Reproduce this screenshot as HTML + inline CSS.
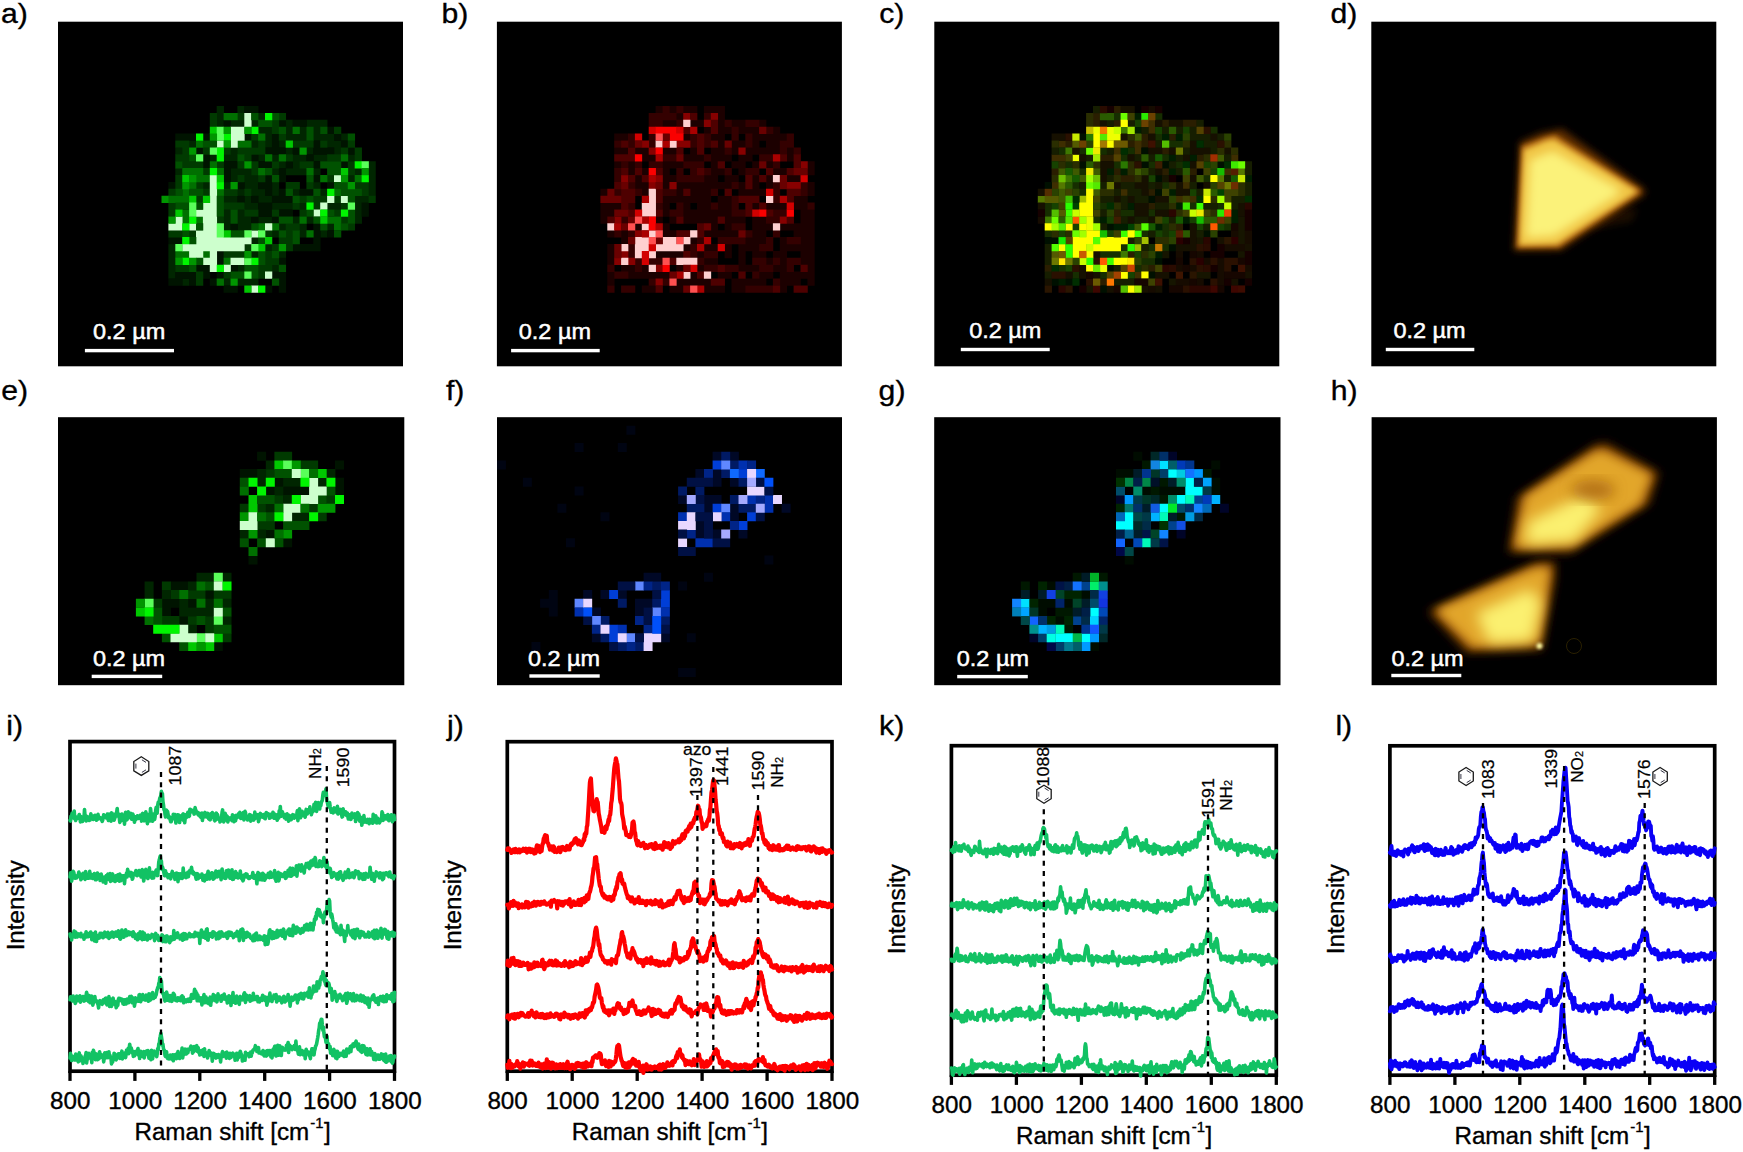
<!DOCTYPE html>
<html><head><meta charset="utf-8"><title>Figure</title>
<style>html,body{margin:0;padding:0;background:#fff}svg{display:block}</style></head>
<body>
<svg width="1743" height="1152" viewBox="0 0 1743 1152" font-family="'Liberation Sans', sans-serif">
<rect width="1743" height="1152" fill="#fff"/>
<defs>
<filter id="b1_5" x="-30%" y="-30%" width="160%" height="160%"><feGaussianBlur stdDeviation="1.5"/></filter>
<filter id="b2_5" x="-30%" y="-30%" width="160%" height="160%"><feGaussianBlur stdDeviation="2.5"/></filter>
<filter id="b3_5" x="-30%" y="-30%" width="160%" height="160%"><feGaussianBlur stdDeviation="3.5"/></filter>
<filter id="b5" x="-30%" y="-30%" width="160%" height="160%"><feGaussianBlur stdDeviation="5"/></filter>
<filter id="b7" x="-30%" y="-30%" width="160%" height="160%"><feGaussianBlur stdDeviation="7"/></filter>
</defs>
<rect x="58.0" y="21.7" width="345.0" height="344.6" fill="#000"/>
<rect x="496.9" y="21.7" width="345.0" height="344.6" fill="#000"/>
<rect x="934.3" y="21.7" width="345.0" height="344.6" fill="#000"/>
<rect x="1371.3" y="21.7" width="345.0" height="344.6" fill="#000"/>
<rect x="58.0" y="417.2" width="346.3" height="268.0" fill="#000"/>
<rect x="497.0" y="417.2" width="345.0" height="268.0" fill="#000"/>
<rect x="934.2" y="417.2" width="346.3" height="268.0" fill="#000"/>
<rect x="1371.6" y="417.2" width="345.3" height="268.0" fill="#000"/>
<path fill="#002600" d="M168.4 244.0h7.25v7.25h-7.25zM168.4 250.9h7.25v7.25h-7.25zM168.4 257.8h7.25v7.25h-7.25zM168.4 264.7h7.25v7.25h-7.25zM168.4 271.6h7.25v7.25h-7.25zM175.3 147.4h7.25v7.25h-7.25zM175.3 168.1h7.25v7.25h-7.25zM182.2 278.5h7.25v7.25h-7.25zM189.1 140.5h7.25v7.25h-7.25zM202.9 181.9h7.25v7.25h-7.25zM209.8 154.3h7.25v7.25h-7.25zM216.7 106.0h7.25v7.25h-7.25zM216.7 112.9h7.25v7.25h-7.25zM216.7 119.8h7.25v7.25h-7.25zM223.6 154.3h7.25v7.25h-7.25zM223.6 181.9h7.25v7.25h-7.25zM223.6 195.7h7.25v7.25h-7.25zM223.6 209.5h7.25v7.25h-7.25zM223.6 216.4h7.25v7.25h-7.25zM223.6 223.3h7.25v7.25h-7.25zM223.6 278.5h7.25v7.25h-7.25zM230.5 119.8h7.25v7.25h-7.25zM230.5 147.4h7.25v7.25h-7.25zM230.5 154.3h7.25v7.25h-7.25zM230.5 168.1h7.25v7.25h-7.25zM230.5 175.0h7.25v7.25h-7.25zM230.5 195.7h7.25v7.25h-7.25zM237.4 106.0h7.25v7.25h-7.25zM237.4 119.8h7.25v7.25h-7.25zM237.4 168.1h7.25v7.25h-7.25zM237.4 188.8h7.25v7.25h-7.25zM237.4 209.5h7.25v7.25h-7.25zM237.4 216.4h7.25v7.25h-7.25zM237.4 223.3h7.25v7.25h-7.25zM237.4 264.7h7.25v7.25h-7.25zM237.4 278.5h7.25v7.25h-7.25zM244.3 168.1h7.25v7.25h-7.25zM244.3 175.0h7.25v7.25h-7.25zM244.3 181.9h7.25v7.25h-7.25zM244.3 195.7h7.25v7.25h-7.25zM244.3 202.6h7.25v7.25h-7.25zM244.3 216.4h7.25v7.25h-7.25zM244.3 223.3h7.25v7.25h-7.25zM244.3 278.5h7.25v7.25h-7.25zM251.2 119.8h7.25v7.25h-7.25zM251.2 140.5h7.25v7.25h-7.25zM251.2 175.0h7.25v7.25h-7.25zM251.2 181.9h7.25v7.25h-7.25zM251.2 188.8h7.25v7.25h-7.25zM251.2 202.6h7.25v7.25h-7.25zM251.2 237.1h7.25v7.25h-7.25zM251.2 250.9h7.25v7.25h-7.25zM251.2 278.5h7.25v7.25h-7.25zM258.1 112.9h7.25v7.25h-7.25zM258.1 126.7h7.25v7.25h-7.25zM258.1 154.3h7.25v7.25h-7.25zM258.1 188.8h7.25v7.25h-7.25zM258.1 195.7h7.25v7.25h-7.25zM258.1 216.4h7.25v7.25h-7.25zM265.0 126.7h7.25v7.25h-7.25zM265.0 133.6h7.25v7.25h-7.25zM265.0 140.5h7.25v7.25h-7.25zM265.0 195.7h7.25v7.25h-7.25zM265.0 216.4h7.25v7.25h-7.25zM265.0 244.0h7.25v7.25h-7.25zM271.9 154.3h7.25v7.25h-7.25zM271.9 168.1h7.25v7.25h-7.25zM271.9 181.9h7.25v7.25h-7.25zM271.9 188.8h7.25v7.25h-7.25zM271.9 202.6h7.25v7.25h-7.25zM271.9 230.2h7.25v7.25h-7.25zM271.9 264.7h7.25v7.25h-7.25zM278.8 140.5h7.25v7.25h-7.25zM278.8 161.2h7.25v7.25h-7.25zM278.8 202.6h7.25v7.25h-7.25zM278.8 223.3h7.25v7.25h-7.25zM278.8 250.9h7.25v7.25h-7.25zM285.7 119.8h7.25v7.25h-7.25zM285.7 126.7h7.25v7.25h-7.25zM285.7 133.6h7.25v7.25h-7.25zM285.7 147.4h7.25v7.25h-7.25zM285.7 168.1h7.25v7.25h-7.25zM285.7 202.6h7.25v7.25h-7.25zM292.6 133.6h7.25v7.25h-7.25zM292.6 154.3h7.25v7.25h-7.25zM292.6 161.2h7.25v7.25h-7.25zM292.6 168.1h7.25v7.25h-7.25zM292.6 188.8h7.25v7.25h-7.25zM292.6 216.4h7.25v7.25h-7.25zM299.5 126.7h7.25v7.25h-7.25zM299.5 133.6h7.25v7.25h-7.25zM299.5 154.3h7.25v7.25h-7.25zM299.5 168.1h7.25v7.25h-7.25zM299.5 202.6h7.25v7.25h-7.25zM299.5 223.3h7.25v7.25h-7.25zM299.5 230.2h7.25v7.25h-7.25zM306.4 119.8h7.25v7.25h-7.25zM306.4 147.4h7.25v7.25h-7.25zM306.4 216.4h7.25v7.25h-7.25zM313.3 119.8h7.25v7.25h-7.25zM313.3 126.7h7.25v7.25h-7.25zM313.3 133.6h7.25v7.25h-7.25zM313.3 154.3h7.25v7.25h-7.25zM313.3 168.1h7.25v7.25h-7.25zM313.3 181.9h7.25v7.25h-7.25zM320.2 119.8h7.25v7.25h-7.25zM320.2 133.6h7.25v7.25h-7.25zM320.2 154.3h7.25v7.25h-7.25zM320.2 188.8h7.25v7.25h-7.25zM320.2 230.2h7.25v7.25h-7.25zM327.1 133.6h7.25v7.25h-7.25zM327.1 140.5h7.25v7.25h-7.25zM327.1 202.6h7.25v7.25h-7.25zM327.1 223.3h7.25v7.25h-7.25zM334.0 140.5h7.25v7.25h-7.25zM334.0 147.4h7.25v7.25h-7.25zM334.0 202.6h7.25v7.25h-7.25zM340.9 133.6h7.25v7.25h-7.25zM347.8 154.3h7.25v7.25h-7.25zM347.8 175.0h7.25v7.25h-7.25zM354.7 168.1h7.25v7.25h-7.25zM354.7 195.7h7.25v7.25h-7.25zM354.7 202.6h7.25v7.25h-7.25zM354.7 209.5h7.25v7.25h-7.25zM354.7 216.4h7.25v7.25h-7.25zM361.6 195.7h7.25v7.25h-7.25zM368.5 161.2h7.25v7.25h-7.25zM368.5 168.1h7.25v7.25h-7.25zM368.5 175.0h7.25v7.25h-7.25zM368.5 181.9h7.25v7.25h-7.25zM368.5 188.8h7.25v7.25h-7.25z"/>
<path fill="#001400" d="M168.4 181.9h7.25v7.25h-7.25zM168.4 237.1h7.25v7.25h-7.25zM168.4 278.5h7.25v7.25h-7.25zM175.3 133.6h7.25v7.25h-7.25zM175.3 237.1h7.25v7.25h-7.25zM175.3 271.6h7.25v7.25h-7.25zM175.3 278.5h7.25v7.25h-7.25zM182.2 133.6h7.25v7.25h-7.25zM182.2 271.6h7.25v7.25h-7.25zM189.1 133.6h7.25v7.25h-7.25zM189.1 271.6h7.25v7.25h-7.25zM189.1 278.5h7.25v7.25h-7.25zM196.0 147.4h7.25v7.25h-7.25zM196.0 264.7h7.25v7.25h-7.25zM202.9 133.6h7.25v7.25h-7.25zM202.9 154.3h7.25v7.25h-7.25zM202.9 161.2h7.25v7.25h-7.25zM202.9 264.7h7.25v7.25h-7.25zM202.9 271.6h7.25v7.25h-7.25zM209.8 278.5h7.25v7.25h-7.25zM216.7 250.9h7.25v7.25h-7.25zM216.7 257.8h7.25v7.25h-7.25zM216.7 271.6h7.25v7.25h-7.25zM223.6 119.8h7.25v7.25h-7.25zM223.6 161.2h7.25v7.25h-7.25zM223.6 168.1h7.25v7.25h-7.25zM223.6 175.0h7.25v7.25h-7.25zM223.6 285.4h7.25v7.25h-7.25zM230.5 161.2h7.25v7.25h-7.25zM230.5 223.3h7.25v7.25h-7.25zM230.5 264.7h7.25v7.25h-7.25zM230.5 285.4h7.25v7.25h-7.25zM237.4 181.9h7.25v7.25h-7.25zM237.4 195.7h7.25v7.25h-7.25zM244.3 106.0h7.25v7.25h-7.25zM244.3 133.6h7.25v7.25h-7.25zM251.2 106.0h7.25v7.25h-7.25zM251.2 154.3h7.25v7.25h-7.25zM251.2 195.7h7.25v7.25h-7.25zM251.2 216.4h7.25v7.25h-7.25zM258.1 161.2h7.25v7.25h-7.25zM258.1 181.9h7.25v7.25h-7.25zM258.1 202.6h7.25v7.25h-7.25zM258.1 209.5h7.25v7.25h-7.25zM265.0 147.4h7.25v7.25h-7.25zM265.0 161.2h7.25v7.25h-7.25zM265.0 175.0h7.25v7.25h-7.25zM265.0 181.9h7.25v7.25h-7.25zM265.0 188.8h7.25v7.25h-7.25zM265.0 202.6h7.25v7.25h-7.25zM265.0 209.5h7.25v7.25h-7.25zM265.0 285.4h7.25v7.25h-7.25zM271.9 133.6h7.25v7.25h-7.25zM271.9 140.5h7.25v7.25h-7.25zM271.9 147.4h7.25v7.25h-7.25zM271.9 195.7h7.25v7.25h-7.25zM271.9 216.4h7.25v7.25h-7.25zM271.9 271.6h7.25v7.25h-7.25zM278.8 119.8h7.25v7.25h-7.25zM278.8 147.4h7.25v7.25h-7.25zM278.8 168.1h7.25v7.25h-7.25zM278.8 175.0h7.25v7.25h-7.25zM278.8 188.8h7.25v7.25h-7.25zM278.8 195.7h7.25v7.25h-7.25zM278.8 209.5h7.25v7.25h-7.25zM278.8 257.8h7.25v7.25h-7.25zM278.8 271.6h7.25v7.25h-7.25zM278.8 278.5h7.25v7.25h-7.25zM278.8 285.4h7.25v7.25h-7.25zM285.7 161.2h7.25v7.25h-7.25zM285.7 195.7h7.25v7.25h-7.25zM285.7 209.5h7.25v7.25h-7.25zM292.6 119.8h7.25v7.25h-7.25zM292.6 147.4h7.25v7.25h-7.25zM292.6 244.0h7.25v7.25h-7.25zM299.5 119.8h7.25v7.25h-7.25zM299.5 188.8h7.25v7.25h-7.25zM299.5 244.0h7.25v7.25h-7.25zM306.4 154.3h7.25v7.25h-7.25zM306.4 188.8h7.25v7.25h-7.25zM306.4 244.0h7.25v7.25h-7.25zM313.3 140.5h7.25v7.25h-7.25zM313.3 147.4h7.25v7.25h-7.25zM313.3 161.2h7.25v7.25h-7.25zM313.3 175.0h7.25v7.25h-7.25zM313.3 223.3h7.25v7.25h-7.25zM313.3 230.2h7.25v7.25h-7.25zM313.3 237.1h7.25v7.25h-7.25zM313.3 244.0h7.25v7.25h-7.25zM320.2 147.4h7.25v7.25h-7.25zM327.1 126.7h7.25v7.25h-7.25zM327.1 147.4h7.25v7.25h-7.25zM327.1 181.9h7.25v7.25h-7.25zM327.1 230.2h7.25v7.25h-7.25zM334.0 133.6h7.25v7.25h-7.25zM340.9 140.5h7.25v7.25h-7.25zM340.9 161.2h7.25v7.25h-7.25zM347.8 147.4h7.25v7.25h-7.25zM361.6 202.6h7.25v7.25h-7.25zM361.6 209.5h7.25v7.25h-7.25z"/>
<path fill="#003a00" d="M168.4 188.8h7.25v7.25h-7.25zM168.4 202.6h7.25v7.25h-7.25zM168.4 209.5h7.25v7.25h-7.25zM168.4 230.2h7.25v7.25h-7.25zM175.3 140.5h7.25v7.25h-7.25zM175.3 154.3h7.25v7.25h-7.25zM175.3 175.0h7.25v7.25h-7.25zM175.3 181.9h7.25v7.25h-7.25zM175.3 230.2h7.25v7.25h-7.25zM175.3 264.7h7.25v7.25h-7.25zM182.2 140.5h7.25v7.25h-7.25zM182.2 147.4h7.25v7.25h-7.25zM182.2 154.3h7.25v7.25h-7.25zM182.2 161.2h7.25v7.25h-7.25zM182.2 264.7h7.25v7.25h-7.25zM189.1 161.2h7.25v7.25h-7.25zM189.1 230.2h7.25v7.25h-7.25zM196.0 161.2h7.25v7.25h-7.25zM196.0 181.9h7.25v7.25h-7.25zM196.0 195.7h7.25v7.25h-7.25zM196.0 271.6h7.25v7.25h-7.25zM196.0 278.5h7.25v7.25h-7.25zM202.9 147.4h7.25v7.25h-7.25zM202.9 168.1h7.25v7.25h-7.25zM202.9 188.8h7.25v7.25h-7.25zM209.8 112.9h7.25v7.25h-7.25zM209.8 119.8h7.25v7.25h-7.25zM216.7 161.2h7.25v7.25h-7.25zM216.7 216.4h7.25v7.25h-7.25zM223.6 147.4h7.25v7.25h-7.25zM223.6 188.8h7.25v7.25h-7.25zM223.6 202.6h7.25v7.25h-7.25zM223.6 250.9h7.25v7.25h-7.25zM223.6 271.6h7.25v7.25h-7.25zM230.5 188.8h7.25v7.25h-7.25zM230.5 202.6h7.25v7.25h-7.25zM230.5 250.9h7.25v7.25h-7.25zM237.4 112.9h7.25v7.25h-7.25zM237.4 147.4h7.25v7.25h-7.25zM237.4 161.2h7.25v7.25h-7.25zM237.4 175.0h7.25v7.25h-7.25zM237.4 202.6h7.25v7.25h-7.25zM237.4 250.9h7.25v7.25h-7.25zM244.3 147.4h7.25v7.25h-7.25zM244.3 154.3h7.25v7.25h-7.25zM244.3 188.8h7.25v7.25h-7.25zM244.3 209.5h7.25v7.25h-7.25zM244.3 244.0h7.25v7.25h-7.25zM251.2 133.6h7.25v7.25h-7.25zM251.2 147.4h7.25v7.25h-7.25zM251.2 161.2h7.25v7.25h-7.25zM251.2 168.1h7.25v7.25h-7.25zM251.2 209.5h7.25v7.25h-7.25zM258.1 140.5h7.25v7.25h-7.25zM258.1 147.4h7.25v7.25h-7.25zM258.1 175.0h7.25v7.25h-7.25zM258.1 264.7h7.25v7.25h-7.25zM258.1 271.6h7.25v7.25h-7.25zM265.0 230.2h7.25v7.25h-7.25zM265.0 250.9h7.25v7.25h-7.25zM265.0 257.8h7.25v7.25h-7.25zM265.0 264.7h7.25v7.25h-7.25zM271.9 119.8h7.25v7.25h-7.25zM271.9 126.7h7.25v7.25h-7.25zM271.9 161.2h7.25v7.25h-7.25zM271.9 209.5h7.25v7.25h-7.25zM271.9 244.0h7.25v7.25h-7.25zM271.9 257.8h7.25v7.25h-7.25zM278.8 112.9h7.25v7.25h-7.25zM278.8 133.6h7.25v7.25h-7.25zM278.8 237.1h7.25v7.25h-7.25zM285.7 154.3h7.25v7.25h-7.25zM285.7 181.9h7.25v7.25h-7.25zM285.7 223.3h7.25v7.25h-7.25zM285.7 230.2h7.25v7.25h-7.25zM285.7 237.1h7.25v7.25h-7.25zM285.7 244.0h7.25v7.25h-7.25zM292.6 140.5h7.25v7.25h-7.25zM292.6 181.9h7.25v7.25h-7.25zM292.6 202.6h7.25v7.25h-7.25zM292.6 223.3h7.25v7.25h-7.25zM299.5 140.5h7.25v7.25h-7.25zM299.5 161.2h7.25v7.25h-7.25zM299.5 195.7h7.25v7.25h-7.25zM299.5 209.5h7.25v7.25h-7.25zM306.4 140.5h7.25v7.25h-7.25zM306.4 161.2h7.25v7.25h-7.25zM306.4 181.9h7.25v7.25h-7.25zM313.3 195.7h7.25v7.25h-7.25zM313.3 202.6h7.25v7.25h-7.25zM320.2 140.5h7.25v7.25h-7.25zM320.2 195.7h7.25v7.25h-7.25zM327.1 154.3h7.25v7.25h-7.25zM327.1 175.0h7.25v7.25h-7.25zM334.0 126.7h7.25v7.25h-7.25zM334.0 154.3h7.25v7.25h-7.25zM334.0 195.7h7.25v7.25h-7.25zM334.0 209.5h7.25v7.25h-7.25zM340.9 147.4h7.25v7.25h-7.25zM340.9 202.6h7.25v7.25h-7.25zM340.9 216.4h7.25v7.25h-7.25zM347.8 140.5h7.25v7.25h-7.25zM347.8 161.2h7.25v7.25h-7.25zM347.8 168.1h7.25v7.25h-7.25zM347.8 223.3h7.25v7.25h-7.25zM354.7 147.4h7.25v7.25h-7.25zM354.7 154.3h7.25v7.25h-7.25zM354.7 181.9h7.25v7.25h-7.25zM361.6 181.9h7.25v7.25h-7.25zM361.6 188.8h7.25v7.25h-7.25zM368.5 195.7h7.25v7.25h-7.25z"/>
<path fill="#007000" d="M168.4 195.7h7.25v7.25h-7.25zM175.3 195.7h7.25v7.25h-7.25zM175.3 250.9h7.25v7.25h-7.25zM182.2 168.1h7.25v7.25h-7.25zM182.2 188.8h7.25v7.25h-7.25zM182.2 195.7h7.25v7.25h-7.25zM182.2 209.5h7.25v7.25h-7.25zM182.2 216.4h7.25v7.25h-7.25zM182.2 250.9h7.25v7.25h-7.25zM189.1 168.1h7.25v7.25h-7.25zM189.1 181.9h7.25v7.25h-7.25zM196.0 140.5h7.25v7.25h-7.25zM196.0 168.1h7.25v7.25h-7.25zM196.0 175.0h7.25v7.25h-7.25zM196.0 216.4h7.25v7.25h-7.25zM202.9 175.0h7.25v7.25h-7.25zM202.9 250.9h7.25v7.25h-7.25zM209.8 161.2h7.25v7.25h-7.25zM216.7 168.1h7.25v7.25h-7.25zM216.7 188.8h7.25v7.25h-7.25zM216.7 278.5h7.25v7.25h-7.25zM223.6 112.9h7.25v7.25h-7.25zM223.6 257.8h7.25v7.25h-7.25zM230.5 112.9h7.25v7.25h-7.25zM237.4 140.5h7.25v7.25h-7.25zM244.3 140.5h7.25v7.25h-7.25zM258.1 133.6h7.25v7.25h-7.25zM258.1 168.1h7.25v7.25h-7.25zM258.1 223.3h7.25v7.25h-7.25zM265.0 154.3h7.25v7.25h-7.25zM271.9 223.3h7.25v7.25h-7.25zM278.8 154.3h7.25v7.25h-7.25zM292.6 126.7h7.25v7.25h-7.25zM299.5 216.4h7.25v7.25h-7.25zM306.4 168.1h7.25v7.25h-7.25zM306.4 230.2h7.25v7.25h-7.25zM320.2 175.0h7.25v7.25h-7.25zM327.1 216.4h7.25v7.25h-7.25zM334.0 188.8h7.25v7.25h-7.25zM334.0 216.4h7.25v7.25h-7.25zM334.0 223.3h7.25v7.25h-7.25zM340.9 154.3h7.25v7.25h-7.25zM354.7 175.0h7.25v7.25h-7.25z"/>
<path fill="#cdffcd" d="M168.4 223.3h7.25v7.25h-7.25zM175.3 216.4h7.25v7.25h-7.25zM175.3 223.3h7.25v7.25h-7.25zM182.2 244.0h7.25v7.25h-7.25zM189.1 223.3h7.25v7.25h-7.25zM189.1 244.0h7.25v7.25h-7.25zM189.1 250.9h7.25v7.25h-7.25zM196.0 209.5h7.25v7.25h-7.25zM196.0 230.2h7.25v7.25h-7.25zM196.0 237.1h7.25v7.25h-7.25zM196.0 244.0h7.25v7.25h-7.25zM196.0 250.9h7.25v7.25h-7.25zM202.9 202.6h7.25v7.25h-7.25zM202.9 209.5h7.25v7.25h-7.25zM202.9 216.4h7.25v7.25h-7.25zM202.9 223.3h7.25v7.25h-7.25zM202.9 230.2h7.25v7.25h-7.25zM202.9 237.1h7.25v7.25h-7.25zM202.9 244.0h7.25v7.25h-7.25zM202.9 257.8h7.25v7.25h-7.25zM209.8 175.0h7.25v7.25h-7.25zM209.8 181.9h7.25v7.25h-7.25zM209.8 188.8h7.25v7.25h-7.25zM209.8 195.7h7.25v7.25h-7.25zM209.8 202.6h7.25v7.25h-7.25zM209.8 209.5h7.25v7.25h-7.25zM209.8 216.4h7.25v7.25h-7.25zM209.8 223.3h7.25v7.25h-7.25zM209.8 230.2h7.25v7.25h-7.25zM209.8 237.1h7.25v7.25h-7.25zM209.8 244.0h7.25v7.25h-7.25zM209.8 250.9h7.25v7.25h-7.25zM209.8 257.8h7.25v7.25h-7.25zM209.8 264.7h7.25v7.25h-7.25zM216.7 140.5h7.25v7.25h-7.25zM216.7 237.1h7.25v7.25h-7.25zM216.7 244.0h7.25v7.25h-7.25zM223.6 237.1h7.25v7.25h-7.25zM223.6 244.0h7.25v7.25h-7.25zM223.6 264.7h7.25v7.25h-7.25zM230.5 126.7h7.25v7.25h-7.25zM230.5 133.6h7.25v7.25h-7.25zM230.5 140.5h7.25v7.25h-7.25zM230.5 237.1h7.25v7.25h-7.25zM230.5 244.0h7.25v7.25h-7.25zM230.5 257.8h7.25v7.25h-7.25zM237.4 126.7h7.25v7.25h-7.25zM237.4 133.6h7.25v7.25h-7.25zM237.4 237.1h7.25v7.25h-7.25zM237.4 244.0h7.25v7.25h-7.25zM237.4 257.8h7.25v7.25h-7.25zM244.3 112.9h7.25v7.25h-7.25zM244.3 119.8h7.25v7.25h-7.25zM244.3 237.1h7.25v7.25h-7.25zM251.2 230.2h7.25v7.25h-7.25zM251.2 285.4h7.25v7.25h-7.25zM265.0 223.3h7.25v7.25h-7.25zM265.0 271.6h7.25v7.25h-7.25zM313.3 209.5h7.25v7.25h-7.25zM320.2 202.6h7.25v7.25h-7.25zM327.1 195.7h7.25v7.25h-7.25zM334.0 175.0h7.25v7.25h-7.25zM340.9 195.7h7.25v7.25h-7.25z"/>
<path fill="#005200" d="M175.3 161.2h7.25v7.25h-7.25zM175.3 188.8h7.25v7.25h-7.25zM175.3 202.6h7.25v7.25h-7.25zM182.2 202.6h7.25v7.25h-7.25zM182.2 230.2h7.25v7.25h-7.25zM189.1 154.3h7.25v7.25h-7.25zM189.1 188.8h7.25v7.25h-7.25zM189.1 237.1h7.25v7.25h-7.25zM189.1 264.7h7.25v7.25h-7.25zM196.0 188.8h7.25v7.25h-7.25zM196.0 202.6h7.25v7.25h-7.25zM196.0 223.3h7.25v7.25h-7.25zM196.0 257.8h7.25v7.25h-7.25zM202.9 140.5h7.25v7.25h-7.25zM209.8 140.5h7.25v7.25h-7.25zM216.7 195.7h7.25v7.25h-7.25zM216.7 202.6h7.25v7.25h-7.25zM216.7 209.5h7.25v7.25h-7.25zM230.5 209.5h7.25v7.25h-7.25zM230.5 216.4h7.25v7.25h-7.25zM230.5 230.2h7.25v7.25h-7.25zM230.5 271.6h7.25v7.25h-7.25zM237.4 154.3h7.25v7.25h-7.25zM237.4 230.2h7.25v7.25h-7.25zM237.4 271.6h7.25v7.25h-7.25zM244.3 264.7h7.25v7.25h-7.25zM251.2 112.9h7.25v7.25h-7.25zM251.2 223.3h7.25v7.25h-7.25zM251.2 264.7h7.25v7.25h-7.25zM251.2 271.6h7.25v7.25h-7.25zM258.1 119.8h7.25v7.25h-7.25zM258.1 237.1h7.25v7.25h-7.25zM258.1 250.9h7.25v7.25h-7.25zM258.1 257.8h7.25v7.25h-7.25zM265.0 119.8h7.25v7.25h-7.25zM265.0 168.1h7.25v7.25h-7.25zM271.9 112.9h7.25v7.25h-7.25zM271.9 175.0h7.25v7.25h-7.25zM271.9 250.9h7.25v7.25h-7.25zM271.9 278.5h7.25v7.25h-7.25zM278.8 126.7h7.25v7.25h-7.25zM278.8 216.4h7.25v7.25h-7.25zM278.8 230.2h7.25v7.25h-7.25zM278.8 264.7h7.25v7.25h-7.25zM285.7 188.8h7.25v7.25h-7.25zM285.7 216.4h7.25v7.25h-7.25zM292.6 195.7h7.25v7.25h-7.25zM292.6 230.2h7.25v7.25h-7.25zM292.6 237.1h7.25v7.25h-7.25zM306.4 126.7h7.25v7.25h-7.25zM306.4 133.6h7.25v7.25h-7.25zM306.4 175.0h7.25v7.25h-7.25zM306.4 195.7h7.25v7.25h-7.25zM306.4 209.5h7.25v7.25h-7.25zM313.3 188.8h7.25v7.25h-7.25zM313.3 216.4h7.25v7.25h-7.25zM320.2 126.7h7.25v7.25h-7.25zM320.2 161.2h7.25v7.25h-7.25zM320.2 223.3h7.25v7.25h-7.25zM327.1 161.2h7.25v7.25h-7.25zM327.1 168.1h7.25v7.25h-7.25zM327.1 209.5h7.25v7.25h-7.25zM334.0 161.2h7.25v7.25h-7.25zM334.0 168.1h7.25v7.25h-7.25zM334.0 181.9h7.25v7.25h-7.25zM334.0 230.2h7.25v7.25h-7.25zM340.9 181.9h7.25v7.25h-7.25zM340.9 188.8h7.25v7.25h-7.25zM340.9 223.3h7.25v7.25h-7.25zM347.8 133.6h7.25v7.25h-7.25zM347.8 188.8h7.25v7.25h-7.25zM347.8 195.7h7.25v7.25h-7.25zM347.8 209.5h7.25v7.25h-7.25zM347.8 216.4h7.25v7.25h-7.25zM354.7 188.8h7.25v7.25h-7.25z"/>
<path fill="#00f500" d="M182.2 223.3h7.25v7.25h-7.25zM182.2 237.1h7.25v7.25h-7.25zM182.2 257.8h7.25v7.25h-7.25zM189.1 216.4h7.25v7.25h-7.25zM196.0 133.6h7.25v7.25h-7.25zM209.8 168.1h7.25v7.25h-7.25zM216.7 147.4h7.25v7.25h-7.25zM216.7 154.3h7.25v7.25h-7.25zM216.7 181.9h7.25v7.25h-7.25zM216.7 264.7h7.25v7.25h-7.25zM223.6 133.6h7.25v7.25h-7.25zM251.2 126.7h7.25v7.25h-7.25zM251.2 257.8h7.25v7.25h-7.25zM258.1 285.4h7.25v7.25h-7.25zM265.0 112.9h7.25v7.25h-7.25zM306.4 202.6h7.25v7.25h-7.25zM320.2 209.5h7.25v7.25h-7.25zM327.1 188.8h7.25v7.25h-7.25zM340.9 209.5h7.25v7.25h-7.25zM354.7 161.2h7.25v7.25h-7.25zM361.6 175.0h7.25v7.25h-7.25z"/>
<path fill="#00c800" d="M175.3 209.5h7.25v7.25h-7.25zM182.2 175.0h7.25v7.25h-7.25zM189.1 195.7h7.25v7.25h-7.25zM202.9 195.7h7.25v7.25h-7.25zM209.8 126.7h7.25v7.25h-7.25zM216.7 175.0h7.25v7.25h-7.25zM223.6 230.2h7.25v7.25h-7.25zM244.3 285.4h7.25v7.25h-7.25zM258.1 244.0h7.25v7.25h-7.25zM265.0 237.1h7.25v7.25h-7.25zM285.7 140.5h7.25v7.25h-7.25zM320.2 216.4h7.25v7.25h-7.25zM340.9 168.1h7.25v7.25h-7.25z"/>
<path fill="#5aff5a" d="M175.3 244.0h7.25v7.25h-7.25zM189.1 202.6h7.25v7.25h-7.25zM189.1 209.5h7.25v7.25h-7.25zM196.0 154.3h7.25v7.25h-7.25zM209.8 147.4h7.25v7.25h-7.25zM216.7 126.7h7.25v7.25h-7.25zM216.7 133.6h7.25v7.25h-7.25zM216.7 223.3h7.25v7.25h-7.25zM216.7 230.2h7.25v7.25h-7.25zM244.3 230.2h7.25v7.25h-7.25zM244.3 257.8h7.25v7.25h-7.25zM244.3 271.6h7.25v7.25h-7.25zM251.2 244.0h7.25v7.25h-7.25zM258.1 230.2h7.25v7.25h-7.25zM347.8 202.6h7.25v7.25h-7.25zM361.6 161.2h7.25v7.25h-7.25z"/>
<path fill="#009600" d="M161.5 195.7h7.25v7.25h-7.25zM168.4 216.4h7.25v7.25h-7.25zM175.3 257.8h7.25v7.25h-7.25zM182.2 181.9h7.25v7.25h-7.25zM189.1 147.4h7.25v7.25h-7.25zM189.1 175.0h7.25v7.25h-7.25zM189.1 257.8h7.25v7.25h-7.25zM209.8 133.6h7.25v7.25h-7.25zM223.6 126.7h7.25v7.25h-7.25zM223.6 140.5h7.25v7.25h-7.25zM230.5 181.9h7.25v7.25h-7.25zM230.5 278.5h7.25v7.25h-7.25zM244.3 126.7h7.25v7.25h-7.25zM244.3 161.2h7.25v7.25h-7.25zM244.3 250.9h7.25v7.25h-7.25zM278.8 244.0h7.25v7.25h-7.25zM299.5 147.4h7.25v7.25h-7.25zM340.9 175.0h7.25v7.25h-7.25zM347.8 181.9h7.25v7.25h-7.25zM361.6 168.1h7.25v7.25h-7.25z"/>
<path fill="#1c0000" d="M600.4 188.8h7.25v7.25h-7.25zM600.4 202.6h7.25v7.25h-7.25zM600.4 209.5h7.25v7.25h-7.25zM600.4 216.4h7.25v7.25h-7.25zM607.3 202.6h7.25v7.25h-7.25zM607.3 209.5h7.25v7.25h-7.25zM607.3 230.2h7.25v7.25h-7.25zM607.3 244.0h7.25v7.25h-7.25zM607.3 250.9h7.25v7.25h-7.25zM607.3 257.8h7.25v7.25h-7.25zM607.3 271.6h7.25v7.25h-7.25zM607.3 278.5h7.25v7.25h-7.25zM614.2 133.6h7.25v7.25h-7.25zM614.2 147.4h7.25v7.25h-7.25zM614.2 161.2h7.25v7.25h-7.25zM614.2 202.6h7.25v7.25h-7.25zM621.1 133.6h7.25v7.25h-7.25zM621.1 147.4h7.25v7.25h-7.25zM621.1 230.2h7.25v7.25h-7.25zM621.1 237.1h7.25v7.25h-7.25zM621.1 264.7h7.25v7.25h-7.25zM628.0 161.2h7.25v7.25h-7.25zM628.0 168.1h7.25v7.25h-7.25zM628.0 264.7h7.25v7.25h-7.25zM628.0 271.6h7.25v7.25h-7.25zM634.9 147.4h7.25v7.25h-7.25zM634.9 175.0h7.25v7.25h-7.25zM634.9 181.9h7.25v7.25h-7.25zM634.9 223.3h7.25v7.25h-7.25zM634.9 271.6h7.25v7.25h-7.25zM641.8 147.4h7.25v7.25h-7.25zM641.8 154.3h7.25v7.25h-7.25zM641.8 168.1h7.25v7.25h-7.25zM641.8 181.9h7.25v7.25h-7.25zM641.8 188.8h7.25v7.25h-7.25zM641.8 264.7h7.25v7.25h-7.25zM641.8 271.6h7.25v7.25h-7.25zM641.8 285.4h7.25v7.25h-7.25zM648.7 154.3h7.25v7.25h-7.25zM648.7 271.6h7.25v7.25h-7.25zM648.7 285.4h7.25v7.25h-7.25zM655.6 106.0h7.25v7.25h-7.25zM655.6 216.4h7.25v7.25h-7.25zM655.6 250.9h7.25v7.25h-7.25zM655.6 271.6h7.25v7.25h-7.25zM662.5 119.8h7.25v7.25h-7.25zM662.5 147.4h7.25v7.25h-7.25zM662.5 161.2h7.25v7.25h-7.25zM662.5 168.1h7.25v7.25h-7.25zM662.5 175.0h7.25v7.25h-7.25zM662.5 181.9h7.25v7.25h-7.25zM662.5 195.7h7.25v7.25h-7.25zM662.5 202.6h7.25v7.25h-7.25zM662.5 209.5h7.25v7.25h-7.25zM662.5 223.3h7.25v7.25h-7.25zM662.5 230.2h7.25v7.25h-7.25zM662.5 250.9h7.25v7.25h-7.25zM662.5 271.6h7.25v7.25h-7.25zM669.4 106.0h7.25v7.25h-7.25zM669.4 119.8h7.25v7.25h-7.25zM669.4 147.4h7.25v7.25h-7.25zM669.4 161.2h7.25v7.25h-7.25zM669.4 175.0h7.25v7.25h-7.25zM669.4 195.7h7.25v7.25h-7.25zM669.4 216.4h7.25v7.25h-7.25zM669.4 230.2h7.25v7.25h-7.25zM669.4 250.9h7.25v7.25h-7.25zM669.4 285.4h7.25v7.25h-7.25zM676.3 112.9h7.25v7.25h-7.25zM676.3 161.2h7.25v7.25h-7.25zM676.3 181.9h7.25v7.25h-7.25zM676.3 188.8h7.25v7.25h-7.25zM676.3 195.7h7.25v7.25h-7.25zM676.3 250.9h7.25v7.25h-7.25zM676.3 264.7h7.25v7.25h-7.25zM676.3 278.5h7.25v7.25h-7.25zM676.3 285.4h7.25v7.25h-7.25zM683.2 106.0h7.25v7.25h-7.25zM683.2 133.6h7.25v7.25h-7.25zM683.2 154.3h7.25v7.25h-7.25zM683.2 181.9h7.25v7.25h-7.25zM683.2 195.7h7.25v7.25h-7.25zM683.2 202.6h7.25v7.25h-7.25zM683.2 209.5h7.25v7.25h-7.25zM683.2 216.4h7.25v7.25h-7.25zM683.2 244.0h7.25v7.25h-7.25zM683.2 278.5h7.25v7.25h-7.25zM690.1 106.0h7.25v7.25h-7.25zM690.1 119.8h7.25v7.25h-7.25zM690.1 147.4h7.25v7.25h-7.25zM690.1 154.3h7.25v7.25h-7.25zM690.1 181.9h7.25v7.25h-7.25zM690.1 188.8h7.25v7.25h-7.25zM690.1 195.7h7.25v7.25h-7.25zM690.1 209.5h7.25v7.25h-7.25zM690.1 216.4h7.25v7.25h-7.25zM690.1 237.1h7.25v7.25h-7.25zM690.1 271.6h7.25v7.25h-7.25zM690.1 278.5h7.25v7.25h-7.25zM697.0 119.8h7.25v7.25h-7.25zM697.0 154.3h7.25v7.25h-7.25zM697.0 181.9h7.25v7.25h-7.25zM697.0 188.8h7.25v7.25h-7.25zM697.0 195.7h7.25v7.25h-7.25zM697.0 202.6h7.25v7.25h-7.25zM697.0 209.5h7.25v7.25h-7.25zM697.0 216.4h7.25v7.25h-7.25zM697.0 250.9h7.25v7.25h-7.25zM697.0 264.7h7.25v7.25h-7.25zM697.0 278.5h7.25v7.25h-7.25zM703.9 106.0h7.25v7.25h-7.25zM703.9 126.7h7.25v7.25h-7.25zM703.9 175.0h7.25v7.25h-7.25zM703.9 181.9h7.25v7.25h-7.25zM703.9 188.8h7.25v7.25h-7.25zM703.9 195.7h7.25v7.25h-7.25zM703.9 202.6h7.25v7.25h-7.25zM703.9 209.5h7.25v7.25h-7.25zM703.9 216.4h7.25v7.25h-7.25zM703.9 230.2h7.25v7.25h-7.25zM703.9 244.0h7.25v7.25h-7.25zM703.9 257.8h7.25v7.25h-7.25zM703.9 278.5h7.25v7.25h-7.25zM703.9 285.4h7.25v7.25h-7.25zM710.8 106.0h7.25v7.25h-7.25zM710.8 133.6h7.25v7.25h-7.25zM710.8 147.4h7.25v7.25h-7.25zM710.8 154.3h7.25v7.25h-7.25zM710.8 161.2h7.25v7.25h-7.25zM710.8 168.1h7.25v7.25h-7.25zM710.8 175.0h7.25v7.25h-7.25zM710.8 181.9h7.25v7.25h-7.25zM710.8 209.5h7.25v7.25h-7.25zM710.8 216.4h7.25v7.25h-7.25zM710.8 223.3h7.25v7.25h-7.25zM710.8 230.2h7.25v7.25h-7.25zM710.8 244.0h7.25v7.25h-7.25zM710.8 257.8h7.25v7.25h-7.25zM710.8 285.4h7.25v7.25h-7.25zM717.7 106.0h7.25v7.25h-7.25zM717.7 112.9h7.25v7.25h-7.25zM717.7 119.8h7.25v7.25h-7.25zM717.7 126.7h7.25v7.25h-7.25zM717.7 133.6h7.25v7.25h-7.25zM717.7 140.5h7.25v7.25h-7.25zM717.7 147.4h7.25v7.25h-7.25zM717.7 154.3h7.25v7.25h-7.25zM717.7 168.1h7.25v7.25h-7.25zM717.7 181.9h7.25v7.25h-7.25zM717.7 195.7h7.25v7.25h-7.25zM717.7 202.6h7.25v7.25h-7.25zM717.7 209.5h7.25v7.25h-7.25zM717.7 230.2h7.25v7.25h-7.25zM717.7 271.6h7.25v7.25h-7.25zM717.7 285.4h7.25v7.25h-7.25zM724.6 126.7h7.25v7.25h-7.25zM724.6 154.3h7.25v7.25h-7.25zM724.6 175.0h7.25v7.25h-7.25zM724.6 181.9h7.25v7.25h-7.25zM724.6 195.7h7.25v7.25h-7.25zM724.6 202.6h7.25v7.25h-7.25zM724.6 209.5h7.25v7.25h-7.25zM724.6 216.4h7.25v7.25h-7.25zM724.6 223.3h7.25v7.25h-7.25zM724.6 230.2h7.25v7.25h-7.25zM724.6 244.0h7.25v7.25h-7.25zM724.6 250.9h7.25v7.25h-7.25zM724.6 271.6h7.25v7.25h-7.25zM731.5 119.8h7.25v7.25h-7.25zM731.5 140.5h7.25v7.25h-7.25zM731.5 147.4h7.25v7.25h-7.25zM731.5 161.2h7.25v7.25h-7.25zM731.5 175.0h7.25v7.25h-7.25zM731.5 216.4h7.25v7.25h-7.25zM731.5 230.2h7.25v7.25h-7.25zM731.5 278.5h7.25v7.25h-7.25zM731.5 285.4h7.25v7.25h-7.25zM738.4 119.8h7.25v7.25h-7.25zM738.4 126.7h7.25v7.25h-7.25zM738.4 140.5h7.25v7.25h-7.25zM738.4 154.3h7.25v7.25h-7.25zM738.4 161.2h7.25v7.25h-7.25zM738.4 168.1h7.25v7.25h-7.25zM738.4 181.9h7.25v7.25h-7.25zM738.4 188.8h7.25v7.25h-7.25zM738.4 216.4h7.25v7.25h-7.25zM738.4 244.0h7.25v7.25h-7.25zM738.4 250.9h7.25v7.25h-7.25zM738.4 257.8h7.25v7.25h-7.25zM738.4 264.7h7.25v7.25h-7.25zM738.4 278.5h7.25v7.25h-7.25zM738.4 285.4h7.25v7.25h-7.25zM745.3 126.7h7.25v7.25h-7.25zM745.3 147.4h7.25v7.25h-7.25zM745.3 154.3h7.25v7.25h-7.25zM745.3 188.8h7.25v7.25h-7.25zM745.3 237.1h7.25v7.25h-7.25zM745.3 244.0h7.25v7.25h-7.25zM745.3 264.7h7.25v7.25h-7.25zM745.3 278.5h7.25v7.25h-7.25zM752.2 126.7h7.25v7.25h-7.25zM752.2 133.6h7.25v7.25h-7.25zM752.2 140.5h7.25v7.25h-7.25zM752.2 147.4h7.25v7.25h-7.25zM752.2 161.2h7.25v7.25h-7.25zM752.2 175.0h7.25v7.25h-7.25zM752.2 181.9h7.25v7.25h-7.25zM752.2 188.8h7.25v7.25h-7.25zM752.2 202.6h7.25v7.25h-7.25zM752.2 216.4h7.25v7.25h-7.25zM752.2 223.3h7.25v7.25h-7.25zM752.2 230.2h7.25v7.25h-7.25zM752.2 237.1h7.25v7.25h-7.25zM752.2 244.0h7.25v7.25h-7.25zM752.2 250.9h7.25v7.25h-7.25zM752.2 264.7h7.25v7.25h-7.25zM752.2 278.5h7.25v7.25h-7.25zM759.1 119.8h7.25v7.25h-7.25zM759.1 133.6h7.25v7.25h-7.25zM759.1 147.4h7.25v7.25h-7.25zM759.1 188.8h7.25v7.25h-7.25zM759.1 216.4h7.25v7.25h-7.25zM759.1 223.3h7.25v7.25h-7.25zM759.1 230.2h7.25v7.25h-7.25zM759.1 237.1h7.25v7.25h-7.25zM759.1 250.9h7.25v7.25h-7.25zM759.1 271.6h7.25v7.25h-7.25zM759.1 278.5h7.25v7.25h-7.25zM766.0 133.6h7.25v7.25h-7.25zM766.0 140.5h7.25v7.25h-7.25zM766.0 147.4h7.25v7.25h-7.25zM766.0 161.2h7.25v7.25h-7.25zM766.0 175.0h7.25v7.25h-7.25zM766.0 181.9h7.25v7.25h-7.25zM766.0 202.6h7.25v7.25h-7.25zM766.0 223.3h7.25v7.25h-7.25zM766.0 257.8h7.25v7.25h-7.25zM766.0 271.6h7.25v7.25h-7.25zM772.9 126.7h7.25v7.25h-7.25zM772.9 133.6h7.25v7.25h-7.25zM772.9 140.5h7.25v7.25h-7.25zM772.9 147.4h7.25v7.25h-7.25zM772.9 168.1h7.25v7.25h-7.25zM772.9 202.6h7.25v7.25h-7.25zM772.9 250.9h7.25v7.25h-7.25zM772.9 264.7h7.25v7.25h-7.25zM779.8 133.6h7.25v7.25h-7.25zM779.8 168.1h7.25v7.25h-7.25zM779.8 202.6h7.25v7.25h-7.25zM779.8 223.3h7.25v7.25h-7.25zM779.8 237.1h7.25v7.25h-7.25zM779.8 244.0h7.25v7.25h-7.25zM779.8 250.9h7.25v7.25h-7.25zM779.8 257.8h7.25v7.25h-7.25zM779.8 264.7h7.25v7.25h-7.25zM779.8 271.6h7.25v7.25h-7.25zM779.8 278.5h7.25v7.25h-7.25zM779.8 285.4h7.25v7.25h-7.25zM786.7 147.4h7.25v7.25h-7.25zM786.7 154.3h7.25v7.25h-7.25zM786.7 175.0h7.25v7.25h-7.25zM786.7 223.3h7.25v7.25h-7.25zM786.7 244.0h7.25v7.25h-7.25zM786.7 271.6h7.25v7.25h-7.25zM786.7 278.5h7.25v7.25h-7.25zM793.6 175.0h7.25v7.25h-7.25zM793.6 195.7h7.25v7.25h-7.25zM793.6 202.6h7.25v7.25h-7.25zM793.6 223.3h7.25v7.25h-7.25zM793.6 230.2h7.25v7.25h-7.25zM793.6 244.0h7.25v7.25h-7.25zM793.6 271.6h7.25v7.25h-7.25zM793.6 278.5h7.25v7.25h-7.25zM800.5 195.7h7.25v7.25h-7.25zM800.5 202.6h7.25v7.25h-7.25zM800.5 209.5h7.25v7.25h-7.25zM800.5 216.4h7.25v7.25h-7.25zM800.5 223.3h7.25v7.25h-7.25zM800.5 230.2h7.25v7.25h-7.25zM800.5 237.1h7.25v7.25h-7.25zM800.5 244.0h7.25v7.25h-7.25zM800.5 250.9h7.25v7.25h-7.25zM800.5 257.8h7.25v7.25h-7.25zM800.5 271.6h7.25v7.25h-7.25zM807.4 161.2h7.25v7.25h-7.25zM807.4 168.1h7.25v7.25h-7.25zM807.4 181.9h7.25v7.25h-7.25zM807.4 188.8h7.25v7.25h-7.25zM807.4 209.5h7.25v7.25h-7.25zM807.4 216.4h7.25v7.25h-7.25zM807.4 223.3h7.25v7.25h-7.25zM807.4 230.2h7.25v7.25h-7.25zM807.4 237.1h7.25v7.25h-7.25zM807.4 244.0h7.25v7.25h-7.25zM807.4 250.9h7.25v7.25h-7.25zM807.4 257.8h7.25v7.25h-7.25zM807.4 264.7h7.25v7.25h-7.25zM807.4 271.6h7.25v7.25h-7.25zM807.4 278.5h7.25v7.25h-7.25z"/>
<path fill="#340000" d="M607.3 264.7h7.25v7.25h-7.25zM607.3 285.4h7.25v7.25h-7.25zM614.2 140.5h7.25v7.25h-7.25zM614.2 168.1h7.25v7.25h-7.25zM614.2 175.0h7.25v7.25h-7.25zM614.2 188.8h7.25v7.25h-7.25zM614.2 230.2h7.25v7.25h-7.25zM614.2 271.6h7.25v7.25h-7.25zM621.1 161.2h7.25v7.25h-7.25zM621.1 216.4h7.25v7.25h-7.25zM621.1 271.6h7.25v7.25h-7.25zM621.1 285.4h7.25v7.25h-7.25zM628.0 133.6h7.25v7.25h-7.25zM628.0 140.5h7.25v7.25h-7.25zM628.0 181.9h7.25v7.25h-7.25zM628.0 202.6h7.25v7.25h-7.25zM628.0 230.2h7.25v7.25h-7.25zM628.0 244.0h7.25v7.25h-7.25zM628.0 250.9h7.25v7.25h-7.25zM628.0 285.4h7.25v7.25h-7.25zM634.9 161.2h7.25v7.25h-7.25zM634.9 188.8h7.25v7.25h-7.25zM634.9 257.8h7.25v7.25h-7.25zM634.9 264.7h7.25v7.25h-7.25zM648.7 112.9h7.25v7.25h-7.25zM648.7 119.8h7.25v7.25h-7.25zM648.7 133.6h7.25v7.25h-7.25zM648.7 140.5h7.25v7.25h-7.25zM648.7 161.2h7.25v7.25h-7.25zM648.7 257.8h7.25v7.25h-7.25zM648.7 278.5h7.25v7.25h-7.25zM655.6 112.9h7.25v7.25h-7.25zM655.6 119.8h7.25v7.25h-7.25zM655.6 161.2h7.25v7.25h-7.25zM655.6 202.6h7.25v7.25h-7.25zM655.6 257.8h7.25v7.25h-7.25zM662.5 106.0h7.25v7.25h-7.25zM662.5 112.9h7.25v7.25h-7.25zM662.5 154.3h7.25v7.25h-7.25zM662.5 188.8h7.25v7.25h-7.25zM662.5 278.5h7.25v7.25h-7.25zM669.4 112.9h7.25v7.25h-7.25zM669.4 154.3h7.25v7.25h-7.25zM669.4 188.8h7.25v7.25h-7.25zM669.4 209.5h7.25v7.25h-7.25zM676.3 106.0h7.25v7.25h-7.25zM676.3 119.8h7.25v7.25h-7.25zM676.3 168.1h7.25v7.25h-7.25zM676.3 175.0h7.25v7.25h-7.25zM676.3 202.6h7.25v7.25h-7.25zM676.3 209.5h7.25v7.25h-7.25zM683.2 161.2h7.25v7.25h-7.25zM683.2 175.0h7.25v7.25h-7.25zM690.1 133.6h7.25v7.25h-7.25zM690.1 140.5h7.25v7.25h-7.25zM690.1 161.2h7.25v7.25h-7.25zM690.1 168.1h7.25v7.25h-7.25zM690.1 175.0h7.25v7.25h-7.25zM690.1 244.0h7.25v7.25h-7.25zM690.1 250.9h7.25v7.25h-7.25zM697.0 161.2h7.25v7.25h-7.25zM697.0 175.0h7.25v7.25h-7.25zM697.0 237.1h7.25v7.25h-7.25zM697.0 257.8h7.25v7.25h-7.25zM703.9 112.9h7.25v7.25h-7.25zM703.9 133.6h7.25v7.25h-7.25zM703.9 140.5h7.25v7.25h-7.25zM703.9 154.3h7.25v7.25h-7.25zM703.9 168.1h7.25v7.25h-7.25zM703.9 250.9h7.25v7.25h-7.25zM703.9 264.7h7.25v7.25h-7.25zM710.8 188.8h7.25v7.25h-7.25zM710.8 202.6h7.25v7.25h-7.25zM710.8 250.9h7.25v7.25h-7.25zM710.8 264.7h7.25v7.25h-7.25zM717.7 237.1h7.25v7.25h-7.25zM724.6 119.8h7.25v7.25h-7.25zM724.6 147.4h7.25v7.25h-7.25zM724.6 168.1h7.25v7.25h-7.25zM724.6 237.1h7.25v7.25h-7.25zM724.6 264.7h7.25v7.25h-7.25zM731.5 126.7h7.25v7.25h-7.25zM731.5 133.6h7.25v7.25h-7.25zM731.5 181.9h7.25v7.25h-7.25zM731.5 195.7h7.25v7.25h-7.25zM731.5 202.6h7.25v7.25h-7.25zM731.5 209.5h7.25v7.25h-7.25zM731.5 223.3h7.25v7.25h-7.25zM731.5 237.1h7.25v7.25h-7.25zM731.5 264.7h7.25v7.25h-7.25zM738.4 209.5h7.25v7.25h-7.25zM738.4 223.3h7.25v7.25h-7.25zM738.4 237.1h7.25v7.25h-7.25zM745.3 119.8h7.25v7.25h-7.25zM745.3 133.6h7.25v7.25h-7.25zM745.3 140.5h7.25v7.25h-7.25zM745.3 168.1h7.25v7.25h-7.25zM745.3 230.2h7.25v7.25h-7.25zM745.3 285.4h7.25v7.25h-7.25zM752.2 119.8h7.25v7.25h-7.25zM752.2 168.1h7.25v7.25h-7.25zM752.2 257.8h7.25v7.25h-7.25zM752.2 271.6h7.25v7.25h-7.25zM752.2 285.4h7.25v7.25h-7.25zM759.1 154.3h7.25v7.25h-7.25zM759.1 244.0h7.25v7.25h-7.25zM759.1 257.8h7.25v7.25h-7.25zM759.1 264.7h7.25v7.25h-7.25zM759.1 285.4h7.25v7.25h-7.25zM766.0 126.7h7.25v7.25h-7.25zM766.0 154.3h7.25v7.25h-7.25zM766.0 216.4h7.25v7.25h-7.25zM766.0 237.1h7.25v7.25h-7.25zM766.0 244.0h7.25v7.25h-7.25zM766.0 264.7h7.25v7.25h-7.25zM766.0 285.4h7.25v7.25h-7.25zM772.9 161.2h7.25v7.25h-7.25zM772.9 181.9h7.25v7.25h-7.25zM772.9 188.8h7.25v7.25h-7.25zM772.9 195.7h7.25v7.25h-7.25zM772.9 209.5h7.25v7.25h-7.25zM772.9 216.4h7.25v7.25h-7.25zM772.9 230.2h7.25v7.25h-7.25zM772.9 257.8h7.25v7.25h-7.25zM772.9 278.5h7.25v7.25h-7.25zM779.8 140.5h7.25v7.25h-7.25zM779.8 147.4h7.25v7.25h-7.25zM779.8 209.5h7.25v7.25h-7.25zM786.7 133.6h7.25v7.25h-7.25zM786.7 140.5h7.25v7.25h-7.25zM786.7 237.1h7.25v7.25h-7.25zM786.7 257.8h7.25v7.25h-7.25zM786.7 264.7h7.25v7.25h-7.25zM793.6 147.4h7.25v7.25h-7.25zM793.6 237.1h7.25v7.25h-7.25zM793.6 257.8h7.25v7.25h-7.25zM800.5 181.9h7.25v7.25h-7.25zM800.5 188.8h7.25v7.25h-7.25zM807.4 202.6h7.25v7.25h-7.25z"/>
<path fill="#870000" d="M614.2 216.4h7.25v7.25h-7.25zM614.2 257.8h7.25v7.25h-7.25zM621.1 175.0h7.25v7.25h-7.25zM621.1 250.9h7.25v7.25h-7.25zM628.0 257.8h7.25v7.25h-7.25zM634.9 230.2h7.25v7.25h-7.25zM641.8 140.5h7.25v7.25h-7.25zM648.7 147.4h7.25v7.25h-7.25zM648.7 181.9h7.25v7.25h-7.25zM655.6 175.0h7.25v7.25h-7.25zM655.6 264.7h7.25v7.25h-7.25zM655.6 278.5h7.25v7.25h-7.25zM669.4 181.9h7.25v7.25h-7.25zM676.3 140.5h7.25v7.25h-7.25zM683.2 112.9h7.25v7.25h-7.25zM683.2 140.5h7.25v7.25h-7.25zM703.9 119.8h7.25v7.25h-7.25zM710.8 112.9h7.25v7.25h-7.25zM738.4 147.4h7.25v7.25h-7.25zM779.8 216.4h7.25v7.25h-7.25zM786.7 181.9h7.25v7.25h-7.25zM793.6 181.9h7.25v7.25h-7.25zM800.5 161.2h7.25v7.25h-7.25z"/>
<path fill="#4e0000" d="M607.3 216.4h7.25v7.25h-7.25zM614.2 154.3h7.25v7.25h-7.25zM614.2 181.9h7.25v7.25h-7.25zM621.1 140.5h7.25v7.25h-7.25zM621.1 154.3h7.25v7.25h-7.25zM621.1 168.1h7.25v7.25h-7.25zM621.1 188.8h7.25v7.25h-7.25zM621.1 195.7h7.25v7.25h-7.25zM621.1 202.6h7.25v7.25h-7.25zM628.0 147.4h7.25v7.25h-7.25zM628.0 154.3h7.25v7.25h-7.25zM628.0 175.0h7.25v7.25h-7.25zM628.0 188.8h7.25v7.25h-7.25zM628.0 195.7h7.25v7.25h-7.25zM628.0 209.5h7.25v7.25h-7.25zM634.9 168.1h7.25v7.25h-7.25zM641.8 175.0h7.25v7.25h-7.25zM655.6 168.1h7.25v7.25h-7.25zM655.6 188.8h7.25v7.25h-7.25zM655.6 195.7h7.25v7.25h-7.25zM655.6 209.5h7.25v7.25h-7.25zM655.6 285.4h7.25v7.25h-7.25zM669.4 257.8h7.25v7.25h-7.25zM676.3 147.4h7.25v7.25h-7.25zM676.3 216.4h7.25v7.25h-7.25zM676.3 230.2h7.25v7.25h-7.25zM683.2 126.7h7.25v7.25h-7.25zM683.2 188.8h7.25v7.25h-7.25zM683.2 230.2h7.25v7.25h-7.25zM683.2 250.9h7.25v7.25h-7.25zM690.1 112.9h7.25v7.25h-7.25zM697.0 133.6h7.25v7.25h-7.25zM697.0 140.5h7.25v7.25h-7.25zM697.0 147.4h7.25v7.25h-7.25zM697.0 168.1h7.25v7.25h-7.25zM697.0 223.3h7.25v7.25h-7.25zM697.0 230.2h7.25v7.25h-7.25zM697.0 271.6h7.25v7.25h-7.25zM710.8 119.8h7.25v7.25h-7.25zM710.8 126.7h7.25v7.25h-7.25zM710.8 140.5h7.25v7.25h-7.25zM710.8 278.5h7.25v7.25h-7.25zM717.7 161.2h7.25v7.25h-7.25zM717.7 216.4h7.25v7.25h-7.25zM717.7 264.7h7.25v7.25h-7.25zM717.7 278.5h7.25v7.25h-7.25zM724.6 188.8h7.25v7.25h-7.25zM738.4 195.7h7.25v7.25h-7.25zM738.4 271.6h7.25v7.25h-7.25zM745.3 175.0h7.25v7.25h-7.25zM745.3 181.9h7.25v7.25h-7.25zM745.3 195.7h7.25v7.25h-7.25zM745.3 202.6h7.25v7.25h-7.25zM745.3 209.5h7.25v7.25h-7.25zM752.2 195.7h7.25v7.25h-7.25zM759.1 175.0h7.25v7.25h-7.25zM759.1 202.6h7.25v7.25h-7.25zM766.0 168.1h7.25v7.25h-7.25zM766.0 209.5h7.25v7.25h-7.25zM772.9 285.4h7.25v7.25h-7.25zM779.8 154.3h7.25v7.25h-7.25zM786.7 168.1h7.25v7.25h-7.25zM786.7 188.8h7.25v7.25h-7.25zM786.7 195.7h7.25v7.25h-7.25zM786.7 216.4h7.25v7.25h-7.25zM793.6 154.3h7.25v7.25h-7.25zM793.6 161.2h7.25v7.25h-7.25zM793.6 188.8h7.25v7.25h-7.25zM793.6 285.4h7.25v7.25h-7.25zM800.5 264.7h7.25v7.25h-7.25zM800.5 285.4h7.25v7.25h-7.25z"/>
<path fill="#ffd0d0" d="M607.3 223.3h7.25v7.25h-7.25zM621.1 244.0h7.25v7.25h-7.25zM621.1 257.8h7.25v7.25h-7.25zM634.9 237.1h7.25v7.25h-7.25zM634.9 244.0h7.25v7.25h-7.25zM634.9 250.9h7.25v7.25h-7.25zM641.8 202.6h7.25v7.25h-7.25zM641.8 209.5h7.25v7.25h-7.25zM641.8 223.3h7.25v7.25h-7.25zM641.8 237.1h7.25v7.25h-7.25zM641.8 244.0h7.25v7.25h-7.25zM648.7 188.8h7.25v7.25h-7.25zM648.7 195.7h7.25v7.25h-7.25zM648.7 202.6h7.25v7.25h-7.25zM648.7 209.5h7.25v7.25h-7.25zM648.7 230.2h7.25v7.25h-7.25zM648.7 250.9h7.25v7.25h-7.25zM648.7 264.7h7.25v7.25h-7.25zM655.6 140.5h7.25v7.25h-7.25zM655.6 244.0h7.25v7.25h-7.25zM662.5 237.1h7.25v7.25h-7.25zM662.5 244.0h7.25v7.25h-7.25zM669.4 140.5h7.25v7.25h-7.25zM669.4 237.1h7.25v7.25h-7.25zM669.4 244.0h7.25v7.25h-7.25zM676.3 244.0h7.25v7.25h-7.25zM676.3 257.8h7.25v7.25h-7.25zM683.2 119.8h7.25v7.25h-7.25zM683.2 237.1h7.25v7.25h-7.25zM683.2 257.8h7.25v7.25h-7.25zM683.2 271.6h7.25v7.25h-7.25zM690.1 230.2h7.25v7.25h-7.25zM690.1 257.8h7.25v7.25h-7.25zM703.9 271.6h7.25v7.25h-7.25zM766.0 195.7h7.25v7.25h-7.25zM772.9 175.0h7.25v7.25h-7.25zM772.9 223.3h7.25v7.25h-7.25z"/>
<path fill="#d20000" d="M634.9 133.6h7.25v7.25h-7.25zM634.9 209.5h7.25v7.25h-7.25zM641.8 250.9h7.25v7.25h-7.25zM641.8 257.8h7.25v7.25h-7.25zM648.7 126.7h7.25v7.25h-7.25zM648.7 244.0h7.25v7.25h-7.25zM676.3 126.7h7.25v7.25h-7.25zM690.1 264.7h7.25v7.25h-7.25zM717.7 244.0h7.25v7.25h-7.25zM752.2 209.5h7.25v7.25h-7.25zM766.0 188.8h7.25v7.25h-7.25zM786.7 202.6h7.25v7.25h-7.25zM800.5 175.0h7.25v7.25h-7.25z"/>
<path fill="#fa0000" d="M634.9 154.3h7.25v7.25h-7.25zM648.7 168.1h7.25v7.25h-7.25zM648.7 216.4h7.25v7.25h-7.25zM648.7 223.3h7.25v7.25h-7.25zM655.6 126.7h7.25v7.25h-7.25zM655.6 147.4h7.25v7.25h-7.25zM662.5 126.7h7.25v7.25h-7.25zM662.5 264.7h7.25v7.25h-7.25zM669.4 126.7h7.25v7.25h-7.25zM669.4 133.6h7.25v7.25h-7.25zM676.3 133.6h7.25v7.25h-7.25zM759.1 209.5h7.25v7.25h-7.25zM786.7 209.5h7.25v7.25h-7.25z"/>
<path fill="#aa0000" d="M614.2 223.3h7.25v7.25h-7.25zM641.8 195.7h7.25v7.25h-7.25zM641.8 216.4h7.25v7.25h-7.25zM641.8 230.2h7.25v7.25h-7.25zM648.7 175.0h7.25v7.25h-7.25zM655.6 154.3h7.25v7.25h-7.25zM655.6 223.3h7.25v7.25h-7.25zM662.5 140.5h7.25v7.25h-7.25zM676.3 271.6h7.25v7.25h-7.25zM690.1 126.7h7.25v7.25h-7.25zM697.0 244.0h7.25v7.25h-7.25zM697.0 285.4h7.25v7.25h-7.25zM703.9 237.1h7.25v7.25h-7.25zM772.9 154.3h7.25v7.25h-7.25zM779.8 195.7h7.25v7.25h-7.25z"/>
<path fill="#690000" d="M600.4 195.7h7.25v7.25h-7.25zM607.3 188.8h7.25v7.25h-7.25zM607.3 195.7h7.25v7.25h-7.25zM614.2 195.7h7.25v7.25h-7.25zM614.2 209.5h7.25v7.25h-7.25zM614.2 244.0h7.25v7.25h-7.25zM614.2 250.9h7.25v7.25h-7.25zM621.1 181.9h7.25v7.25h-7.25zM621.1 209.5h7.25v7.25h-7.25zM621.1 223.3h7.25v7.25h-7.25zM628.0 216.4h7.25v7.25h-7.25zM628.0 237.1h7.25v7.25h-7.25zM634.9 140.5h7.25v7.25h-7.25zM655.6 181.9h7.25v7.25h-7.25zM655.6 237.1h7.25v7.25h-7.25zM662.5 133.6h7.25v7.25h-7.25zM669.4 271.6h7.25v7.25h-7.25zM676.3 154.3h7.25v7.25h-7.25zM683.2 264.7h7.25v7.25h-7.25zM683.2 285.4h7.25v7.25h-7.25zM703.9 223.3h7.25v7.25h-7.25zM724.6 140.5h7.25v7.25h-7.25zM738.4 230.2h7.25v7.25h-7.25zM759.1 126.7h7.25v7.25h-7.25zM759.1 161.2h7.25v7.25h-7.25zM779.8 175.0h7.25v7.25h-7.25zM779.8 181.9h7.25v7.25h-7.25zM793.6 168.1h7.25v7.25h-7.25zM800.5 168.1h7.25v7.25h-7.25z"/>
<path fill="#ff5050" d="M628.0 223.3h7.25v7.25h-7.25zM634.9 216.4h7.25v7.25h-7.25zM648.7 237.1h7.25v7.25h-7.25zM655.6 133.6h7.25v7.25h-7.25zM655.6 230.2h7.25v7.25h-7.25zM662.5 257.8h7.25v7.25h-7.25zM669.4 278.5h7.25v7.25h-7.25zM676.3 237.1h7.25v7.25h-7.25zM690.1 285.4h7.25v7.25h-7.25z"/>
<path fill="#2a1e00" d="M1044.7 264.7h7.25v7.25h-7.25zM1051.6 168.1h7.25v7.25h-7.25zM1065.4 140.5h7.25v7.25h-7.25zM1093.0 112.9h7.25v7.25h-7.25zM1093.0 119.8h7.25v7.25h-7.25zM1099.9 154.3h7.25v7.25h-7.25zM1099.9 278.5h7.25v7.25h-7.25zM1106.8 154.3h7.25v7.25h-7.25zM1113.7 106.0h7.25v7.25h-7.25zM1113.7 119.8h7.25v7.25h-7.25zM1113.7 168.1h7.25v7.25h-7.25zM1113.7 209.5h7.25v7.25h-7.25zM1120.6 175.0h7.25v7.25h-7.25zM1127.5 140.5h7.25v7.25h-7.25zM1127.5 175.0h7.25v7.25h-7.25zM1127.5 250.9h7.25v7.25h-7.25zM1141.3 133.6h7.25v7.25h-7.25zM1141.3 140.5h7.25v7.25h-7.25zM1148.2 188.8h7.25v7.25h-7.25zM1148.2 202.6h7.25v7.25h-7.25zM1148.2 264.7h7.25v7.25h-7.25zM1162.0 119.8h7.25v7.25h-7.25zM1162.0 147.4h7.25v7.25h-7.25zM1162.0 168.1h7.25v7.25h-7.25zM1168.9 133.6h7.25v7.25h-7.25zM1175.8 223.3h7.25v7.25h-7.25zM1182.7 119.8h7.25v7.25h-7.25zM1189.6 119.8h7.25v7.25h-7.25zM1189.6 168.1h7.25v7.25h-7.25zM1196.5 154.3h7.25v7.25h-7.25z"/>
<path fill="#3e2e00" d="M1051.6 154.3h7.25v7.25h-7.25zM1051.6 181.9h7.25v7.25h-7.25zM1058.5 140.5h7.25v7.25h-7.25zM1058.5 154.3h7.25v7.25h-7.25zM1113.7 147.4h7.25v7.25h-7.25zM1120.6 188.8h7.25v7.25h-7.25zM1134.4 140.5h7.25v7.25h-7.25zM1134.4 147.4h7.25v7.25h-7.25zM1134.4 271.6h7.25v7.25h-7.25zM1148.2 119.8h7.25v7.25h-7.25zM1148.2 126.7h7.25v7.25h-7.25zM1175.8 195.7h7.25v7.25h-7.25zM1182.7 181.9h7.25v7.25h-7.25zM1189.6 195.7h7.25v7.25h-7.25zM1224.1 168.1h7.25v7.25h-7.25zM1231.0 154.3h7.25v7.25h-7.25z"/>
<path fill="#162e00" d="M1044.7 202.6h7.25v7.25h-7.25zM1044.7 209.5h7.25v7.25h-7.25zM1044.7 230.2h7.25v7.25h-7.25zM1058.5 147.4h7.25v7.25h-7.25zM1058.5 264.7h7.25v7.25h-7.25zM1065.4 161.2h7.25v7.25h-7.25zM1072.3 181.9h7.25v7.25h-7.25zM1072.3 271.6h7.25v7.25h-7.25zM1079.2 147.4h7.25v7.25h-7.25zM1079.2 168.1h7.25v7.25h-7.25zM1079.2 188.8h7.25v7.25h-7.25zM1093.0 216.4h7.25v7.25h-7.25zM1099.9 147.4h7.25v7.25h-7.25zM1099.9 202.6h7.25v7.25h-7.25zM1099.9 250.9h7.25v7.25h-7.25zM1099.9 271.6h7.25v7.25h-7.25zM1106.8 250.9h7.25v7.25h-7.25zM1113.7 112.9h7.25v7.25h-7.25zM1113.7 161.2h7.25v7.25h-7.25zM1113.7 250.9h7.25v7.25h-7.25zM1120.6 154.3h7.25v7.25h-7.25zM1120.6 209.5h7.25v7.25h-7.25zM1120.6 244.0h7.25v7.25h-7.25zM1127.5 147.4h7.25v7.25h-7.25zM1127.5 209.5h7.25v7.25h-7.25zM1134.4 264.7h7.25v7.25h-7.25zM1141.3 230.2h7.25v7.25h-7.25zM1141.3 257.8h7.25v7.25h-7.25zM1148.2 161.2h7.25v7.25h-7.25zM1148.2 209.5h7.25v7.25h-7.25zM1148.2 244.0h7.25v7.25h-7.25zM1148.2 257.8h7.25v7.25h-7.25zM1155.1 112.9h7.25v7.25h-7.25zM1155.1 133.6h7.25v7.25h-7.25zM1162.0 154.3h7.25v7.25h-7.25zM1162.0 181.9h7.25v7.25h-7.25zM1162.0 223.3h7.25v7.25h-7.25zM1162.0 230.2h7.25v7.25h-7.25zM1162.0 244.0h7.25v7.25h-7.25zM1168.9 140.5h7.25v7.25h-7.25zM1175.8 140.5h7.25v7.25h-7.25zM1175.8 161.2h7.25v7.25h-7.25zM1189.6 202.6h7.25v7.25h-7.25zM1203.4 175.0h7.25v7.25h-7.25zM1210.3 126.7h7.25v7.25h-7.25zM1217.2 202.6h7.25v7.25h-7.25zM1224.1 223.3h7.25v7.25h-7.25z"/>
<path fill="#a2be00" d="M1079.2 195.7h7.25v7.25h-7.25zM1134.4 244.0h7.25v7.25h-7.25zM1141.3 237.1h7.25v7.25h-7.25z"/>
<path fill="#3e7800" d="M1044.7 216.4h7.25v7.25h-7.25zM1065.4 147.4h7.25v7.25h-7.25zM1065.4 175.0h7.25v7.25h-7.25zM1120.6 126.7h7.25v7.25h-7.25zM1120.6 250.9h7.25v7.25h-7.25z"/>
<path fill="#004200" d="M1072.3 202.6h7.25v7.25h-7.25zM1127.5 223.3h7.25v7.25h-7.25zM1217.2 188.8h7.25v7.25h-7.25z"/>
<path fill="#001000" d="M1044.7 181.9h7.25v7.25h-7.25zM1044.7 237.1h7.25v7.25h-7.25zM1051.6 237.1h7.25v7.25h-7.25zM1051.6 278.5h7.25v7.25h-7.25zM1065.4 278.5h7.25v7.25h-7.25zM1079.2 133.6h7.25v7.25h-7.25zM1079.2 161.2h7.25v7.25h-7.25zM1099.9 285.4h7.25v7.25h-7.25zM1106.8 223.3h7.25v7.25h-7.25zM1106.8 264.7h7.25v7.25h-7.25zM1141.3 147.4h7.25v7.25h-7.25zM1141.3 161.2h7.25v7.25h-7.25zM1148.2 195.7h7.25v7.25h-7.25zM1148.2 271.6h7.25v7.25h-7.25zM1155.1 175.0h7.25v7.25h-7.25zM1155.1 188.8h7.25v7.25h-7.25zM1155.1 257.8h7.25v7.25h-7.25zM1162.0 161.2h7.25v7.25h-7.25zM1168.9 244.0h7.25v7.25h-7.25zM1203.4 230.2h7.25v7.25h-7.25zM1217.2 161.2h7.25v7.25h-7.25z"/>
<path fill="#161500" d="M1086.1 285.4h7.25v7.25h-7.25zM1155.1 181.9h7.25v7.25h-7.25zM1162.0 175.0h7.25v7.25h-7.25zM1162.0 250.9h7.25v7.25h-7.25zM1168.9 278.5h7.25v7.25h-7.25zM1196.5 237.1h7.25v7.25h-7.25zM1196.5 271.6h7.25v7.25h-7.25zM1203.4 271.6h7.25v7.25h-7.25zM1237.9 216.4h7.25v7.25h-7.25zM1237.9 223.3h7.25v7.25h-7.25zM1237.9 230.2h7.25v7.25h-7.25zM1237.9 237.1h7.25v7.25h-7.25zM1237.9 250.9h7.25v7.25h-7.25z"/>
<path fill="#3eff00" d="M1065.4 209.5h7.25v7.25h-7.25zM1106.8 257.8h7.25v7.25h-7.25zM1120.6 230.2h7.25v7.25h-7.25zM1134.4 230.2h7.25v7.25h-7.25zM1196.5 202.6h7.25v7.25h-7.25z"/>
<path fill="#001e00" d="M1058.5 278.5h7.25v7.25h-7.25zM1099.9 216.4h7.25v7.25h-7.25zM1106.8 168.1h7.25v7.25h-7.25zM1113.7 223.3h7.25v7.25h-7.25zM1120.6 168.1h7.25v7.25h-7.25zM1120.6 223.3h7.25v7.25h-7.25zM1127.5 202.6h7.25v7.25h-7.25zM1134.4 112.9h7.25v7.25h-7.25zM1134.4 126.7h7.25v7.25h-7.25zM1155.1 223.3h7.25v7.25h-7.25zM1155.1 250.9h7.25v7.25h-7.25zM1162.0 133.6h7.25v7.25h-7.25zM1168.9 154.3h7.25v7.25h-7.25zM1168.9 168.1h7.25v7.25h-7.25zM1168.9 188.8h7.25v7.25h-7.25zM1175.8 133.6h7.25v7.25h-7.25zM1175.8 202.6h7.25v7.25h-7.25zM1182.7 216.4h7.25v7.25h-7.25zM1189.6 154.3h7.25v7.25h-7.25zM1231.0 209.5h7.25v7.25h-7.25zM1231.0 216.4h7.25v7.25h-7.25zM1244.8 175.0h7.25v7.25h-7.25z"/>
<path fill="#eeff00" d="M1072.3 154.3h7.25v7.25h-7.25zM1086.1 216.4h7.25v7.25h-7.25zM1086.1 223.3h7.25v7.25h-7.25zM1093.0 126.7h7.25v7.25h-7.25zM1099.9 264.7h7.25v7.25h-7.25zM1106.8 126.7h7.25v7.25h-7.25zM1106.8 133.6h7.25v7.25h-7.25zM1113.7 133.6h7.25v7.25h-7.25z"/>
<path fill="#160b00" d="M1037.8 216.4h7.25v7.25h-7.25zM1148.2 106.0h7.25v7.25h-7.25zM1148.2 285.4h7.25v7.25h-7.25zM1175.8 250.9h7.25v7.25h-7.25zM1175.8 264.7h7.25v7.25h-7.25zM1175.8 278.5h7.25v7.25h-7.25zM1182.7 278.5h7.25v7.25h-7.25zM1189.6 264.7h7.25v7.25h-7.25zM1196.5 250.9h7.25v7.25h-7.25zM1196.5 278.5h7.25v7.25h-7.25zM1203.4 257.8h7.25v7.25h-7.25zM1217.2 257.8h7.25v7.25h-7.25zM1217.2 264.7h7.25v7.25h-7.25zM1217.2 271.6h7.25v7.25h-7.25zM1217.2 278.5h7.25v7.25h-7.25zM1224.1 244.0h7.25v7.25h-7.25zM1231.0 230.2h7.25v7.25h-7.25zM1231.0 244.0h7.25v7.25h-7.25zM1237.9 244.0h7.25v7.25h-7.25zM1244.8 230.2h7.25v7.25h-7.25zM1244.8 237.1h7.25v7.25h-7.25zM1244.8 264.7h7.25v7.25h-7.25z"/>
<path fill="#547800" d="M1037.8 195.7h7.25v7.25h-7.25zM1058.5 181.9h7.25v7.25h-7.25zM1217.2 175.0h7.25v7.25h-7.25zM1237.9 168.1h7.25v7.25h-7.25z"/>
<path fill="#164200" d="M1051.6 161.2h7.25v7.25h-7.25zM1051.6 202.6h7.25v7.25h-7.25zM1058.5 230.2h7.25v7.25h-7.25zM1065.4 264.7h7.25v7.25h-7.25zM1072.3 223.3h7.25v7.25h-7.25zM1106.8 216.4h7.25v7.25h-7.25zM1106.8 230.2h7.25v7.25h-7.25zM1127.5 271.6h7.25v7.25h-7.25zM1134.4 119.8h7.25v7.25h-7.25zM1134.4 250.9h7.25v7.25h-7.25zM1148.2 175.0h7.25v7.25h-7.25zM1155.1 126.7h7.25v7.25h-7.25zM1155.1 230.2h7.25v7.25h-7.25zM1162.0 216.4h7.25v7.25h-7.25zM1168.9 230.2h7.25v7.25h-7.25zM1182.7 126.7h7.25v7.25h-7.25zM1189.6 188.8h7.25v7.25h-7.25zM1189.6 216.4h7.25v7.25h-7.25zM1196.5 223.3h7.25v7.25h-7.25zM1203.4 161.2h7.25v7.25h-7.25zM1210.3 168.1h7.25v7.25h-7.25zM1217.2 223.3h7.25v7.25h-7.25z"/>
<path fill="#161000" d="M1037.8 188.8h7.25v7.25h-7.25zM1037.8 202.6h7.25v7.25h-7.25zM1044.7 278.5h7.25v7.25h-7.25zM1051.6 133.6h7.25v7.25h-7.25zM1058.5 133.6h7.25v7.25h-7.25zM1065.4 271.6h7.25v7.25h-7.25zM1072.3 147.4h7.25v7.25h-7.25zM1079.2 154.3h7.25v7.25h-7.25zM1079.2 264.7h7.25v7.25h-7.25zM1079.2 271.6h7.25v7.25h-7.25zM1093.0 250.9h7.25v7.25h-7.25zM1093.0 271.6h7.25v7.25h-7.25zM1099.9 119.8h7.25v7.25h-7.25zM1099.9 161.2h7.25v7.25h-7.25zM1099.9 168.1h7.25v7.25h-7.25zM1099.9 175.0h7.25v7.25h-7.25zM1106.8 161.2h7.25v7.25h-7.25zM1106.8 285.4h7.25v7.25h-7.25zM1113.7 181.9h7.25v7.25h-7.25zM1113.7 195.7h7.25v7.25h-7.25zM1120.6 106.0h7.25v7.25h-7.25zM1120.6 133.6h7.25v7.25h-7.25zM1127.5 106.0h7.25v7.25h-7.25zM1127.5 154.3h7.25v7.25h-7.25zM1127.5 195.7h7.25v7.25h-7.25zM1127.5 216.4h7.25v7.25h-7.25zM1134.4 181.9h7.25v7.25h-7.25zM1134.4 202.6h7.25v7.25h-7.25zM1134.4 209.5h7.25v7.25h-7.25zM1141.3 175.0h7.25v7.25h-7.25zM1141.3 181.9h7.25v7.25h-7.25zM1141.3 188.8h7.25v7.25h-7.25zM1141.3 202.6h7.25v7.25h-7.25zM1141.3 209.5h7.25v7.25h-7.25zM1141.3 285.4h7.25v7.25h-7.25zM1148.2 133.6h7.25v7.25h-7.25zM1148.2 147.4h7.25v7.25h-7.25zM1148.2 216.4h7.25v7.25h-7.25zM1155.1 119.8h7.25v7.25h-7.25zM1155.1 147.4h7.25v7.25h-7.25zM1155.1 168.1h7.25v7.25h-7.25zM1155.1 195.7h7.25v7.25h-7.25zM1155.1 209.5h7.25v7.25h-7.25zM1155.1 271.6h7.25v7.25h-7.25zM1155.1 285.4h7.25v7.25h-7.25zM1162.0 195.7h7.25v7.25h-7.25zM1162.0 209.5h7.25v7.25h-7.25zM1162.0 271.6h7.25v7.25h-7.25zM1168.9 119.8h7.25v7.25h-7.25zM1168.9 147.4h7.25v7.25h-7.25zM1175.8 119.8h7.25v7.25h-7.25zM1175.8 181.9h7.25v7.25h-7.25zM1175.8 188.8h7.25v7.25h-7.25zM1175.8 244.0h7.25v7.25h-7.25zM1182.7 154.3h7.25v7.25h-7.25zM1182.7 188.8h7.25v7.25h-7.25zM1182.7 244.0h7.25v7.25h-7.25zM1189.6 140.5h7.25v7.25h-7.25zM1189.6 147.4h7.25v7.25h-7.25zM1189.6 161.2h7.25v7.25h-7.25zM1189.6 175.0h7.25v7.25h-7.25zM1189.6 223.3h7.25v7.25h-7.25zM1189.6 230.2h7.25v7.25h-7.25zM1189.6 237.1h7.25v7.25h-7.25zM1189.6 244.0h7.25v7.25h-7.25zM1196.5 147.4h7.25v7.25h-7.25zM1203.4 147.4h7.25v7.25h-7.25zM1203.4 181.9h7.25v7.25h-7.25zM1210.3 133.6h7.25v7.25h-7.25zM1217.2 237.1h7.25v7.25h-7.25zM1224.1 147.4h7.25v7.25h-7.25zM1231.0 278.5h7.25v7.25h-7.25zM1237.9 202.6h7.25v7.25h-7.25zM1237.9 209.5h7.25v7.25h-7.25zM1244.8 244.0h7.25v7.25h-7.25zM1244.8 271.6h7.25v7.25h-7.25z"/>
<path fill="#3e5a00" d="M1058.5 168.1h7.25v7.25h-7.25zM1058.5 188.8h7.25v7.25h-7.25zM1058.5 195.7h7.25v7.25h-7.25zM1072.3 168.1h7.25v7.25h-7.25zM1079.2 175.0h7.25v7.25h-7.25zM1093.0 168.1h7.25v7.25h-7.25zM1093.0 188.8h7.25v7.25h-7.25zM1134.4 133.6h7.25v7.25h-7.25zM1134.4 168.1h7.25v7.25h-7.25zM1134.4 223.3h7.25v7.25h-7.25zM1196.5 175.0h7.25v7.25h-7.25zM1217.2 154.3h7.25v7.25h-7.25z"/>
<path fill="#161e00" d="M1044.7 244.0h7.25v7.25h-7.25zM1044.7 250.9h7.25v7.25h-7.25zM1044.7 257.8h7.25v7.25h-7.25zM1044.7 271.6h7.25v7.25h-7.25zM1051.6 147.4h7.25v7.25h-7.25zM1079.2 181.9h7.25v7.25h-7.25zM1086.1 154.3h7.25v7.25h-7.25zM1093.0 106.0h7.25v7.25h-7.25zM1099.9 181.9h7.25v7.25h-7.25zM1099.9 195.7h7.25v7.25h-7.25zM1099.9 209.5h7.25v7.25h-7.25zM1099.9 223.3h7.25v7.25h-7.25zM1106.8 119.8h7.25v7.25h-7.25zM1106.8 147.4h7.25v7.25h-7.25zM1106.8 175.0h7.25v7.25h-7.25zM1106.8 195.7h7.25v7.25h-7.25zM1113.7 188.8h7.25v7.25h-7.25zM1113.7 264.7h7.25v7.25h-7.25zM1113.7 278.5h7.25v7.25h-7.25zM1120.6 181.9h7.25v7.25h-7.25zM1120.6 195.7h7.25v7.25h-7.25zM1120.6 202.6h7.25v7.25h-7.25zM1120.6 216.4h7.25v7.25h-7.25zM1120.6 278.5h7.25v7.25h-7.25zM1127.5 119.8h7.25v7.25h-7.25zM1127.5 181.9h7.25v7.25h-7.25zM1127.5 188.8h7.25v7.25h-7.25zM1127.5 237.1h7.25v7.25h-7.25zM1127.5 278.5h7.25v7.25h-7.25zM1134.4 154.3h7.25v7.25h-7.25zM1134.4 188.8h7.25v7.25h-7.25zM1134.4 195.7h7.25v7.25h-7.25zM1134.4 216.4h7.25v7.25h-7.25zM1141.3 126.7h7.25v7.25h-7.25zM1141.3 195.7h7.25v7.25h-7.25zM1141.3 216.4h7.25v7.25h-7.25zM1141.3 244.0h7.25v7.25h-7.25zM1148.2 154.3h7.25v7.25h-7.25zM1148.2 168.1h7.25v7.25h-7.25zM1148.2 181.9h7.25v7.25h-7.25zM1148.2 230.2h7.25v7.25h-7.25zM1155.1 140.5h7.25v7.25h-7.25zM1155.1 202.6h7.25v7.25h-7.25zM1162.0 126.7h7.25v7.25h-7.25zM1162.0 202.6h7.25v7.25h-7.25zM1168.9 161.2h7.25v7.25h-7.25zM1168.9 216.4h7.25v7.25h-7.25zM1175.8 126.7h7.25v7.25h-7.25zM1175.8 154.3h7.25v7.25h-7.25zM1175.8 168.1h7.25v7.25h-7.25zM1182.7 147.4h7.25v7.25h-7.25zM1189.6 126.7h7.25v7.25h-7.25zM1189.6 133.6h7.25v7.25h-7.25zM1189.6 181.9h7.25v7.25h-7.25zM1196.5 119.8h7.25v7.25h-7.25zM1196.5 133.6h7.25v7.25h-7.25zM1196.5 188.8h7.25v7.25h-7.25zM1196.5 230.2h7.25v7.25h-7.25zM1203.4 133.6h7.25v7.25h-7.25zM1203.4 140.5h7.25v7.25h-7.25zM1203.4 202.6h7.25v7.25h-7.25zM1203.4 223.3h7.25v7.25h-7.25zM1210.3 140.5h7.25v7.25h-7.25zM1210.3 147.4h7.25v7.25h-7.25zM1210.3 202.6h7.25v7.25h-7.25zM1217.2 133.6h7.25v7.25h-7.25zM1224.1 154.3h7.25v7.25h-7.25zM1224.1 175.0h7.25v7.25h-7.25zM1231.0 195.7h7.25v7.25h-7.25zM1231.0 202.6h7.25v7.25h-7.25zM1237.9 195.7h7.25v7.25h-7.25zM1244.8 161.2h7.25v7.25h-7.25zM1244.8 168.1h7.25v7.25h-7.25zM1244.8 181.9h7.25v7.25h-7.25zM1244.8 188.8h7.25v7.25h-7.25z"/>
<path fill="#2a2e00" d="M1051.6 140.5h7.25v7.25h-7.25zM1051.6 175.0h7.25v7.25h-7.25zM1051.6 230.2h7.25v7.25h-7.25zM1058.5 161.2h7.25v7.25h-7.25zM1065.4 230.2h7.25v7.25h-7.25zM1072.3 161.2h7.25v7.25h-7.25zM1086.1 112.9h7.25v7.25h-7.25zM1086.1 119.8h7.25v7.25h-7.25zM1093.0 161.2h7.25v7.25h-7.25zM1099.9 188.8h7.25v7.25h-7.25zM1106.8 188.8h7.25v7.25h-7.25zM1113.7 175.0h7.25v7.25h-7.25zM1113.7 202.6h7.25v7.25h-7.25zM1127.5 133.6h7.25v7.25h-7.25zM1127.5 161.2h7.25v7.25h-7.25zM1127.5 168.1h7.25v7.25h-7.25zM1134.4 175.0h7.25v7.25h-7.25zM1141.3 250.9h7.25v7.25h-7.25zM1141.3 264.7h7.25v7.25h-7.25zM1155.1 237.1h7.25v7.25h-7.25zM1162.0 237.1h7.25v7.25h-7.25zM1168.9 181.9h7.25v7.25h-7.25zM1168.9 202.6h7.25v7.25h-7.25zM1168.9 223.3h7.25v7.25h-7.25zM1175.8 209.5h7.25v7.25h-7.25zM1182.7 140.5h7.25v7.25h-7.25zM1203.4 154.3h7.25v7.25h-7.25zM1210.3 195.7h7.25v7.25h-7.25zM1210.3 209.5h7.25v7.25h-7.25zM1217.2 147.4h7.25v7.25h-7.25zM1224.1 140.5h7.25v7.25h-7.25zM1231.0 147.4h7.25v7.25h-7.25zM1237.9 181.9h7.25v7.25h-7.25zM1237.9 188.8h7.25v7.25h-7.25z"/>
<path fill="#6cff00" d="M1051.6 216.4h7.25v7.25h-7.25zM1072.3 230.2h7.25v7.25h-7.25zM1086.1 147.4h7.25v7.25h-7.25zM1086.1 181.9h7.25v7.25h-7.25zM1120.6 112.9h7.25v7.25h-7.25zM1237.9 161.2h7.25v7.25h-7.25z"/>
<path fill="#002e00" d="M1051.6 264.7h7.25v7.25h-7.25zM1072.3 195.7h7.25v7.25h-7.25zM1072.3 278.5h7.25v7.25h-7.25zM1106.8 202.6h7.25v7.25h-7.25zM1120.6 147.4h7.25v7.25h-7.25zM1182.7 161.2h7.25v7.25h-7.25zM1196.5 140.5h7.25v7.25h-7.25zM1196.5 195.7h7.25v7.25h-7.25zM1224.1 161.2h7.25v7.25h-7.25zM1244.8 195.7h7.25v7.25h-7.25z"/>
<path fill="#160000" d="M1037.8 209.5h7.25v7.25h-7.25zM1079.2 285.4h7.25v7.25h-7.25zM1106.8 106.0h7.25v7.25h-7.25zM1141.3 106.0h7.25v7.25h-7.25zM1155.1 106.0h7.25v7.25h-7.25zM1168.9 175.0h7.25v7.25h-7.25zM1182.7 237.1h7.25v7.25h-7.25zM1210.3 250.9h7.25v7.25h-7.25zM1210.3 264.7h7.25v7.25h-7.25zM1217.2 244.0h7.25v7.25h-7.25zM1217.2 250.9h7.25v7.25h-7.25zM1224.1 278.5h7.25v7.25h-7.25zM1244.8 209.5h7.25v7.25h-7.25zM1244.8 216.4h7.25v7.25h-7.25zM1244.8 223.3h7.25v7.25h-7.25zM1244.8 250.9h7.25v7.25h-7.25zM1244.8 257.8h7.25v7.25h-7.25zM1244.8 278.5h7.25v7.25h-7.25z"/>
<path fill="#545a00" d="M1044.7 195.7h7.25v7.25h-7.25zM1051.6 195.7h7.25v7.25h-7.25zM1051.6 250.9h7.25v7.25h-7.25zM1058.5 209.5h7.25v7.25h-7.25zM1072.3 140.5h7.25v7.25h-7.25z"/>
<path fill="#2a1000" d="M1051.6 271.6h7.25v7.25h-7.25zM1058.5 271.6h7.25v7.25h-7.25zM1065.4 133.6h7.25v7.25h-7.25zM1072.3 264.7h7.25v7.25h-7.25zM1086.1 278.5h7.25v7.25h-7.25zM1093.0 257.8h7.25v7.25h-7.25zM1134.4 161.2h7.25v7.25h-7.25zM1182.7 285.4h7.25v7.25h-7.25zM1189.6 257.8h7.25v7.25h-7.25zM1196.5 244.0h7.25v7.25h-7.25zM1196.5 264.7h7.25v7.25h-7.25zM1203.4 126.7h7.25v7.25h-7.25zM1210.3 257.8h7.25v7.25h-7.25zM1210.3 278.5h7.25v7.25h-7.25zM1217.2 140.5h7.25v7.25h-7.25zM1224.1 257.8h7.25v7.25h-7.25zM1224.1 264.7h7.25v7.25h-7.25zM1231.0 257.8h7.25v7.25h-7.25z"/>
<path fill="#ffe900" d="M1058.5 257.8h7.25v7.25h-7.25zM1127.5 257.8h7.25v7.25h-7.25z"/>
<path fill="#ffff00" d="M1044.7 223.3h7.25v7.25h-7.25zM1058.5 244.0h7.25v7.25h-7.25zM1065.4 223.3h7.25v7.25h-7.25zM1072.3 237.1h7.25v7.25h-7.25zM1072.3 244.0h7.25v7.25h-7.25zM1072.3 250.9h7.25v7.25h-7.25zM1079.2 202.6h7.25v7.25h-7.25zM1079.2 209.5h7.25v7.25h-7.25zM1079.2 223.3h7.25v7.25h-7.25zM1079.2 237.1h7.25v7.25h-7.25zM1079.2 244.0h7.25v7.25h-7.25zM1086.1 188.8h7.25v7.25h-7.25zM1086.1 195.7h7.25v7.25h-7.25zM1086.1 202.6h7.25v7.25h-7.25zM1086.1 209.5h7.25v7.25h-7.25zM1086.1 230.2h7.25v7.25h-7.25zM1086.1 237.1h7.25v7.25h-7.25zM1086.1 250.9h7.25v7.25h-7.25zM1086.1 264.7h7.25v7.25h-7.25zM1093.0 133.6h7.25v7.25h-7.25zM1093.0 140.5h7.25v7.25h-7.25zM1093.0 230.2h7.25v7.25h-7.25zM1093.0 244.0h7.25v7.25h-7.25zM1099.9 237.1h7.25v7.25h-7.25zM1099.9 244.0h7.25v7.25h-7.25zM1106.8 140.5h7.25v7.25h-7.25zM1106.8 237.1h7.25v7.25h-7.25zM1106.8 244.0h7.25v7.25h-7.25zM1113.7 237.1h7.25v7.25h-7.25zM1113.7 244.0h7.25v7.25h-7.25zM1113.7 257.8h7.25v7.25h-7.25zM1120.6 119.8h7.25v7.25h-7.25zM1120.6 237.1h7.25v7.25h-7.25zM1120.6 257.8h7.25v7.25h-7.25zM1120.6 271.6h7.25v7.25h-7.25zM1127.5 230.2h7.25v7.25h-7.25zM1127.5 285.4h7.25v7.25h-7.25zM1141.3 271.6h7.25v7.25h-7.25zM1203.4 195.7h7.25v7.25h-7.25zM1210.3 175.0h7.25v7.25h-7.25z"/>
<path fill="#160600" d="M1086.1 271.6h7.25v7.25h-7.25zM1113.7 285.4h7.25v7.25h-7.25zM1134.4 278.5h7.25v7.25h-7.25zM1141.3 278.5h7.25v7.25h-7.25zM1168.9 285.4h7.25v7.25h-7.25zM1175.8 257.8h7.25v7.25h-7.25zM1175.8 285.4h7.25v7.25h-7.25zM1182.7 264.7h7.25v7.25h-7.25zM1189.6 250.9h7.25v7.25h-7.25zM1189.6 278.5h7.25v7.25h-7.25zM1217.2 285.4h7.25v7.25h-7.25zM1224.1 271.6h7.25v7.25h-7.25zM1231.0 223.3h7.25v7.25h-7.25zM1231.0 271.6h7.25v7.25h-7.25zM1237.9 257.8h7.25v7.25h-7.25zM1237.9 271.6h7.25v7.25h-7.25z"/>
<path fill="#2a0000" d="M1175.8 237.1h7.25v7.25h-7.25zM1196.5 257.8h7.25v7.25h-7.25zM1231.0 237.1h7.25v7.25h-7.25z"/>
<path fill="#2a0600" d="M1058.5 285.4h7.25v7.25h-7.25zM1162.0 264.7h7.25v7.25h-7.25zM1168.9 209.5h7.25v7.25h-7.25zM1189.6 285.4h7.25v7.25h-7.25zM1196.5 285.4h7.25v7.25h-7.25zM1203.4 237.1h7.25v7.25h-7.25zM1203.4 285.4h7.25v7.25h-7.25zM1244.8 202.6h7.25v7.25h-7.25z"/>
<path fill="#2a5a00" d="M1058.5 216.4h7.25v7.25h-7.25zM1065.4 181.9h7.25v7.25h-7.25zM1086.1 161.2h7.25v7.25h-7.25zM1099.9 112.9h7.25v7.25h-7.25zM1106.8 112.9h7.25v7.25h-7.25zM1141.3 154.3h7.25v7.25h-7.25zM1168.9 126.7h7.25v7.25h-7.25zM1182.7 168.1h7.25v7.25h-7.25zM1182.7 230.2h7.25v7.25h-7.25zM1203.4 216.4h7.25v7.25h-7.25zM1210.3 188.8h7.25v7.25h-7.25zM1210.3 216.4h7.25v7.25h-7.25z"/>
<path fill="#3e4200" d="M1058.5 202.6h7.25v7.25h-7.25zM1065.4 154.3h7.25v7.25h-7.25zM1065.4 188.8h7.25v7.25h-7.25zM1093.0 195.7h7.25v7.25h-7.25zM1093.0 209.5h7.25v7.25h-7.25zM1113.7 230.2h7.25v7.25h-7.25zM1127.5 112.9h7.25v7.25h-7.25zM1148.2 278.5h7.25v7.25h-7.25zM1155.1 216.4h7.25v7.25h-7.25zM1155.1 264.7h7.25v7.25h-7.25zM1162.0 188.8h7.25v7.25h-7.25zM1182.7 175.0h7.25v7.25h-7.25zM1182.7 195.7h7.25v7.25h-7.25zM1182.7 209.5h7.25v7.25h-7.25zM1203.4 168.1h7.25v7.25h-7.25zM1203.4 209.5h7.25v7.25h-7.25zM1224.1 188.8h7.25v7.25h-7.25zM1224.1 195.7h7.25v7.25h-7.25zM1224.1 216.4h7.25v7.25h-7.25zM1231.0 188.8h7.25v7.25h-7.25z"/>
<path fill="#165a00" d="M1065.4 168.1h7.25v7.25h-7.25zM1072.3 175.0h7.25v7.25h-7.25zM1148.2 223.3h7.25v7.25h-7.25zM1155.1 154.3h7.25v7.25h-7.25zM1175.8 216.4h7.25v7.25h-7.25zM1231.0 175.0h7.25v7.25h-7.25z"/>
<path fill="#541e00" d="M1175.8 230.2h7.25v7.25h-7.25zM1231.0 168.1h7.25v7.25h-7.25z"/>
<path fill="#2aff00" d="M1065.4 202.6h7.25v7.25h-7.25zM1065.4 244.0h7.25v7.25h-7.25zM1065.4 250.9h7.25v7.25h-7.25zM1086.1 257.8h7.25v7.25h-7.25zM1127.5 244.0h7.25v7.25h-7.25z"/>
<path fill="#3e0600" d="M1093.0 285.4h7.25v7.25h-7.25zM1210.3 285.4h7.25v7.25h-7.25zM1231.0 285.4h7.25v7.25h-7.25z"/>
<path fill="#ff5a00" d="M1072.3 216.4h7.25v7.25h-7.25zM1099.9 257.8h7.25v7.25h-7.25zM1210.3 223.3h7.25v7.25h-7.25z"/>
<path fill="#3e1e00" d="M1113.7 216.4h7.25v7.25h-7.25zM1155.1 161.2h7.25v7.25h-7.25z"/>
<path fill="#54e900" d="M1058.5 223.3h7.25v7.25h-7.25zM1065.4 216.4h7.25v7.25h-7.25zM1093.0 181.9h7.25v7.25h-7.25zM1099.9 133.6h7.25v7.25h-7.25z"/>
<path fill="#c8ff00" d="M1072.3 209.5h7.25v7.25h-7.25zM1079.2 257.8h7.25v7.25h-7.25zM1086.1 244.0h7.25v7.25h-7.25zM1113.7 126.7h7.25v7.25h-7.25zM1189.6 209.5h7.25v7.25h-7.25zM1224.1 202.6h7.25v7.25h-7.25z"/>
<path fill="#2a4200" d="M1051.6 188.8h7.25v7.25h-7.25zM1072.3 188.8h7.25v7.25h-7.25zM1072.3 257.8h7.25v7.25h-7.25zM1086.1 140.5h7.25v7.25h-7.25zM1093.0 202.6h7.25v7.25h-7.25zM1106.8 209.5h7.25v7.25h-7.25zM1134.4 237.1h7.25v7.25h-7.25zM1134.4 257.8h7.25v7.25h-7.25zM1141.3 168.1h7.25v7.25h-7.25zM1148.2 250.9h7.25v7.25h-7.25zM1168.9 195.7h7.25v7.25h-7.25zM1168.9 237.1h7.25v7.25h-7.25zM1182.7 133.6h7.25v7.25h-7.25zM1210.3 161.2h7.25v7.25h-7.25zM1210.3 181.9h7.25v7.25h-7.25zM1210.3 230.2h7.25v7.25h-7.25zM1224.1 133.6h7.25v7.25h-7.25z"/>
<path fill="#eee900" d="M1086.1 168.1h7.25v7.25h-7.25zM1093.0 147.4h7.25v7.25h-7.25zM1196.5 209.5h7.25v7.25h-7.25z"/>
<path fill="#a2ff00" d="M1051.6 223.3h7.25v7.25h-7.25zM1079.2 216.4h7.25v7.25h-7.25zM1079.2 230.2h7.25v7.25h-7.25zM1086.1 175.0h7.25v7.25h-7.25zM1093.0 223.3h7.25v7.25h-7.25zM1217.2 195.7h7.25v7.25h-7.25z"/>
<path fill="#3ebe00" d="M1065.4 195.7h7.25v7.25h-7.25z"/>
<path fill="#6c7800" d="M1051.6 257.8h7.25v7.25h-7.25zM1065.4 257.8h7.25v7.25h-7.25zM1106.8 181.9h7.25v7.25h-7.25zM1175.8 147.4h7.25v7.25h-7.25zM1224.1 181.9h7.25v7.25h-7.25z"/>
<path fill="#544200" d="M1065.4 237.1h7.25v7.25h-7.25zM1106.8 271.6h7.25v7.25h-7.25zM1113.7 154.3h7.25v7.25h-7.25zM1120.6 264.7h7.25v7.25h-7.25zM1196.5 126.7h7.25v7.25h-7.25zM1196.5 161.2h7.25v7.25h-7.25zM1217.2 181.9h7.25v7.25h-7.25z"/>
<path fill="#16be00" d="M1099.9 230.2h7.25v7.25h-7.25zM1196.5 216.4h7.25v7.25h-7.25zM1217.2 168.1h7.25v7.25h-7.25z"/>
<path fill="#54be00" d="M1051.6 209.5h7.25v7.25h-7.25zM1120.6 285.4h7.25v7.25h-7.25zM1162.0 140.5h7.25v7.25h-7.25z"/>
<path fill="#54ff00" d="M1051.6 244.0h7.25v7.25h-7.25zM1093.0 237.1h7.25v7.25h-7.25zM1141.3 223.3h7.25v7.25h-7.25z"/>
<path fill="#c85a00" d="M1079.2 250.9h7.25v7.25h-7.25z"/>
<path fill="#ee7800" d="M1099.9 126.7h7.25v7.25h-7.25z"/>
<path fill="#3e1000" d="M1148.2 140.5h7.25v7.25h-7.25zM1155.1 278.5h7.25v7.25h-7.25zM1237.9 264.7h7.25v7.25h-7.25z"/>
<path fill="#2a0b00" d="M1099.9 106.0h7.25v7.25h-7.25zM1168.9 264.7h7.25v7.25h-7.25zM1203.4 244.0h7.25v7.25h-7.25zM1203.4 264.7h7.25v7.25h-7.25z"/>
<path fill="#6c2e00" d="M1217.2 216.4h7.25v7.25h-7.25zM1231.0 181.9h7.25v7.25h-7.25z"/>
<path fill="#c87800" d="M1155.1 244.0h7.25v7.25h-7.25z"/>
<path fill="#542e00" d="M1044.7 188.8h7.25v7.25h-7.25z"/>
<path fill="#6cbe00" d="M1058.5 175.0h7.25v7.25h-7.25zM1093.0 175.0h7.25v7.25h-7.25z"/>
<path fill="#2a1500" d="M1044.7 285.4h7.25v7.25h-7.25zM1065.4 285.4h7.25v7.25h-7.25zM1189.6 271.6h7.25v7.25h-7.25zM1224.1 237.1h7.25v7.25h-7.25z"/>
<path fill="#6ce900" d="M1093.0 264.7h7.25v7.25h-7.25z"/>
<path fill="#6c5a00" d="M1058.5 250.9h7.25v7.25h-7.25zM1093.0 278.5h7.25v7.25h-7.25zM1113.7 140.5h7.25v7.25h-7.25zM1120.6 140.5h7.25v7.25h-7.25z"/>
<path fill="#16e900" d="M1058.5 237.1h7.25v7.25h-7.25z"/>
<path fill="#3e0b00" d="M1237.9 285.4h7.25v7.25h-7.25z"/>
<path fill="#2ae900" d="M1141.3 112.9h7.25v7.25h-7.25zM1217.2 209.5h7.25v7.25h-7.25z"/>
<path fill="#6c4200" d="M1079.2 140.5h7.25v7.25h-7.25zM1141.3 119.8h7.25v7.25h-7.25zM1148.2 112.9h7.25v7.25h-7.25z"/>
<path fill="#3e1500" d="M1175.8 271.6h7.25v7.25h-7.25z"/>
<path fill="#a2e900" d="M1093.0 154.3h7.25v7.25h-7.25zM1127.5 126.7h7.25v7.25h-7.25zM1134.4 285.4h7.25v7.25h-7.25z"/>
<path fill="#c8e900" d="M1072.3 133.6h7.25v7.25h-7.25zM1203.4 188.8h7.25v7.25h-7.25zM1237.9 175.0h7.25v7.25h-7.25z"/>
<path fill="#a27800" d="M1099.9 140.5h7.25v7.25h-7.25z"/>
<path fill="#3ee900" d="M1182.7 202.6h7.25v7.25h-7.25zM1231.0 161.2h7.25v7.25h-7.25z"/>
<path fill="#ff7800" d="M1106.8 278.5h7.25v7.25h-7.25z"/>
<path fill="#2a7800" d="M1086.1 133.6h7.25v7.25h-7.25zM1120.6 161.2h7.25v7.25h-7.25z"/>
<path fill="#a22e00" d="M1210.3 154.3h7.25v7.25h-7.25z"/>
<path fill="#c84200" d="M1127.5 264.7h7.25v7.25h-7.25z"/>
<path fill="#ee4200" d="M1224.1 209.5h7.25v7.25h-7.25z"/>
<path fill="#a24200" d="M1113.7 271.6h7.25v7.25h-7.25z"/>
<path fill="#c8be00" d="M1086.1 126.7h7.25v7.25h-7.25z"/>
<path fill="#001400" d="M161.9 598.7h9.01v9.00h-9.01zM161.9 607.4h9.01v9.00h-9.01zM170.5 581.5h9.01v9.00h-9.01zM170.5 598.7h9.01v9.00h-9.01zM179.2 581.5h9.01v9.00h-9.01zM179.2 616.0h9.01v9.00h-9.01zM187.9 598.7h9.01v9.00h-9.01zM205.2 590.1h9.01v9.00h-9.01zM213.8 642.0h9.01v9.00h-9.01zM239.8 469.1h9.01v9.00h-9.01zM248.5 469.1h9.01v9.00h-9.01zM248.5 555.5h9.01v9.00h-9.01zM257.1 451.8h9.01v9.00h-9.01zM265.8 486.4h9.01v9.00h-9.01zM265.8 529.6h9.01v9.00h-9.01zM274.4 477.7h9.01v9.00h-9.01zM283.1 486.4h9.01v9.00h-9.01zM283.1 538.2h9.01v9.00h-9.01zM291.8 486.4h9.01v9.00h-9.01zM300.4 486.4h9.01v9.00h-9.01zM335.0 460.4h9.01v9.00h-9.01zM335.0 477.7h9.01v9.00h-9.01zM335.0 486.4h9.01v9.00h-9.01z"/>
<path fill="#003a00" d="M153.2 598.7h9.01v9.00h-9.01zM161.9 581.5h9.01v9.00h-9.01zM161.9 616.0h9.01v9.00h-9.01zM170.5 590.1h9.01v9.00h-9.01zM170.5 616.0h9.01v9.00h-9.01zM187.9 590.1h9.01v9.00h-9.01zM187.9 616.0h9.01v9.00h-9.01zM196.5 590.1h9.01v9.00h-9.01zM205.2 616.0h9.01v9.00h-9.01zM205.2 624.7h9.01v9.00h-9.01zM213.8 590.1h9.01v9.00h-9.01zM222.5 590.1h9.01v9.00h-9.01zM222.5 633.3h9.01v9.00h-9.01zM239.8 503.7h9.01v9.00h-9.01zM257.1 503.7h9.01v9.00h-9.01zM257.1 520.9h9.01v9.00h-9.01zM265.8 469.1h9.01v9.00h-9.01zM265.8 520.9h9.01v9.00h-9.01zM274.4 451.8h9.01v9.00h-9.01zM274.4 495.0h9.01v9.00h-9.01zM283.1 451.8h9.01v9.00h-9.01zM300.4 460.4h9.01v9.00h-9.01zM309.1 460.4h9.01v9.00h-9.01zM309.1 503.7h9.01v9.00h-9.01zM317.7 512.3h9.01v9.00h-9.01zM326.4 495.0h9.01v9.00h-9.01z"/>
<path fill="#002600" d="M144.6 581.5h9.01v9.00h-9.01zM144.6 590.1h9.01v9.00h-9.01zM161.9 590.1h9.01v9.00h-9.01zM179.2 598.7h9.01v9.00h-9.01zM179.2 607.4h9.01v9.00h-9.01zM187.9 581.5h9.01v9.00h-9.01zM187.9 607.4h9.01v9.00h-9.01zM187.9 624.7h9.01v9.00h-9.01zM196.5 572.8h9.01v9.00h-9.01zM196.5 607.4h9.01v9.00h-9.01zM205.2 572.8h9.01v9.00h-9.01zM205.2 598.7h9.01v9.00h-9.01zM205.2 607.4h9.01v9.00h-9.01zM222.5 572.8h9.01v9.00h-9.01zM222.5 598.7h9.01v9.00h-9.01zM222.5 616.0h9.01v9.00h-9.01zM239.8 529.6h9.01v9.00h-9.01zM257.1 469.1h9.01v9.00h-9.01zM257.1 477.7h9.01v9.00h-9.01zM257.1 529.6h9.01v9.00h-9.01zM265.8 460.4h9.01v9.00h-9.01zM265.8 503.7h9.01v9.00h-9.01zM274.4 486.4h9.01v9.00h-9.01zM283.1 477.7h9.01v9.00h-9.01zM283.1 495.0h9.01v9.00h-9.01zM291.8 477.7h9.01v9.00h-9.01zM291.8 512.3h9.01v9.00h-9.01zM300.4 512.3h9.01v9.00h-9.01zM317.7 477.7h9.01v9.00h-9.01zM326.4 469.1h9.01v9.00h-9.01z"/>
<path fill="#00c800" d="M135.9 607.4h9.01v9.00h-9.01zM187.9 642.0h9.01v9.00h-9.01zM205.2 642.0h9.01v9.00h-9.01zM213.8 633.3h9.01v9.00h-9.01zM248.5 495.0h9.01v9.00h-9.01zM248.5 503.7h9.01v9.00h-9.01zM274.4 460.4h9.01v9.00h-9.01zM317.7 469.1h9.01v9.00h-9.01z"/>
<path fill="#5aff5a" d="M144.6 598.7h9.01v9.00h-9.01zM196.5 633.3h9.01v9.00h-9.01zM213.8 572.8h9.01v9.00h-9.01zM213.8 616.0h9.01v9.00h-9.01zM283.1 460.4h9.01v9.00h-9.01zM300.4 469.1h9.01v9.00h-9.01z"/>
<path fill="#009600" d="M135.9 598.7h9.01v9.00h-9.01zM196.5 642.0h9.01v9.00h-9.01zM239.8 512.3h9.01v9.00h-9.01zM248.5 529.6h9.01v9.00h-9.01zM283.1 529.6h9.01v9.00h-9.01zM291.8 460.4h9.01v9.00h-9.01zM317.7 503.7h9.01v9.00h-9.01zM326.4 503.7h9.01v9.00h-9.01z"/>
<path fill="#005200" d="M153.2 607.4h9.01v9.00h-9.01zM153.2 616.0h9.01v9.00h-9.01zM161.9 633.3h9.01v9.00h-9.01zM179.2 642.0h9.01v9.00h-9.01zM196.5 616.0h9.01v9.00h-9.01zM205.2 581.5h9.01v9.00h-9.01zM213.8 624.7h9.01v9.00h-9.01zM222.5 607.4h9.01v9.00h-9.01zM222.5 624.7h9.01v9.00h-9.01zM239.8 477.7h9.01v9.00h-9.01zM239.8 538.2h9.01v9.00h-9.01zM257.1 495.0h9.01v9.00h-9.01zM257.1 538.2h9.01v9.00h-9.01zM265.8 495.0h9.01v9.00h-9.01zM265.8 512.3h9.01v9.00h-9.01zM274.4 469.1h9.01v9.00h-9.01zM274.4 538.2h9.01v9.00h-9.01zM283.1 469.1h9.01v9.00h-9.01zM283.1 520.9h9.01v9.00h-9.01zM291.8 520.9h9.01v9.00h-9.01zM300.4 520.9h9.01v9.00h-9.01zM317.7 495.0h9.01v9.00h-9.01zM326.4 486.4h9.01v9.00h-9.01z"/>
<path fill="#cdffcd" d="M170.5 633.3h9.01v9.00h-9.01zM179.2 624.7h9.01v9.00h-9.01zM179.2 633.3h9.01v9.00h-9.01zM187.9 633.3h9.01v9.00h-9.01zM205.2 633.3h9.01v9.00h-9.01zM213.8 581.5h9.01v9.00h-9.01zM213.8 607.4h9.01v9.00h-9.01zM239.8 520.9h9.01v9.00h-9.01zM248.5 512.3h9.01v9.00h-9.01zM248.5 520.9h9.01v9.00h-9.01zM265.8 538.2h9.01v9.00h-9.01zM283.1 503.7h9.01v9.00h-9.01zM283.1 512.3h9.01v9.00h-9.01zM291.8 469.1h9.01v9.00h-9.01zM291.8 503.7h9.01v9.00h-9.01zM300.4 495.0h9.01v9.00h-9.01zM309.1 477.7h9.01v9.00h-9.01zM309.1 486.4h9.01v9.00h-9.01zM309.1 495.0h9.01v9.00h-9.01zM317.7 486.4h9.01v9.00h-9.01z"/>
<path fill="#007000" d="M144.6 616.0h9.01v9.00h-9.01zM179.2 590.1h9.01v9.00h-9.01zM196.5 581.5h9.01v9.00h-9.01zM196.5 598.7h9.01v9.00h-9.01zM213.8 598.7h9.01v9.00h-9.01zM239.8 486.4h9.01v9.00h-9.01zM248.5 546.9h9.01v9.00h-9.01zM257.1 512.3h9.01v9.00h-9.01zM274.4 503.7h9.01v9.00h-9.01zM274.4 529.6h9.01v9.00h-9.01zM300.4 503.7h9.01v9.00h-9.01zM309.1 469.1h9.01v9.00h-9.01z"/>
<path fill="#00f500" d="M144.6 607.4h9.01v9.00h-9.01zM153.2 624.7h9.01v9.00h-9.01zM161.9 624.7h9.01v9.00h-9.01zM170.5 624.7h9.01v9.00h-9.01zM222.5 581.5h9.01v9.00h-9.01zM248.5 477.7h9.01v9.00h-9.01zM257.1 486.4h9.01v9.00h-9.01zM265.8 477.7h9.01v9.00h-9.01zM274.4 512.3h9.01v9.00h-9.01zM291.8 495.0h9.01v9.00h-9.01zM300.4 477.7h9.01v9.00h-9.01zM309.1 512.3h9.01v9.00h-9.01zM326.4 477.7h9.01v9.00h-9.01zM335.0 495.0h9.01v9.00h-9.01z"/>
<path fill="#000826" d="M583.2 590.1h8.97v9.00h-8.97zM591.9 607.4h8.97v9.00h-8.97zM591.9 633.3h8.97v9.00h-8.97zM600.5 590.1h8.97v9.00h-8.97zM617.8 590.1h8.97v9.00h-8.97zM635.0 598.7h8.97v9.00h-8.97zM635.0 607.4h8.97v9.00h-8.97zM643.6 572.8h8.97v9.00h-8.97zM643.6 598.7h8.97v9.00h-8.97zM652.2 572.8h8.97v9.00h-8.97zM660.9 633.3h8.97v9.00h-8.97zM678.1 495.0h8.97v9.00h-8.97zM695.4 469.1h8.97v9.00h-8.97zM695.4 520.9h8.97v9.00h-8.97zM695.4 529.6h8.97v9.00h-8.97zM704.0 495.0h8.97v9.00h-8.97zM704.0 503.7h8.97v9.00h-8.97zM712.6 451.8h8.97v9.00h-8.97zM712.6 469.1h8.97v9.00h-8.97zM712.6 477.7h8.97v9.00h-8.97zM712.6 495.0h8.97v9.00h-8.97zM712.6 529.6h8.97v9.00h-8.97zM729.9 451.8h8.97v9.00h-8.97zM729.9 477.7h8.97v9.00h-8.97zM729.9 503.7h8.97v9.00h-8.97zM729.9 512.3h8.97v9.00h-8.97zM738.5 529.6h8.97v9.00h-8.97zM781.6 503.7h8.97v9.00h-8.97z"/>
<path fill="#001a64" d="M600.5 616.0h8.97v9.00h-8.97zM600.5 633.3h8.97v9.00h-8.97zM617.8 598.7h8.97v9.00h-8.97zM617.8 642.0h8.97v9.00h-8.97zM635.0 642.0h8.97v9.00h-8.97zM652.2 581.5h8.97v9.00h-8.97zM652.2 598.7h8.97v9.00h-8.97zM660.9 616.0h8.97v9.00h-8.97zM678.1 486.4h8.97v9.00h-8.97zM686.8 503.7h8.97v9.00h-8.97zM695.4 486.4h8.97v9.00h-8.97zM695.4 503.7h8.97v9.00h-8.97zM721.2 451.8h8.97v9.00h-8.97zM721.2 469.1h8.97v9.00h-8.97zM729.9 460.4h8.97v9.00h-8.97zM729.9 495.0h8.97v9.00h-8.97zM738.5 477.7h8.97v9.00h-8.97zM738.5 503.7h8.97v9.00h-8.97zM747.1 503.7h8.97v9.00h-8.97z"/>
<path fill="#003ed7" d="M609.1 590.1h8.97v9.00h-8.97zM609.1 624.7h8.97v9.00h-8.97zM609.1 633.3h8.97v9.00h-8.97zM660.9 590.1h8.97v9.00h-8.97zM660.9 598.7h8.97v9.00h-8.97zM712.6 460.4h8.97v9.00h-8.97zM712.6 503.7h8.97v9.00h-8.97zM738.5 469.1h8.97v9.00h-8.97zM738.5 520.9h8.97v9.00h-8.97zM747.1 512.3h8.97v9.00h-8.97z"/>
<path fill="#5f87ff" d="M574.6 598.7h8.97v9.00h-8.97zM591.9 616.0h8.97v9.00h-8.97zM626.4 633.3h8.97v9.00h-8.97zM635.0 581.5h8.97v9.00h-8.97zM652.2 607.4h8.97v9.00h-8.97zM721.2 460.4h8.97v9.00h-8.97zM721.2 503.7h8.97v9.00h-8.97z"/>
<path fill="#0030af" d="M574.6 607.4h8.97v9.00h-8.97zM617.8 624.7h8.97v9.00h-8.97zM660.9 607.4h8.97v9.00h-8.97zM678.1 512.3h8.97v9.00h-8.97zM695.4 538.2h8.97v9.00h-8.97zM704.0 538.2h8.97v9.00h-8.97zM721.2 512.3h8.97v9.00h-8.97zM738.5 460.4h8.97v9.00h-8.97zM747.1 495.0h8.97v9.00h-8.97zM764.4 495.0h8.97v9.00h-8.97zM764.4 503.7h8.97v9.00h-8.97z"/>
<path fill="#002487" d="M591.9 624.7h8.97v9.00h-8.97zM626.4 642.0h8.97v9.00h-8.97zM635.0 616.0h8.97v9.00h-8.97zM643.6 581.5h8.97v9.00h-8.97zM643.6 624.7h8.97v9.00h-8.97zM660.9 581.5h8.97v9.00h-8.97zM686.8 529.6h8.97v9.00h-8.97zM704.0 469.1h8.97v9.00h-8.97zM729.9 520.9h8.97v9.00h-8.97zM747.1 460.4h8.97v9.00h-8.97zM755.8 495.0h8.97v9.00h-8.97z"/>
<path fill="#0f69ff" d="M729.9 469.1h8.97v9.00h-8.97zM755.8 469.1h8.97v9.00h-8.97z"/>
<path fill="#e8d7ff" d="M583.2 598.7h8.97v9.00h-8.97zM600.5 624.7h8.97v9.00h-8.97zM617.8 633.3h8.97v9.00h-8.97zM643.6 633.3h8.97v9.00h-8.97zM643.6 642.0h8.97v9.00h-8.97zM652.2 633.3h8.97v9.00h-8.97zM678.1 520.9h8.97v9.00h-8.97zM678.1 538.2h8.97v9.00h-8.97zM686.8 512.3h8.97v9.00h-8.97zM686.8 520.9h8.97v9.00h-8.97zM712.6 512.3h8.97v9.00h-8.97zM747.1 469.1h8.97v9.00h-8.97zM747.1 486.4h8.97v9.00h-8.97zM755.8 486.4h8.97v9.00h-8.97zM773.0 495.0h8.97v9.00h-8.97z"/>
<path fill="#001044" d="M583.2 616.0h8.97v9.00h-8.97zM609.1 642.0h8.97v9.00h-8.97zM617.8 581.5h8.97v9.00h-8.97zM626.4 581.5h8.97v9.00h-8.97zM635.0 633.3h8.97v9.00h-8.97zM643.6 607.4h8.97v9.00h-8.97zM643.6 616.0h8.97v9.00h-8.97zM652.2 590.1h8.97v9.00h-8.97zM660.9 624.7h8.97v9.00h-8.97zM678.1 529.6h8.97v9.00h-8.97zM678.1 546.9h8.97v9.00h-8.97zM686.8 477.7h8.97v9.00h-8.97zM686.8 546.9h8.97v9.00h-8.97zM695.4 477.7h8.97v9.00h-8.97zM695.4 495.0h8.97v9.00h-8.97zM695.4 512.3h8.97v9.00h-8.97zM704.0 477.7h8.97v9.00h-8.97zM704.0 512.3h8.97v9.00h-8.97zM704.0 520.9h8.97v9.00h-8.97zM704.0 529.6h8.97v9.00h-8.97zM712.6 538.2h8.97v9.00h-8.97zM721.2 538.2h8.97v9.00h-8.97zM755.8 477.7h8.97v9.00h-8.97zM755.8 512.3h8.97v9.00h-8.97zM764.4 486.4h8.97v9.00h-8.97z"/>
<path fill="#a5aaff" d="M686.8 495.0h8.97v9.00h-8.97zM721.2 529.6h8.97v9.00h-8.97zM738.5 495.0h8.97v9.00h-8.97zM747.1 477.7h8.97v9.00h-8.97zM755.8 503.7h8.97v9.00h-8.97z"/>
<path fill="#0050fa" d="M583.2 607.4h8.97v9.00h-8.97zM652.2 616.0h8.97v9.00h-8.97zM652.2 624.7h8.97v9.00h-8.97zM764.4 477.7h8.97v9.00h-8.97z"/>
<path fill="#000412" d="M497.0 460.4h8.97v9.00h-8.97zM522.9 477.7h8.97v9.00h-8.97zM531.5 642.0h8.97v9.00h-8.97zM540.1 598.7h8.97v9.00h-8.97zM548.8 590.1h8.97v9.00h-8.97zM548.8 598.7h8.97v9.00h-8.97zM548.8 607.4h8.97v9.00h-8.97zM557.4 503.7h8.97v9.00h-8.97zM566.0 538.2h8.97v9.00h-8.97zM574.6 443.1h8.97v9.00h-8.97zM574.6 486.4h8.97v9.00h-8.97zM600.5 512.3h8.97v9.00h-8.97zM617.8 443.1h8.97v9.00h-8.97zM626.4 425.8h8.97v9.00h-8.97zM678.1 581.5h8.97v9.00h-8.97zM678.1 667.9h8.97v9.00h-8.97zM686.8 633.3h8.97v9.00h-8.97zM686.8 667.9h8.97v9.00h-8.97zM704.0 572.8h8.97v9.00h-8.97zM764.4 555.5h8.97v9.00h-8.97z"/>
<path fill="#000c00" d="M1038.1 598.7h9.01v9.00h-9.01zM1038.1 607.4h9.01v9.00h-9.01zM1046.7 581.5h9.01v9.00h-9.01zM1046.7 598.7h9.01v9.00h-9.01zM1055.4 616.0h9.01v9.00h-9.01zM1064.1 598.7h9.01v9.00h-9.01zM1081.4 590.1h9.01v9.00h-9.01zM1090.0 642.0h9.01v9.00h-9.01zM1116.0 469.1h9.01v9.00h-9.01zM1124.7 469.1h9.01v9.00h-9.01zM1124.7 555.5h9.01v9.00h-9.01zM1133.3 451.8h9.01v9.00h-9.01zM1142.0 486.4h9.01v9.00h-9.01zM1159.3 486.4h9.01v9.00h-9.01zM1168.0 486.4h9.01v9.00h-9.01zM1176.6 486.4h9.01v9.00h-9.01zM1211.2 460.4h9.01v9.00h-9.01zM1211.2 477.7h9.01v9.00h-9.01zM1211.2 486.4h9.01v9.00h-9.01z"/>
<path fill="#000428" d="M1029.4 633.3h9.01v9.00h-9.01zM1116.0 495.0h9.01v9.00h-9.01zM1168.0 451.8h9.01v9.00h-9.01zM1176.6 529.6h9.01v9.00h-9.01zM1219.9 503.7h9.01v9.00h-9.01z"/>
<path fill="#00428e" d="M1072.7 616.0h9.01v9.00h-9.01zM1081.4 581.5h9.01v9.00h-9.01zM1168.0 520.9h9.01v9.00h-9.01zM1193.9 495.0h9.01v9.00h-9.01z"/>
<path fill="#001800" d="M1020.8 581.5h9.01v9.00h-9.01zM1055.4 607.4h9.01v9.00h-9.01zM1064.1 607.4h9.01v9.00h-9.01zM1064.1 624.7h9.01v9.00h-9.01zM1072.7 572.8h9.01v9.00h-9.01zM1098.7 572.8h9.01v9.00h-9.01zM1142.0 460.4h9.01v9.00h-9.01zM1150.6 486.4h9.01v9.00h-9.01zM1159.3 477.7h9.01v9.00h-9.01zM1159.3 495.0h9.01v9.00h-9.01zM1176.6 512.3h9.01v9.00h-9.01zM1202.6 469.1h9.01v9.00h-9.01z"/>
<path fill="#1264ff" d="M1029.4 616.0h9.01v9.00h-9.01zM1116.0 538.2h9.01v9.00h-9.01z"/>
<path fill="#00e0ff" d="M1020.8 598.7h9.01v9.00h-9.01zM1159.3 460.4h9.01v9.00h-9.01z"/>
<path fill="#001347" d="M1055.4 581.5h9.01v9.00h-9.01zM1142.0 529.6h9.01v9.00h-9.01zM1159.3 538.2h9.01v9.00h-9.01z"/>
<path fill="#002400" d="M1029.4 598.7h9.01v9.00h-9.01zM1038.1 581.5h9.01v9.00h-9.01zM1046.7 616.0h9.01v9.00h-9.01zM1064.1 590.1h9.01v9.00h-9.01zM1064.1 616.0h9.01v9.00h-9.01zM1072.7 590.1h9.01v9.00h-9.01zM1116.0 503.7h9.01v9.00h-9.01z"/>
<path fill="#00f069" d="M1090.0 581.5h9.01v9.00h-9.01z"/>
<path fill="#007569" d="M1124.7 503.7h9.01v9.00h-9.01z"/>
<path fill="#00ffff" d="M1055.4 633.3h9.01v9.00h-9.01zM1064.1 633.3h9.01v9.00h-9.01zM1081.4 633.3h9.01v9.00h-9.01zM1090.0 607.4h9.01v9.00h-9.01zM1116.0 520.9h9.01v9.00h-9.01zM1124.7 512.3h9.01v9.00h-9.01zM1124.7 520.9h9.01v9.00h-9.01zM1159.3 503.7h9.01v9.00h-9.01zM1168.0 469.1h9.01v9.00h-9.01zM1176.6 495.0h9.01v9.00h-9.01zM1185.3 477.7h9.01v9.00h-9.01zM1185.3 486.4h9.01v9.00h-9.01zM1193.9 486.4h9.01v9.00h-9.01z"/>
<path fill="#002b47" d="M1081.4 616.0h9.01v9.00h-9.01zM1090.0 590.1h9.01v9.00h-9.01zM1142.0 520.9h9.01v9.00h-9.01zM1193.9 512.3h9.01v9.00h-9.01z"/>
<path fill="#00fab8" d="M1055.4 624.7h9.01v9.00h-9.01zM1142.0 538.2h9.01v9.00h-9.01zM1159.3 512.3h9.01v9.00h-9.01zM1185.3 495.0h9.01v9.00h-9.01z"/>
<path fill="#001c28" d="M1020.8 590.1h9.01v9.00h-9.01zM1038.1 590.1h9.01v9.00h-9.01zM1072.7 607.4h9.01v9.00h-9.01zM1081.4 572.8h9.01v9.00h-9.01zM1081.4 598.7h9.01v9.00h-9.01zM1133.3 469.1h9.01v9.00h-9.01zM1133.3 529.6h9.01v9.00h-9.01zM1142.0 503.7h9.01v9.00h-9.01zM1168.0 477.7h9.01v9.00h-9.01zM1168.0 512.3h9.01v9.00h-9.01z"/>
<path fill="#004c69" d="M1090.0 598.7h9.01v9.00h-9.01zM1116.0 486.4h9.01v9.00h-9.01zM1176.6 503.7h9.01v9.00h-9.01z"/>
<path fill="#003e69" d="M1038.1 633.3h9.01v9.00h-9.01zM1055.4 642.0h9.01v9.00h-9.01zM1159.3 469.1h9.01v9.00h-9.01z"/>
<path fill="#00b2ff" d="M1038.1 624.7h9.01v9.00h-9.01zM1150.6 512.3h9.01v9.00h-9.01zM1211.2 495.0h9.01v9.00h-9.01z"/>
<path fill="#00a4ff" d="M1020.8 607.4h9.01v9.00h-9.01zM1202.6 477.7h9.01v9.00h-9.01z"/>
<path fill="#00d3ff" d="M1090.0 616.0h9.01v9.00h-9.01z"/>
<path fill="#0098ff" d="M1193.9 469.1h9.01v9.00h-9.01z"/>
<path fill="#002828" d="M1098.7 633.3h9.01v9.00h-9.01zM1133.3 520.9h9.01v9.00h-9.01zM1150.6 451.8h9.01v9.00h-9.01zM1150.6 495.0h9.01v9.00h-9.01z"/>
<path fill="#004428" d="M1055.4 590.1h9.01v9.00h-9.01zM1072.7 598.7h9.01v9.00h-9.01zM1150.6 529.6h9.01v9.00h-9.01z"/>
<path fill="#008747" d="M1124.7 477.7h9.01v9.00h-9.01zM1142.0 477.7h9.01v9.00h-9.01z"/>
<path fill="#002469" d="M1055.4 598.7h9.01v9.00h-9.01zM1098.7 616.0h9.01v9.00h-9.01z"/>
<path fill="#003069" d="M1038.1 616.0h9.01v9.00h-9.01zM1133.3 503.7h9.01v9.00h-9.01zM1159.3 451.8h9.01v9.00h-9.01zM1185.3 503.7h9.01v9.00h-9.01z"/>
<path fill="#003628" d="M1029.4 607.4h9.01v9.00h-9.01zM1142.0 495.0h9.01v9.00h-9.01zM1150.6 469.1h9.01v9.00h-9.01z"/>
<path fill="#1284ff" d="M1012.1 598.7h9.01v9.00h-9.01zM1159.3 529.6h9.01v9.00h-9.01zM1193.9 503.7h9.01v9.00h-9.01z"/>
<path fill="#00b328" d="M1090.0 572.8h9.01v9.00h-9.01z"/>
<path fill="#009aff" d="M1081.4 642.0h9.01v9.00h-9.01zM1090.0 633.3h9.01v9.00h-9.01zM1124.7 495.0h9.01v9.00h-9.01z"/>
<path fill="#0068b8" d="M1116.0 512.3h9.01v9.00h-9.01zM1202.6 503.7h9.01v9.00h-9.01z"/>
<path fill="#001f47" d="M1064.1 581.5h9.01v9.00h-9.01zM1081.4 607.4h9.01v9.00h-9.01zM1116.0 529.6h9.01v9.00h-9.01zM1133.3 477.7h9.01v9.00h-9.01zM1193.9 477.7h9.01v9.00h-9.01z"/>
<path fill="#125ce2" d="M1150.6 503.7h9.01v9.00h-9.01z"/>
<path fill="#00628e" d="M1124.7 529.6h9.01v9.00h-9.01z"/>
<path fill="#000747" d="M1046.7 642.0h9.01v9.00h-9.01zM1116.0 546.9h9.01v9.00h-9.01z"/>
<path fill="#004747" d="M1020.8 616.0h9.01v9.00h-9.01zM1124.7 546.9h9.01v9.00h-9.01zM1133.3 512.3h9.01v9.00h-9.01z"/>
<path fill="#00ffe2" d="M1046.7 633.3h9.01v9.00h-9.01z"/>
<path fill="#1285e2" d="M1150.6 460.4h9.01v9.00h-9.01z"/>
<path fill="#003947" d="M1098.7 624.7h9.01v9.00h-9.01zM1133.3 495.0h9.01v9.00h-9.01zM1142.0 512.3h9.01v9.00h-9.01zM1150.6 538.2h9.01v9.00h-9.01zM1202.6 486.4h9.01v9.00h-9.01z"/>
<path fill="#00348e" d="M1081.4 624.7h9.01v9.00h-9.01zM1142.0 469.1h9.01v9.00h-9.01zM1185.3 460.4h9.01v9.00h-9.01z"/>
<path fill="#00cbe2" d="M1176.6 469.1h9.01v9.00h-9.01z"/>
<path fill="#001028" d="M1150.6 477.7h9.01v9.00h-9.01z"/>
<path fill="#1240e2" d="M1046.7 590.1h9.01v9.00h-9.01zM1098.7 590.1h9.01v9.00h-9.01z"/>
<path fill="#00b647" d="M1072.7 633.3h9.01v9.00h-9.01z"/>
<path fill="#007fb8" d="M1012.1 607.4h9.01v9.00h-9.01z"/>
<path fill="#009ce2" d="M1046.7 624.7h9.01v9.00h-9.01zM1185.3 512.3h9.01v9.00h-9.01z"/>
<path fill="#003200" d="M1116.0 477.7h9.01v9.00h-9.01zM1159.3 520.9h9.01v9.00h-9.01z"/>
<path fill="#124ee2" d="M1176.6 520.9h9.01v9.00h-9.01z"/>
<path fill="#003ab8" d="M1176.6 460.4h9.01v9.00h-9.01zM1202.6 495.0h9.01v9.00h-9.01z"/>
<path fill="#1272ff" d="M1072.7 581.5h9.01v9.00h-9.01zM1185.3 469.1h9.01v9.00h-9.01z"/>
<path fill="#008c69" d="M1133.3 486.4h9.01v9.00h-9.01zM1168.0 495.0h9.01v9.00h-9.01zM1176.6 477.7h9.01v9.00h-9.01z"/>
<path fill="#005e69" d="M1072.7 642.0h9.01v9.00h-9.01zM1168.0 460.4h9.01v9.00h-9.01z"/>
<path fill="#0048b8" d="M1098.7 607.4h9.01v9.00h-9.01zM1133.3 538.2h9.01v9.00h-9.01z"/>
<path fill="#00e828" d="M1168.0 503.7h9.01v9.00h-9.01z"/>
<path fill="#00908e" d="M1029.4 624.7h9.01v9.00h-9.01zM1098.7 581.5h9.01v9.00h-9.01z"/>
<path fill="#1234e2" d="M1098.7 598.7h9.01v9.00h-9.01z"/>
<path fill="#00798e" d="M1064.1 642.0h9.01v9.00h-9.01z"/>
<path fill="#1256ff" d="M1090.0 624.7h9.01v9.00h-9.01z"/>
<g>
<polygon points="1590.0,212.0 1638.0,208.0 1632.0,222.0 1590.0,230.0" fill="#3a1a00" filter="url(#b3_5)" opacity="0.45"/>
<polygon points="1519.5,142.0 1540.0,133.0 1562.0,128.5 1645.0,189.0 1645.0,194.5 1561.0,250.5 1513.5,251.0" fill="#5a2a00" filter="url(#b3_5)" opacity="1"/>
<polygon points="1521.5,146.0 1545.0,137.0 1555.0,134.5 1640.0,189.5 1640.0,193.5 1559.0,247.5 1516.5,248.0" fill="#b87014" filter="url(#b2_5)" opacity="1"/>
<polygon points="1524.0,150.0 1546.0,141.0 1554.0,139.5 1635.0,190.0 1635.0,193.0 1557.0,244.0 1519.5,245.0" fill="#f0c444" filter="url(#b2_5)" opacity="1"/>
<polygon points="1530.0,160.0 1553.0,151.0 1620.0,189.5 1618.0,194.5 1554.0,236.0 1526.0,238.0" fill="#fbf27a" filter="url(#b5)" opacity="1"/>
</g>
<clipPath id="ch"><rect x="1371.6" y="417.2" width="345.3" height="268.0"/></clipPath>
<g clip-path="url(#ch)">
<polygon points="1516.0,497.1 1596.6,443.1 1607.1,442.2 1659.9,472.1 1650.0,504.4 1570.2,553.9 1507.6,552.8" fill="#4a2200" filter="url(#b5)" opacity="1"/>
<polygon points="1522.0,496.9 1595.4,448.9 1604.9,447.8 1654.1,473.9 1644.0,503.6 1571.8,548.1 1512.4,549.2" fill="#b06c10" filter="url(#b5)" opacity="1"/>
<polygon points="1527.0,496.8 1594.5,453.9 1603.1,452.5 1649.4,475.4 1639.1,502.9 1573.2,543.3 1516.5,546.3" fill="#e2a62c" filter="url(#b5)" opacity="1"/>
<polygon points="1427.0,611.3 1538.5,560.4 1556.1,560.9 1555.6,580.6 1542.6,650.6 1465.9,653.2" fill="#4a2200" filter="url(#b5)" opacity="1"/>
<polygon points="1433.0,610.7 1535.5,565.6 1551.9,565.1 1550.4,583.4 1539.4,645.4 1470.1,648.8" fill="#b06c10" filter="url(#b5)" opacity="1"/>
<polygon points="1438.0,610.2 1533.0,569.9 1548.3,568.6 1545.9,585.8 1536.9,641.2 1473.5,645.2" fill="#e2a62c" filter="url(#b5)" opacity="1"/>
<polygon points="1528.0,522.0 1582.0,496.0 1602.0,508.0 1574.0,541.0 1526.0,544.0" fill="#fbf070" filter="url(#b7)" opacity="1"/>
<polygon points="1476.0,613.0 1530.0,589.0 1541.0,602.0 1532.0,641.0 1489.0,643.0" fill="#fbf070" filter="url(#b7)" opacity="1"/>
<ellipse cx="1593" cy="490" rx="22" ry="10" fill="#a05c0c" filter="url(#b7)" opacity="0.7"/>
<circle cx="1539.5" cy="646" r="3" fill="#fff9a0" filter="url(#b1_5)"/>
<circle cx="1574" cy="646" r="7.5" fill="none" stroke="#2a2000" stroke-width="1"/>
</g>
<text transform="translate(93.0,339.2) scale(1.030,1)" font-size="22.8" fill="#fff" stroke="#fff" stroke-width="0.50">0.2 µm</text>
<rect x="84.9" y="348.9" width="89.1" height="3.4" fill="#fff"/>
<text transform="translate(518.8,338.7) scale(1.030,1)" font-size="22.8" fill="#fff" stroke="#fff" stroke-width="0.50">0.2 µm</text>
<rect x="511.1" y="348.9" width="88.6" height="3.4" fill="#fff"/>
<text transform="translate(969.2,337.7) scale(1.030,1)" font-size="22.8" fill="#fff" stroke="#fff" stroke-width="0.50">0.2 µm</text>
<rect x="960.8" y="347.8" width="88.9" height="3.4" fill="#fff"/>
<text transform="translate(1393.4,337.7) scale(1.030,1)" font-size="22.8" fill="#fff" stroke="#fff" stroke-width="0.50">0.2 µm</text>
<rect x="1385.8" y="347.8" width="88.5" height="3.4" fill="#fff"/>
<text transform="translate(92.9,666.2) scale(1.030,1)" font-size="22.8" fill="#fff" stroke="#fff" stroke-width="0.50">0.2 µm</text>
<rect x="91.7" y="674.7" width="70.5" height="3.4" fill="#fff"/>
<text transform="translate(527.9,666.2) scale(1.030,1)" font-size="22.8" fill="#fff" stroke="#fff" stroke-width="0.50">0.2 µm</text>
<rect x="529.4" y="674.3" width="70.3" height="3.4" fill="#fff"/>
<text transform="translate(956.8,666.2) scale(1.030,1)" font-size="22.8" fill="#fff" stroke="#fff" stroke-width="0.50">0.2 µm</text>
<rect x="957.2" y="674.9" width="70.6" height="3.4" fill="#fff"/>
<text transform="translate(1391.4,666.2) scale(1.030,1)" font-size="22.8" fill="#fff" stroke="#fff" stroke-width="0.50">0.2 µm</text>
<rect x="1391.3" y="673.8" width="70.0" height="3.4" fill="#fff"/>
<text transform="translate(1.0,23.0) scale(1.060,1)" font-size="28.5" fill="#000" stroke="#000" stroke-width="0.35">a)</text>
<text transform="translate(441.5,23.0) scale(1.060,1)" font-size="28.5" fill="#000" stroke="#000" stroke-width="0.35">b)</text>
<text transform="translate(879.2,23.0) scale(1.060,1)" font-size="28.5" fill="#000" stroke="#000" stroke-width="0.35">c)</text>
<text transform="translate(1330.4,23.0) scale(1.060,1)" font-size="28.5" fill="#000" stroke="#000" stroke-width="0.35">d)</text>
<text transform="translate(1.3,399.7) scale(1.060,1)" font-size="28.5" fill="#000" stroke="#000" stroke-width="0.35">e)</text>
<text transform="translate(445.9,399.7) scale(1.060,1)" font-size="28.5" fill="#000" stroke="#000" stroke-width="0.35">f)</text>
<text transform="translate(878.6,399.7) scale(1.060,1)" font-size="28.5" fill="#000" stroke="#000" stroke-width="0.35">g)</text>
<text transform="translate(1330.7,399.7) scale(1.060,1)" font-size="28.5" fill="#000" stroke="#000" stroke-width="0.35">h)</text>
<text transform="translate(6.2,735.4) scale(1.060,1)" font-size="28.5" fill="#000" stroke="#000" stroke-width="0.35">i)</text>
<text transform="translate(447.0,735.4) scale(1.060,1)" font-size="28.5" fill="#000" stroke="#000" stroke-width="0.35">j)</text>
<text transform="translate(879.1,735.4) scale(1.060,1)" font-size="28.5" fill="#000" stroke="#000" stroke-width="0.35">k)</text>
<text transform="translate(1335.4,735.4) scale(1.060,1)" font-size="28.5" fill="#000" stroke="#000" stroke-width="0.35">l)</text>
<rect x="70.0" y="741.6" width="324.5" height="329.6" fill="none" stroke="#000" stroke-width="3.7"/>
<line x1="70.0" y1="1071.2" x2="70.0" y2="1080.9" stroke="#000" stroke-width="3.3"/>
<text transform="translate(70.3,1108.6) scale(1.030,1)" font-size="23.5" fill="#000" text-anchor="middle" stroke="#000" stroke-width="0.35">800</text>
<line x1="134.9" y1="1071.2" x2="134.9" y2="1080.9" stroke="#000" stroke-width="3.3"/>
<text transform="translate(135.2,1108.6) scale(1.030,1)" font-size="23.5" fill="#000" text-anchor="middle" stroke="#000" stroke-width="0.35">1000</text>
<line x1="199.8" y1="1071.2" x2="199.8" y2="1080.9" stroke="#000" stroke-width="3.3"/>
<text transform="translate(200.1,1108.6) scale(1.030,1)" font-size="23.5" fill="#000" text-anchor="middle" stroke="#000" stroke-width="0.35">1200</text>
<line x1="264.7" y1="1071.2" x2="264.7" y2="1080.9" stroke="#000" stroke-width="3.3"/>
<text transform="translate(265.0,1108.6) scale(1.030,1)" font-size="23.5" fill="#000" text-anchor="middle" stroke="#000" stroke-width="0.35">1400</text>
<line x1="329.6" y1="1071.2" x2="329.6" y2="1080.9" stroke="#000" stroke-width="3.3"/>
<text transform="translate(329.9,1108.6) scale(1.030,1)" font-size="23.5" fill="#000" text-anchor="middle" stroke="#000" stroke-width="0.35">1600</text>
<line x1="394.5" y1="1071.2" x2="394.5" y2="1080.9" stroke="#000" stroke-width="3.3"/>
<text transform="translate(394.8,1108.6) scale(1.030,1)" font-size="23.5" fill="#000" text-anchor="middle" stroke="#000" stroke-width="0.35">1800</text>
<text transform="translate(232.6,1140.0) scale(1.030,1)" font-size="23.5" fill="#000" text-anchor="middle" stroke="#000" stroke-width="0.35">Raman shift [cm<tspan font-size="14.5" dy="-12.2" dx="1">-1</tspan><tspan dy="12.2" dx="0.5">]</tspan></text>
<polyline fill="none" stroke="#12c264" stroke-width="3.6" stroke-linejoin="round" stroke-linecap="round" points="70.0,820.3 70.5,821.0 71.0,816.1 71.6,815.9 72.1,813.3 72.6,814.2 73.1,817.1 73.6,818.0 74.2,811.0 74.7,817.1 75.2,819.3 75.7,820.5 76.2,817.6 76.7,817.1 77.3,818.3 77.8,817.7 78.3,816.8 78.8,815.7 79.3,814.5 79.9,816.6 80.4,821.9 80.9,816.5 81.4,821.0 81.9,818.6 82.5,821.5 83.0,818.3 83.5,819.8 84.0,817.5 84.5,809.5 85.1,816.7 85.6,815.6 86.1,820.9 86.6,819.1 87.1,816.5 87.7,818.0 88.2,817.1 88.7,817.7 89.2,820.5 89.7,817.1 90.2,820.0 90.8,813.8 91.3,818.8 91.8,816.6 92.3,818.0 92.8,815.9 93.4,819.5 93.9,816.0 94.4,818.4 94.9,815.3 95.4,816.4 96.0,817.8 96.5,820.3 97.0,816.9 97.5,817.1 98.0,814.2 98.6,818.9 99.1,817.3 99.6,817.2 100.1,817.7 100.6,818.0 101.2,818.1 101.7,820.1 102.2,821.4 102.7,820.1 103.2,817.5 103.7,814.8 104.3,815.7 104.8,815.6 105.3,816.3 105.8,816.6 106.3,818.0 106.9,816.7 107.4,814.0 107.9,818.8 108.4,820.5 108.9,814.1 109.5,817.4 110.0,816.1 110.5,816.1 111.0,821.1 111.5,812.9 112.1,813.3 112.6,817.3 113.1,816.4 113.6,817.7 114.1,820.3 114.7,818.5 115.2,816.7 115.7,813.9 116.2,813.0 116.7,812.1 117.2,808.5 117.8,816.0 118.3,814.6 118.8,814.2 119.3,818.0 119.8,822.4 120.4,821.0 120.9,818.0 121.4,816.8 121.9,814.1 122.4,820.1 123.0,818.5 123.5,816.6 124.0,818.3 124.5,824.1 125.0,817.0 125.6,812.2 126.1,814.7 126.6,819.9 127.1,819.4 127.6,817.7 128.2,811.8 128.7,815.5 129.2,817.3 129.7,814.0 130.2,817.6 130.7,813.2 131.3,818.9 131.8,819.2 132.3,816.3 132.8,814.1 133.3,815.6 133.9,816.7 134.4,822.2 134.9,820.2 135.4,819.7 135.9,819.4 136.5,816.5 137.0,818.4 137.5,815.8 138.0,817.2 138.5,818.4 139.1,817.5 139.6,816.6 140.1,815.3 140.6,818.5 141.1,818.3 141.6,821.1 142.2,814.1 142.7,813.4 143.2,817.4 143.7,818.7 144.2,820.8 144.8,817.5 145.3,816.9 145.8,811.9 146.3,815.9 146.8,819.1 147.4,823.6 147.9,814.6 148.4,816.3 148.9,820.9 149.4,817.1 150.0,820.9 150.5,808.6 151.0,812.5 151.5,814.3 152.0,816.3 152.6,821.3 153.1,816.7 153.6,819.3 154.1,813.9 154.6,819.4 155.1,816.6 155.7,810.1 156.2,807.2 156.7,812.7 157.2,813.0 157.7,805.3 158.3,802.2 158.8,804.0 159.3,801.0 159.8,798.1 160.3,797.3 160.9,795.4 161.4,791.2 161.9,794.0 162.4,793.6 162.9,801.4 163.5,805.0 164.0,809.7 164.5,809.8 165.0,814.1 165.5,817.0 166.1,812.1 166.6,810.2 167.1,812.0 167.6,811.5 168.1,814.5 168.6,817.7 169.2,816.5 169.7,817.6 170.2,819.9 170.7,821.8 171.2,821.7 171.8,818.1 172.3,817.3 172.8,818.8 173.3,814.3 173.8,816.8 174.4,816.2 174.9,814.5 175.4,819.4 175.9,823.0 176.4,816.7 177.0,819.4 177.5,814.7 178.0,816.5 178.5,815.0 179.0,815.3 179.6,822.5 180.1,816.5 180.6,819.0 181.1,819.5 181.6,818.7 182.1,815.5 182.7,814.6 183.2,814.0 183.7,820.5 184.2,818.7 184.7,822.7 185.3,817.4 185.8,814.7 186.3,817.5 186.8,815.2 187.3,814.6 187.9,812.3 188.4,816.2 188.9,816.5 189.4,816.0 189.9,809.2 190.5,809.4 191.0,812.1 191.5,811.2 192.0,811.0 192.5,810.4 193.1,811.2 193.6,811.6 194.1,814.1 194.6,813.1 195.1,807.6 195.6,809.8 196.2,811.7 196.7,813.0 197.2,812.8 197.7,812.3 198.2,815.0 198.8,813.5 199.3,813.3 199.8,816.0 200.3,816.6 200.8,817.3 201.4,817.7 201.9,813.0 202.4,820.5 202.9,816.4 203.4,816.8 204.0,816.9 204.5,815.2 205.0,812.4 205.5,814.7 206.0,815.6 206.5,817.0 207.1,816.0 207.6,813.3 208.1,816.2 208.6,818.6 209.1,819.3 209.7,819.0 210.2,819.8 210.7,813.7 211.2,814.7 211.7,816.4 212.3,812.5 212.8,817.2 213.3,814.5 213.8,814.0 214.3,819.8 214.9,820.8 215.4,819.4 215.9,814.7 216.4,813.1 216.9,819.2 217.5,814.5 218.0,817.5 218.5,818.0 219.0,818.5 219.5,818.1 220.0,821.9 220.6,820.4 221.1,820.9 221.6,816.7 222.1,812.1 222.6,809.9 223.2,817.3 223.7,821.9 224.2,819.4 224.7,820.4 225.2,813.3 225.8,815.8 226.3,819.5 226.8,815.9 227.3,816.4 227.8,821.9 228.4,820.0 228.9,819.1 229.4,818.3 229.9,817.9 230.4,819.0 231.0,817.9 231.5,819.6 232.0,820.6 232.5,814.7 233.0,816.7 233.5,816.7 234.1,821.7 234.6,818.8 235.1,815.9 235.6,820.6 236.1,815.2 236.7,818.0 237.2,816.3 237.7,817.2 238.2,816.3 238.7,813.5 239.3,816.9 239.8,812.4 240.3,817.4 240.8,818.4 241.3,814.4 241.9,818.2 242.4,817.0 242.9,813.7 243.4,812.5 243.9,819.9 244.5,815.4 245.0,811.4 245.5,812.7 246.0,816.6 246.5,818.2 247.0,817.8 247.6,820.0 248.1,818.2 248.6,817.8 249.1,817.7 249.6,814.5 250.2,817.5 250.7,821.1 251.2,815.4 251.7,819.9 252.2,819.0 252.8,818.0 253.3,818.4 253.8,820.1 254.3,818.4 254.8,812.1 255.4,818.1 255.9,817.8 256.4,814.5 256.9,814.9 257.4,814.9 258.0,814.6 258.5,821.6 259.0,819.8 259.5,817.0 260.0,815.6 260.5,813.4 261.1,815.0 261.6,817.0 262.1,816.6 262.6,817.1 263.1,815.9 263.7,814.6 264.2,816.9 264.7,818.4 265.2,818.7 265.7,813.8 266.3,812.6 266.8,813.1 267.3,813.4 267.8,813.5 268.3,815.6 268.9,814.2 269.4,818.2 269.9,816.7 270.4,817.8 270.9,814.3 271.4,817.0 272.0,816.2 272.5,814.8 273.0,812.2 273.5,817.1 274.0,818.2 274.6,814.0 275.1,818.2 275.6,814.9 276.1,817.0 276.6,816.1 277.2,820.3 277.7,814.6 278.2,816.7 278.7,818.1 279.2,810.8 279.8,813.2 280.3,806.5 280.8,813.3 281.3,816.2 281.8,815.5 282.4,811.7 282.9,815.2 283.4,814.6 283.9,814.3 284.4,817.8 284.9,815.8 285.5,817.1 286.0,819.1 286.5,814.1 287.0,813.9 287.5,815.4 288.1,818.0 288.6,821.2 289.1,815.4 289.6,816.0 290.1,820.0 290.7,816.5 291.2,819.7 291.7,816.4 292.2,815.4 292.7,814.7 293.3,814.9 293.8,815.0 294.3,818.2 294.8,816.8 295.3,816.8 295.9,816.0 296.4,814.6 296.9,813.4 297.4,810.6 297.9,820.6 298.4,814.6 299.0,815.1 299.5,808.8 300.0,811.1 300.5,817.8 301.0,813.5 301.6,815.0 302.1,811.3 302.6,815.7 303.1,813.9 303.6,813.5 304.2,813.2 304.7,814.1 305.2,817.2 305.7,811.8 306.2,809.4 306.8,811.5 307.3,814.0 307.8,811.1 308.3,809.6 308.8,811.0 309.4,810.6 309.9,806.8 310.4,812.3 310.9,811.6 311.4,814.6 311.9,811.9 312.5,811.3 313.0,811.6 313.5,810.8 314.0,804.3 314.5,808.1 315.1,808.2 315.6,802.3 316.1,806.8 316.6,811.4 317.1,806.5 317.7,808.9 318.2,802.5 318.7,808.3 319.2,807.1 319.7,808.9 320.3,804.3 320.8,805.6 321.3,802.4 321.8,801.4 322.3,800.4 322.9,794.7 323.4,792.2 323.9,792.5 324.4,794.2 324.9,795.0 325.4,792.8 326.0,788.8 326.5,797.2 327.0,801.1 327.5,803.0 328.0,805.7 328.6,806.9 329.1,806.1 329.6,802.6 330.1,806.3 330.6,808.7 331.2,812.3 331.7,808.7 332.2,809.1 332.7,812.5 333.2,812.9 333.8,810.6 334.3,807.9 334.8,808.7 335.3,810.1 335.8,811.8 336.3,810.6 336.9,811.5 337.4,806.3 337.9,814.0 338.4,813.4 338.9,809.4 339.5,812.8 340.0,809.2 340.5,812.5 341.0,812.7 341.5,814.2 342.1,817.1 342.6,816.6 343.1,808.7 343.6,811.6 344.1,812.3 344.7,811.7 345.2,812.7 345.7,811.9 346.2,815.1 346.7,815.7 347.3,812.9 347.8,816.0 348.3,819.0 348.8,816.9 349.3,817.5 349.8,814.8 350.4,817.9 350.9,819.4 351.4,817.9 351.9,813.1 352.4,816.6 353.0,816.7 353.5,817.2 354.0,816.7 354.5,815.2 355.0,813.9 355.6,821.5 356.1,815.2 356.6,817.8 357.1,819.1 357.6,812.6 358.2,818.2 358.7,813.8 359.2,815.7 359.7,821.1 360.2,818.2 360.8,817.3 361.3,819.4 361.8,825.3 362.3,821.3 362.8,820.4 363.3,822.6 363.9,815.6 364.4,819.8 364.9,820.9 365.4,820.9 365.9,822.1 366.5,822.3 367.0,820.2 367.5,819.4 368.0,821.3 368.5,820.6 369.1,823.7 369.6,819.4 370.1,822.0 370.6,819.9 371.1,822.4 371.7,821.8 372.2,819.9 372.7,823.1 373.2,814.4 373.7,819.3 374.3,820.1 374.8,821.8 375.3,816.2 375.8,815.9 376.3,818.5 376.8,823.0 377.4,821.4 377.9,818.3 378.4,820.6 378.9,822.6 379.4,822.8 380.0,821.7 380.5,819.5 381.0,820.8 381.5,819.2 382.0,811.9 382.6,813.3 383.1,820.5 383.6,818.0 384.1,818.2 384.6,818.7 385.2,815.7 385.7,818.6 386.2,819.0 386.7,819.0 387.2,818.3 387.8,814.6 388.3,815.3 388.8,820.6 389.3,819.0 389.8,819.6 390.3,815.6 390.9,816.4 391.4,814.8 391.9,816.8 392.4,821.7 392.9,816.4 393.5,816.2 394.0,815.4 394.5,819.7"/>
<polyline fill="none" stroke="#12c264" stroke-width="3.6" stroke-linejoin="round" stroke-linecap="round" points="70.0,876.9 70.5,872.9 71.0,875.3 71.6,881.1 72.1,878.5 72.6,874.9 73.1,871.3 73.6,872.0 74.2,874.1 74.7,874.9 75.2,878.2 75.7,877.2 76.2,876.7 76.7,877.8 77.3,875.9 77.8,876.8 78.3,875.1 78.8,872.1 79.3,873.4 79.9,874.4 80.4,876.3 80.9,879.8 81.4,876.8 81.9,874.7 82.5,878.3 83.0,873.2 83.5,876.5 84.0,875.2 84.5,876.8 85.1,879.4 85.6,871.5 86.1,878.4 86.6,874.3 87.1,877.4 87.7,875.8 88.2,878.3 88.7,877.7 89.2,874.3 89.7,871.3 90.2,877.9 90.8,876.7 91.3,874.3 91.8,877.9 92.3,875.1 92.8,878.5 93.4,875.5 93.9,875.5 94.4,873.6 94.9,875.5 95.4,879.7 96.0,875.8 96.5,879.6 97.0,875.6 97.5,873.1 98.0,875.1 98.6,878.3 99.1,874.5 99.6,876.5 100.1,880.4 100.6,878.8 101.2,874.1 101.7,877.8 102.2,877.3 102.7,878.4 103.2,882.0 103.7,879.6 104.3,877.1 104.8,877.1 105.3,878.1 105.8,883.2 106.3,875.6 106.9,875.7 107.4,875.0 107.9,874.2 108.4,878.4 108.9,879.4 109.5,877.3 110.0,873.6 110.5,881.4 111.0,878.9 111.5,879.8 112.1,876.7 112.6,873.9 113.1,877.9 113.6,880.8 114.1,878.0 114.7,878.4 115.2,881.5 115.7,875.9 116.2,878.5 116.7,875.8 117.2,880.3 117.8,874.9 118.3,880.4 118.8,874.9 119.3,881.2 119.8,874.1 120.4,877.3 120.9,880.7 121.4,877.8 121.9,875.8 122.4,878.8 123.0,877.9 123.5,875.8 124.0,876.5 124.5,883.7 125.0,878.2 125.6,875.1 126.1,874.9 126.6,873.0 127.1,876.9 127.6,869.3 128.2,872.4 128.7,874.0 129.2,872.3 129.7,872.3 130.2,874.3 130.7,876.4 131.3,872.5 131.8,873.4 132.3,879.3 132.8,878.2 133.3,874.0 133.9,874.3 134.4,873.8 134.9,872.8 135.4,873.9 135.9,870.5 136.5,875.4 137.0,875.6 137.5,873.9 138.0,872.5 138.5,872.2 139.1,870.5 139.6,875.1 140.1,871.7 140.6,873.0 141.1,877.0 141.6,875.4 142.2,869.6 142.7,872.0 143.2,875.6 143.7,881.0 144.2,877.6 144.8,877.1 145.3,875.1 145.8,869.3 146.3,872.4 146.8,873.9 147.4,877.3 147.9,878.5 148.4,876.2 148.9,876.6 149.4,867.9 150.0,875.2 150.5,876.8 151.0,872.6 151.5,874.6 152.0,878.1 152.6,872.2 153.1,875.2 153.6,878.0 154.1,874.1 154.6,872.8 155.1,874.3 155.7,871.4 156.2,870.0 156.7,873.3 157.2,875.6 157.7,875.5 158.3,868.3 158.8,862.0 159.3,860.0 159.8,857.6 160.3,856.0 160.9,861.3 161.4,861.1 161.9,869.3 162.4,866.7 162.9,868.4 163.5,870.9 164.0,873.1 164.5,875.7 165.0,873.5 165.5,870.7 166.1,874.8 166.6,873.4 167.1,876.3 167.6,874.7 168.1,877.7 168.6,874.8 169.2,875.9 169.7,874.8 170.2,877.0 170.7,878.8 171.2,876.9 171.8,873.3 172.3,871.4 172.8,875.8 173.3,873.7 173.8,873.5 174.4,874.4 174.9,879.4 175.4,875.4 175.9,878.1 176.4,873.1 177.0,873.3 177.5,873.8 178.0,881.7 178.5,875.0 179.0,873.8 179.6,878.6 180.1,873.7 180.6,875.2 181.1,876.0 181.6,877.5 182.1,878.4 182.7,877.1 183.2,868.1 183.7,873.9 184.2,874.7 184.7,877.0 185.3,877.1 185.8,876.9 186.3,877.6 186.8,873.1 187.3,875.1 187.9,872.3 188.4,876.6 188.9,871.5 189.4,872.6 189.9,870.3 190.5,871.2 191.0,872.6 191.5,867.3 192.0,870.8 192.5,871.2 193.1,873.9 193.6,872.3 194.1,874.3 194.6,873.5 195.1,873.7 195.6,876.7 196.2,879.2 196.7,875.2 197.2,873.6 197.7,874.0 198.2,878.8 198.8,875.2 199.3,875.3 199.8,875.6 200.3,875.3 200.8,877.2 201.4,876.1 201.9,874.1 202.4,877.4 202.9,880.2 203.4,877.3 204.0,876.1 204.5,880.9 205.0,878.7 205.5,875.2 206.0,876.4 206.5,875.9 207.1,879.2 207.6,874.2 208.1,871.3 208.6,875.7 209.1,877.6 209.7,878.9 210.2,873.9 210.7,875.0 211.2,877.4 211.7,872.7 212.3,873.0 212.8,873.4 213.3,879.3 213.8,876.0 214.3,873.7 214.9,877.9 215.4,873.1 215.9,871.1 216.4,871.7 216.9,876.2 217.5,876.8 218.0,872.8 218.5,872.0 219.0,871.3 219.5,871.3 220.0,874.5 220.6,875.8 221.1,879.6 221.6,873.6 222.1,869.0 222.6,875.2 223.2,876.2 223.7,873.5 224.2,873.9 224.7,878.3 225.2,877.4 225.8,878.3 226.3,870.7 226.8,876.4 227.3,873.4 227.8,870.4 228.4,870.1 228.9,871.2 229.4,871.0 229.9,878.2 230.4,877.1 231.0,878.0 231.5,877.1 232.0,869.7 232.5,879.4 233.0,875.4 233.5,879.3 234.1,873.5 234.6,872.8 235.1,877.3 235.6,871.6 236.1,875.7 236.7,873.3 237.2,875.5 237.7,878.0 238.2,878.0 238.7,877.3 239.3,875.4 239.8,876.4 240.3,871.0 240.8,876.5 241.3,878.0 241.9,878.9 242.4,879.2 242.9,880.8 243.4,879.9 243.9,875.0 244.5,876.4 245.0,877.1 245.5,875.9 246.0,873.9 246.5,874.6 247.0,874.3 247.6,877.5 248.1,877.2 248.6,878.4 249.1,876.8 249.6,878.3 250.2,877.3 250.7,876.6 251.2,876.5 251.7,876.6 252.2,877.1 252.8,872.6 253.3,876.0 253.8,878.1 254.3,875.3 254.8,878.1 255.4,878.4 255.9,875.5 256.4,879.3 256.9,883.8 257.4,875.6 258.0,872.5 258.5,878.7 259.0,877.7 259.5,873.8 260.0,879.6 260.5,877.7 261.1,878.2 261.6,875.8 262.1,879.9 262.6,873.3 263.1,874.9 263.7,874.1 264.2,875.6 264.7,880.3 265.2,876.1 265.7,878.5 266.3,875.5 266.8,877.3 267.3,876.2 267.8,875.9 268.3,873.4 268.9,873.1 269.4,877.6 269.9,875.9 270.4,872.0 270.9,873.9 271.4,877.3 272.0,876.3 272.5,876.8 273.0,873.8 273.5,875.6 274.0,875.1 274.6,870.5 275.1,878.9 275.6,879.3 276.1,881.2 276.6,881.1 277.2,875.1 277.7,875.6 278.2,872.4 278.7,880.9 279.2,879.5 279.8,873.5 280.3,873.6 280.8,874.0 281.3,874.1 281.8,876.1 282.4,876.5 282.9,876.4 283.4,874.4 283.9,876.5 284.4,875.5 284.9,872.5 285.5,878.4 286.0,878.2 286.5,874.8 287.0,876.3 287.5,876.1 288.1,870.3 288.6,873.5 289.1,875.9 289.6,872.3 290.1,868.1 290.7,876.3 291.2,876.3 291.7,874.1 292.2,875.4 292.7,868.4 293.3,871.3 293.8,873.8 294.3,871.7 294.8,874.4 295.3,874.1 295.9,872.0 296.4,865.7 296.9,876.1 297.4,870.8 297.9,867.4 298.4,868.1 299.0,865.0 299.5,867.9 300.0,868.9 300.5,869.4 301.0,871.1 301.6,864.8 302.1,870.6 302.6,868.6 303.1,869.0 303.6,869.5 304.2,872.9 304.7,868.5 305.2,866.3 305.7,865.7 306.2,863.6 306.8,865.6 307.3,866.9 307.8,864.5 308.3,863.1 308.8,866.6 309.4,868.6 309.9,867.5 310.4,862.0 310.9,861.2 311.4,865.8 311.9,863.9 312.5,861.8 313.0,860.2 313.5,865.0 314.0,864.7 314.5,860.6 315.1,857.6 315.6,859.4 316.1,866.5 316.6,863.7 317.1,865.3 317.7,865.1 318.2,866.6 318.7,866.5 319.2,865.4 319.7,860.8 320.3,862.8 320.8,863.8 321.3,864.8 321.8,866.6 322.3,865.3 322.9,861.0 323.4,860.9 323.9,857.6 324.4,860.9 324.9,861.9 325.4,866.3 326.0,862.4 326.5,868.0 327.0,861.7 327.5,867.2 328.0,867.4 328.6,871.7 329.1,871.0 329.6,872.6 330.1,868.3 330.6,870.3 331.2,874.6 331.7,877.5 332.2,873.6 332.7,874.3 333.2,876.2 333.8,872.5 334.3,874.1 334.8,873.8 335.3,875.6 335.8,876.0 336.3,875.9 336.9,878.8 337.4,873.8 337.9,873.7 338.4,879.1 338.9,875.4 339.5,872.2 340.0,874.1 340.5,871.8 341.0,875.4 341.5,875.3 342.1,878.5 342.6,878.0 343.1,880.3 343.6,878.3 344.1,875.2 344.7,874.0 345.2,872.2 345.7,874.5 346.2,877.7 346.7,874.6 347.3,875.6 347.8,870.9 348.3,869.7 348.8,872.1 349.3,877.6 349.8,876.9 350.4,875.0 350.9,877.0 351.4,874.2 351.9,873.4 352.4,872.8 353.0,874.3 353.5,877.3 354.0,877.6 354.5,875.9 355.0,872.0 355.6,870.8 356.1,872.1 356.6,873.8 357.1,873.3 357.6,872.8 358.2,871.6 358.7,872.5 359.2,878.6 359.7,873.3 360.2,873.9 360.8,876.2 361.3,874.0 361.8,874.3 362.3,875.2 362.8,879.4 363.3,875.6 363.9,873.9 364.4,875.2 364.9,879.2 365.4,874.7 365.9,873.4 366.5,874.5 367.0,874.1 367.5,876.0 368.0,877.1 368.5,874.3 369.1,876.1 369.6,875.0 370.1,867.2 370.6,872.4 371.1,874.6 371.7,879.3 372.2,875.7 372.7,873.6 373.2,876.9 373.7,876.2 374.3,881.2 374.8,874.9 375.3,876.9 375.8,874.0 376.3,871.9 376.8,875.4 377.4,873.0 377.9,874.5 378.4,875.9 378.9,876.3 379.4,877.8 380.0,872.7 380.5,873.0 381.0,877.8 381.5,873.9 382.0,877.3 382.6,879.7 383.1,873.4 383.6,878.6 384.1,873.3 384.6,875.0 385.2,873.5 385.7,874.3 386.2,872.8 386.7,874.6 387.2,874.3 387.8,875.2 388.3,873.2 388.8,876.6 389.3,873.7 389.8,872.0 390.3,875.7 390.9,875.0 391.4,877.3 391.9,877.1 392.4,875.8 392.9,877.1 393.5,878.7 394.0,876.8 394.5,876.0"/>
<polyline fill="none" stroke="#12c264" stroke-width="3.6" stroke-linejoin="round" stroke-linecap="round" points="70.0,933.9 70.5,936.6 71.0,935.7 71.6,939.9 72.1,936.1 72.6,936.2 73.1,936.9 73.6,933.7 74.2,931.0 74.7,932.4 75.2,937.1 75.7,932.0 76.2,935.9 76.7,935.7 77.3,937.0 77.8,934.6 78.3,934.0 78.8,934.9 79.3,935.9 79.9,935.9 80.4,936.5 80.9,933.2 81.4,936.4 81.9,936.0 82.5,936.1 83.0,937.4 83.5,936.3 84.0,939.2 84.5,935.0 85.1,934.1 85.6,936.0 86.1,931.7 86.6,937.0 87.1,934.3 87.7,934.1 88.2,936.7 88.7,936.3 89.2,933.4 89.7,935.1 90.2,934.8 90.8,932.0 91.3,934.5 91.8,939.6 92.3,938.1 92.8,933.9 93.4,935.7 93.9,938.4 94.4,941.0 94.9,935.7 95.4,932.0 96.0,938.3 96.5,941.5 97.0,935.3 97.5,937.0 98.0,936.6 98.6,936.7 99.1,938.1 99.6,935.0 100.1,933.3 100.6,934.4 101.2,936.9 101.7,933.3 102.2,935.6 102.7,934.2 103.2,937.7 103.7,934.3 104.3,933.5 104.8,932.1 105.3,934.9 105.8,934.3 106.3,936.7 106.9,933.4 107.4,933.2 107.9,932.4 108.4,935.8 108.9,938.4 109.5,935.9 110.0,935.8 110.5,937.1 111.0,933.9 111.5,932.6 112.1,933.7 112.6,932.1 113.1,933.5 113.6,937.1 114.1,936.7 114.7,936.0 115.2,933.3 115.7,932.2 116.2,934.0 116.7,932.0 117.2,936.3 117.8,935.1 118.3,930.9 118.8,932.9 119.3,931.6 119.8,938.7 120.4,939.2 120.9,937.2 121.4,932.3 121.9,930.0 122.4,935.2 123.0,936.9 123.5,937.2 124.0,936.9 124.5,933.3 125.0,934.9 125.6,929.7 126.1,931.8 126.6,935.6 127.1,933.9 127.6,934.6 128.2,932.4 128.7,931.8 129.2,934.8 129.7,932.2 130.2,932.7 130.7,934.4 131.3,933.8 131.8,932.7 132.3,935.1 132.8,936.3 133.3,931.8 133.9,934.3 134.4,936.2 134.9,933.9 135.4,938.4 135.9,935.4 136.5,938.4 137.0,936.7 137.5,939.8 138.0,937.7 138.5,933.5 139.1,935.6 139.6,938.5 140.1,931.8 140.6,936.7 141.1,932.3 141.6,936.6 142.2,939.7 142.7,932.1 143.2,936.6 143.7,934.5 144.2,933.1 144.8,939.2 145.3,936.8 145.8,938.1 146.3,935.4 146.8,936.6 147.4,940.0 147.9,937.3 148.4,935.2 148.9,937.6 149.4,935.9 150.0,938.4 150.5,937.7 151.0,936.6 151.5,937.1 152.0,934.4 152.6,934.9 153.1,935.2 153.6,935.6 154.1,937.1 154.6,940.6 155.1,935.7 155.7,933.4 156.2,936.8 156.7,938.5 157.2,938.2 157.7,935.2 158.3,937.0 158.8,940.4 159.3,938.9 159.8,940.1 160.3,939.0 160.9,940.5 161.4,940.6 161.9,934.9 162.4,935.1 162.9,941.6 163.5,941.0 164.0,939.6 164.5,939.2 165.0,941.6 165.5,936.4 166.1,941.7 166.6,936.8 167.1,936.0 167.6,938.4 168.1,939.5 168.6,937.8 169.2,937.3 169.7,942.7 170.2,941.4 170.7,936.8 171.2,937.6 171.8,938.4 172.3,939.9 172.8,939.3 173.3,939.3 173.8,930.6 174.4,939.1 174.9,933.5 175.4,935.2 175.9,936.0 176.4,936.2 177.0,937.5 177.5,932.8 178.0,934.7 178.5,936.3 179.0,936.7 179.6,935.9 180.1,939.0 180.6,937.4 181.1,937.8 181.6,934.8 182.1,934.4 182.7,940.3 183.2,937.1 183.7,933.6 184.2,938.6 184.7,939.1 185.3,933.7 185.8,935.7 186.3,936.7 186.8,938.7 187.3,935.6 187.9,936.8 188.4,935.1 188.9,934.3 189.4,933.5 189.9,935.8 190.5,936.7 191.0,935.4 191.5,935.5 192.0,934.8 192.5,936.4 193.1,936.0 193.6,936.7 194.1,936.8 194.6,935.0 195.1,932.3 195.6,936.0 196.2,933.8 196.7,934.0 197.2,934.6 197.7,933.3 198.2,936.2 198.8,933.8 199.3,934.1 199.8,943.4 200.3,935.4 200.8,933.6 201.4,930.0 201.9,936.8 202.4,935.0 202.9,934.1 203.4,937.2 204.0,932.4 204.5,933.5 205.0,936.7 205.5,938.1 206.0,936.4 206.5,929.3 207.1,928.8 207.6,940.0 208.1,940.1 208.6,934.0 209.1,935.0 209.7,936.4 210.2,933.5 210.7,934.4 211.2,934.0 211.7,934.0 212.3,937.3 212.8,931.9 213.3,935.4 213.8,932.0 214.3,932.5 214.9,934.2 215.4,934.2 215.9,934.6 216.4,939.0 216.9,936.0 217.5,933.6 218.0,938.3 218.5,938.7 219.0,932.4 219.5,932.1 220.0,937.8 220.6,933.7 221.1,934.3 221.6,931.9 222.1,934.7 222.6,934.9 223.2,936.2 223.7,934.1 224.2,934.5 224.7,935.9 225.2,935.3 225.8,936.2 226.3,933.0 226.8,936.5 227.3,938.3 227.8,937.2 228.4,932.0 228.9,935.1 229.4,932.7 229.9,932.2 230.4,935.2 231.0,932.5 231.5,932.7 232.0,934.2 232.5,936.0 233.0,934.7 233.5,937.6 234.1,935.5 234.6,936.0 235.1,933.6 235.6,933.5 236.1,936.0 236.7,932.7 237.2,931.4 237.7,934.0 238.2,936.5 238.7,933.8 239.3,940.7 239.8,937.2 240.3,933.9 240.8,929.9 241.3,936.2 241.9,931.6 242.4,929.0 242.9,929.7 243.4,940.4 243.9,933.5 244.5,934.8 245.0,933.0 245.5,935.7 246.0,937.3 246.5,936.6 247.0,932.3 247.6,933.3 248.1,936.4 248.6,935.2 249.1,933.9 249.6,934.5 250.2,936.1 250.7,938.0 251.2,938.5 251.7,937.9 252.2,938.1 252.8,940.7 253.3,940.8 253.8,935.1 254.3,939.3 254.8,940.4 255.4,937.5 255.9,933.4 256.4,933.2 256.9,937.4 257.4,939.6 258.0,938.7 258.5,939.5 259.0,938.7 259.5,936.1 260.0,939.5 260.5,939.3 261.1,938.0 261.6,937.2 262.1,938.9 262.6,939.2 263.1,940.1 263.7,939.2 264.2,935.9 264.7,937.3 265.2,944.6 265.7,936.4 266.3,936.8 266.8,938.8 267.3,937.5 267.8,944.2 268.3,941.7 268.9,934.3 269.4,930.7 269.9,929.9 270.4,937.0 270.9,936.1 271.4,934.0 272.0,938.6 272.5,931.8 273.0,936.9 273.5,934.9 274.0,938.2 274.6,934.9 275.1,935.2 275.6,932.4 276.1,937.5 276.6,935.3 277.2,930.3 277.7,937.0 278.2,934.0 278.7,933.3 279.2,935.4 279.8,935.0 280.3,930.7 280.8,930.6 281.3,932.0 281.8,932.8 282.4,936.3 282.9,933.7 283.4,929.0 283.9,930.0 284.4,936.1 284.9,938.7 285.5,935.5 286.0,932.8 286.5,934.1 287.0,933.6 287.5,931.8 288.1,930.1 288.6,931.4 289.1,929.0 289.6,935.2 290.1,931.3 290.7,930.7 291.2,935.4 291.7,929.1 292.2,935.2 292.7,935.7 293.3,925.4 293.8,927.2 294.3,929.7 294.8,927.5 295.3,927.6 295.9,933.3 296.4,930.0 296.9,927.1 297.4,930.5 297.9,930.4 298.4,931.6 299.0,928.7 299.5,931.4 300.0,931.8 300.5,933.3 301.0,932.7 301.6,929.7 302.1,928.5 302.6,930.3 303.1,932.1 303.6,928.8 304.2,928.1 304.7,925.6 305.2,929.5 305.7,929.8 306.2,927.3 306.8,924.3 307.3,927.6 307.8,928.0 308.3,930.0 308.8,928.7 309.4,924.9 309.9,924.3 310.4,923.3 310.9,929.7 311.4,924.1 311.9,927.3 312.5,923.6 313.0,929.9 313.5,924.6 314.0,925.1 314.5,919.0 315.1,920.1 315.6,916.3 316.1,919.0 316.6,912.2 317.1,916.0 317.7,909.4 318.2,913.4 318.7,914.5 319.2,909.7 319.7,912.4 320.3,912.5 320.8,916.6 321.3,915.6 321.8,915.1 322.3,917.8 322.9,915.9 323.4,922.7 323.9,915.6 324.4,917.4 324.9,912.1 325.4,914.6 326.0,914.0 326.5,911.0 327.0,905.8 327.5,901.3 328.0,901.1 328.6,901.2 329.1,899.5 329.6,901.1 330.1,911.4 330.6,914.7 331.2,917.2 331.7,914.0 332.2,916.7 332.7,919.8 333.2,922.3 333.8,927.7 334.3,923.8 334.8,927.8 335.3,929.9 335.8,923.8 336.3,931.9 336.9,926.3 337.4,928.8 337.9,932.3 338.4,930.3 338.9,932.8 339.5,930.8 340.0,932.8 340.5,934.7 341.0,925.4 341.5,932.1 342.1,929.5 342.6,931.9 343.1,930.5 343.6,935.3 344.1,935.6 344.7,941.4 345.2,931.6 345.7,931.6 346.2,935.8 346.7,931.4 347.3,931.5 347.8,925.6 348.3,931.7 348.8,930.9 349.3,931.6 349.8,931.4 350.4,933.5 350.9,934.8 351.4,932.3 351.9,930.6 352.4,936.5 353.0,937.4 353.5,934.8 354.0,929.8 354.5,934.2 355.0,938.6 355.6,933.0 356.1,932.3 356.6,929.3 357.1,933.3 357.6,929.4 358.2,935.7 358.7,932.6 359.2,934.1 359.7,937.7 360.2,935.9 360.8,931.6 361.3,931.5 361.8,935.3 362.3,932.2 362.8,932.2 363.3,932.2 363.9,933.8 364.4,934.0 364.9,936.9 365.4,935.4 365.9,934.7 366.5,936.8 367.0,935.9 367.5,934.7 368.0,934.3 368.5,932.2 369.1,937.1 369.6,936.2 370.1,934.4 370.6,935.7 371.1,934.1 371.7,935.9 372.2,931.9 372.7,934.9 373.2,937.6 373.7,933.2 374.3,930.2 374.8,938.8 375.3,935.5 375.8,934.5 376.3,931.8 376.8,930.2 377.4,934.1 377.9,938.2 378.4,933.2 378.9,931.5 379.4,932.6 380.0,933.7 380.5,936.1 381.0,928.2 381.5,936.2 382.0,938.1 382.6,932.1 383.1,932.9 383.6,932.0 384.1,932.7 384.6,929.4 385.2,929.5 385.7,934.5 386.2,931.3 386.7,936.4 387.2,938.4 387.8,931.4 388.3,934.4 388.8,939.2 389.3,934.6 389.8,935.5 390.3,932.7 390.9,933.7 391.4,935.7 391.9,935.8 392.4,932.1 392.9,935.9 393.5,933.8 394.0,936.3 394.5,933.1"/>
<polyline fill="none" stroke="#12c264" stroke-width="3.6" stroke-linejoin="round" stroke-linecap="round" points="70.0,999.7 70.5,996.8 71.0,999.7 71.6,998.2 72.1,998.1 72.6,1001.0 73.1,996.0 73.6,997.6 74.2,997.7 74.7,998.1 75.2,1003.4 75.7,1002.4 76.2,1001.0 76.7,996.0 77.3,999.3 77.8,996.8 78.3,1000.6 78.8,1000.7 79.3,999.8 79.9,995.8 80.4,1002.1 80.9,999.4 81.4,997.5 81.9,998.0 82.5,998.5 83.0,996.6 83.5,997.6 84.0,1001.1 84.5,997.5 85.1,1000.6 85.6,1000.0 86.1,995.4 86.6,992.3 87.1,994.4 87.7,997.4 88.2,1000.9 88.7,1001.5 89.2,995.5 89.7,998.0 90.2,1002.8 90.8,996.2 91.3,997.7 91.8,996.2 92.3,998.3 92.8,1005.2 93.4,1002.7 93.9,1000.9 94.4,1000.8 94.9,996.6 95.4,1001.5 96.0,1000.9 96.5,1000.8 97.0,1000.9 97.5,1003.4 98.0,1004.3 98.6,1007.9 99.1,1001.2 99.6,1001.6 100.1,1000.7 100.6,1003.8 101.2,1001.6 101.7,1003.8 102.2,1004.3 102.7,1001.1 103.2,999.9 103.7,999.9 104.3,1001.5 104.8,1002.7 105.3,998.4 105.8,998.2 106.3,1002.9 106.9,1004.8 107.4,1001.4 107.9,1001.1 108.4,1004.2 108.9,996.6 109.5,1006.5 110.0,1004.9 110.5,1001.9 111.0,999.6 111.5,1006.4 112.1,1003.9 112.6,998.8 113.1,998.1 113.6,1002.2 114.1,1002.0 114.7,1004.3 115.2,1001.4 115.7,1004.6 116.2,1007.6 116.7,1006.7 117.2,1002.6 117.8,1005.4 118.3,999.7 118.8,998.3 119.3,998.8 119.8,999.7 120.4,998.6 120.9,1000.6 121.4,999.3 121.9,1000.1 122.4,999.4 123.0,1003.7 123.5,1003.4 124.0,1004.2 124.5,999.7 125.0,999.7 125.6,1002.9 126.1,1003.9 126.6,1002.9 127.1,999.0 127.6,1000.9 128.2,1001.4 128.7,1002.6 129.2,1001.2 129.7,996.6 130.2,1001.6 130.7,1001.5 131.3,996.2 131.8,997.8 132.3,1002.7 132.8,997.7 133.3,1002.8 133.9,998.9 134.4,1006.1 134.9,1003.2 135.4,997.9 135.9,1000.8 136.5,1001.5 137.0,999.6 137.5,999.4 138.0,1000.5 138.5,1001.1 139.1,994.9 139.6,994.7 140.1,997.5 140.6,1001.6 141.1,1000.6 141.6,999.8 142.2,997.7 142.7,994.5 143.2,999.3 143.7,998.3 144.2,999.5 144.8,998.2 145.3,1000.1 145.8,997.6 146.3,995.2 146.8,998.7 147.4,999.0 147.9,997.9 148.4,1001.2 148.9,993.8 149.4,1000.6 150.0,999.0 150.5,1000.0 151.0,994.1 151.5,998.1 152.0,998.6 152.6,992.5 153.1,996.5 153.6,998.5 154.1,996.6 154.6,995.5 155.1,997.3 155.7,995.6 156.2,994.7 156.7,991.4 157.2,989.6 157.7,987.6 158.3,987.8 158.8,983.2 159.3,982.7 159.8,977.5 160.3,978.5 160.9,982.2 161.4,981.0 161.9,990.1 162.4,992.2 162.9,993.8 163.5,993.6 164.0,997.3 164.5,998.6 165.0,1001.1 165.5,996.9 166.1,998.9 166.6,992.0 167.1,994.8 167.6,1000.3 168.1,995.1 168.6,997.6 169.2,995.6 169.7,1001.0 170.2,996.2 170.7,995.7 171.2,999.5 171.8,1001.3 172.3,1000.4 172.8,998.8 173.3,993.2 173.8,993.9 174.4,994.8 174.9,999.3 175.4,1000.3 175.9,998.8 176.4,1000.2 177.0,1000.9 177.5,1000.4 178.0,997.7 178.5,999.6 179.0,999.1 179.6,1000.3 180.1,1000.4 180.6,1000.7 181.1,996.7 181.6,998.7 182.1,995.8 182.7,999.6 183.2,997.0 183.7,1002.8 184.2,1001.1 184.7,1000.0 185.3,1001.2 185.8,1000.0 186.3,1001.8 186.8,1000.1 187.3,1001.0 187.9,999.4 188.4,999.8 188.9,1001.4 189.4,1000.1 189.9,998.6 190.5,1001.4 191.0,998.2 191.5,994.5 192.0,997.5 192.5,995.7 193.1,995.0 193.6,998.2 194.1,993.2 194.6,989.3 195.1,997.6 195.6,991.0 196.2,997.3 196.7,993.0 197.2,1000.8 197.7,994.8 198.2,996.6 198.8,1000.7 199.3,1000.3 199.8,1001.0 200.3,1000.9 200.8,997.7 201.4,998.8 201.9,1004.9 202.4,1000.4 202.9,997.8 203.4,998.4 204.0,994.5 204.5,1002.8 205.0,998.9 205.5,998.9 206.0,997.1 206.5,1002.1 207.1,1002.7 207.6,1000.0 208.1,999.0 208.6,1003.6 209.1,998.8 209.7,999.0 210.2,997.2 210.7,1005.3 211.2,998.7 211.7,1001.2 212.3,1000.6 212.8,997.3 213.3,994.6 213.8,998.0 214.3,999.2 214.9,995.8 215.4,1000.8 215.9,999.7 216.4,1000.4 216.9,1001.8 217.5,999.0 218.0,993.9 218.5,997.7 219.0,997.6 219.5,999.0 220.0,996.2 220.6,998.2 221.1,1001.2 221.6,999.2 222.1,995.5 222.6,998.8 223.2,996.1 223.7,998.9 224.2,994.0 224.7,997.7 225.2,997.3 225.8,999.6 226.3,997.1 226.8,999.4 227.3,1002.9 227.8,999.0 228.4,1002.2 228.9,995.9 229.4,996.7 229.9,998.8 230.4,997.4 231.0,1005.5 231.5,996.3 232.0,1000.4 232.5,997.7 233.0,992.6 233.5,1002.3 234.1,1000.8 234.6,998.6 235.1,998.1 235.6,1003.3 236.1,1002.2 236.7,996.0 237.2,1000.3 237.7,998.0 238.2,1002.5 238.7,1002.1 239.3,1004.3 239.8,999.3 240.3,996.4 240.8,998.6 241.3,999.9 241.9,998.7 242.4,998.0 242.9,999.8 243.4,997.9 243.9,994.1 244.5,992.9 245.0,999.7 245.5,1002.5 246.0,994.9 246.5,996.1 247.0,995.7 247.6,997.1 248.1,999.4 248.6,996.7 249.1,996.0 249.6,995.7 250.2,1001.3 250.7,996.9 251.2,999.7 251.7,1000.1 252.2,998.3 252.8,999.8 253.3,993.4 253.8,996.8 254.3,998.0 254.8,999.4 255.4,998.4 255.9,999.5 256.4,997.6 256.9,996.6 257.4,996.5 258.0,1001.8 258.5,1000.2 259.0,998.9 259.5,1002.0 260.0,998.5 260.5,999.2 261.1,998.8 261.6,998.0 262.1,1000.4 262.6,995.2 263.1,995.8 263.7,999.8 264.2,997.9 264.7,996.9 265.2,1000.6 265.7,1000.1 266.3,997.4 266.8,1005.2 267.3,1003.2 267.8,998.8 268.3,997.4 268.9,1001.0 269.4,997.1 269.9,993.1 270.4,997.6 270.9,998.9 271.4,998.8 272.0,1001.5 272.5,998.0 273.0,998.4 273.5,997.1 274.0,995.1 274.6,998.4 275.1,998.5 275.6,998.1 276.1,994.5 276.6,1002.0 277.2,999.5 277.7,1000.7 278.2,999.0 278.7,997.0 279.2,998.6 279.8,997.2 280.3,998.3 280.8,1000.8 281.3,1001.0 281.8,1002.8 282.4,999.1 282.9,1000.1 283.4,997.1 283.9,996.3 284.4,1000.9 284.9,1002.0 285.5,997.9 286.0,1001.0 286.5,998.8 287.0,997.4 287.5,999.7 288.1,994.5 288.6,1000.1 289.1,997.9 289.6,999.7 290.1,1006.1 290.7,1000.2 291.2,999.3 291.7,997.2 292.2,998.6 292.7,1000.3 293.3,999.9 293.8,999.3 294.3,996.5 294.8,998.6 295.3,995.0 295.9,995.3 296.4,999.3 296.9,995.3 297.4,1002.9 297.9,998.2 298.4,999.9 299.0,997.8 299.5,994.3 300.0,996.5 300.5,997.1 301.0,993.4 301.6,997.9 302.1,998.5 302.6,994.0 303.1,994.0 303.6,999.0 304.2,995.6 304.7,993.3 305.2,995.1 305.7,995.8 306.2,994.4 306.8,993.7 307.3,995.7 307.8,992.0 308.3,997.2 308.8,994.0 309.4,987.7 309.9,994.6 310.4,992.8 310.9,997.9 311.4,994.8 311.9,994.8 312.5,991.5 313.0,992.1 313.5,986.1 314.0,991.7 314.5,990.0 315.1,988.7 315.6,987.0 316.1,985.6 316.6,991.0 317.1,981.7 317.7,985.9 318.2,986.6 318.7,988.0 319.2,984.0 319.7,985.4 320.3,979.5 320.8,979.5 321.3,976.5 321.8,978.7 322.3,977.1 322.9,971.9 323.4,974.3 323.9,977.5 324.4,981.2 324.9,976.0 325.4,983.8 326.0,985.4 326.5,980.3 327.0,985.7 327.5,983.0 328.0,985.6 328.6,982.9 329.1,984.3 329.6,988.1 330.1,992.3 330.6,990.3 331.2,988.4 331.7,991.7 332.2,1000.1 332.7,995.3 333.2,994.8 333.8,994.2 334.3,995.0 334.8,991.6 335.3,997.3 335.8,994.1 336.3,999.8 336.9,1001.3 337.4,998.8 337.9,997.9 338.4,998.2 338.9,997.9 339.5,994.7 340.0,994.4 340.5,995.7 341.0,995.7 341.5,998.1 342.1,999.2 342.6,1000.6 343.1,998.4 343.6,999.9 344.1,998.2 344.7,995.4 345.2,995.5 345.7,993.7 346.2,999.1 346.7,1003.2 347.3,1001.1 347.8,993.1 348.3,995.2 348.8,998.5 349.3,994.6 349.8,998.4 350.4,993.8 350.9,998.4 351.4,999.1 351.9,996.5 352.4,1000.8 353.0,999.0 353.5,993.6 354.0,996.5 354.5,1000.9 355.0,999.4 355.6,998.7 356.1,1000.5 356.6,997.8 357.1,995.4 357.6,998.0 358.2,996.4 358.7,997.6 359.2,998.2 359.7,1000.6 360.2,996.6 360.8,995.1 361.3,999.4 361.8,1001.1 362.3,997.9 362.8,998.4 363.3,996.0 363.9,997.2 364.4,998.9 364.9,1002.4 365.4,997.8 365.9,998.5 366.5,1002.0 367.0,1003.1 367.5,1004.1 368.0,998.1 368.5,999.8 369.1,1007.3 369.6,1002.3 370.1,1000.9 370.6,999.4 371.1,998.8 371.7,999.6 372.2,997.0 372.7,995.9 373.2,998.8 373.7,994.7 374.3,998.3 374.8,1000.7 375.3,998.5 375.8,1002.1 376.3,999.8 376.8,1001.3 377.4,1000.0 377.9,998.2 378.4,1004.5 378.9,998.3 379.4,997.7 380.0,998.8 380.5,996.6 381.0,997.2 381.5,999.0 382.0,1000.9 382.6,996.8 383.1,996.1 383.6,1001.6 384.1,1000.5 384.6,1001.5 385.2,996.6 385.7,999.3 386.2,1001.5 386.7,994.9 387.2,996.5 387.8,997.3 388.3,997.4 388.8,998.5 389.3,998.1 389.8,995.9 390.3,996.7 390.9,999.1 391.4,998.1 391.9,993.5 392.4,998.9 392.9,1001.7 393.5,998.5 394.0,1001.2 394.5,992.2"/>
<polyline fill="none" stroke="#12c264" stroke-width="3.6" stroke-linejoin="round" stroke-linecap="round" points="70.0,1058.0 70.5,1053.4 71.0,1057.9 71.6,1060.5 72.1,1060.1 72.6,1056.2 73.1,1059.8 73.6,1057.6 74.2,1059.7 74.7,1060.0 75.2,1059.6 75.7,1054.1 76.2,1060.0 76.7,1057.4 77.3,1055.8 77.8,1059.4 78.3,1061.8 78.8,1054.6 79.3,1052.9 79.9,1057.5 80.4,1060.6 80.9,1055.8 81.4,1057.3 81.9,1059.5 82.5,1058.6 83.0,1063.5 83.5,1060.2 84.0,1060.6 84.5,1060.9 85.1,1056.1 85.6,1056.1 86.1,1052.5 86.6,1062.9 87.1,1059.3 87.7,1059.1 88.2,1053.6 88.7,1053.4 89.2,1055.6 89.7,1056.0 90.2,1058.1 90.8,1057.8 91.3,1057.5 91.8,1062.6 92.3,1052.2 92.8,1053.5 93.4,1050.3 93.9,1051.9 94.4,1054.0 94.9,1053.4 95.4,1059.6 96.0,1058.9 96.5,1054.0 97.0,1056.4 97.5,1059.8 98.0,1056.3 98.6,1059.0 99.1,1056.1 99.6,1051.7 100.1,1057.9 100.6,1057.1 101.2,1054.4 101.7,1055.5 102.2,1055.1 102.7,1057.7 103.2,1056.8 103.7,1061.9 104.3,1057.1 104.8,1052.7 105.3,1058.1 105.8,1056.6 106.3,1054.1 106.9,1052.5 107.4,1052.4 107.9,1057.6 108.4,1057.2 108.9,1051.7 109.5,1056.5 110.0,1055.4 110.5,1058.1 111.0,1058.0 111.5,1063.9 112.1,1058.7 112.6,1062.1 113.1,1059.6 113.6,1059.2 114.1,1053.2 114.7,1053.8 115.2,1054.8 115.7,1057.3 116.2,1059.9 116.7,1055.5 117.2,1058.1 117.8,1056.7 118.3,1053.8 118.8,1056.2 119.3,1056.1 119.8,1058.5 120.4,1053.6 120.9,1054.1 121.4,1053.6 121.9,1051.2 122.4,1058.9 123.0,1055.7 123.5,1053.5 124.0,1053.8 124.5,1053.7 125.0,1053.0 125.6,1057.6 126.1,1054.2 126.6,1050.0 127.1,1051.9 127.6,1051.8 128.2,1048.4 128.7,1053.6 129.2,1048.2 129.7,1044.2 130.2,1048.0 130.7,1050.4 131.3,1048.0 131.8,1050.9 132.3,1053.0 132.8,1051.4 133.3,1056.4 133.9,1051.6 134.4,1056.0 134.9,1055.3 135.4,1052.1 135.9,1053.8 136.5,1053.4 137.0,1050.6 137.5,1050.0 138.0,1048.5 138.5,1055.0 139.1,1052.4 139.6,1058.5 140.1,1053.3 140.6,1051.3 141.1,1056.2 141.6,1053.9 142.2,1052.7 142.7,1055.0 143.2,1056.6 143.7,1051.5 144.2,1057.9 144.8,1055.1 145.3,1052.8 145.8,1054.3 146.3,1051.1 146.8,1050.9 147.4,1053.5 147.9,1050.6 148.4,1052.8 148.9,1058.1 149.4,1056.7 150.0,1054.9 150.5,1054.9 151.0,1059.7 151.5,1050.2 152.0,1058.6 152.6,1058.7 153.1,1054.6 153.6,1054.6 154.1,1051.0 154.6,1053.6 155.1,1053.4 155.7,1052.2 156.2,1055.3 156.7,1056.6 157.2,1053.9 157.7,1048.6 158.3,1049.6 158.8,1043.8 159.3,1044.8 159.8,1038.4 160.3,1036.4 160.9,1033.2 161.4,1036.5 161.9,1039.7 162.4,1045.1 162.9,1044.1 163.5,1049.1 164.0,1049.9 164.5,1050.6 165.0,1055.4 165.5,1056.5 166.1,1055.1 166.6,1051.9 167.1,1057.5 167.6,1058.5 168.1,1058.7 168.6,1057.3 169.2,1058.9 169.7,1058.5 170.2,1055.1 170.7,1058.7 171.2,1056.5 171.8,1059.1 172.3,1057.0 172.8,1054.8 173.3,1060.8 173.8,1056.5 174.4,1055.3 174.9,1055.8 175.4,1055.0 175.9,1054.4 176.4,1058.6 177.0,1056.1 177.5,1053.7 178.0,1051.6 178.5,1057.9 179.0,1056.8 179.6,1058.5 180.1,1055.2 180.6,1057.2 181.1,1057.2 181.6,1052.6 182.1,1048.0 182.7,1058.0 183.2,1050.0 183.7,1055.1 184.2,1051.6 184.7,1051.7 185.3,1049.2 185.8,1052.2 186.3,1054.0 186.8,1052.0 187.3,1049.3 187.9,1052.8 188.4,1049.7 188.9,1049.9 189.4,1049.1 189.9,1049.0 190.5,1047.2 191.0,1046.1 191.5,1048.4 192.0,1048.7 192.5,1053.1 193.1,1050.5 193.6,1051.8 194.1,1046.5 194.6,1050.3 195.1,1050.2 195.6,1047.4 196.2,1046.1 196.7,1045.7 197.2,1051.3 197.7,1049.7 198.2,1047.8 198.8,1052.6 199.3,1052.1 199.8,1054.9 200.3,1054.1 200.8,1050.8 201.4,1052.1 201.9,1053.7 202.4,1054.6 202.9,1049.7 203.4,1051.0 204.0,1056.4 204.5,1048.7 205.0,1054.2 205.5,1054.5 206.0,1055.5 206.5,1056.0 207.1,1053.1 207.6,1058.0 208.1,1055.0 208.6,1055.6 209.1,1050.5 209.7,1053.2 210.2,1053.5 210.7,1053.4 211.2,1053.2 211.7,1054.4 212.3,1061.1 212.8,1054.9 213.3,1055.8 213.8,1053.4 214.3,1054.1 214.9,1056.3 215.4,1057.6 215.9,1058.1 216.4,1054.9 216.9,1055.4 217.5,1057.4 218.0,1056.4 218.5,1054.5 219.0,1056.7 219.5,1055.7 220.0,1056.8 220.6,1061.9 221.1,1056.0 221.6,1055.1 222.1,1053.1 222.6,1051.6 223.2,1056.5 223.7,1053.9 224.2,1054.3 224.7,1054.9 225.2,1053.1 225.8,1052.7 226.3,1058.1 226.8,1052.0 227.3,1055.3 227.8,1057.0 228.4,1057.3 228.9,1056.3 229.4,1058.4 229.9,1053.2 230.4,1054.1 231.0,1057.6 231.5,1053.8 232.0,1054.8 232.5,1055.3 233.0,1053.2 233.5,1055.6 234.1,1056.4 234.6,1054.7 235.1,1060.3 235.6,1059.6 236.1,1055.3 236.7,1053.3 237.2,1059.9 237.7,1056.7 238.2,1057.9 238.7,1057.2 239.3,1054.9 239.8,1052.4 240.3,1051.3 240.8,1053.2 241.3,1054.3 241.9,1055.7 242.4,1061.0 242.9,1056.1 243.4,1059.4 243.9,1059.6 244.5,1056.5 245.0,1060.3 245.5,1052.4 246.0,1054.1 246.5,1054.8 247.0,1054.5 247.6,1055.0 248.1,1055.3 248.6,1053.6 249.1,1056.6 249.6,1054.4 250.2,1054.1 250.7,1052.2 251.2,1056.2 251.7,1053.0 252.2,1053.0 252.8,1050.6 253.3,1049.9 253.8,1050.1 254.3,1049.0 254.8,1048.4 255.4,1045.7 255.9,1047.8 256.4,1047.5 256.9,1051.4 257.4,1050.4 258.0,1048.2 258.5,1047.6 259.0,1053.0 259.5,1051.8 260.0,1052.6 260.5,1052.1 261.1,1053.7 261.6,1053.9 262.1,1053.2 262.6,1052.8 263.1,1050.5 263.7,1054.9 264.2,1055.9 264.7,1051.7 265.2,1051.7 265.7,1053.5 266.3,1056.1 266.8,1050.9 267.3,1055.4 267.8,1050.5 268.3,1051.9 268.9,1053.0 269.4,1053.2 269.9,1050.6 270.4,1052.2 270.9,1056.7 271.4,1054.7 272.0,1057.9 272.5,1051.9 273.0,1049.5 273.5,1048.8 274.0,1054.6 274.6,1046.6 275.1,1046.1 275.6,1050.7 276.1,1056.0 276.6,1053.9 277.2,1048.7 277.7,1045.2 278.2,1051.1 278.7,1055.2 279.2,1053.4 279.8,1045.8 280.3,1049.4 280.8,1053.3 281.3,1055.5 281.8,1048.8 282.4,1047.3 282.9,1050.1 283.4,1049.7 283.9,1048.8 284.4,1049.6 284.9,1050.1 285.5,1050.0 286.0,1049.9 286.5,1045.2 287.0,1046.5 287.5,1045.0 288.1,1042.6 288.6,1052.5 289.1,1048.3 289.6,1045.0 290.1,1047.4 290.7,1048.7 291.2,1046.4 291.7,1048.4 292.2,1049.6 292.7,1048.5 293.3,1047.5 293.8,1047.6 294.3,1045.6 294.8,1047.7 295.3,1049.4 295.9,1041.1 296.4,1048.2 296.9,1049.6 297.4,1049.8 297.9,1051.4 298.4,1054.1 299.0,1050.3 299.5,1046.8 300.0,1054.7 300.5,1053.5 301.0,1050.5 301.6,1053.0 302.1,1050.5 302.6,1051.8 303.1,1054.8 303.6,1053.1 304.2,1053.8 304.7,1051.3 305.2,1058.7 305.7,1052.5 306.2,1049.4 306.8,1051.9 307.3,1052.0 307.8,1054.0 308.3,1052.1 308.8,1053.0 309.4,1055.9 309.9,1056.0 310.4,1058.7 310.9,1052.0 311.4,1051.5 311.9,1048.8 312.5,1050.2 313.0,1048.9 313.5,1053.4 314.0,1054.8 314.5,1051.0 315.1,1049.0 315.6,1046.0 316.1,1045.5 316.6,1043.9 317.1,1041.2 317.7,1037.8 318.2,1034.5 318.7,1030.4 319.2,1028.1 319.7,1023.1 320.3,1023.1 320.8,1021.0 321.3,1019.2 321.8,1019.2 322.3,1025.0 322.9,1030.2 323.4,1027.2 323.9,1032.8 324.4,1036.8 324.9,1036.2 325.4,1037.5 326.0,1042.2 326.5,1039.6 327.0,1036.2 327.5,1043.7 328.0,1046.8 328.6,1043.8 329.1,1047.2 329.6,1049.1 330.1,1046.6 330.6,1053.2 331.2,1051.9 331.7,1050.7 332.2,1051.6 332.7,1055.5 333.2,1055.7 333.8,1049.2 334.3,1053.1 334.8,1054.2 335.3,1051.1 335.8,1058.0 336.3,1054.7 336.9,1058.6 337.4,1051.3 337.9,1056.2 338.4,1054.2 338.9,1056.5 339.5,1054.2 340.0,1053.3 340.5,1054.0 341.0,1054.8 341.5,1053.5 342.1,1054.4 342.6,1055.2 343.1,1052.3 343.6,1051.2 344.1,1056.5 344.7,1056.3 345.2,1055.5 345.7,1052.6 346.2,1056.2 346.7,1049.1 347.3,1051.6 347.8,1051.5 348.3,1049.4 348.8,1052.8 349.3,1050.2 349.8,1049.3 350.4,1046.5 350.9,1051.5 351.4,1045.7 351.9,1046.3 352.4,1046.7 353.0,1044.2 353.5,1046.6 354.0,1046.3 354.5,1043.4 355.0,1045.7 355.6,1042.4 356.1,1041.2 356.6,1044.1 357.1,1045.0 357.6,1047.6 358.2,1049.2 358.7,1044.0 359.2,1049.9 359.7,1048.4 360.2,1048.1 360.8,1051.5 361.3,1051.8 361.8,1052.3 362.3,1045.6 362.8,1049.2 363.3,1047.5 363.9,1045.9 364.4,1048.4 364.9,1048.2 365.4,1052.8 365.9,1054.3 366.5,1049.3 367.0,1048.7 367.5,1055.0 368.0,1050.7 368.5,1052.3 369.1,1051.5 369.6,1051.1 370.1,1048.8 370.6,1055.0 371.1,1054.5 371.7,1051.4 372.2,1054.9 372.7,1053.5 373.2,1055.0 373.7,1059.4 374.3,1057.4 374.8,1053.6 375.3,1056.7 375.8,1059.8 376.3,1057.8 376.8,1056.2 377.4,1055.1 377.9,1055.4 378.4,1055.1 378.9,1059.2 379.4,1058.7 380.0,1059.2 380.5,1058.6 381.0,1056.4 381.5,1053.9 382.0,1057.6 382.6,1055.0 383.1,1054.6 383.6,1060.2 384.1,1060.3 384.6,1058.0 385.2,1061.5 385.7,1054.0 386.2,1062.3 386.7,1061.9 387.2,1056.9 387.8,1060.0 388.3,1056.9 388.8,1060.6 389.3,1056.1 389.8,1059.6 390.3,1056.8 390.9,1055.7 391.4,1061.8 391.9,1061.1 392.4,1063.2 392.9,1061.8 393.5,1056.6 394.0,1058.1 394.5,1056.1"/>
<line x1="161.0" y1="772.0" x2="161.0" y2="1071.2" stroke="#000" stroke-width="2.3" stroke-dasharray="5 5.3"/>
<line x1="326.8" y1="766.0" x2="326.8" y2="1071.2" stroke="#000" stroke-width="2.3" stroke-dasharray="5 5.3"/>
<text transform="translate(23.9,905.3) rotate(-90) scale(1.030,1)" font-size="23.5" fill="#000" text-anchor="middle" stroke="#000" stroke-width="0.35">Intensity</text>
<polygon points="141.3,756.8 148.8,761.5 148.8,770.8 141.3,775.4 133.8,770.8 133.8,761.5" fill="none" stroke="#1a1a1a" stroke-width="1.3"/>
<line x1="141.9" y1="759.8" x2="146.0" y2="762.4" stroke="#334" stroke-width="1.0"/>
<line x1="146.0" y1="769.8" x2="141.9" y2="772.4" stroke="#334" stroke-width="1.0"/>
<line x1="135.9" y1="768.6" x2="135.9" y2="763.6" stroke="#334" stroke-width="1.0"/>
<text transform="translate(181.1,765.6) rotate(-90) scale(1.030,1)" font-size="17.3" fill="#000" text-anchor="middle" stroke="#000" stroke-width="0.25">1087</text>
<text transform="translate(321.0,763.6) rotate(-90) scale(1.030,1)" font-size="16.6" fill="#000" text-anchor="middle" stroke="#000" stroke-width="0.25">NH<tspan font-size="10.5">2</tspan></text>
<text transform="translate(348.7,767.5) rotate(-90) scale(1.030,1)" font-size="17.3" fill="#000" text-anchor="middle" stroke="#000" stroke-width="0.25">1590</text>
<rect x="507.3" y="741.7" width="324.7" height="329.5" fill="none" stroke="#000" stroke-width="3.7"/>
<line x1="507.3" y1="1071.2" x2="507.3" y2="1080.9" stroke="#000" stroke-width="3.3"/>
<text transform="translate(507.6,1108.6) scale(1.030,1)" font-size="23.5" fill="#000" text-anchor="middle" stroke="#000" stroke-width="0.35">800</text>
<line x1="572.2" y1="1071.2" x2="572.2" y2="1080.9" stroke="#000" stroke-width="3.3"/>
<text transform="translate(572.5,1108.6) scale(1.030,1)" font-size="23.5" fill="#000" text-anchor="middle" stroke="#000" stroke-width="0.35">1000</text>
<line x1="637.2" y1="1071.2" x2="637.2" y2="1080.9" stroke="#000" stroke-width="3.3"/>
<text transform="translate(637.5,1108.6) scale(1.030,1)" font-size="23.5" fill="#000" text-anchor="middle" stroke="#000" stroke-width="0.35">1200</text>
<line x1="702.1" y1="1071.2" x2="702.1" y2="1080.9" stroke="#000" stroke-width="3.3"/>
<text transform="translate(702.4,1108.6) scale(1.030,1)" font-size="23.5" fill="#000" text-anchor="middle" stroke="#000" stroke-width="0.35">1400</text>
<line x1="767.1" y1="1071.2" x2="767.1" y2="1080.9" stroke="#000" stroke-width="3.3"/>
<text transform="translate(767.4,1108.6) scale(1.030,1)" font-size="23.5" fill="#000" text-anchor="middle" stroke="#000" stroke-width="0.35">1600</text>
<line x1="832.0" y1="1071.2" x2="832.0" y2="1080.9" stroke="#000" stroke-width="3.3"/>
<text transform="translate(832.3,1108.6) scale(1.030,1)" font-size="23.5" fill="#000" text-anchor="middle" stroke="#000" stroke-width="0.35">1800</text>
<text transform="translate(669.9,1140.0) scale(1.030,1)" font-size="23.5" fill="#000" text-anchor="middle" stroke="#000" stroke-width="0.35">Raman shift [cm<tspan font-size="14.5" dy="-12.2" dx="1">-1</tspan><tspan dy="12.2" dx="0.5">]</tspan></text>
<polyline fill="none" stroke="#ff0000" stroke-width="4.2" stroke-linejoin="round" stroke-linecap="round" points="507.3,849.7 507.8,848.5 508.3,849.7 508.9,848.4 509.4,849.2 509.9,849.9 510.4,850.5 510.9,851.8 511.5,852.9 512.0,850.7 512.5,850.5 513.0,849.7 513.5,849.5 514.1,852.0 514.6,851.5 515.1,852.1 515.6,848.8 516.1,850.1 516.7,849.9 517.2,851.5 517.7,852.3 518.2,851.3 518.7,850.4 519.2,849.4 519.8,852.4 520.3,849.9 520.8,851.4 521.3,851.2 521.8,850.8 522.4,850.9 522.9,849.5 523.4,848.7 523.9,849.4 524.4,850.9 525.0,849.6 525.5,849.5 526.0,848.7 526.5,849.6 527.0,852.7 527.6,851.8 528.1,851.1 528.6,848.9 529.1,850.3 529.6,848.8 530.2,849.6 530.7,852.0 531.2,850.4 531.7,849.4 532.2,849.4 532.8,852.4 533.3,849.8 533.8,851.0 534.3,853.5 534.8,851.4 535.4,853.2 535.9,852.3 536.4,847.8 536.9,845.4 537.4,847.1 538.0,848.2 538.5,845.9 539.0,847.7 539.5,849.8 540.0,852.1 540.5,846.6 541.1,850.2 541.6,851.0 542.1,846.7 542.6,843.8 543.1,843.4 543.7,838.7 544.2,838.1 544.7,836.2 545.2,835.1 545.7,837.1 546.3,837.4 546.8,835.8 547.3,842.3 547.8,842.9 548.3,843.5 548.9,846.2 549.4,846.5 549.9,849.7 550.4,848.6 550.9,848.0 551.5,846.5 552.0,846.7 552.5,849.3 553.0,850.7 553.5,846.3 554.1,847.2 554.6,851.9 555.1,850.1 555.6,850.8 556.1,850.4 556.7,852.1 557.2,850.3 557.7,850.2 558.2,849.7 558.7,847.6 559.3,848.5 559.8,851.0 560.3,852.1 560.8,850.3 561.3,847.3 561.8,847.2 562.4,849.5 562.9,847.0 563.4,847.8 563.9,849.5 564.4,848.0 565.0,848.6 565.5,850.2 566.0,849.3 566.5,848.1 567.0,846.0 567.6,849.4 568.1,847.7 568.6,847.7 569.1,847.7 569.6,849.4 570.2,845.5 570.7,844.6 571.2,843.7 571.7,845.0 572.2,843.1 572.8,843.7 573.3,842.2 573.8,842.8 574.3,840.3 574.8,839.0 575.4,838.8 575.9,838.3 576.4,841.0 576.9,842.9 577.4,843.1 578.0,844.2 578.5,840.4 579.0,840.5 579.5,841.6 580.0,842.2 580.6,844.8 581.1,843.1 581.6,845.2 582.1,843.8 582.6,842.9 583.1,841.9 583.7,839.0 584.2,840.3 584.7,834.1 585.2,836.4 585.7,832.7 586.3,833.7 586.8,826.9 587.3,825.4 587.8,817.8 588.3,810.5 588.9,800.3 589.4,790.7 589.9,782.7 590.4,779.7 590.9,778.5 591.5,788.4 592.0,795.7 592.5,803.1 593.0,806.9 593.5,811.1 594.1,811.3 594.6,809.0 595.1,808.5 595.6,804.5 596.1,803.5 596.7,799.2 597.2,802.0 597.7,802.0 598.2,807.7 598.7,813.5 599.3,816.3 599.8,819.5 600.3,821.9 600.8,824.4 601.3,827.1 601.9,831.9 602.4,829.9 602.9,831.8 603.4,831.5 603.9,830.0 604.5,832.8 605.0,829.5 605.5,826.7 606.0,828.5 606.5,829.1 607.0,825.3 607.6,825.2 608.1,822.1 608.6,819.4 609.1,821.1 609.6,815.8 610.2,814.9 610.7,810.0 611.2,803.2 611.7,800.7 612.2,794.8 612.8,788.3 613.3,780.8 613.8,774.3 614.3,768.2 614.8,764.8 615.4,761.8 615.9,758.3 616.4,760.4 616.9,762.8 617.4,764.4 618.0,771.8 618.5,778.3 619.0,781.4 619.5,789.1 620.0,798.8 620.6,802.5 621.1,802.8 621.6,805.2 622.1,813.9 622.6,816.5 623.2,819.3 623.7,822.7 624.2,828.6 624.7,826.6 625.2,828.9 625.8,831.4 626.3,835.1 626.8,835.0 627.3,834.9 627.8,835.7 628.3,835.5 628.9,836.7 629.4,834.8 629.9,834.8 630.4,837.1 630.9,835.4 631.5,831.6 632.0,829.7 632.5,822.7 633.0,822.1 633.5,821.6 634.1,824.8 634.6,832.2 635.1,832.7 635.6,837.3 636.1,840.4 636.7,842.0 637.2,844.7 637.7,845.2 638.2,841.2 638.7,843.6 639.3,844.5 639.8,844.1 640.3,843.7 640.8,846.0 641.3,845.6 641.9,844.9 642.4,843.8 642.9,844.9 643.4,842.9 643.9,845.7 644.5,846.4 645.0,848.3 645.5,846.5 646.0,845.1 646.5,846.4 647.1,846.5 647.6,847.9 648.1,847.5 648.6,847.2 649.1,846.6 649.6,844.7 650.2,845.3 650.7,844.8 651.2,844.3 651.7,846.9 652.2,844.4 652.8,846.1 653.3,848.5 653.8,847.7 654.3,846.8 654.8,849.0 655.4,843.1 655.9,846.0 656.4,845.0 656.9,848.1 657.4,846.5 658.0,846.0 658.5,847.5 659.0,846.1 659.5,846.2 660.0,845.6 660.6,848.0 661.1,845.6 661.6,846.5 662.1,847.5 662.6,849.7 663.2,846.8 663.7,846.6 664.2,842.1 664.7,847.1 665.2,843.5 665.8,843.2 666.3,844.5 666.8,844.8 667.3,844.4 667.8,847.4 668.4,843.1 668.9,845.2 669.4,846.0 669.9,844.9 670.4,849.0 670.9,847.2 671.5,846.5 672.0,846.9 672.5,843.3 673.0,841.0 673.5,843.0 674.1,843.7 674.6,842.5 675.1,843.5 675.6,842.4 676.1,841.5 676.7,842.1 677.2,842.2 677.7,841.2 678.2,840.8 678.7,839.4 679.3,842.3 679.8,841.8 680.3,840.3 680.8,838.1 681.3,840.1 681.9,836.0 682.4,834.5 682.9,837.3 683.4,834.2 683.9,838.3 684.5,835.1 685.0,836.4 685.5,831.7 686.0,830.6 686.5,830.3 687.1,831.3 687.6,831.6 688.1,828.5 688.6,828.8 689.1,826.1 689.7,828.6 690.2,825.1 690.7,823.6 691.2,827.2 691.7,825.4 692.2,823.6 692.8,822.4 693.3,823.3 693.8,819.9 694.3,820.4 694.8,817.7 695.4,819.0 695.9,816.7 696.4,811.8 696.9,813.2 697.4,809.2 698.0,805.7 698.5,806.7 699.0,812.0 699.5,809.4 700.0,815.9 700.6,816.6 701.1,818.5 701.6,822.3 702.1,822.5 702.6,828.8 703.2,825.9 703.7,825.8 704.2,826.8 704.7,826.3 705.2,824.6 705.8,824.2 706.3,826.1 706.8,823.3 707.3,821.2 707.8,821.1 708.4,818.9 708.9,820.8 709.4,816.8 709.9,809.7 710.4,807.6 711.0,799.0 711.5,792.4 712.0,790.1 712.5,786.1 713.0,781.6 713.5,779.9 714.1,780.7 714.6,786.4 715.1,791.8 715.6,799.6 716.1,803.9 716.7,811.0 717.2,813.3 717.7,817.7 718.2,825.2 718.7,825.7 719.3,830.2 719.8,829.4 720.3,834.1 720.8,832.5 721.3,833.7 721.9,833.4 722.4,836.9 722.9,838.6 723.4,837.6 723.9,842.0 724.5,841.2 725.0,842.0 725.5,842.1 726.0,844.9 726.5,845.8 727.1,846.3 727.6,841.6 728.1,844.0 728.6,843.0 729.1,844.3 729.7,844.8 730.2,842.6 730.7,848.2 731.2,845.8 731.7,846.4 732.3,846.9 732.8,848.1 733.3,848.3 733.8,847.8 734.3,844.2 734.8,846.5 735.4,846.6 735.9,846.1 736.4,844.8 736.9,844.0 737.4,845.2 738.0,845.7 738.5,845.0 739.0,846.9 739.5,845.6 740.0,843.0 740.6,846.3 741.1,847.1 741.6,848.3 742.1,845.8 742.6,844.5 743.2,845.9 743.7,845.8 744.2,843.3 744.7,844.6 745.2,843.6 745.8,844.9 746.3,842.3 746.8,842.3 747.3,843.7 747.8,844.4 748.4,839.1 748.9,843.7 749.4,843.8 749.9,845.8 750.4,840.5 751.0,840.0 751.5,839.5 752.0,840.8 752.5,837.5 753.0,837.1 753.6,836.1 754.1,832.8 754.6,829.3 755.1,827.1 755.6,824.6 756.2,819.3 756.7,816.5 757.2,814.8 757.7,811.9 758.2,812.2 758.7,812.9 759.3,815.8 759.8,819.3 760.3,825.0 760.8,825.5 761.3,828.5 761.9,833.4 762.4,833.1 762.9,836.3 763.4,839.8 763.9,839.8 764.5,842.7 765.0,840.1 765.5,844.2 766.0,841.1 766.5,844.8 767.1,844.7 767.6,842.9 768.1,844.5 768.6,848.2 769.1,846.7 769.7,849.4 770.2,846.1 770.7,848.5 771.2,847.6 771.7,847.7 772.3,850.1 772.8,847.7 773.3,845.2 773.8,849.2 774.3,849.4 774.9,848.0 775.4,846.6 775.9,849.7 776.4,848.6 776.9,848.2 777.5,847.1 778.0,850.0 778.5,845.2 779.0,845.2 779.5,850.6 780.0,850.6 780.6,848.7 781.1,850.1 781.6,850.1 782.1,849.2 782.6,850.3 783.2,850.2 783.7,848.9 784.2,849.7 784.7,848.6 785.2,847.3 785.8,847.0 786.3,848.5 786.8,845.6 787.3,849.0 787.8,847.5 788.4,845.8 788.9,848.0 789.4,847.4 789.9,849.3 790.4,849.7 791.0,848.5 791.5,847.8 792.0,847.9 792.5,847.4 793.0,847.8 793.6,848.5 794.1,849.4 794.6,848.7 795.1,848.4 795.6,848.4 796.2,850.1 796.7,846.6 797.2,846.3 797.7,847.6 798.2,848.9 798.8,846.6 799.3,848.4 799.8,848.6 800.3,847.4 800.8,849.0 801.3,848.2 801.9,849.0 802.4,847.4 802.9,847.5 803.4,847.1 803.9,847.4 804.5,847.7 805.0,847.7 805.5,847.0 806.0,849.7 806.5,850.5 807.1,848.7 807.6,848.3 808.1,849.0 808.6,846.4 809.1,847.6 809.7,846.6 810.2,848.4 810.7,851.0 811.2,851.4 811.7,847.7 812.3,848.8 812.8,849.9 813.3,847.4 813.8,846.4 814.3,848.4 814.9,847.3 815.4,849.8 815.9,851.2 816.4,852.6 816.9,848.6 817.5,852.2 818.0,851.0 818.5,850.2 819.0,849.3 819.5,853.1 820.1,851.2 820.6,851.9 821.1,848.6 821.6,850.7 822.1,851.8 822.6,848.4 823.2,850.4 823.7,849.8 824.2,850.5 824.7,851.4 825.2,850.2 825.8,852.4 826.3,853.8 826.8,853.0 827.3,850.9 827.8,852.3 828.4,850.3 828.9,850.6 829.4,851.5 829.9,850.3 830.4,851.3 831.0,851.6 831.5,852.6 832.0,852.5"/>
<polyline fill="none" stroke="#ff0000" stroke-width="4.2" stroke-linejoin="round" stroke-linecap="round" points="507.3,904.8 507.8,905.2 508.3,904.9 508.9,908.4 509.4,905.3 509.9,903.8 510.4,906.2 510.9,902.2 511.5,904.1 512.0,905.5 512.5,902.7 513.0,905.9 513.5,900.8 514.1,905.3 514.6,903.4 515.1,902.4 515.6,903.4 516.1,904.4 516.7,905.9 517.2,905.3 517.7,904.6 518.2,903.4 518.7,908.2 519.2,904.5 519.8,906.7 520.3,906.2 520.8,905.4 521.3,906.1 521.8,904.3 522.4,907.5 522.9,904.7 523.4,906.6 523.9,905.9 524.4,905.4 525.0,907.3 525.5,904.8 526.0,901.8 526.5,905.6 527.0,906.5 527.6,903.0 528.1,902.2 528.6,907.7 529.1,906.0 529.6,906.3 530.2,904.9 530.7,905.0 531.2,906.4 531.7,905.7 532.2,903.2 532.8,905.9 533.3,904.5 533.8,903.6 534.3,901.7 534.8,903.4 535.4,903.8 535.9,905.7 536.4,904.0 536.9,902.1 537.4,903.0 538.0,901.9 538.5,904.3 539.0,902.7 539.5,904.0 540.0,904.8 540.5,904.7 541.1,901.8 541.6,902.3 542.1,903.5 542.6,903.7 543.1,902.0 543.7,903.7 544.2,901.4 544.7,902.3 545.2,903.7 545.7,903.3 546.3,904.5 546.8,904.7 547.3,903.8 547.8,903.6 548.3,903.3 548.9,903.9 549.4,903.8 549.9,902.2 550.4,904.5 550.9,906.7 551.5,900.5 552.0,902.0 552.5,902.1 553.0,900.7 553.5,900.5 554.1,900.0 554.6,900.7 555.1,901.1 555.6,901.6 556.1,902.7 556.7,902.9 557.2,908.3 557.7,901.0 558.2,902.7 558.7,904.4 559.3,901.3 559.8,903.8 560.3,902.5 560.8,904.3 561.3,905.1 561.8,901.8 562.4,902.8 562.9,905.7 563.4,902.7 563.9,901.9 564.4,903.7 565.0,902.5 565.5,901.4 566.0,901.5 566.5,902.4 567.0,902.4 567.6,901.1 568.1,903.1 568.6,904.2 569.1,904.4 569.6,899.0 570.2,904.8 570.7,904.0 571.2,906.8 571.7,904.4 572.2,904.3 572.8,904.1 573.3,902.7 573.8,901.4 574.3,903.1 574.8,904.9 575.4,904.7 575.9,903.7 576.4,904.7 576.9,903.7 577.4,902.6 578.0,902.8 578.5,899.9 579.0,905.0 579.5,902.9 580.0,901.0 580.6,903.9 581.1,905.0 581.6,899.1 582.1,899.8 582.6,900.3 583.1,899.0 583.7,902.0 584.2,902.3 584.7,897.8 585.2,898.9 585.7,901.3 586.3,898.9 586.8,895.3 587.3,898.2 587.8,898.7 588.3,899.0 588.9,894.7 589.4,892.7 589.9,891.9 590.4,890.0 590.9,887.4 591.5,885.3 592.0,882.2 592.5,876.3 593.0,873.4 593.5,868.6 594.1,868.0 594.6,863.3 595.1,857.5 595.6,857.4 596.1,857.1 596.7,863.3 597.2,864.3 597.7,869.9 598.2,873.4 598.7,878.2 599.3,882.2 599.8,885.4 600.3,886.6 600.8,886.6 601.3,891.4 601.9,892.6 602.4,894.5 602.9,895.4 603.4,893.9 603.9,896.1 604.5,897.7 605.0,895.9 605.5,896.5 606.0,897.0 606.5,897.6 607.0,899.1 607.6,897.3 608.1,899.4 608.6,898.4 609.1,898.4 609.6,896.9 610.2,898.6 610.7,897.2 611.2,900.8 611.7,898.2 612.2,897.3 612.8,896.9 613.3,899.6 613.8,895.0 614.3,895.5 614.8,894.6 615.4,889.7 615.9,890.2 616.4,886.6 616.9,888.2 617.4,882.3 618.0,879.9 618.5,877.2 619.0,877.1 619.5,874.2 620.0,874.7 620.6,873.2 621.1,877.3 621.6,881.3 622.1,879.3 622.6,883.7 623.2,884.2 623.7,883.9 624.2,883.7 624.7,886.7 625.2,888.4 625.8,890.9 626.3,892.7 626.8,894.5 627.3,895.2 627.8,898.1 628.3,897.5 628.9,896.5 629.4,898.5 629.9,899.6 630.4,898.8 630.9,901.4 631.5,901.0 632.0,897.3 632.5,899.2 633.0,899.7 633.5,901.2 634.1,902.5 634.6,903.4 635.1,901.7 635.6,899.6 636.1,901.4 636.7,900.3 637.2,901.9 637.7,901.6 638.2,901.1 638.7,897.1 639.3,900.8 639.8,903.0 640.3,900.5 640.8,901.6 641.3,900.9 641.9,902.8 642.4,900.6 642.9,902.8 643.4,901.4 643.9,902.5 644.5,903.2 645.0,901.3 645.5,901.3 646.0,905.2 646.5,901.6 647.1,900.9 647.6,901.9 648.1,901.8 648.6,902.0 649.1,902.0 649.6,903.1 650.2,901.2 650.7,900.7 651.2,903.9 651.7,903.1 652.2,904.5 652.8,904.1 653.3,902.0 653.8,903.2 654.3,903.2 654.8,904.1 655.4,900.2 655.9,901.5 656.4,903.0 656.9,903.5 657.4,901.3 658.0,901.9 658.5,903.5 659.0,904.5 659.5,906.2 660.0,902.7 660.6,901.7 661.1,900.5 661.6,903.6 662.1,903.2 662.6,907.5 663.2,904.2 663.7,905.8 664.2,906.2 664.7,906.3 665.2,906.3 665.8,905.8 666.3,904.0 666.8,905.6 667.3,905.3 667.8,904.8 668.4,901.3 668.9,902.6 669.4,904.8 669.9,902.8 670.4,900.9 670.9,903.2 671.5,901.9 672.0,900.9 672.5,904.2 673.0,901.8 673.5,901.3 674.1,899.1 674.6,897.2 675.1,898.7 675.6,899.4 676.1,896.6 676.7,894.0 677.2,893.4 677.7,891.1 678.2,892.8 678.7,891.0 679.3,891.4 679.8,890.7 680.3,895.0 680.8,894.9 681.3,898.3 681.9,899.5 682.4,900.3 682.9,899.8 683.4,901.8 683.9,903.1 684.5,897.2 685.0,900.3 685.5,900.4 686.0,900.1 686.5,901.0 687.1,900.7 687.6,898.5 688.1,899.3 688.6,897.9 689.1,901.0 689.7,898.5 690.2,899.8 690.7,900.0 691.2,896.2 691.7,895.4 692.2,893.3 692.8,891.5 693.3,893.3 693.8,887.6 694.3,882.6 694.8,883.1 695.4,881.7 695.9,881.9 696.4,883.4 696.9,892.4 697.4,892.6 698.0,894.2 698.5,896.1 699.0,895.5 699.5,900.0 700.0,903.2 700.6,900.1 701.1,901.0 701.6,899.5 702.1,899.5 702.6,900.8 703.2,899.7 703.7,903.7 704.2,902.5 704.7,904.3 705.2,899.6 705.8,902.1 706.3,900.4 706.8,900.6 707.3,899.8 707.8,898.7 708.4,897.7 708.9,897.1 709.4,896.7 709.9,893.9 710.4,895.2 711.0,891.0 711.5,883.3 712.0,880.1 712.5,880.4 713.0,880.3 713.5,882.6 714.1,885.2 714.6,887.1 715.1,891.7 715.6,893.5 716.1,898.6 716.7,898.9 717.2,899.5 717.7,899.9 718.2,900.1 718.7,901.5 719.3,900.9 719.8,900.5 720.3,901.7 720.8,904.6 721.3,904.3 721.9,904.6 722.4,901.0 722.9,901.7 723.4,902.9 723.9,904.0 724.5,904.2 725.0,901.0 725.5,903.0 726.0,903.9 726.5,904.2 727.1,902.0 727.6,905.4 728.1,903.9 728.6,901.8 729.1,901.1 729.7,901.2 730.2,902.5 730.7,900.9 731.2,899.3 731.7,902.7 732.3,903.1 732.8,902.3 733.3,901.3 733.8,902.0 734.3,902.1 734.8,904.3 735.4,899.6 735.9,901.5 736.4,899.6 736.9,899.5 737.4,896.7 738.0,897.8 738.5,896.1 739.0,892.3 739.5,891.3 740.0,893.2 740.6,894.0 741.1,896.9 741.6,898.2 742.1,900.3 742.6,899.3 743.2,898.1 743.7,899.7 744.2,899.9 744.7,898.5 745.2,900.4 745.8,901.0 746.3,899.9 746.8,897.3 747.3,899.9 747.8,899.7 748.4,898.9 748.9,899.8 749.4,899.5 749.9,896.7 750.4,900.5 751.0,897.3 751.5,895.7 752.0,894.5 752.5,895.2 753.0,894.2 753.6,894.8 754.1,895.6 754.6,891.7 755.1,889.9 755.6,887.8 756.2,884.5 756.7,880.6 757.2,881.5 757.7,878.5 758.2,879.4 758.7,879.0 759.3,881.0 759.8,880.0 760.3,882.0 760.8,882.0 761.3,885.4 761.9,883.1 762.4,887.6 762.9,886.0 763.4,890.3 763.9,888.5 764.5,888.5 765.0,888.2 765.5,887.6 766.0,892.3 766.5,891.9 767.1,892.5 767.6,892.7 768.1,891.4 768.6,894.4 769.1,896.0 769.7,896.0 770.2,894.1 770.7,896.7 771.2,899.0 771.7,897.6 772.3,895.1 772.8,894.4 773.3,898.0 773.8,898.7 774.3,896.8 774.9,896.3 775.4,898.0 775.9,898.3 776.4,897.4 776.9,900.9 777.5,897.0 778.0,900.3 778.5,902.3 779.0,897.8 779.5,899.1 780.0,898.2 780.6,901.8 781.1,899.6 781.6,899.4 782.1,899.6 782.6,899.8 783.2,900.3 783.7,900.4 784.2,902.3 784.7,897.8 785.2,901.0 785.8,902.8 786.3,900.8 786.8,901.4 787.3,902.4 787.8,896.6 788.4,900.1 788.9,904.1 789.4,902.9 789.9,902.6 790.4,902.3 791.0,901.2 791.5,901.4 792.0,899.4 792.5,902.7 793.0,903.2 793.6,901.2 794.1,900.8 794.6,903.1 795.1,904.0 795.6,901.7 796.2,902.2 796.7,901.6 797.2,901.7 797.7,902.7 798.2,903.4 798.8,903.7 799.3,904.0 799.8,906.1 800.3,903.8 800.8,903.0 801.3,903.1 801.9,905.4 802.4,905.0 802.9,903.0 803.4,902.8 803.9,905.9 804.5,907.3 805.0,904.9 805.5,907.2 806.0,902.4 806.5,904.8 807.1,903.9 807.6,907.8 808.1,905.3 808.6,904.8 809.1,907.4 809.7,902.6 810.2,904.7 810.7,904.3 811.2,905.4 811.7,904.7 812.3,903.9 812.8,904.2 813.3,904.2 813.8,907.3 814.3,905.3 814.9,906.9 815.4,904.7 815.9,905.9 816.4,907.7 816.9,902.7 817.5,904.8 818.0,905.2 818.5,904.7 819.0,904.9 819.5,903.6 820.1,901.9 820.6,904.7 821.1,903.5 821.6,903.2 822.1,906.2 822.6,903.6 823.2,902.8 823.7,904.4 824.2,904.9 824.7,906.0 825.2,903.0 825.8,905.2 826.3,904.3 826.8,906.5 827.3,905.2 827.8,907.2 828.4,906.2 828.9,903.6 829.4,906.2 829.9,906.6 830.4,906.2 831.0,905.7 831.5,906.8 832.0,904.9"/>
<polyline fill="none" stroke="#ff0000" stroke-width="4.2" stroke-linejoin="round" stroke-linecap="round" points="507.3,965.0 507.8,960.5 508.3,963.3 508.9,965.8 509.4,965.1 509.9,965.9 510.4,962.6 510.9,963.0 511.5,958.4 512.0,961.8 512.5,963.7 513.0,960.8 513.5,957.9 514.1,963.4 514.6,964.3 515.1,963.3 515.6,965.1 516.1,964.7 516.7,961.0 517.2,961.3 517.7,961.4 518.2,963.0 518.7,961.5 519.2,966.0 519.8,961.9 520.3,965.9 520.8,965.7 521.3,963.7 521.8,965.8 522.4,964.0 522.9,963.8 523.4,962.6 523.9,964.3 524.4,964.3 525.0,964.9 525.5,964.7 526.0,965.0 526.5,964.8 527.0,963.9 527.6,962.9 528.1,964.1 528.6,969.3 529.1,965.1 529.6,967.7 530.2,966.9 530.7,964.3 531.2,968.7 531.7,966.6 532.2,964.9 532.8,965.0 533.3,965.7 533.8,967.3 534.3,962.3 534.8,966.7 535.4,966.3 535.9,963.9 536.4,964.5 536.9,963.6 537.4,962.6 538.0,966.1 538.5,964.1 539.0,965.7 539.5,964.7 540.0,964.8 540.5,965.9 541.1,964.7 541.6,966.0 542.1,960.1 542.6,959.8 543.1,963.6 543.7,966.8 544.2,969.1 544.7,967.9 545.2,963.0 545.7,966.1 546.3,965.3 546.8,965.4 547.3,965.4 547.8,965.3 548.3,965.1 548.9,962.0 549.4,963.5 549.9,960.7 550.4,963.3 550.9,963.8 551.5,960.9 552.0,964.9 552.5,962.2 553.0,965.5 553.5,962.7 554.1,963.9 554.6,963.5 555.1,965.0 555.6,960.3 556.1,962.8 556.7,965.5 557.2,961.4 557.7,965.4 558.2,963.6 558.7,963.0 559.3,964.4 559.8,963.5 560.3,965.2 560.8,964.1 561.3,965.9 561.8,965.8 562.4,965.7 562.9,964.5 563.4,965.4 563.9,962.5 564.4,965.8 565.0,961.2 565.5,964.3 566.0,964.8 566.5,965.1 567.0,963.2 567.6,965.4 568.1,963.6 568.6,964.9 569.1,967.3 569.6,965.1 570.2,961.7 570.7,965.7 571.2,963.3 571.7,966.2 572.2,962.8 572.8,965.9 573.3,965.6 573.8,964.2 574.3,963.7 574.8,964.3 575.4,961.0 575.9,962.0 576.4,964.3 576.9,962.8 577.4,963.0 578.0,962.6 578.5,963.5 579.0,963.7 579.5,962.8 580.0,964.3 580.6,962.9 581.1,958.0 581.6,962.1 582.1,965.2 582.6,962.5 583.1,962.6 583.7,963.2 584.2,961.5 584.7,961.5 585.2,959.3 585.7,957.6 586.3,962.0 586.8,960.2 587.3,961.7 587.8,961.0 588.3,958.5 588.9,956.5 589.4,957.3 589.9,952.7 590.4,956.8 590.9,953.7 591.5,951.5 592.0,951.1 592.5,947.8 593.0,947.5 593.5,943.8 594.1,938.5 594.6,936.4 595.1,931.6 595.6,929.4 596.1,927.6 596.7,930.1 597.2,934.8 597.7,938.9 598.2,940.4 598.7,945.3 599.3,943.9 599.8,949.3 600.3,952.4 600.8,955.1 601.3,955.4 601.9,956.8 602.4,956.8 602.9,959.3 603.4,959.9 603.9,960.0 604.5,960.8 605.0,962.3 605.5,961.3 606.0,961.6 606.5,962.0 607.0,961.3 607.6,963.7 608.1,962.3 608.6,961.2 609.1,962.0 609.6,962.5 610.2,963.5 610.7,963.2 611.2,964.7 611.7,959.1 612.2,961.0 612.8,961.0 613.3,960.0 613.8,961.1 614.3,960.6 614.8,960.4 615.4,961.7 615.9,963.2 616.4,958.2 616.9,955.8 617.4,955.3 618.0,955.1 618.5,952.2 619.0,949.2 619.5,946.0 620.0,944.0 620.6,939.7 621.1,940.5 621.6,933.9 622.1,932.1 622.6,935.5 623.2,936.3 623.7,938.3 624.2,940.5 624.7,944.1 625.2,946.3 625.8,950.4 626.3,952.5 626.8,953.0 627.3,955.9 627.8,957.3 628.3,955.2 628.9,956.3 629.4,955.9 629.9,953.7 630.4,958.6 630.9,954.9 631.5,951.7 632.0,951.8 632.5,948.2 633.0,951.6 633.5,950.7 634.1,952.0 634.6,953.4 635.1,956.1 635.6,956.1 636.1,958.6 636.7,959.9 637.2,958.4 637.7,959.7 638.2,962.5 638.7,961.3 639.3,960.5 639.8,960.1 640.3,961.5 640.8,959.9 641.3,962.1 641.9,963.3 642.4,963.4 642.9,962.0 643.4,966.2 643.9,960.0 644.5,960.4 645.0,962.5 645.5,962.2 646.0,960.6 646.5,958.3 647.1,962.9 647.6,959.3 648.1,959.7 648.6,961.1 649.1,959.6 649.6,961.5 650.2,962.9 650.7,963.6 651.2,957.4 651.7,960.9 652.2,961.5 652.8,961.4 653.3,962.1 653.8,963.4 654.3,961.0 654.8,961.6 655.4,961.6 655.9,964.7 656.4,960.9 656.9,962.2 657.4,961.3 658.0,963.8 658.5,964.1 659.0,965.8 659.5,961.6 660.0,962.8 660.6,965.5 661.1,964.1 661.6,963.9 662.1,963.6 662.6,962.2 663.2,961.8 663.7,962.7 664.2,965.2 664.7,965.3 665.2,965.2 665.8,964.8 666.3,962.8 666.8,964.1 667.3,963.5 667.8,961.8 668.4,963.5 668.9,959.5 669.4,965.2 669.9,961.4 670.4,963.0 670.9,961.0 671.5,960.4 672.0,959.2 672.5,958.6 673.0,954.2 673.5,951.3 674.1,944.5 674.6,943.3 675.1,947.7 675.6,949.1 676.1,954.4 676.7,958.5 677.2,958.1 677.7,958.4 678.2,957.4 678.7,959.7 679.3,959.7 679.8,962.5 680.3,958.2 680.8,961.7 681.3,961.1 681.9,960.7 682.4,959.5 682.9,960.4 683.4,960.5 683.9,960.0 684.5,957.2 685.0,957.1 685.5,957.4 686.0,957.0 686.5,958.8 687.1,957.5 687.6,957.6 688.1,951.6 688.6,955.4 689.1,953.9 689.7,951.4 690.2,948.8 690.7,948.7 691.2,946.0 691.7,940.9 692.2,943.0 692.8,938.4 693.3,938.9 693.8,941.6 694.3,946.4 694.8,945.5 695.4,945.9 695.9,948.7 696.4,950.2 696.9,951.2 697.4,953.0 698.0,951.1 698.5,953.7 699.0,953.8 699.5,956.2 700.0,961.2 700.6,958.9 701.1,958.1 701.6,960.5 702.1,957.8 702.6,958.3 703.2,961.7 703.7,957.4 704.2,957.5 704.7,958.1 705.2,958.9 705.8,955.6 706.3,960.5 706.8,957.3 707.3,953.1 707.8,951.1 708.4,951.3 708.9,948.0 709.4,949.5 709.9,948.9 710.4,942.0 711.0,940.3 711.5,940.3 712.0,937.3 712.5,936.8 713.0,937.0 713.5,936.5 714.1,936.1 714.6,941.7 715.1,943.3 715.6,944.7 716.1,947.8 716.7,949.0 717.2,953.0 717.7,953.5 718.2,953.0 718.7,955.5 719.3,956.6 719.8,956.5 720.3,955.5 720.8,959.7 721.3,960.9 721.9,959.2 722.4,959.9 722.9,963.2 723.4,963.5 723.9,963.4 724.5,962.8 725.0,963.0 725.5,961.8 726.0,960.5 726.5,961.5 727.1,964.5 727.6,965.2 728.1,965.9 728.6,966.1 729.1,963.3 729.7,963.9 730.2,968.2 730.7,965.6 731.2,963.5 731.7,967.5 732.3,964.7 732.8,962.3 733.3,968.1 733.8,967.0 734.3,967.7 734.8,965.5 735.4,965.3 735.9,963.4 736.4,965.1 736.9,966.0 737.4,966.0 738.0,963.9 738.5,967.1 739.0,966.3 739.5,966.9 740.0,966.4 740.6,963.7 741.1,966.2 741.6,963.8 742.1,966.3 742.6,967.2 743.2,967.8 743.7,960.9 744.2,964.4 744.7,962.7 745.2,964.7 745.8,964.2 746.3,965.7 746.8,962.5 747.3,962.6 747.8,964.7 748.4,962.4 748.9,961.1 749.4,960.7 749.9,961.6 750.4,960.0 751.0,959.6 751.5,960.5 752.0,963.0 752.5,961.4 753.0,956.4 753.6,958.2 754.1,956.1 754.6,954.6 755.1,953.4 755.6,947.3 756.2,947.8 756.7,942.2 757.2,941.5 757.7,940.5 758.2,939.1 758.7,941.7 759.3,941.1 759.8,942.5 760.3,945.7 760.8,948.2 761.3,951.8 761.9,951.5 762.4,954.8 762.9,955.8 763.4,957.0 763.9,953.9 764.5,955.7 765.0,956.8 765.5,954.5 766.0,956.7 766.5,958.5 767.1,956.8 767.6,956.5 768.1,956.4 768.6,961.8 769.1,961.6 769.7,959.4 770.2,960.8 770.7,962.8 771.2,966.4 771.7,964.7 772.3,966.1 772.8,967.2 773.3,965.7 773.8,967.7 774.3,966.6 774.9,965.5 775.4,967.7 775.9,965.9 776.4,965.2 776.9,965.4 777.5,969.2 778.0,970.4 778.5,970.2 779.0,971.1 779.5,970.2 780.0,968.6 780.6,968.7 781.1,968.1 781.6,966.5 782.1,969.2 782.6,970.6 783.2,971.0 783.7,971.3 784.2,968.7 784.7,966.8 785.2,968.3 785.8,969.8 786.3,969.1 786.8,967.5 787.3,969.7 787.8,968.2 788.4,969.0 788.9,970.0 789.4,967.7 789.9,967.4 790.4,968.9 791.0,970.4 791.5,971.3 792.0,970.8 792.5,967.2 793.0,968.5 793.6,968.6 794.1,968.0 794.6,968.7 795.1,968.3 795.6,970.1 796.2,967.0 796.7,970.1 797.2,967.8 797.7,972.7 798.2,970.9 798.8,971.1 799.3,968.3 799.8,971.0 800.3,971.4 800.8,968.2 801.3,966.3 801.9,967.1 802.4,965.0 802.9,966.8 803.4,970.3 803.9,972.5 804.5,970.5 805.0,970.4 805.5,970.9 806.0,969.3 806.5,966.5 807.1,966.9 807.6,968.2 808.1,967.9 808.6,970.0 809.1,967.0 809.7,969.9 810.2,968.5 810.7,970.2 811.2,970.0 811.7,968.1 812.3,966.4 812.8,971.1 813.3,968.7 813.8,964.6 814.3,967.7 814.9,968.1 815.4,967.2 815.9,968.2 816.4,967.7 816.9,968.5 817.5,970.9 818.0,968.6 818.5,969.0 819.0,966.5 819.5,971.1 820.1,970.8 820.6,966.0 821.1,968.8 821.6,966.3 822.1,969.3 822.6,967.0 823.2,970.5 823.7,971.1 824.2,969.1 824.7,967.9 825.2,968.7 825.8,965.7 826.3,968.7 826.8,966.7 827.3,968.7 827.8,969.4 828.4,966.8 828.9,968.7 829.4,971.0 829.9,967.7 830.4,966.0 831.0,966.7 831.5,968.3 832.0,969.5"/>
<polyline fill="none" stroke="#ff0000" stroke-width="4.2" stroke-linejoin="round" stroke-linecap="round" points="507.3,1017.4 507.8,1015.3 508.3,1016.5 508.9,1017.2 509.4,1019.3 509.9,1015.8 510.4,1015.3 510.9,1015.2 511.5,1017.2 512.0,1014.5 512.5,1014.7 513.0,1016.1 513.5,1018.0 514.1,1015.5 514.6,1014.1 515.1,1018.7 515.6,1015.3 516.1,1016.1 516.7,1015.9 517.2,1015.1 517.7,1013.8 518.2,1014.8 518.7,1017.3 519.2,1014.8 519.8,1014.5 520.3,1015.4 520.8,1012.8 521.3,1015.4 521.8,1013.6 522.4,1013.1 522.9,1014.3 523.4,1014.5 523.9,1015.4 524.4,1015.8 525.0,1016.0 525.5,1016.6 526.0,1015.9 526.5,1016.3 527.0,1015.7 527.6,1015.5 528.1,1013.1 528.6,1016.8 529.1,1016.7 529.6,1013.4 530.2,1012.8 530.7,1013.3 531.2,1014.3 531.7,1010.7 532.2,1013.9 532.8,1014.5 533.3,1012.9 533.8,1016.1 534.3,1015.6 534.8,1015.5 535.4,1017.4 535.9,1014.4 536.4,1012.3 536.9,1013.3 537.4,1015.4 538.0,1015.5 538.5,1016.8 539.0,1015.5 539.5,1014.6 540.0,1017.0 540.5,1014.0 541.1,1017.3 541.6,1016.6 542.1,1015.4 542.6,1013.9 543.1,1015.2 543.7,1017.4 544.2,1017.9 544.7,1015.6 545.2,1015.0 545.7,1014.8 546.3,1018.0 546.8,1015.2 547.3,1014.4 547.8,1017.0 548.3,1017.3 548.9,1014.9 549.4,1017.2 549.9,1015.0 550.4,1013.3 550.9,1016.6 551.5,1015.4 552.0,1015.2 552.5,1015.0 553.0,1015.3 553.5,1015.4 554.1,1016.9 554.6,1016.4 555.1,1015.2 555.6,1013.9 556.1,1014.9 556.7,1013.7 557.2,1014.7 557.7,1016.0 558.2,1015.2 558.7,1014.7 559.3,1018.9 559.8,1016.7 560.3,1019.5 560.8,1015.8 561.3,1014.5 561.8,1015.6 562.4,1015.2 562.9,1016.0 563.4,1015.7 563.9,1017.2 564.4,1012.6 565.0,1014.5 565.5,1014.3 566.0,1016.2 566.5,1015.4 567.0,1014.8 567.6,1016.1 568.1,1017.4 568.6,1014.8 569.1,1017.6 569.6,1016.2 570.2,1016.0 570.7,1018.8 571.2,1015.3 571.7,1015.8 572.2,1017.3 572.8,1015.2 573.3,1018.0 573.8,1014.9 574.3,1015.8 574.8,1016.8 575.4,1014.5 575.9,1016.0 576.4,1017.1 576.9,1015.9 577.4,1015.9 578.0,1018.6 578.5,1017.1 579.0,1016.5 579.5,1013.4 580.0,1014.2 580.6,1016.8 581.1,1015.6 581.6,1015.3 582.1,1013.2 582.6,1013.2 583.1,1014.7 583.7,1015.0 584.2,1017.1 584.7,1017.6 585.2,1015.9 585.7,1010.4 586.3,1013.0 586.8,1014.4 587.3,1012.1 587.8,1009.8 588.3,1012.0 588.9,1011.4 589.4,1008.8 589.9,1010.0 590.4,1010.2 590.9,1010.0 591.5,1006.9 592.0,1007.4 592.5,1005.4 593.0,1002.5 593.5,1003.1 594.1,1001.8 594.6,996.7 595.1,994.4 595.6,992.1 596.1,989.8 596.7,984.9 597.2,984.4 597.7,985.8 598.2,987.2 598.7,989.6 599.3,993.0 599.8,997.3 600.3,998.4 600.8,998.5 601.3,998.1 601.9,1003.1 602.4,1005.3 602.9,1007.8 603.4,1006.1 603.9,1010.8 604.5,1010.7 605.0,1011.9 605.5,1011.7 606.0,1010.4 606.5,1011.4 607.0,1013.1 607.6,1011.9 608.1,1010.3 608.6,1012.3 609.1,1015.3 609.6,1013.0 610.2,1010.4 610.7,1012.6 611.2,1011.9 611.7,1012.4 612.2,1012.3 612.8,1012.2 613.3,1008.6 613.8,1010.8 614.3,1013.9 614.8,1010.2 615.4,1010.6 615.9,1008.6 616.4,1007.5 616.9,1006.5 617.4,1004.2 618.0,1003.2 618.5,1004.3 619.0,1003.7 619.5,1007.6 620.0,1008.7 620.6,1007.1 621.1,1007.7 621.6,1010.4 622.1,1010.4 622.6,1010.8 623.2,1011.8 623.7,1014.0 624.2,1013.7 624.7,1009.8 625.2,1012.8 625.8,1013.1 626.3,1010.9 626.8,1012.6 627.3,1011.1 627.8,1011.7 628.3,1007.7 628.9,1007.3 629.4,1002.8 629.9,1002.7 630.4,1004.5 630.9,1002.8 631.5,1005.8 632.0,1002.3 632.5,1000.5 633.0,1003.4 633.5,1005.9 634.1,1006.7 634.6,1006.8 635.1,1005.8 635.6,1009.3 636.1,1010.8 636.7,1012.0 637.2,1013.9 637.7,1011.5 638.2,1011.7 638.7,1013.9 639.3,1011.2 639.8,1011.7 640.3,1011.9 640.8,1014.8 641.3,1013.9 641.9,1014.8 642.4,1013.7 642.9,1012.4 643.4,1010.4 643.9,1010.4 644.5,1011.0 645.0,1013.5 645.5,1013.4 646.0,1011.7 646.5,1010.4 647.1,1010.7 647.6,1009.6 648.1,1008.6 648.6,1007.5 649.1,1009.4 649.6,1010.1 650.2,1011.5 650.7,1009.6 651.2,1013.4 651.7,1016.0 652.2,1009.1 652.8,1008.9 653.3,1012.1 653.8,1014.5 654.3,1009.6 654.8,1010.1 655.4,1012.6 655.9,1013.8 656.4,1010.5 656.9,1011.7 657.4,1010.6 658.0,1011.5 658.5,1009.7 659.0,1013.2 659.5,1011.9 660.0,1010.4 660.6,1013.6 661.1,1015.2 661.6,1013.4 662.1,1013.3 662.6,1016.2 663.2,1015.9 663.7,1013.8 664.2,1014.4 664.7,1016.7 665.2,1015.2 665.8,1013.7 666.3,1013.9 666.8,1013.7 667.3,1014.6 667.8,1017.0 668.4,1014.5 668.9,1013.8 669.4,1014.0 669.9,1012.2 670.4,1010.8 670.9,1010.8 671.5,1009.9 672.0,1013.6 672.5,1010.8 673.0,1011.5 673.5,1010.0 674.1,1010.2 674.6,1009.7 675.1,1004.9 675.6,1003.2 676.1,1003.7 676.7,1003.7 677.2,1000.1 677.7,1000.0 678.2,998.3 678.7,997.0 679.3,998.9 679.8,998.7 680.3,997.7 680.8,999.5 681.3,1003.5 681.9,1006.5 682.4,1007.0 682.9,1005.2 683.4,1008.3 683.9,1009.2 684.5,1009.6 685.0,1007.5 685.5,1006.6 686.0,1010.2 686.5,1009.2 687.1,1011.2 687.6,1011.1 688.1,1012.3 688.6,1010.8 689.1,1012.3 689.7,1009.2 690.2,1013.4 690.7,1009.8 691.2,1014.6 691.7,1016.4 692.2,1014.1 692.8,1013.4 693.3,1013.0 693.8,1012.7 694.3,1012.8 694.8,1012.7 695.4,1012.9 695.9,1011.0 696.4,1012.9 696.9,1013.3 697.4,1014.3 698.0,1010.4 698.5,1008.5 699.0,1007.7 699.5,1007.6 700.0,1006.2 700.6,1004.4 701.1,1005.7 701.6,1005.5 702.1,1006.4 702.6,1005.8 703.2,1006.1 703.7,1009.9 704.2,1004.3 704.7,1006.5 705.2,1010.0 705.8,1005.5 706.3,1003.5 706.8,1006.0 707.3,1006.8 707.8,1011.0 708.4,1010.1 708.9,1011.2 709.4,1010.5 709.9,1010.4 710.4,1011.4 711.0,1016.6 711.5,1012.1 712.0,1011.9 712.5,1012.4 713.0,1011.0 713.5,1009.1 714.1,1009.0 714.6,1008.2 715.1,1004.3 715.6,1005.9 716.1,1003.4 716.7,998.7 717.2,997.1 717.7,997.5 718.2,997.4 718.7,1000.0 719.3,1006.7 719.8,1006.1 720.3,1005.0 720.8,1009.8 721.3,1009.4 721.9,1012.8 722.4,1013.1 722.9,1010.7 723.4,1011.9 723.9,1013.7 724.5,1010.6 725.0,1013.2 725.5,1012.0 726.0,1013.1 726.5,1014.8 727.1,1013.2 727.6,1013.6 728.1,1011.1 728.6,1014.2 729.1,1013.2 729.7,1013.2 730.2,1011.1 730.7,1013.6 731.2,1012.3 731.7,1011.1 732.3,1012.1 732.8,1013.1 733.3,1013.6 733.8,1012.2 734.3,1013.1 734.8,1012.3 735.4,1012.2 735.9,1012.0 736.4,1013.3 736.9,1010.1 737.4,1010.9 738.0,1011.7 738.5,1010.3 739.0,1012.6 739.5,1012.2 740.0,1010.1 740.6,1011.9 741.1,1012.3 741.6,1012.1 742.1,1012.4 742.6,1010.1 743.2,1008.4 743.7,1006.0 744.2,1008.2 744.7,1003.4 745.2,1004.0 745.8,1001.3 746.3,998.8 746.8,1003.5 747.3,1001.0 747.8,1004.8 748.4,1006.1 748.9,1007.5 749.4,1006.2 749.9,1003.2 750.4,1008.2 751.0,1010.0 751.5,1006.1 752.0,1001.7 752.5,1003.4 753.0,1001.1 753.6,1005.3 754.1,1000.9 754.6,1001.3 755.1,999.9 755.6,996.9 756.2,996.0 756.7,993.1 757.2,992.4 757.7,987.7 758.2,987.5 758.7,979.7 759.3,975.8 759.8,975.7 760.3,977.4 760.8,972.3 761.3,974.7 761.9,975.7 762.4,980.1 762.9,979.7 763.4,984.8 763.9,987.9 764.5,990.7 765.0,994.1 765.5,995.7 766.0,996.3 766.5,1000.0 767.1,1001.4 767.6,1003.3 768.1,1004.0 768.6,1006.4 769.1,1008.8 769.7,1006.4 770.2,1005.9 770.7,1008.8 771.2,1011.1 771.7,1011.3 772.3,1010.7 772.8,1011.4 773.3,1013.7 773.8,1015.0 774.3,1014.1 774.9,1013.5 775.4,1014.4 775.9,1015.8 776.4,1016.6 776.9,1014.9 777.5,1018.7 778.0,1017.7 778.5,1015.0 779.0,1019.0 779.5,1016.9 780.0,1014.1 780.6,1017.3 781.1,1019.1 781.6,1020.2 782.1,1015.5 782.6,1020.0 783.2,1017.1 783.7,1019.6 784.2,1017.2 784.7,1017.1 785.2,1016.2 785.8,1019.5 786.3,1018.4 786.8,1020.8 787.3,1018.2 787.8,1016.7 788.4,1018.9 788.9,1016.6 789.4,1016.9 789.9,1016.1 790.4,1015.1 791.0,1017.8 791.5,1015.5 792.0,1017.8 792.5,1019.7 793.0,1017.1 793.6,1018.9 794.1,1021.9 794.6,1017.7 795.1,1017.1 795.6,1015.5 796.2,1016.4 796.7,1017.5 797.2,1021.5 797.7,1018.2 798.2,1016.0 798.8,1019.6 799.3,1016.7 799.8,1016.0 800.3,1017.7 800.8,1017.0 801.3,1017.8 801.9,1020.6 802.4,1020.0 802.9,1017.2 803.4,1018.3 803.9,1016.4 804.5,1015.0 805.0,1015.8 805.5,1017.4 806.0,1018.6 806.5,1018.8 807.1,1012.8 807.6,1016.1 808.1,1015.1 808.6,1013.5 809.1,1014.9 809.7,1016.6 810.2,1018.8 810.7,1017.8 811.2,1016.3 811.7,1015.5 812.3,1014.5 812.8,1017.8 813.3,1016.4 813.8,1017.6 814.3,1016.9 814.9,1015.5 815.4,1018.2 815.9,1015.6 816.4,1015.1 816.9,1014.7 817.5,1014.7 818.0,1017.0 818.5,1015.9 819.0,1013.6 819.5,1015.9 820.1,1017.5 820.6,1014.6 821.1,1016.2 821.6,1016.5 822.1,1018.1 822.6,1016.4 823.2,1016.3 823.7,1014.3 824.2,1016.9 824.7,1017.7 825.2,1015.1 825.8,1016.2 826.3,1017.8 826.8,1013.5 827.3,1014.7 827.8,1015.1 828.4,1014.3 828.9,1014.8 829.4,1014.6 829.9,1014.1 830.4,1016.5 831.0,1015.6 831.5,1017.7 832.0,1017.0"/>
<polyline fill="none" stroke="#ff0000" stroke-width="4.2" stroke-linejoin="round" stroke-linecap="round" points="507.3,1064.8 507.8,1067.8 508.3,1064.8 508.9,1065.3 509.4,1060.8 509.9,1067.2 510.4,1065.4 510.9,1068.2 511.5,1064.2 512.0,1067.4 512.5,1067.6 513.0,1065.7 513.5,1065.3 514.1,1065.8 514.6,1066.4 515.1,1065.4 515.6,1064.4 516.1,1064.1 516.7,1065.4 517.2,1061.2 517.7,1063.9 518.2,1063.1 518.7,1066.5 519.2,1065.5 519.8,1064.1 520.3,1068.6 520.8,1065.1 521.3,1065.4 521.8,1065.8 522.4,1063.5 522.9,1062.4 523.4,1065.5 523.9,1066.5 524.4,1063.0 525.0,1063.6 525.5,1064.4 526.0,1063.7 526.5,1064.4 527.0,1063.9 527.6,1064.3 528.1,1063.5 528.6,1065.3 529.1,1063.0 529.6,1065.8 530.2,1060.7 530.7,1062.5 531.2,1062.1 531.7,1060.8 532.2,1062.4 532.8,1065.5 533.3,1064.1 533.8,1064.2 534.3,1064.4 534.8,1063.5 535.4,1064.5 535.9,1065.8 536.4,1065.6 536.9,1064.6 537.4,1064.0 538.0,1066.0 538.5,1062.5 539.0,1064.2 539.5,1065.6 540.0,1066.9 540.5,1065.3 541.1,1066.6 541.6,1064.4 542.1,1067.9 542.6,1068.4 543.1,1065.4 543.7,1066.0 544.2,1063.6 544.7,1065.6 545.2,1066.0 545.7,1068.0 546.3,1067.7 546.8,1059.3 547.3,1065.6 547.8,1067.6 548.3,1065.0 548.9,1062.1 549.4,1062.7 549.9,1063.2 550.4,1064.9 550.9,1068.6 551.5,1065.5 552.0,1062.6 552.5,1067.1 553.0,1062.8 553.5,1066.2 554.1,1065.3 554.6,1065.9 555.1,1068.4 555.6,1066.2 556.1,1064.3 556.7,1068.2 557.2,1066.4 557.7,1068.0 558.2,1066.1 558.7,1065.0 559.3,1065.9 559.8,1067.5 560.3,1064.2 560.8,1064.8 561.3,1068.0 561.8,1067.5 562.4,1067.5 562.9,1066.1 563.4,1064.2 563.9,1066.1 564.4,1068.1 565.0,1067.3 565.5,1065.2 566.0,1065.8 566.5,1068.1 567.0,1063.0 567.6,1061.8 568.1,1064.3 568.6,1067.0 569.1,1067.1 569.6,1066.3 570.2,1069.2 570.7,1066.3 571.2,1066.2 571.7,1064.9 572.2,1066.9 572.8,1065.0 573.3,1067.3 573.8,1065.7 574.3,1066.3 574.8,1068.9 575.4,1066.3 575.9,1067.2 576.4,1063.3 576.9,1064.2 577.4,1064.0 578.0,1063.0 578.5,1065.1 579.0,1066.0 579.5,1063.5 580.0,1064.1 580.6,1064.7 581.1,1066.6 581.6,1066.3 582.1,1066.7 582.6,1063.7 583.1,1067.6 583.7,1066.8 584.2,1063.4 584.7,1064.7 585.2,1067.8 585.7,1065.8 586.3,1062.2 586.8,1064.5 587.3,1063.5 587.8,1064.6 588.3,1066.3 588.9,1064.6 589.4,1063.9 589.9,1063.8 590.4,1063.8 590.9,1064.6 591.5,1066.2 592.0,1061.2 592.5,1062.2 593.0,1057.6 593.5,1057.7 594.1,1056.8 594.6,1057.2 595.1,1056.2 595.6,1055.5 596.1,1055.3 596.7,1057.5 597.2,1057.8 597.7,1057.6 598.2,1055.5 598.7,1056.9 599.3,1053.1 599.8,1056.1 600.3,1053.5 600.8,1054.8 601.3,1060.4 601.9,1064.2 602.4,1061.5 602.9,1063.3 603.4,1062.2 603.9,1062.7 604.5,1063.6 605.0,1060.4 605.5,1064.8 606.0,1066.0 606.5,1064.1 607.0,1065.4 607.6,1063.9 608.1,1065.3 608.6,1067.0 609.1,1060.8 609.6,1065.2 610.2,1065.6 610.7,1066.4 611.2,1061.6 611.7,1062.8 612.2,1062.3 612.8,1064.5 613.3,1064.1 613.8,1062.2 614.3,1061.8 614.8,1062.2 615.4,1061.2 615.9,1058.3 616.4,1054.2 616.9,1048.7 617.4,1045.8 618.0,1045.8 618.5,1044.9 619.0,1045.5 619.5,1049.2 620.0,1053.2 620.6,1056.8 621.1,1058.5 621.6,1060.9 622.1,1061.1 622.6,1063.9 623.2,1065.8 623.7,1063.4 624.2,1064.5 624.7,1063.2 625.2,1067.3 625.8,1063.5 626.3,1066.3 626.8,1064.3 627.3,1067.9 627.8,1063.0 628.3,1063.8 628.9,1062.3 629.4,1067.2 629.9,1065.7 630.4,1065.2 630.9,1064.7 631.5,1061.1 632.0,1062.6 632.5,1059.8 633.0,1058.9 633.5,1062.3 634.1,1063.5 634.6,1061.3 635.1,1060.1 635.6,1062.5 636.1,1065.7 636.7,1065.1 637.2,1064.3 637.7,1065.8 638.2,1065.6 638.7,1061.9 639.3,1066.0 639.8,1068.0 640.3,1067.7 640.8,1070.6 641.3,1068.8 641.9,1068.4 642.4,1067.9 642.9,1065.7 643.4,1072.8 643.9,1065.7 644.5,1069.3 645.0,1066.2 645.5,1067.8 646.0,1067.4 646.5,1064.2 647.1,1065.7 647.6,1069.7 648.1,1066.9 648.6,1068.5 649.1,1067.2 649.6,1069.2 650.2,1066.3 650.7,1069.3 651.2,1068.4 651.7,1069.5 652.2,1068.0 652.8,1067.2 653.3,1068.2 653.8,1067.8 654.3,1067.0 654.8,1066.4 655.4,1068.2 655.9,1067.4 656.4,1067.6 656.9,1067.2 657.4,1067.9 658.0,1067.9 658.5,1065.7 659.0,1069.5 659.5,1068.0 660.0,1064.5 660.6,1067.4 661.1,1068.6 661.6,1069.5 662.1,1067.8 662.6,1065.3 663.2,1064.1 663.7,1064.8 664.2,1065.4 664.7,1066.1 665.2,1067.9 665.8,1066.1 666.3,1066.5 666.8,1064.8 667.3,1062.4 667.8,1065.5 668.4,1063.5 668.9,1063.9 669.4,1065.8 669.9,1064.2 670.4,1064.6 670.9,1065.0 671.5,1063.6 672.0,1062.0 672.5,1065.4 673.0,1061.2 673.5,1063.0 674.1,1062.0 674.6,1062.1 675.1,1060.5 675.6,1059.2 676.1,1056.8 676.7,1055.2 677.2,1058.1 677.7,1052.1 678.2,1054.6 678.7,1052.8 679.3,1051.7 679.8,1049.4 680.3,1054.7 680.8,1053.6 681.3,1054.9 681.9,1057.2 682.4,1055.3 682.9,1058.6 683.4,1058.8 683.9,1059.4 684.5,1061.0 685.0,1060.0 685.5,1065.1 686.0,1063.8 686.5,1061.7 687.1,1061.1 687.6,1061.6 688.1,1062.6 688.6,1064.1 689.1,1061.5 689.7,1061.3 690.2,1062.8 690.7,1064.4 691.2,1064.1 691.7,1065.3 692.2,1065.2 692.8,1063.1 693.3,1063.0 693.8,1059.0 694.3,1064.6 694.8,1065.1 695.4,1061.5 695.9,1064.0 696.4,1061.6 696.9,1061.3 697.4,1060.3 698.0,1059.0 698.5,1055.6 699.0,1054.5 699.5,1057.2 700.0,1059.4 700.6,1059.7 701.1,1061.6 701.6,1066.7 702.1,1063.9 702.6,1061.2 703.2,1065.4 703.7,1065.7 704.2,1066.9 704.7,1064.6 705.2,1065.3 705.8,1066.4 706.3,1064.5 706.8,1061.2 707.3,1066.3 707.8,1062.3 708.4,1065.1 708.9,1063.9 709.4,1062.5 709.9,1063.4 710.4,1062.9 711.0,1058.2 711.5,1059.8 712.0,1060.3 712.5,1056.9 713.0,1055.7 713.5,1055.0 714.1,1052.9 714.6,1052.5 715.1,1050.0 715.6,1051.6 716.1,1049.4 716.7,1054.2 717.2,1054.5 717.7,1051.0 718.2,1056.6 718.7,1058.0 719.3,1057.7 719.8,1062.7 720.3,1063.2 720.8,1062.4 721.3,1061.8 721.9,1061.0 722.4,1061.4 722.9,1067.0 723.4,1066.8 723.9,1063.1 724.5,1066.7 725.0,1065.1 725.5,1063.4 726.0,1063.4 726.5,1064.7 727.1,1061.8 727.6,1065.3 728.1,1062.8 728.6,1062.3 729.1,1064.8 729.7,1063.5 730.2,1066.3 730.7,1064.3 731.2,1066.5 731.7,1069.7 732.3,1066.0 732.8,1065.5 733.3,1065.1 733.8,1065.4 734.3,1066.7 734.8,1064.3 735.4,1067.2 735.9,1064.5 736.4,1067.9 736.9,1068.4 737.4,1067.1 738.0,1066.7 738.5,1068.5 739.0,1065.5 739.5,1065.4 740.0,1068.1 740.6,1064.8 741.1,1066.9 741.6,1065.2 742.1,1067.2 742.6,1066.6 743.2,1066.1 743.7,1066.3 744.2,1066.7 744.7,1064.4 745.2,1067.5 745.8,1066.7 746.3,1064.6 746.8,1065.3 747.3,1066.5 747.8,1068.6 748.4,1066.7 748.9,1067.0 749.4,1065.5 749.9,1066.1 750.4,1067.2 751.0,1068.3 751.5,1066.8 752.0,1066.4 752.5,1065.0 753.0,1065.1 753.6,1065.8 754.1,1064.8 754.6,1062.1 755.1,1065.6 755.6,1061.1 756.2,1061.8 756.7,1063.4 757.2,1063.5 757.7,1061.5 758.2,1059.4 758.7,1058.9 759.3,1060.6 759.8,1060.3 760.3,1059.7 760.8,1060.5 761.3,1060.1 761.9,1061.0 762.4,1060.6 762.9,1057.2 763.4,1062.3 763.9,1060.7 764.5,1059.9 765.0,1063.8 765.5,1065.3 766.0,1064.5 766.5,1065.3 767.1,1065.9 767.6,1066.5 768.1,1065.4 768.6,1065.9 769.1,1064.8 769.7,1066.8 770.2,1065.8 770.7,1067.5 771.2,1067.3 771.7,1067.5 772.3,1068.5 772.8,1066.3 773.3,1067.8 773.8,1065.7 774.3,1063.9 774.9,1065.7 775.4,1066.6 775.9,1069.1 776.4,1067.8 776.9,1068.8 777.5,1070.3 778.0,1069.4 778.5,1067.8 779.0,1067.4 779.5,1066.8 780.0,1066.5 780.6,1066.6 781.1,1068.6 781.6,1068.9 782.1,1067.0 782.6,1066.0 783.2,1066.1 783.7,1069.3 784.2,1070.2 784.7,1070.6 785.2,1065.9 785.8,1068.1 786.3,1066.8 786.8,1066.1 787.3,1067.2 787.8,1067.0 788.4,1067.9 788.9,1068.0 789.4,1069.2 789.9,1067.2 790.4,1067.7 791.0,1065.3 791.5,1066.8 792.0,1066.7 792.5,1067.1 793.0,1066.3 793.6,1064.5 794.1,1065.2 794.6,1065.6 795.1,1068.6 795.6,1069.8 796.2,1069.3 796.7,1067.9 797.2,1068.6 797.7,1068.6 798.2,1067.1 798.8,1067.6 799.3,1066.4 799.8,1068.3 800.3,1066.7 800.8,1070.3 801.3,1067.8 801.9,1067.6 802.4,1065.5 802.9,1065.6 803.4,1068.6 803.9,1065.2 804.5,1067.9 805.0,1070.1 805.5,1067.6 806.0,1067.5 806.5,1063.8 807.1,1064.9 807.6,1067.1 808.1,1069.7 808.6,1064.8 809.1,1066.0 809.7,1067.5 810.2,1068.8 810.7,1066.9 811.2,1067.1 811.7,1068.5 812.3,1064.9 812.8,1070.1 813.3,1065.5 813.8,1066.0 814.3,1063.2 814.9,1067.4 815.4,1068.4 815.9,1063.1 816.4,1066.1 816.9,1064.6 817.5,1062.7 818.0,1063.6 818.5,1064.5 819.0,1064.3 819.5,1064.8 820.1,1063.5 820.6,1066.7 821.1,1065.9 821.6,1066.4 822.1,1063.2 822.6,1066.3 823.2,1065.8 823.7,1067.0 824.2,1065.4 824.7,1062.7 825.2,1066.3 825.8,1065.6 826.3,1064.1 826.8,1066.0 827.3,1068.8 827.8,1068.1 828.4,1064.3 828.9,1063.1 829.4,1060.7 829.9,1063.3 830.4,1061.5 831.0,1062.8 831.5,1063.9 832.0,1064.1"/>
<line x1="697.4" y1="795.0" x2="697.4" y2="1071.2" stroke="#000" stroke-width="2.3" stroke-dasharray="5 5.3"/>
<line x1="713.3" y1="767.0" x2="713.3" y2="1071.2" stroke="#000" stroke-width="2.3" stroke-dasharray="5 5.3"/>
<line x1="758.0" y1="795.0" x2="758.0" y2="1071.2" stroke="#000" stroke-width="2.3" stroke-dasharray="5 5.3"/>
<text transform="translate(461.1,905.3) rotate(-90) scale(1.030,1)" font-size="23.5" fill="#000" text-anchor="middle" stroke="#000" stroke-width="0.35">Intensity</text>
<text transform="translate(697.2,755.0) scale(1.030,1)" font-size="17.2" fill="#000" text-anchor="middle" stroke="#000" stroke-width="0.25">azo</text>
<text transform="translate(701.8,777.1) rotate(-90) scale(1.030,1)" font-size="17.3" fill="#000" text-anchor="middle" stroke="#000" stroke-width="0.25">1397</text>
<text transform="translate(728.1,766.3) rotate(-90) scale(1.030,1)" font-size="17.3" fill="#000" text-anchor="middle" stroke="#000" stroke-width="0.25">1441</text>
<text transform="translate(764.2,770.6) rotate(-90) scale(1.030,1)" font-size="17.3" fill="#000" text-anchor="middle" stroke="#000" stroke-width="0.25">1590</text>
<text transform="translate(782.9,772.4) rotate(-90) scale(1.030,1)" font-size="16.6" fill="#000" text-anchor="middle" stroke="#000" stroke-width="0.25">NH<tspan font-size="10.5">2</tspan></text>
<rect x="951.4" y="745.7" width="324.9" height="329.5" fill="none" stroke="#000" stroke-width="3.7"/>
<line x1="951.4" y1="1075.2" x2="951.4" y2="1084.9" stroke="#000" stroke-width="3.3"/>
<text transform="translate(951.7,1112.6) scale(1.030,1)" font-size="23.5" fill="#000" text-anchor="middle" stroke="#000" stroke-width="0.35">800</text>
<line x1="1016.4" y1="1075.2" x2="1016.4" y2="1084.9" stroke="#000" stroke-width="3.3"/>
<text transform="translate(1016.7,1112.6) scale(1.030,1)" font-size="23.5" fill="#000" text-anchor="middle" stroke="#000" stroke-width="0.35">1000</text>
<line x1="1081.4" y1="1075.2" x2="1081.4" y2="1084.9" stroke="#000" stroke-width="3.3"/>
<text transform="translate(1081.7,1112.6) scale(1.030,1)" font-size="23.5" fill="#000" text-anchor="middle" stroke="#000" stroke-width="0.35">1200</text>
<line x1="1146.3" y1="1075.2" x2="1146.3" y2="1084.9" stroke="#000" stroke-width="3.3"/>
<text transform="translate(1146.6,1112.6) scale(1.030,1)" font-size="23.5" fill="#000" text-anchor="middle" stroke="#000" stroke-width="0.35">1400</text>
<line x1="1211.3" y1="1075.2" x2="1211.3" y2="1084.9" stroke="#000" stroke-width="3.3"/>
<text transform="translate(1211.6,1112.6) scale(1.030,1)" font-size="23.5" fill="#000" text-anchor="middle" stroke="#000" stroke-width="0.35">1600</text>
<line x1="1276.3" y1="1075.2" x2="1276.3" y2="1084.9" stroke="#000" stroke-width="3.3"/>
<text transform="translate(1276.6,1112.6) scale(1.030,1)" font-size="23.5" fill="#000" text-anchor="middle" stroke="#000" stroke-width="0.35">1800</text>
<text transform="translate(1114.1,1144.0) scale(1.030,1)" font-size="23.5" fill="#000" text-anchor="middle" stroke="#000" stroke-width="0.35">Raman shift [cm<tspan font-size="14.5" dy="-12.2" dx="1">-1</tspan><tspan dy="12.2" dx="0.5">]</tspan></text>
<polyline fill="none" stroke="#12c264" stroke-width="3.6" stroke-linejoin="round" stroke-linecap="round" points="951.4,850.5 951.9,849.6 952.4,850.5 953.0,852.3 953.5,849.9 954.0,846.6 954.5,848.7 955.0,851.4 955.6,842.6 956.1,849.3 956.6,848.0 957.1,849.3 957.6,846.7 958.2,847.2 958.7,850.7 959.2,845.7 959.7,846.4 960.2,850.9 960.8,850.8 961.3,851.2 961.8,845.7 962.3,847.3 962.8,847.6 963.4,845.7 963.9,844.3 964.4,847.6 964.9,847.5 965.4,848.9 966.0,849.1 966.5,848.9 967.0,849.6 967.5,847.7 968.0,846.0 968.6,851.5 969.1,847.9 969.6,849.9 970.1,849.9 970.6,853.1 971.2,855.3 971.7,850.6 972.2,851.0 972.7,851.1 973.2,850.3 973.8,852.5 974.3,849.3 974.8,846.3 975.3,846.7 975.8,848.6 976.4,849.9 976.9,850.1 977.4,850.7 977.9,851.1 978.4,851.7 979.0,852.4 979.5,841.3 980.0,847.3 980.5,848.7 981.0,849.7 981.6,852.3 982.1,851.0 982.6,853.5 983.1,851.7 983.6,853.7 984.1,852.7 984.7,851.6 985.2,849.3 985.7,851.5 986.2,853.5 986.7,856.8 987.3,852.5 987.8,849.2 988.3,850.6 988.8,851.7 989.3,851.4 989.9,851.0 990.4,853.5 990.9,852.0 991.4,849.6 991.9,850.0 992.5,851.0 993.0,849.3 993.5,854.2 994.0,848.3 994.5,852.9 995.1,853.0 995.6,848.7 996.1,849.9 996.6,851.1 997.1,848.7 997.7,853.6 998.2,849.1 998.7,844.4 999.2,850.0 999.7,850.5 1000.3,851.1 1000.8,847.9 1001.3,847.1 1001.8,849.6 1002.3,852.7 1002.9,850.3 1003.4,850.6 1003.9,854.2 1004.4,846.3 1004.9,851.2 1005.5,847.1 1006.0,854.7 1006.5,849.6 1007.0,852.9 1007.5,848.6 1008.1,849.3 1008.6,855.3 1009.1,855.9 1009.6,853.3 1010.1,853.8 1010.7,848.1 1011.2,848.4 1011.7,849.0 1012.2,850.1 1012.7,846.7 1013.3,849.0 1013.8,847.3 1014.3,851.4 1014.8,847.3 1015.3,848.0 1015.9,848.5 1016.4,846.8 1016.9,852.7 1017.4,856.3 1017.9,850.5 1018.5,849.0 1019.0,850.7 1019.5,849.7 1020.0,847.1 1020.5,851.2 1021.1,848.3 1021.6,848.4 1022.1,844.9 1022.6,845.8 1023.1,849.8 1023.7,850.1 1024.2,850.4 1024.7,852.5 1025.2,853.1 1025.7,854.1 1026.3,847.9 1026.8,848.3 1027.3,848.0 1027.8,850.1 1028.3,849.8 1028.9,846.0 1029.4,844.8 1029.9,847.2 1030.4,847.2 1030.9,854.8 1031.5,848.4 1032.0,851.9 1032.5,852.5 1033.0,848.7 1033.5,853.2 1034.1,854.5 1034.6,847.6 1035.1,845.7 1035.6,849.4 1036.1,847.4 1036.7,845.1 1037.2,843.0 1037.7,849.3 1038.2,848.5 1038.7,845.9 1039.3,841.8 1039.8,842.4 1040.3,840.8 1040.8,837.8 1041.3,835.1 1041.9,832.9 1042.4,834.3 1042.9,828.8 1043.4,827.6 1043.9,828.1 1044.5,829.0 1045.0,833.8 1045.5,835.8 1046.0,838.3 1046.5,834.7 1047.1,843.0 1047.6,844.1 1048.1,846.6 1048.6,845.4 1049.1,845.2 1049.6,848.7 1050.2,845.3 1050.7,849.7 1051.2,849.8 1051.7,850.8 1052.2,849.1 1052.8,848.7 1053.3,847.5 1053.8,851.6 1054.3,848.5 1054.8,845.7 1055.4,844.8 1055.9,849.3 1056.4,851.9 1056.9,850.4 1057.4,846.6 1058.0,847.6 1058.5,852.3 1059.0,848.3 1059.5,850.1 1060.0,848.5 1060.6,848.2 1061.1,850.9 1061.6,849.3 1062.1,846.9 1062.6,845.6 1063.2,850.4 1063.7,849.0 1064.2,848.7 1064.7,850.4 1065.2,849.8 1065.8,849.5 1066.3,848.4 1066.8,845.9 1067.3,852.9 1067.8,847.5 1068.4,851.7 1068.9,847.6 1069.4,848.3 1069.9,848.4 1070.4,849.2 1071.0,852.9 1071.5,848.6 1072.0,847.7 1072.5,844.7 1073.0,848.2 1073.6,848.2 1074.1,841.8 1074.6,838.2 1075.1,838.2 1075.6,836.7 1076.2,836.1 1076.7,832.9 1077.2,836.8 1077.7,836.1 1078.2,839.4 1078.8,845.6 1079.3,842.8 1079.8,849.1 1080.3,846.1 1080.8,842.6 1081.4,845.1 1081.9,851.7 1082.4,853.0 1082.9,846.2 1083.4,851.2 1084.0,844.7 1084.5,848.4 1085.0,849.4 1085.5,845.0 1086.0,850.3 1086.6,855.1 1087.1,851.5 1087.6,845.9 1088.1,851.4 1088.6,848.9 1089.2,852.9 1089.7,847.1 1090.2,846.5 1090.7,845.6 1091.2,848.3 1091.8,847.1 1092.3,845.2 1092.8,847.0 1093.3,849.5 1093.8,851.0 1094.4,850.1 1094.9,846.3 1095.4,849.0 1095.9,847.3 1096.4,845.6 1097.0,851.4 1097.5,848.7 1098.0,850.3 1098.5,848.7 1099.0,846.5 1099.6,846.3 1100.1,846.9 1100.6,846.9 1101.1,852.7 1101.6,851.3 1102.2,847.9 1102.7,846.7 1103.2,847.2 1103.7,847.4 1104.2,844.6 1104.8,849.0 1105.3,842.3 1105.8,844.8 1106.3,849.7 1106.8,845.9 1107.4,847.6 1107.9,849.9 1108.4,849.0 1108.9,846.1 1109.4,853.1 1110.0,852.5 1110.5,844.7 1111.0,841.5 1111.5,848.9 1112.0,848.6 1112.6,843.5 1113.1,844.3 1113.6,841.7 1114.1,843.0 1114.6,845.8 1115.1,840.7 1115.7,844.1 1116.2,846.7 1116.7,845.1 1117.2,840.6 1117.7,845.1 1118.3,842.4 1118.8,839.8 1119.3,841.4 1119.8,843.6 1120.3,837.7 1120.9,841.6 1121.4,839.4 1121.9,840.3 1122.4,838.3 1122.9,835.6 1123.5,832.7 1124.0,837.6 1124.5,833.3 1125.0,832.4 1125.5,828.5 1126.1,828.4 1126.6,830.7 1127.1,835.9 1127.6,838.3 1128.1,840.1 1128.7,842.4 1129.2,840.5 1129.7,847.5 1130.2,845.8 1130.7,840.9 1131.3,841.2 1131.8,840.1 1132.3,843.3 1132.8,840.4 1133.3,839.9 1133.9,846.0 1134.4,844.5 1134.9,837.6 1135.4,839.2 1135.9,837.4 1136.5,836.8 1137.0,838.9 1137.5,839.7 1138.0,840.6 1138.5,844.1 1139.1,843.2 1139.6,845.7 1140.1,843.6 1140.6,845.5 1141.1,850.8 1141.7,846.4 1142.2,849.9 1142.7,842.9 1143.2,845.3 1143.7,846.7 1144.3,848.5 1144.8,847.5 1145.3,844.9 1145.8,845.4 1146.3,839.8 1146.9,849.0 1147.4,850.6 1147.9,848.5 1148.4,845.8 1148.9,852.2 1149.5,850.3 1150.0,850.3 1150.5,846.7 1151.0,850.0 1151.5,846.6 1152.1,849.4 1152.6,847.5 1153.1,854.0 1153.6,852.0 1154.1,844.0 1154.7,850.4 1155.2,853.4 1155.7,845.3 1156.2,847.7 1156.7,848.0 1157.3,848.7 1157.8,846.3 1158.3,849.5 1158.8,847.8 1159.3,846.9 1159.9,847.0 1160.4,851.6 1160.9,852.4 1161.4,854.2 1161.9,854.3 1162.5,849.2 1163.0,850.6 1163.5,848.2 1164.0,852.7 1164.5,851.0 1165.1,851.8 1165.6,848.1 1166.1,850.4 1166.6,847.8 1167.1,848.1 1167.7,851.7 1168.2,846.8 1168.7,852.7 1169.2,853.9 1169.7,847.5 1170.3,852.7 1170.8,852.3 1171.3,848.0 1171.8,853.4 1172.3,850.2 1172.9,852.2 1173.4,852.0 1173.9,851.3 1174.4,847.1 1174.9,852.2 1175.5,846.7 1176.0,845.0 1176.5,849.4 1177.0,850.1 1177.5,847.4 1178.1,842.4 1178.6,848.5 1179.1,845.7 1179.6,852.3 1180.1,852.7 1180.6,849.9 1181.2,848.9 1181.7,848.0 1182.2,854.7 1182.7,850.4 1183.2,850.6 1183.8,845.2 1184.3,844.3 1184.8,844.0 1185.3,851.3 1185.8,842.8 1186.4,849.9 1186.9,847.6 1187.4,847.7 1187.9,844.5 1188.4,845.2 1189.0,848.7 1189.5,849.9 1190.0,849.9 1190.5,844.3 1191.0,843.6 1191.6,842.0 1192.1,846.7 1192.6,843.8 1193.1,847.6 1193.6,844.7 1194.2,844.9 1194.7,840.4 1195.2,840.1 1195.7,842.6 1196.2,844.5 1196.8,847.1 1197.3,840.7 1197.8,839.3 1198.3,841.1 1198.8,832.2 1199.4,838.3 1199.9,839.7 1200.4,834.8 1200.9,834.2 1201.4,832.0 1202.0,832.2 1202.5,829.7 1203.0,832.9 1203.5,832.8 1204.0,834.1 1204.6,823.8 1205.1,821.8 1205.6,822.1 1206.1,822.8 1206.6,824.2 1207.2,823.9 1207.7,821.7 1208.2,823.8 1208.7,819.2 1209.2,823.6 1209.8,824.2 1210.3,825.7 1210.8,823.0 1211.3,827.1 1211.8,828.9 1212.4,828.9 1212.9,833.3 1213.4,835.1 1213.9,835.8 1214.4,834.8 1215.0,837.0 1215.5,838.1 1216.0,843.6 1216.5,839.8 1217.0,840.6 1217.6,840.5 1218.1,839.4 1218.6,839.4 1219.1,845.1 1219.6,847.1 1220.2,843.6 1220.7,849.0 1221.2,845.4 1221.7,847.2 1222.2,844.7 1222.8,843.1 1223.3,841.3 1223.8,842.5 1224.3,843.2 1224.8,842.9 1225.4,843.5 1225.9,848.3 1226.4,850.2 1226.9,849.9 1227.4,848.7 1228.0,845.1 1228.5,844.0 1229.0,842.8 1229.5,845.2 1230.0,848.2 1230.6,844.4 1231.1,839.9 1231.6,843.7 1232.1,845.2 1232.6,847.7 1233.2,844.9 1233.7,849.1 1234.2,848.0 1234.7,849.9 1235.2,846.0 1235.8,847.1 1236.3,844.3 1236.8,849.7 1237.3,849.8 1237.8,855.1 1238.4,848.1 1238.9,847.4 1239.4,847.1 1239.9,843.5 1240.4,849.5 1241.0,849.5 1241.5,851.7 1242.0,849.2 1242.5,846.7 1243.0,846.6 1243.6,848.2 1244.1,845.2 1244.6,850.2 1245.1,849.3 1245.6,850.4 1246.1,845.9 1246.7,846.9 1247.2,847.3 1247.7,844.7 1248.2,848.8 1248.7,848.0 1249.3,846.7 1249.8,849.8 1250.3,846.8 1250.8,846.4 1251.3,852.7 1251.9,846.6 1252.4,848.9 1252.9,847.4 1253.4,850.5 1253.9,851.0 1254.5,849.1 1255.0,852.3 1255.5,845.6 1256.0,850.8 1256.5,849.2 1257.1,855.0 1257.6,848.4 1258.1,850.6 1258.6,851.1 1259.1,851.5 1259.7,852.0 1260.2,851.6 1260.7,848.9 1261.2,853.2 1261.7,851.1 1262.3,852.6 1262.8,853.6 1263.3,856.5 1263.8,855.0 1264.3,852.0 1264.9,857.0 1265.4,850.8 1265.9,849.9 1266.4,853.1 1266.9,853.6 1267.5,852.5 1268.0,850.9 1268.5,855.5 1269.0,847.6 1269.5,851.9 1270.1,851.2 1270.6,851.9 1271.1,851.3 1271.6,851.4 1272.1,853.2 1272.7,856.8 1273.2,855.4 1273.7,857.7 1274.2,851.9 1274.7,852.9 1275.3,851.6 1275.8,852.0 1276.3,850.9"/>
<polyline fill="none" stroke="#12c264" stroke-width="3.6" stroke-linejoin="round" stroke-linecap="round" points="951.4,905.9 951.9,903.3 952.4,905.9 953.0,904.7 953.5,904.3 954.0,906.4 954.5,904.0 955.0,903.7 955.6,905.6 956.1,903.1 956.6,902.6 957.1,907.2 957.6,909.6 958.2,907.3 958.7,905.6 959.2,902.7 959.7,904.7 960.2,907.4 960.8,905.7 961.3,904.2 961.8,902.8 962.3,907.5 962.8,905.9 963.4,899.7 963.9,904.3 964.4,902.8 964.9,904.0 965.4,905.5 966.0,903.2 966.5,903.5 967.0,907.3 967.5,905.1 968.0,902.0 968.6,908.7 969.1,903.6 969.6,906.0 970.1,906.7 970.6,905.0 971.2,903.9 971.7,902.9 972.2,905.6 972.7,904.6 973.2,908.9 973.8,906.1 974.3,904.5 974.8,906.9 975.3,905.0 975.8,906.8 976.4,907.9 976.9,906.3 977.4,905.4 977.9,907.7 978.4,907.5 979.0,906.1 979.5,903.2 980.0,910.0 980.5,906.3 981.0,903.6 981.6,903.3 982.1,902.1 982.6,907.6 983.1,908.3 983.6,906.2 984.1,902.9 984.7,909.8 985.2,910.0 985.7,906.1 986.2,902.1 986.7,902.4 987.3,908.3 987.8,906.5 988.3,908.1 988.8,911.1 989.3,905.4 989.9,904.9 990.4,910.0 990.9,906.6 991.4,907.5 991.9,910.5 992.5,905.7 993.0,905.6 993.5,911.6 994.0,906.2 994.5,908.5 995.1,903.5 995.6,908.6 996.1,904.4 996.6,908.2 997.1,903.1 997.7,903.0 998.2,903.3 998.7,904.5 999.2,910.6 999.7,907.1 1000.3,906.6 1000.8,911.6 1001.3,900.4 1001.8,904.2 1002.3,903.3 1002.9,906.8 1003.4,904.2 1003.9,902.0 1004.4,907.7 1004.9,905.6 1005.5,900.6 1006.0,905.0 1006.5,906.0 1007.0,904.8 1007.5,905.0 1008.1,908.2 1008.6,901.0 1009.1,903.9 1009.6,907.7 1010.1,902.7 1010.7,898.9 1011.2,904.8 1011.7,905.7 1012.2,904.6 1012.7,903.7 1013.3,902.4 1013.8,905.2 1014.3,898.3 1014.8,903.8 1015.3,904.3 1015.9,902.1 1016.4,900.7 1016.9,898.3 1017.4,904.7 1017.9,902.5 1018.5,906.5 1019.0,903.6 1019.5,901.1 1020.0,902.7 1020.5,905.5 1021.1,901.9 1021.6,901.3 1022.1,903.1 1022.6,901.9 1023.1,902.9 1023.7,902.5 1024.2,907.2 1024.7,907.6 1025.2,904.4 1025.7,904.9 1026.3,902.5 1026.8,905.1 1027.3,903.1 1027.8,903.8 1028.3,907.9 1028.9,904.8 1029.4,904.2 1029.9,903.2 1030.4,909.6 1030.9,905.9 1031.5,905.0 1032.0,905.8 1032.5,903.8 1033.0,906.7 1033.5,904.3 1034.1,907.3 1034.6,904.0 1035.1,900.9 1035.6,909.6 1036.1,904.4 1036.7,908.9 1037.2,905.5 1037.7,907.4 1038.2,908.0 1038.7,907.5 1039.3,902.2 1039.8,906.9 1040.3,907.6 1040.8,904.6 1041.3,904.7 1041.9,903.9 1042.4,903.6 1042.9,907.0 1043.4,907.9 1043.9,904.1 1044.5,902.0 1045.0,907.5 1045.5,909.2 1046.0,907.0 1046.5,906.6 1047.1,906.7 1047.6,901.3 1048.1,906.2 1048.6,905.2 1049.1,905.9 1049.6,903.1 1050.2,907.0 1050.7,908.7 1051.2,906.2 1051.7,904.7 1052.2,902.7 1052.8,902.2 1053.3,908.9 1053.8,903.5 1054.3,902.0 1054.8,908.7 1055.4,905.9 1055.9,906.3 1056.4,907.6 1056.9,902.5 1057.4,902.4 1058.0,898.1 1058.5,900.7 1059.0,896.6 1059.5,896.8 1060.0,893.8 1060.6,886.8 1061.1,892.3 1061.6,893.1 1062.1,892.1 1062.6,897.6 1063.2,899.1 1063.7,901.3 1064.2,899.0 1064.7,900.7 1065.2,905.1 1065.8,903.1 1066.3,913.1 1066.8,911.3 1067.3,907.9 1067.8,908.8 1068.4,907.0 1068.9,903.9 1069.4,904.4 1069.9,906.2 1070.4,898.1 1071.0,906.5 1071.5,908.7 1072.0,908.1 1072.5,909.5 1073.0,907.8 1073.6,906.2 1074.1,904.1 1074.6,904.3 1075.1,912.8 1075.6,910.1 1076.2,906.3 1076.7,906.4 1077.2,903.8 1077.7,907.3 1078.2,900.5 1078.8,900.6 1079.3,907.0 1079.8,903.4 1080.3,903.4 1080.8,902.0 1081.4,900.3 1081.9,906.7 1082.4,904.1 1082.9,908.1 1083.4,898.3 1084.0,902.7 1084.5,897.9 1085.0,894.5 1085.5,893.0 1086.0,889.8 1086.6,896.3 1087.1,897.1 1087.6,898.0 1088.1,896.8 1088.6,901.6 1089.2,903.0 1089.7,904.5 1090.2,906.4 1090.7,905.8 1091.2,908.7 1091.8,906.2 1092.3,906.6 1092.8,905.9 1093.3,904.9 1093.8,901.8 1094.4,904.7 1094.9,903.4 1095.4,905.8 1095.9,906.0 1096.4,903.6 1097.0,904.6 1097.5,907.2 1098.0,905.7 1098.5,906.9 1099.0,900.3 1099.6,906.3 1100.1,909.3 1100.6,904.0 1101.1,906.5 1101.6,905.1 1102.2,906.8 1102.7,908.2 1103.2,909.4 1103.7,905.4 1104.2,907.3 1104.8,908.0 1105.3,906.4 1105.8,901.3 1106.3,899.9 1106.8,903.6 1107.4,907.9 1107.9,902.8 1108.4,904.4 1108.9,906.7 1109.4,905.0 1110.0,905.2 1110.5,908.3 1111.0,906.3 1111.5,902.8 1112.0,905.8 1112.6,905.8 1113.1,910.2 1113.6,902.1 1114.1,901.2 1114.6,900.4 1115.1,905.7 1115.7,908.4 1116.2,908.0 1116.7,906.5 1117.2,908.2 1117.7,908.2 1118.3,909.9 1118.8,902.4 1119.3,904.5 1119.8,905.5 1120.3,904.1 1120.9,902.4 1121.4,905.1 1121.9,904.8 1122.4,901.6 1122.9,907.9 1123.5,906.8 1124.0,903.2 1124.5,903.5 1125.0,902.7 1125.5,904.9 1126.1,907.7 1126.6,909.3 1127.1,906.0 1127.6,903.1 1128.1,910.3 1128.7,903.6 1129.2,907.4 1129.7,903.8 1130.2,905.6 1130.7,904.6 1131.3,906.0 1131.8,903.5 1132.3,900.4 1132.8,906.4 1133.3,904.5 1133.9,903.6 1134.4,900.8 1134.9,900.4 1135.4,905.5 1135.9,907.4 1136.5,906.8 1137.0,905.2 1137.5,903.7 1138.0,903.0 1138.5,905.0 1139.1,906.2 1139.6,905.1 1140.1,905.2 1140.6,907.6 1141.1,906.0 1141.7,905.6 1142.2,901.3 1142.7,904.5 1143.2,902.1 1143.7,910.7 1144.3,909.5 1144.8,907.7 1145.3,903.1 1145.8,909.3 1146.3,905.8 1146.9,904.4 1147.4,902.4 1147.9,905.9 1148.4,904.3 1148.9,904.3 1149.5,909.6 1150.0,907.3 1150.5,909.4 1151.0,910.0 1151.5,905.4 1152.1,906.1 1152.6,908.2 1153.1,905.1 1153.6,912.0 1154.1,907.9 1154.7,904.6 1155.2,907.9 1155.7,905.6 1156.2,910.2 1156.7,912.9 1157.3,911.9 1157.8,900.6 1158.3,903.3 1158.8,906.1 1159.3,906.7 1159.9,909.0 1160.4,905.3 1160.9,906.7 1161.4,905.4 1161.9,903.4 1162.5,908.0 1163.0,904.5 1163.5,905.7 1164.0,908.1 1164.5,907.3 1165.1,908.8 1165.6,903.1 1166.1,910.8 1166.6,905.4 1167.1,904.3 1167.7,909.2 1168.2,908.3 1168.7,909.0 1169.2,903.5 1169.7,907.9 1170.3,905.7 1170.8,911.4 1171.3,909.7 1171.8,910.8 1172.3,905.6 1172.9,905.2 1173.4,908.0 1173.9,907.5 1174.4,905.2 1174.9,900.8 1175.5,907.9 1176.0,901.5 1176.5,904.3 1177.0,904.0 1177.5,904.5 1178.1,904.2 1178.6,903.8 1179.1,902.6 1179.6,904.2 1180.1,904.7 1180.6,900.7 1181.2,902.7 1181.7,903.2 1182.2,903.8 1182.7,900.7 1183.2,900.1 1183.8,903.3 1184.3,899.7 1184.8,900.4 1185.3,903.6 1185.8,903.3 1186.4,900.3 1186.9,904.0 1187.4,898.1 1187.9,904.1 1188.4,895.1 1189.0,888.1 1189.5,889.6 1190.0,888.6 1190.5,887.0 1191.0,891.6 1191.6,894.0 1192.1,894.8 1192.6,894.4 1193.1,898.0 1193.6,897.9 1194.2,898.5 1194.7,900.9 1195.2,904.0 1195.7,898.5 1196.2,901.0 1196.8,897.2 1197.3,895.5 1197.8,896.7 1198.3,897.5 1198.8,898.7 1199.4,898.8 1199.9,897.8 1200.4,897.4 1200.9,896.8 1201.4,895.8 1202.0,896.0 1202.5,892.6 1203.0,891.4 1203.5,892.3 1204.0,888.1 1204.6,889.3 1205.1,890.1 1205.6,883.4 1206.1,875.7 1206.6,876.2 1207.2,876.2 1207.7,879.3 1208.2,876.6 1208.7,875.6 1209.2,878.1 1209.8,880.8 1210.3,889.1 1210.8,883.0 1211.3,887.5 1211.8,889.6 1212.4,893.6 1212.9,896.8 1213.4,892.6 1213.9,890.7 1214.4,894.9 1215.0,897.6 1215.5,899.1 1216.0,900.6 1216.5,899.8 1217.0,901.8 1217.6,902.7 1218.1,895.5 1218.6,898.6 1219.1,904.6 1219.6,903.6 1220.2,902.1 1220.7,903.6 1221.2,903.3 1221.7,904.5 1222.2,903.5 1222.8,902.0 1223.3,902.6 1223.8,900.8 1224.3,901.6 1224.8,901.5 1225.4,902.8 1225.9,902.6 1226.4,902.4 1226.9,897.0 1227.4,901.1 1228.0,902.3 1228.5,902.2 1229.0,902.8 1229.5,904.6 1230.0,905.1 1230.6,904.1 1231.1,901.1 1231.6,900.3 1232.1,906.7 1232.6,902.7 1233.2,902.8 1233.7,904.2 1234.2,905.5 1234.7,904.4 1235.2,905.7 1235.8,904.7 1236.3,903.1 1236.8,900.9 1237.3,901.9 1237.8,903.2 1238.4,903.6 1238.9,906.3 1239.4,903.9 1239.9,903.1 1240.4,900.2 1241.0,901.8 1241.5,904.6 1242.0,905.3 1242.5,902.4 1243.0,905.4 1243.6,903.3 1244.1,904.9 1244.6,900.6 1245.1,903.4 1245.6,903.5 1246.1,903.1 1246.7,905.3 1247.2,904.9 1247.7,903.9 1248.2,899.1 1248.7,900.6 1249.3,902.3 1249.8,902.2 1250.3,903.0 1250.8,907.0 1251.3,907.0 1251.9,905.7 1252.4,907.1 1252.9,911.3 1253.4,905.9 1253.9,904.5 1254.5,910.5 1255.0,907.7 1255.5,909.9 1256.0,907.5 1256.5,902.9 1257.1,904.2 1257.6,902.8 1258.1,910.1 1258.6,907.0 1259.1,907.8 1259.7,911.5 1260.2,900.1 1260.7,906.8 1261.2,907.6 1261.7,907.1 1262.3,904.3 1262.8,906.5 1263.3,911.1 1263.8,907.1 1264.3,905.7 1264.9,904.2 1265.4,906.4 1265.9,908.3 1266.4,911.2 1266.9,906.8 1267.5,903.4 1268.0,904.3 1268.5,907.7 1269.0,907.2 1269.5,907.6 1270.1,906.0 1270.6,903.7 1271.1,905.8 1271.6,908.2 1272.1,909.6 1272.7,908.5 1273.2,906.0 1273.7,910.5 1274.2,902.9 1274.7,908.1 1275.3,907.6 1275.8,909.0 1276.3,904.9"/>
<polyline fill="none" stroke="#12c264" stroke-width="3.6" stroke-linejoin="round" stroke-linecap="round" points="951.4,959.3 951.9,961.0 952.4,960.9 953.0,960.8 953.5,960.6 954.0,961.3 954.5,959.4 955.0,955.1 955.6,954.0 956.1,958.2 956.6,952.7 957.1,948.3 957.6,951.3 958.2,960.5 958.7,960.7 959.2,957.3 959.7,960.9 960.2,955.6 960.8,960.6 961.3,959.8 961.8,956.0 962.3,960.2 962.8,959.7 963.4,959.8 963.9,958.8 964.4,957.9 964.9,959.1 965.4,956.0 966.0,961.3 966.5,959.8 967.0,960.5 967.5,958.5 968.0,961.6 968.6,958.4 969.1,958.9 969.6,956.4 970.1,959.0 970.6,954.0 971.2,958.9 971.7,959.5 972.2,958.1 972.7,955.7 973.2,956.9 973.8,960.1 974.3,954.9 974.8,953.6 975.3,958.5 975.8,961.8 976.4,959.6 976.9,957.6 977.4,959.7 977.9,960.7 978.4,957.3 979.0,958.2 979.5,953.9 980.0,958.9 980.5,959.9 981.0,961.9 981.6,955.9 982.1,959.5 982.6,958.8 983.1,959.8 983.6,960.3 984.1,958.8 984.7,957.6 985.2,961.2 985.7,956.1 986.2,954.2 986.7,955.1 987.3,963.2 987.8,959.6 988.3,958.7 988.8,956.4 989.3,955.1 989.9,959.0 990.4,962.5 990.9,956.8 991.4,956.4 991.9,954.7 992.5,958.4 993.0,957.7 993.5,959.0 994.0,962.3 994.5,960.0 995.1,961.8 995.6,960.0 996.1,958.0 996.6,961.9 997.1,961.1 997.7,956.2 998.2,957.0 998.7,957.5 999.2,959.3 999.7,959.9 1000.3,957.4 1000.8,960.7 1001.3,956.1 1001.8,958.7 1002.3,962.1 1002.9,958.5 1003.4,956.2 1003.9,957.7 1004.4,958.7 1004.9,961.1 1005.5,960.0 1006.0,954.8 1006.5,955.3 1007.0,961.2 1007.5,957.6 1008.1,960.8 1008.6,961.8 1009.1,959.6 1009.6,960.4 1010.1,959.5 1010.7,959.5 1011.2,957.2 1011.7,961.7 1012.2,955.7 1012.7,959.3 1013.3,958.7 1013.8,964.2 1014.3,959.0 1014.8,960.5 1015.3,963.8 1015.9,961.5 1016.4,956.4 1016.9,960.0 1017.4,964.9 1017.9,960.0 1018.5,962.5 1019.0,958.9 1019.5,956.6 1020.0,959.8 1020.5,958.2 1021.1,958.7 1021.6,958.0 1022.1,959.6 1022.6,961.2 1023.1,960.7 1023.7,959.1 1024.2,957.3 1024.7,959.1 1025.2,959.6 1025.7,956.3 1026.3,960.8 1026.8,958.0 1027.3,957.0 1027.8,958.4 1028.3,955.5 1028.9,956.1 1029.4,959.4 1029.9,962.8 1030.4,962.2 1030.9,965.7 1031.5,959.4 1032.0,957.9 1032.5,962.5 1033.0,955.6 1033.5,956.6 1034.1,961.1 1034.6,965.4 1035.1,958.7 1035.6,959.7 1036.1,959.0 1036.7,955.4 1037.2,959.2 1037.7,959.1 1038.2,957.5 1038.7,961.3 1039.3,960.0 1039.8,961.2 1040.3,956.3 1040.8,959.6 1041.3,958.1 1041.9,962.0 1042.4,956.5 1042.9,958.7 1043.4,956.9 1043.9,960.3 1044.5,955.9 1045.0,958.8 1045.5,957.8 1046.0,960.5 1046.5,959.2 1047.1,962.0 1047.6,957.2 1048.1,958.1 1048.6,957.6 1049.1,957.6 1049.6,959.0 1050.2,955.1 1050.7,962.6 1051.2,961.3 1051.7,958.3 1052.2,958.9 1052.8,961.7 1053.3,959.3 1053.8,958.0 1054.3,962.2 1054.8,954.0 1055.4,957.8 1055.9,956.2 1056.4,957.2 1056.9,950.3 1057.4,956.1 1058.0,959.8 1058.5,953.8 1059.0,957.4 1059.5,946.2 1060.0,940.3 1060.6,943.8 1061.1,949.2 1061.6,949.6 1062.1,950.8 1062.6,954.1 1063.2,959.9 1063.7,958.4 1064.2,956.6 1064.7,957.5 1065.2,960.1 1065.8,958.2 1066.3,957.7 1066.8,960.1 1067.3,959.2 1067.8,958.6 1068.4,954.4 1068.9,958.0 1069.4,961.4 1069.9,955.4 1070.4,958.4 1071.0,963.5 1071.5,957.9 1072.0,958.1 1072.5,960.1 1073.0,956.3 1073.6,957.7 1074.1,959.7 1074.6,956.0 1075.1,960.3 1075.6,959.2 1076.2,959.0 1076.7,955.2 1077.2,955.7 1077.7,960.4 1078.2,960.7 1078.8,960.7 1079.3,957.8 1079.8,955.9 1080.3,957.0 1080.8,958.7 1081.4,956.9 1081.9,959.8 1082.4,958.3 1082.9,960.1 1083.4,957.7 1084.0,960.5 1084.5,956.8 1085.0,952.9 1085.5,950.0 1086.0,947.8 1086.6,945.7 1087.1,946.2 1087.6,947.0 1088.1,949.4 1088.6,957.3 1089.2,960.8 1089.7,958.7 1090.2,957.6 1090.7,959.0 1091.2,960.6 1091.8,955.7 1092.3,965.1 1092.8,963.9 1093.3,961.4 1093.8,961.2 1094.4,957.8 1094.9,957.8 1095.4,959.8 1095.9,958.9 1096.4,956.0 1097.0,956.9 1097.5,956.6 1098.0,961.8 1098.5,958.2 1099.0,957.0 1099.6,958.8 1100.1,957.4 1100.6,958.7 1101.1,958.5 1101.6,961.2 1102.2,960.8 1102.7,958.5 1103.2,958.6 1103.7,961.7 1104.2,959.0 1104.8,956.7 1105.3,959.9 1105.8,961.6 1106.3,957.4 1106.8,956.0 1107.4,959.0 1107.9,956.9 1108.4,962.7 1108.9,959.7 1109.4,959.6 1110.0,956.8 1110.5,957.6 1111.0,959.1 1111.5,957.6 1112.0,960.8 1112.6,951.5 1113.1,956.0 1113.6,956.8 1114.1,956.6 1114.6,960.7 1115.1,958.1 1115.7,959.3 1116.2,960.3 1116.7,960.5 1117.2,962.4 1117.7,965.8 1118.3,962.4 1118.8,961.1 1119.3,956.4 1119.8,961.0 1120.3,959.7 1120.9,960.5 1121.4,961.3 1121.9,961.5 1122.4,960.2 1122.9,960.7 1123.5,962.9 1124.0,957.8 1124.5,958.7 1125.0,963.2 1125.5,959.6 1126.1,961.2 1126.6,963.1 1127.1,958.6 1127.6,958.8 1128.1,962.9 1128.7,961.8 1129.2,957.1 1129.7,962.1 1130.2,959.4 1130.7,958.4 1131.3,959.7 1131.8,963.5 1132.3,963.4 1132.8,962.4 1133.3,959.2 1133.9,956.4 1134.4,960.5 1134.9,962.7 1135.4,957.8 1135.9,960.3 1136.5,957.4 1137.0,960.1 1137.5,958.0 1138.0,961.7 1138.5,964.9 1139.1,960.3 1139.6,958.5 1140.1,958.8 1140.6,961.3 1141.1,961.3 1141.7,961.1 1142.2,960.9 1142.7,957.1 1143.2,961.4 1143.7,960.6 1144.3,960.3 1144.8,961.1 1145.3,956.8 1145.8,959.2 1146.3,959.8 1146.9,959.9 1147.4,956.8 1147.9,957.1 1148.4,958.8 1148.9,959.4 1149.5,960.1 1150.0,959.9 1150.5,958.3 1151.0,956.8 1151.5,958.7 1152.1,960.5 1152.6,959.6 1153.1,961.4 1153.6,961.1 1154.1,956.4 1154.7,956.9 1155.2,960.7 1155.7,952.3 1156.2,955.9 1156.7,956.1 1157.3,955.7 1157.8,959.5 1158.3,955.8 1158.8,956.0 1159.3,957.6 1159.9,958.8 1160.4,956.0 1160.9,960.2 1161.4,956.6 1161.9,963.7 1162.5,954.2 1163.0,958.9 1163.5,956.2 1164.0,959.3 1164.5,961.8 1165.1,954.3 1165.6,958.7 1166.1,949.9 1166.6,955.1 1167.1,959.3 1167.7,954.8 1168.2,962.3 1168.7,961.2 1169.2,959.3 1169.7,958.9 1170.3,959.5 1170.8,956.1 1171.3,960.3 1171.8,961.8 1172.3,960.2 1172.9,960.1 1173.4,957.4 1173.9,957.3 1174.4,959.5 1174.9,957.6 1175.5,957.4 1176.0,961.2 1176.5,955.6 1177.0,954.8 1177.5,954.8 1178.1,955.2 1178.6,955.2 1179.1,955.3 1179.6,955.7 1180.1,954.9 1180.6,959.8 1181.2,953.1 1181.7,957.9 1182.2,953.3 1182.7,955.2 1183.2,958.1 1183.8,954.5 1184.3,957.1 1184.8,954.9 1185.3,953.8 1185.8,954.3 1186.4,954.6 1186.9,955.9 1187.4,954.9 1187.9,950.3 1188.4,950.2 1189.0,952.4 1189.5,955.7 1190.0,951.7 1190.5,949.2 1191.0,948.3 1191.6,950.9 1192.1,944.9 1192.6,945.0 1193.1,951.2 1193.6,950.2 1194.2,954.8 1194.7,949.9 1195.2,950.1 1195.7,951.7 1196.2,953.4 1196.8,951.0 1197.3,954.9 1197.8,950.3 1198.3,952.6 1198.8,953.4 1199.4,953.0 1199.9,951.6 1200.4,944.2 1200.9,948.5 1201.4,950.5 1202.0,949.3 1202.5,953.4 1203.0,945.8 1203.5,943.8 1204.0,943.6 1204.6,940.5 1205.1,941.0 1205.6,943.4 1206.1,942.2 1206.6,936.2 1207.2,934.1 1207.7,931.6 1208.2,936.3 1208.7,932.5 1209.2,936.1 1209.8,937.5 1210.3,933.8 1210.8,945.9 1211.3,947.5 1211.8,945.2 1212.4,947.7 1212.9,944.7 1213.4,951.1 1213.9,945.7 1214.4,946.5 1215.0,941.8 1215.5,947.0 1216.0,942.1 1216.5,938.5 1217.0,939.9 1217.6,943.6 1218.1,948.6 1218.6,952.8 1219.1,952.7 1219.6,952.8 1220.2,953.3 1220.7,958.1 1221.2,960.0 1221.7,958.6 1222.2,957.8 1222.8,956.3 1223.3,956.4 1223.8,958.6 1224.3,959.4 1224.8,958.0 1225.4,956.0 1225.9,959.8 1226.4,957.3 1226.9,959.8 1227.4,961.1 1228.0,957.5 1228.5,957.0 1229.0,956.3 1229.5,956.6 1230.0,957.1 1230.6,957.1 1231.1,962.5 1231.6,957.4 1232.1,956.2 1232.6,962.9 1233.2,958.0 1233.7,959.7 1234.2,960.1 1234.7,958.3 1235.2,957.8 1235.8,958.1 1236.3,958.9 1236.8,957.9 1237.3,958.0 1237.8,959.8 1238.4,958.2 1238.9,956.8 1239.4,960.0 1239.9,957.7 1240.4,953.5 1241.0,951.1 1241.5,954.1 1242.0,962.4 1242.5,961.4 1243.0,959.7 1243.6,958.6 1244.1,956.5 1244.6,954.9 1245.1,957.9 1245.6,954.7 1246.1,960.7 1246.7,959.5 1247.2,960.1 1247.7,958.5 1248.2,959.6 1248.7,958.0 1249.3,959.3 1249.8,960.9 1250.3,955.1 1250.8,959.3 1251.3,956.1 1251.9,957.8 1252.4,954.7 1252.9,957.2 1253.4,958.3 1253.9,956.4 1254.5,956.2 1255.0,959.0 1255.5,954.7 1256.0,959.5 1256.5,958.8 1257.1,957.0 1257.6,958.2 1258.1,960.9 1258.6,961.6 1259.1,957.5 1259.7,955.5 1260.2,959.8 1260.7,957.8 1261.2,960.6 1261.7,965.0 1262.3,956.5 1262.8,957.3 1263.3,962.4 1263.8,964.1 1264.3,961.9 1264.9,959.7 1265.4,961.3 1265.9,956.6 1266.4,960.5 1266.9,959.2 1267.5,961.3 1268.0,961.0 1268.5,954.5 1269.0,956.7 1269.5,958.5 1270.1,957.7 1270.6,959.6 1271.1,962.8 1271.6,962.5 1272.1,963.7 1272.7,959.9 1273.2,959.0 1273.7,960.4 1274.2,962.1 1274.7,962.2 1275.3,959.4 1275.8,962.8 1276.3,960.8"/>
<polyline fill="none" stroke="#12c264" stroke-width="3.6" stroke-linejoin="round" stroke-linecap="round" points="951.4,1015.4 951.9,1014.2 952.4,1015.8 953.0,1014.7 953.5,1016.1 954.0,1017.9 954.5,1016.8 955.0,1013.0 955.6,1016.3 956.1,1010.2 956.6,1011.8 957.1,1014.4 957.6,1018.1 958.2,1012.6 958.7,1017.7 959.2,1018.0 959.7,1017.7 960.2,1018.8 960.8,1015.2 961.3,1021.3 961.8,1021.8 962.3,1016.7 962.8,1015.7 963.4,1018.2 963.9,1021.6 964.4,1017.9 964.9,1017.7 965.4,1013.0 966.0,1020.0 966.5,1020.7 967.0,1013.9 967.5,1010.7 968.0,1012.4 968.6,1012.8 969.1,1015.3 969.6,1015.6 970.1,1016.7 970.6,1019.0 971.2,1014.9 971.7,1017.9 972.2,1012.0 972.7,1014.9 973.2,1016.7 973.8,1018.1 974.3,1018.9 974.8,1019.3 975.3,1018.1 975.8,1017.7 976.4,1018.6 976.9,1017.4 977.4,1020.3 977.9,1013.6 978.4,1012.7 979.0,1013.1 979.5,1016.2 980.0,1015.0 980.5,1012.8 981.0,1012.2 981.6,1014.8 982.1,1014.8 982.6,1013.1 983.1,1012.0 983.6,1018.8 984.1,1020.8 984.7,1011.0 985.2,1015.3 985.7,1010.0 986.2,1016.8 986.7,1014.4 987.3,1016.2 987.8,1015.0 988.3,1017.8 988.8,1016.9 989.3,1016.9 989.9,1017.8 990.4,1019.4 990.9,1018.8 991.4,1016.6 991.9,1009.0 992.5,1017.5 993.0,1016.8 993.5,1016.6 994.0,1015.1 994.5,1016.7 995.1,1018.3 995.6,1015.2 996.1,1020.7 996.6,1018.0 997.1,1017.4 997.7,1019.6 998.2,1016.8 998.7,1016.9 999.2,1014.8 999.7,1015.0 1000.3,1014.5 1000.8,1015.3 1001.3,1015.4 1001.8,1015.8 1002.3,1014.0 1002.9,1017.0 1003.4,1011.5 1003.9,1019.7 1004.4,1015.3 1004.9,1018.9 1005.5,1014.6 1006.0,1018.5 1006.5,1018.2 1007.0,1014.9 1007.5,1015.0 1008.1,1012.9 1008.6,1013.0 1009.1,1012.9 1009.6,1017.0 1010.1,1011.5 1010.7,1014.5 1011.2,1017.3 1011.7,1020.1 1012.2,1013.7 1012.7,1009.6 1013.3,1013.5 1013.8,1012.0 1014.3,1009.4 1014.8,1016.0 1015.3,1014.9 1015.9,1012.4 1016.4,1008.0 1016.9,1009.7 1017.4,1012.0 1017.9,1016.3 1018.5,1008.8 1019.0,1012.1 1019.5,1014.1 1020.0,1015.0 1020.5,1008.2 1021.1,1014.1 1021.6,1015.9 1022.1,1013.9 1022.6,1012.1 1023.1,1015.1 1023.7,1014.3 1024.2,1013.2 1024.7,1012.9 1025.2,1016.9 1025.7,1016.0 1026.3,1013.1 1026.8,1011.5 1027.3,1013.2 1027.8,1015.6 1028.3,1011.4 1028.9,1012.6 1029.4,1007.1 1029.9,1014.4 1030.4,1019.7 1030.9,1013.2 1031.5,1015.7 1032.0,1009.4 1032.5,1015.7 1033.0,1011.5 1033.5,1015.2 1034.1,1018.7 1034.6,1013.1 1035.1,1018.4 1035.6,1016.9 1036.1,1013.2 1036.7,1014.7 1037.2,1016.8 1037.7,1015.2 1038.2,1013.4 1038.7,1011.8 1039.3,1014.5 1039.8,1017.3 1040.3,1009.5 1040.8,1006.0 1041.3,1013.0 1041.9,1009.4 1042.4,1011.1 1042.9,1011.0 1043.4,1006.0 1043.9,998.4 1044.5,994.1 1045.0,991.7 1045.5,985.3 1046.0,991.4 1046.5,985.1 1047.1,985.9 1047.6,992.5 1048.1,994.7 1048.6,998.0 1049.1,993.3 1049.6,994.2 1050.2,1000.1 1050.7,1007.4 1051.2,1007.2 1051.7,1007.6 1052.2,1010.8 1052.8,1010.3 1053.3,1005.3 1053.8,1012.4 1054.3,1012.1 1054.8,1013.8 1055.4,1012.5 1055.9,1011.2 1056.4,1010.4 1056.9,1011.6 1057.4,1012.6 1058.0,1013.9 1058.5,1012.8 1059.0,1009.1 1059.5,1014.4 1060.0,1009.0 1060.6,1011.1 1061.1,1011.8 1061.6,1012.4 1062.1,1010.0 1062.6,1009.6 1063.2,1010.6 1063.7,1009.3 1064.2,1013.8 1064.7,1014.0 1065.2,1010.4 1065.8,1012.5 1066.3,1017.3 1066.8,1010.3 1067.3,1014.1 1067.8,1013.4 1068.4,1013.2 1068.9,1012.1 1069.4,1009.5 1069.9,1013.1 1070.4,1012.7 1071.0,1010.4 1071.5,1014.1 1072.0,1014.7 1072.5,1012.8 1073.0,1010.3 1073.6,1008.4 1074.1,1014.3 1074.6,1014.1 1075.1,1011.7 1075.6,1012.9 1076.2,1013.6 1076.7,1009.2 1077.2,1010.8 1077.7,1016.8 1078.2,1020.3 1078.8,1010.2 1079.3,1012.7 1079.8,1009.7 1080.3,1009.6 1080.8,1012.7 1081.4,1012.9 1081.9,1014.7 1082.4,1011.9 1082.9,1011.5 1083.4,1014.8 1084.0,1009.1 1084.5,1012.3 1085.0,1015.1 1085.5,1004.1 1086.0,1008.7 1086.6,1008.4 1087.1,1008.8 1087.6,1008.1 1088.1,1013.4 1088.6,1008.1 1089.2,1010.1 1089.7,1011.2 1090.2,1010.4 1090.7,1013.6 1091.2,1011.6 1091.8,1011.8 1092.3,1012.8 1092.8,1009.6 1093.3,1011.3 1093.8,1011.5 1094.4,1012.4 1094.9,1012.7 1095.4,1011.0 1095.9,1010.0 1096.4,1013.6 1097.0,1010.6 1097.5,1010.0 1098.0,1007.5 1098.5,1006.2 1099.0,1007.3 1099.6,1007.9 1100.1,1010.0 1100.6,1011.5 1101.1,1007.0 1101.6,1009.7 1102.2,1010.1 1102.7,1009.1 1103.2,1008.6 1103.7,1010.3 1104.2,1015.1 1104.8,1011.5 1105.3,1007.8 1105.8,1007.8 1106.3,1013.5 1106.8,1014.9 1107.4,1008.6 1107.9,1007.4 1108.4,1007.4 1108.9,1014.5 1109.4,1005.7 1110.0,1006.4 1110.5,1003.3 1111.0,1011.4 1111.5,1003.0 1112.0,1010.3 1112.6,1013.3 1113.1,1014.2 1113.6,1014.1 1114.1,1012.6 1114.6,1014.6 1115.1,1009.1 1115.7,1007.3 1116.2,1003.7 1116.7,1007.1 1117.2,1010.8 1117.7,1013.6 1118.3,1014.7 1118.8,1011.5 1119.3,1010.9 1119.8,1016.5 1120.3,1014.0 1120.9,1009.4 1121.4,1003.8 1121.9,1010.3 1122.4,1009.3 1122.9,1012.6 1123.5,1009.3 1124.0,1008.5 1124.5,1009.4 1125.0,1011.9 1125.5,1017.0 1126.1,1009.6 1126.6,1007.9 1127.1,1015.0 1127.6,1012.7 1128.1,1015.6 1128.7,1012.5 1129.2,1010.9 1129.7,1011.8 1130.2,1010.5 1130.7,1010.9 1131.3,1011.4 1131.8,1008.7 1132.3,1010.9 1132.8,1012.2 1133.3,1011.7 1133.9,1007.7 1134.4,1012.5 1134.9,1009.8 1135.4,1012.2 1135.9,1009.4 1136.5,1018.8 1137.0,1013.4 1137.5,1015.6 1138.0,1011.9 1138.5,1009.0 1139.1,1010.4 1139.6,1012.0 1140.1,1012.2 1140.6,1014.3 1141.1,1009.7 1141.7,1012.5 1142.2,1009.8 1142.7,1010.0 1143.2,1007.2 1143.7,1010.2 1144.3,1012.8 1144.8,1007.3 1145.3,1008.9 1145.8,1012.4 1146.3,1013.0 1146.9,1012.5 1147.4,1008.3 1147.9,1009.3 1148.4,1008.6 1148.9,1008.8 1149.5,1009.4 1150.0,1008.9 1150.5,1012.5 1151.0,1013.4 1151.5,1014.0 1152.1,1012.7 1152.6,1010.9 1153.1,1015.2 1153.6,1013.5 1154.1,1011.2 1154.7,1012.9 1155.2,1013.6 1155.7,1015.0 1156.2,1015.1 1156.7,1015.3 1157.3,1013.2 1157.8,1018.3 1158.3,1015.3 1158.8,1012.0 1159.3,1011.5 1159.9,1014.1 1160.4,1013.4 1160.9,1012.8 1161.4,1016.8 1161.9,1014.2 1162.5,1013.6 1163.0,1013.0 1163.5,1012.5 1164.0,1012.9 1164.5,1011.6 1165.1,1010.6 1165.6,1011.5 1166.1,1016.3 1166.6,1015.1 1167.1,1019.0 1167.7,1015.6 1168.2,1012.2 1168.7,1015.4 1169.2,1012.2 1169.7,1012.3 1170.3,1016.7 1170.8,1013.7 1171.3,1013.6 1171.8,1011.2 1172.3,1011.2 1172.9,1008.6 1173.4,1016.7 1173.9,1017.1 1174.4,1017.0 1174.9,1015.7 1175.5,1017.1 1176.0,1018.5 1176.5,1017.9 1177.0,1012.7 1177.5,1017.7 1178.1,1013.7 1178.6,1011.4 1179.1,1013.4 1179.6,1015.7 1180.1,1009.1 1180.6,1009.5 1181.2,1012.0 1181.7,1011.4 1182.2,1014.6 1182.7,1010.2 1183.2,1007.7 1183.8,1008.2 1184.3,1012.8 1184.8,1007.8 1185.3,1004.5 1185.8,1010.8 1186.4,1009.8 1186.9,1006.3 1187.4,1005.8 1187.9,1008.1 1188.4,1005.3 1189.0,1010.2 1189.5,1007.2 1190.0,1009.2 1190.5,1009.7 1191.0,1001.2 1191.6,1001.5 1192.1,1009.8 1192.6,1005.1 1193.1,1004.1 1193.6,1002.0 1194.2,1006.9 1194.7,1009.4 1195.2,1005.3 1195.7,1000.8 1196.2,1003.1 1196.8,1001.3 1197.3,1004.5 1197.8,1004.4 1198.3,999.7 1198.8,1001.0 1199.4,996.9 1199.9,1002.2 1200.4,997.4 1200.9,997.4 1201.4,1001.8 1202.0,996.6 1202.5,998.9 1203.0,994.7 1203.5,992.4 1204.0,994.0 1204.6,990.2 1205.1,983.7 1205.6,981.2 1206.1,978.6 1206.6,980.9 1207.2,977.5 1207.7,974.8 1208.2,974.8 1208.7,973.5 1209.2,979.5 1209.8,979.6 1210.3,981.1 1210.8,986.1 1211.3,985.3 1211.8,985.7 1212.4,991.3 1212.9,992.9 1213.4,996.9 1213.9,997.3 1214.4,1000.0 1215.0,1001.0 1215.5,998.7 1216.0,1002.6 1216.5,1000.0 1217.0,1001.5 1217.6,1004.2 1218.1,1002.7 1218.6,1003.0 1219.1,1010.2 1219.6,1006.6 1220.2,1004.3 1220.7,1010.1 1221.2,1007.5 1221.7,1009.7 1222.2,1008.4 1222.8,1006.8 1223.3,1009.0 1223.8,1006.7 1224.3,1008.2 1224.8,1011.6 1225.4,1009.8 1225.9,1010.7 1226.4,1004.8 1226.9,1004.6 1227.4,1009.2 1228.0,1003.4 1228.5,1005.4 1229.0,1005.0 1229.5,1005.5 1230.0,1000.4 1230.6,998.5 1231.1,992.6 1231.6,991.9 1232.1,993.5 1232.6,994.1 1233.2,996.5 1233.7,1000.4 1234.2,1001.1 1234.7,999.0 1235.2,1005.0 1235.8,1004.6 1236.3,1006.2 1236.8,1003.2 1237.3,1007.3 1237.8,1007.3 1238.4,1008.0 1238.9,1013.0 1239.4,1011.4 1239.9,1014.1 1240.4,1012.7 1241.0,1014.0 1241.5,1010.7 1242.0,1012.6 1242.5,1009.7 1243.0,1015.1 1243.6,1011.0 1244.1,1014.1 1244.6,1011.9 1245.1,1015.4 1245.6,1012.5 1246.1,1013.0 1246.7,1007.2 1247.2,1012.4 1247.7,1012.5 1248.2,1010.7 1248.7,1012.3 1249.3,1015.7 1249.8,1017.2 1250.3,1015.8 1250.8,1019.6 1251.3,1015.5 1251.9,1012.6 1252.4,1019.8 1252.9,1013.8 1253.4,1014.1 1253.9,1017.7 1254.5,1014.7 1255.0,1015.1 1255.5,1011.9 1256.0,1014.0 1256.5,1015.0 1257.1,1010.7 1257.6,1016.2 1258.1,1013.6 1258.6,1010.6 1259.1,1016.9 1259.7,1018.8 1260.2,1011.8 1260.7,1016.0 1261.2,1013.0 1261.7,1011.2 1262.3,1013.5 1262.8,1015.4 1263.3,1012.0 1263.8,1015.6 1264.3,1017.1 1264.9,1019.6 1265.4,1010.7 1265.9,1011.9 1266.4,1013.9 1266.9,1015.0 1267.5,1014.8 1268.0,1015.6 1268.5,1013.2 1269.0,1011.2 1269.5,1011.3 1270.1,1014.0 1270.6,1013.2 1271.1,1016.6 1271.6,1018.3 1272.1,1014.7 1272.7,1012.1 1273.2,1014.9 1273.7,1013.7 1274.2,1014.3 1274.7,1017.6 1275.3,1015.3 1275.8,1015.2 1276.3,1017.0"/>
<polyline fill="none" stroke="#12c264" stroke-width="3.6" stroke-linejoin="round" stroke-linecap="round" points="951.4,1068.1 951.9,1068.2 952.4,1074.4 953.0,1075.1 953.5,1070.0 954.0,1069.0 954.5,1067.9 955.0,1068.8 955.6,1071.1 956.1,1070.0 956.6,1068.9 957.1,1070.9 957.6,1070.7 958.2,1069.8 958.7,1072.0 959.2,1068.4 959.7,1074.2 960.2,1068.9 960.8,1070.3 961.3,1071.5 961.8,1067.3 962.3,1070.2 962.8,1065.3 963.4,1064.6 963.9,1070.6 964.4,1073.2 964.9,1074.5 965.4,1071.0 966.0,1070.6 966.5,1069.6 967.0,1068.4 967.5,1070.3 968.0,1070.1 968.6,1072.5 969.1,1067.2 969.6,1068.5 970.1,1070.6 970.6,1067.5 971.2,1068.8 971.7,1060.0 972.2,1064.3 972.7,1072.8 973.2,1067.6 973.8,1066.5 974.3,1064.5 974.8,1063.9 975.3,1065.8 975.8,1068.8 976.4,1067.6 976.9,1068.3 977.4,1064.2 977.9,1066.9 978.4,1065.3 979.0,1065.4 979.5,1064.1 980.0,1065.7 980.5,1065.4 981.0,1065.5 981.6,1064.8 982.1,1066.7 982.6,1063.7 983.1,1066.4 983.6,1067.6 984.1,1064.3 984.7,1062.3 985.2,1064.0 985.7,1065.2 986.2,1065.2 986.7,1066.6 987.3,1064.2 987.8,1065.2 988.3,1065.2 988.8,1065.2 989.3,1065.7 989.9,1067.7 990.4,1063.6 990.9,1063.8 991.4,1065.5 991.9,1063.1 992.5,1067.0 993.0,1064.5 993.5,1064.3 994.0,1065.7 994.5,1067.0 995.1,1066.9 995.6,1065.3 996.1,1067.9 996.6,1069.6 997.1,1065.0 997.7,1068.1 998.2,1067.9 998.7,1068.1 999.2,1070.1 999.7,1070.8 1000.3,1066.5 1000.8,1063.6 1001.3,1070.2 1001.8,1068.1 1002.3,1069.2 1002.9,1071.7 1003.4,1066.7 1003.9,1068.6 1004.4,1070.8 1004.9,1067.8 1005.5,1067.9 1006.0,1065.7 1006.5,1065.0 1007.0,1068.3 1007.5,1065.8 1008.1,1069.4 1008.6,1065.0 1009.1,1069.4 1009.6,1068.0 1010.1,1069.6 1010.7,1067.7 1011.2,1070.4 1011.7,1069.1 1012.2,1069.1 1012.7,1066.3 1013.3,1070.3 1013.8,1072.0 1014.3,1072.6 1014.8,1072.1 1015.3,1068.8 1015.9,1068.2 1016.4,1062.3 1016.9,1064.5 1017.4,1065.6 1017.9,1070.5 1018.5,1067.7 1019.0,1067.1 1019.5,1072.5 1020.0,1065.5 1020.5,1069.6 1021.1,1068.3 1021.6,1071.0 1022.1,1067.0 1022.6,1068.9 1023.1,1069.9 1023.7,1068.9 1024.2,1071.2 1024.7,1069.1 1025.2,1068.9 1025.7,1066.4 1026.3,1067.3 1026.8,1071.1 1027.3,1066.7 1027.8,1065.1 1028.3,1065.9 1028.9,1071.2 1029.4,1066.3 1029.9,1064.2 1030.4,1071.9 1030.9,1066.3 1031.5,1071.8 1032.0,1071.1 1032.5,1064.9 1033.0,1071.4 1033.5,1070.2 1034.1,1065.2 1034.6,1069.0 1035.1,1063.7 1035.6,1066.9 1036.1,1065.6 1036.7,1066.7 1037.2,1066.7 1037.7,1069.1 1038.2,1066.5 1038.7,1065.5 1039.3,1070.4 1039.8,1065.7 1040.3,1068.4 1040.8,1071.0 1041.3,1066.4 1041.9,1070.1 1042.4,1068.7 1042.9,1065.9 1043.4,1069.4 1043.9,1063.4 1044.5,1064.7 1045.0,1065.4 1045.5,1068.5 1046.0,1064.7 1046.5,1070.3 1047.1,1064.7 1047.6,1068.9 1048.1,1067.5 1048.6,1070.9 1049.1,1067.4 1049.6,1067.0 1050.2,1065.4 1050.7,1068.8 1051.2,1071.5 1051.7,1067.4 1052.2,1067.9 1052.8,1065.0 1053.3,1065.6 1053.8,1069.6 1054.3,1066.9 1054.8,1065.3 1055.4,1064.4 1055.9,1066.7 1056.4,1064.6 1056.9,1059.3 1057.4,1061.7 1058.0,1057.8 1058.5,1056.6 1059.0,1055.0 1059.5,1057.1 1060.0,1060.7 1060.6,1061.6 1061.1,1060.3 1061.6,1063.5 1062.1,1066.8 1062.6,1070.3 1063.2,1066.5 1063.7,1065.7 1064.2,1071.2 1064.7,1065.5 1065.2,1066.8 1065.8,1067.6 1066.3,1062.2 1066.8,1063.2 1067.3,1067.8 1067.8,1067.8 1068.4,1068.0 1068.9,1061.6 1069.4,1062.9 1069.9,1067.7 1070.4,1065.9 1071.0,1062.9 1071.5,1063.7 1072.0,1064.8 1072.5,1065.4 1073.0,1066.3 1073.6,1064.4 1074.1,1067.8 1074.6,1062.9 1075.1,1058.2 1075.6,1064.9 1076.2,1060.6 1076.7,1061.2 1077.2,1058.7 1077.7,1056.9 1078.2,1061.0 1078.8,1064.4 1079.3,1059.5 1079.8,1062.1 1080.3,1061.5 1080.8,1062.7 1081.4,1062.6 1081.9,1062.2 1082.4,1061.0 1082.9,1058.6 1083.4,1059.6 1084.0,1057.0 1084.5,1055.2 1085.0,1046.3 1085.5,1043.9 1086.0,1047.3 1086.6,1058.3 1087.1,1058.8 1087.6,1064.0 1088.1,1063.9 1088.6,1064.5 1089.2,1066.6 1089.7,1066.3 1090.2,1065.4 1090.7,1065.9 1091.2,1065.9 1091.8,1064.5 1092.3,1068.3 1092.8,1065.9 1093.3,1069.4 1093.8,1064.3 1094.4,1068.9 1094.9,1066.9 1095.4,1068.2 1095.9,1071.4 1096.4,1066.2 1097.0,1071.6 1097.5,1070.4 1098.0,1065.7 1098.5,1072.4 1099.0,1067.2 1099.6,1063.2 1100.1,1068.8 1100.6,1059.7 1101.1,1066.1 1101.6,1066.6 1102.2,1068.7 1102.7,1066.1 1103.2,1066.7 1103.7,1067.2 1104.2,1070.6 1104.8,1068.2 1105.3,1067.2 1105.8,1070.9 1106.3,1069.4 1106.8,1069.8 1107.4,1074.4 1107.9,1068.3 1108.4,1068.7 1108.9,1067.1 1109.4,1068.3 1110.0,1069.1 1110.5,1067.5 1111.0,1067.1 1111.5,1064.9 1112.0,1066.8 1112.6,1066.7 1113.1,1067.2 1113.6,1067.6 1114.1,1067.9 1114.6,1069.2 1115.1,1062.5 1115.7,1073.4 1116.2,1063.9 1116.7,1072.9 1117.2,1068.1 1117.7,1068.1 1118.3,1069.6 1118.8,1064.2 1119.3,1068.4 1119.8,1066.6 1120.3,1061.8 1120.9,1062.7 1121.4,1064.1 1121.9,1064.9 1122.4,1068.7 1122.9,1072.3 1123.5,1071.0 1124.0,1069.8 1124.5,1064.6 1125.0,1067.9 1125.5,1064.7 1126.1,1068.2 1126.6,1067.8 1127.1,1068.1 1127.6,1068.3 1128.1,1071.5 1128.7,1067.3 1129.2,1065.1 1129.7,1067.3 1130.2,1069.4 1130.7,1065.0 1131.3,1067.5 1131.8,1065.9 1132.3,1061.0 1132.8,1068.7 1133.3,1069.9 1133.9,1070.9 1134.4,1068.7 1134.9,1066.6 1135.4,1070.3 1135.9,1068.4 1136.5,1069.4 1137.0,1067.1 1137.5,1070.3 1138.0,1070.3 1138.5,1069.0 1139.1,1069.4 1139.6,1067.5 1140.1,1067.8 1140.6,1076.0 1141.1,1070.6 1141.7,1069.5 1142.2,1070.9 1142.7,1070.5 1143.2,1069.6 1143.7,1066.4 1144.3,1065.4 1144.8,1066.8 1145.3,1069.1 1145.8,1068.1 1146.3,1070.7 1146.9,1066.0 1147.4,1067.8 1147.9,1069.1 1148.4,1067.6 1148.9,1065.6 1149.5,1073.4 1150.0,1070.6 1150.5,1066.1 1151.0,1061.8 1151.5,1069.3 1152.1,1071.6 1152.6,1068.6 1153.1,1072.6 1153.6,1074.1 1154.1,1069.7 1154.7,1066.9 1155.2,1069.2 1155.7,1067.8 1156.2,1072.3 1156.7,1064.3 1157.3,1070.4 1157.8,1067.1 1158.3,1068.5 1158.8,1067.5 1159.3,1069.7 1159.9,1069.2 1160.4,1066.0 1160.9,1069.5 1161.4,1074.6 1161.9,1072.4 1162.5,1067.7 1163.0,1065.7 1163.5,1070.1 1164.0,1065.5 1164.5,1071.1 1165.1,1071.1 1165.6,1066.6 1166.1,1065.6 1166.6,1071.1 1167.1,1072.6 1167.7,1067.3 1168.2,1068.5 1168.7,1071.3 1169.2,1067.7 1169.7,1069.2 1170.3,1069.8 1170.8,1065.2 1171.3,1063.8 1171.8,1061.8 1172.3,1067.6 1172.9,1065.5 1173.4,1067.8 1173.9,1062.2 1174.4,1062.5 1174.9,1061.5 1175.5,1064.5 1176.0,1062.8 1176.5,1061.4 1177.0,1066.1 1177.5,1065.8 1178.1,1067.1 1178.6,1067.9 1179.1,1066.6 1179.6,1066.3 1180.1,1062.4 1180.6,1065.4 1181.2,1064.3 1181.7,1066.5 1182.2,1072.4 1182.7,1067.4 1183.2,1068.6 1183.8,1067.4 1184.3,1069.0 1184.8,1063.3 1185.3,1059.8 1185.8,1061.8 1186.4,1063.2 1186.9,1062.7 1187.4,1061.4 1187.9,1058.0 1188.4,1061.5 1189.0,1054.7 1189.5,1060.5 1190.0,1056.3 1190.5,1051.5 1191.0,1051.8 1191.6,1054.1 1192.1,1056.2 1192.6,1059.4 1193.1,1056.3 1193.6,1061.4 1194.2,1056.5 1194.7,1061.9 1195.2,1062.8 1195.7,1061.3 1196.2,1064.9 1196.8,1062.4 1197.3,1063.5 1197.8,1061.6 1198.3,1064.3 1198.8,1063.1 1199.4,1059.8 1199.9,1063.5 1200.4,1057.8 1200.9,1061.4 1201.4,1065.9 1202.0,1062.6 1202.5,1055.8 1203.0,1060.7 1203.5,1062.3 1204.0,1060.3 1204.6,1055.6 1205.1,1056.4 1205.6,1053.1 1206.1,1048.6 1206.6,1048.6 1207.2,1046.3 1207.7,1037.5 1208.2,1041.8 1208.7,1038.1 1209.2,1042.5 1209.8,1047.3 1210.3,1050.7 1210.8,1050.9 1211.3,1057.5 1211.8,1052.8 1212.4,1060.2 1212.9,1061.3 1213.4,1061.7 1213.9,1062.2 1214.4,1059.4 1215.0,1059.0 1215.5,1062.3 1216.0,1064.2 1216.5,1062.2 1217.0,1068.7 1217.6,1070.2 1218.1,1067.9 1218.6,1067.8 1219.1,1063.6 1219.6,1069.4 1220.2,1072.1 1220.7,1070.4 1221.2,1069.1 1221.7,1069.8 1222.2,1067.1 1222.8,1065.5 1223.3,1067.4 1223.8,1063.4 1224.3,1067.4 1224.8,1070.4 1225.4,1064.0 1225.9,1064.4 1226.4,1061.7 1226.9,1065.9 1227.4,1064.6 1228.0,1069.5 1228.5,1070.9 1229.0,1060.9 1229.5,1066.6 1230.0,1071.6 1230.6,1071.0 1231.1,1067.7 1231.6,1071.0 1232.1,1071.7 1232.6,1071.8 1233.2,1070.1 1233.7,1071.8 1234.2,1071.1 1234.7,1074.8 1235.2,1069.4 1235.8,1072.3 1236.3,1070.7 1236.8,1068.4 1237.3,1074.3 1237.8,1069.3 1238.4,1067.6 1238.9,1066.7 1239.4,1065.9 1239.9,1071.7 1240.4,1071.8 1241.0,1068.2 1241.5,1071.2 1242.0,1070.9 1242.5,1067.6 1243.0,1065.9 1243.6,1072.4 1244.1,1068.0 1244.6,1068.4 1245.1,1065.4 1245.6,1067.1 1246.1,1071.2 1246.7,1070.6 1247.2,1069.9 1247.7,1067.6 1248.2,1072.7 1248.7,1067.1 1249.3,1070.4 1249.8,1069.1 1250.3,1070.0 1250.8,1063.9 1251.3,1069.4 1251.9,1065.1 1252.4,1064.1 1252.9,1064.6 1253.4,1061.9 1253.9,1065.2 1254.5,1068.8 1255.0,1066.4 1255.5,1070.2 1256.0,1063.9 1256.5,1065.0 1257.1,1066.1 1257.6,1065.8 1258.1,1061.2 1258.6,1064.9 1259.1,1066.2 1259.7,1066.1 1260.2,1067.5 1260.7,1064.3 1261.2,1064.4 1261.7,1065.2 1262.3,1067.7 1262.8,1068.1 1263.3,1068.4 1263.8,1064.9 1264.3,1062.6 1264.9,1066.4 1265.4,1068.0 1265.9,1064.6 1266.4,1073.0 1266.9,1066.6 1267.5,1066.5 1268.0,1064.3 1268.5,1063.5 1269.0,1065.2 1269.5,1060.8 1270.1,1063.8 1270.6,1065.1 1271.1,1064.2 1271.6,1064.9 1272.1,1067.1 1272.7,1067.3 1273.2,1065.9 1273.7,1066.4 1274.2,1058.7 1274.7,1061.5 1275.3,1068.1 1275.8,1066.9 1276.3,1067.0"/>
<line x1="1043.8" y1="809.3" x2="1043.8" y2="1075.2" stroke="#000" stroke-width="2.3" stroke-dasharray="5 5.3"/>
<line x1="1208.0" y1="814.3" x2="1208.0" y2="1075.2" stroke="#000" stroke-width="2.3" stroke-dasharray="5 5.3"/>
<text transform="translate(905.0,909.2) rotate(-90) scale(1.030,1)" font-size="23.5" fill="#000" text-anchor="middle" stroke="#000" stroke-width="0.35">Intensity</text>
<text transform="translate(1048.6,766.6) rotate(-90) scale(1.030,1)" font-size="17.3" fill="#000" text-anchor="middle" stroke="#000" stroke-width="0.25">1088</text>
<polygon points="1044.0,785.2 1051.2,789.7 1051.2,798.7 1044.0,803.2 1036.8,798.7 1036.8,789.7" fill="none" stroke="#1a1a1a" stroke-width="1.3"/>
<line x1="1044.6" y1="788.1" x2="1048.6" y2="790.6" stroke="#334" stroke-width="1.0"/>
<line x1="1048.6" y1="797.8" x2="1044.6" y2="800.3" stroke="#334" stroke-width="1.0"/>
<line x1="1038.8" y1="796.7" x2="1038.8" y2="791.7" stroke="#334" stroke-width="1.0"/>
<text transform="translate(1213.7,798.0) rotate(-90) scale(1.030,1)" font-size="17.3" fill="#000" text-anchor="middle" stroke="#000" stroke-width="0.25">1591</text>
<text transform="translate(1232.0,795.4) rotate(-90) scale(1.030,1)" font-size="16.6" fill="#000" text-anchor="middle" stroke="#000" stroke-width="0.25">NH<tspan font-size="10.5">2</tspan></text>
<rect x="1389.9" y="745.8" width="324.8" height="329.4" fill="none" stroke="#000" stroke-width="3.7"/>
<line x1="1389.9" y1="1075.2" x2="1389.9" y2="1084.9" stroke="#000" stroke-width="3.3"/>
<text transform="translate(1390.2,1112.6) scale(1.030,1)" font-size="23.5" fill="#000" text-anchor="middle" stroke="#000" stroke-width="0.35">800</text>
<line x1="1454.9" y1="1075.2" x2="1454.9" y2="1084.9" stroke="#000" stroke-width="3.3"/>
<text transform="translate(1455.2,1112.6) scale(1.030,1)" font-size="23.5" fill="#000" text-anchor="middle" stroke="#000" stroke-width="0.35">1000</text>
<line x1="1519.8" y1="1075.2" x2="1519.8" y2="1084.9" stroke="#000" stroke-width="3.3"/>
<text transform="translate(1520.1,1112.6) scale(1.030,1)" font-size="23.5" fill="#000" text-anchor="middle" stroke="#000" stroke-width="0.35">1200</text>
<line x1="1584.8" y1="1075.2" x2="1584.8" y2="1084.9" stroke="#000" stroke-width="3.3"/>
<text transform="translate(1585.1,1112.6) scale(1.030,1)" font-size="23.5" fill="#000" text-anchor="middle" stroke="#000" stroke-width="0.35">1400</text>
<line x1="1649.7" y1="1075.2" x2="1649.7" y2="1084.9" stroke="#000" stroke-width="3.3"/>
<text transform="translate(1650.0,1112.6) scale(1.030,1)" font-size="23.5" fill="#000" text-anchor="middle" stroke="#000" stroke-width="0.35">1600</text>
<line x1="1714.7" y1="1075.2" x2="1714.7" y2="1084.9" stroke="#000" stroke-width="3.3"/>
<text transform="translate(1715.0,1112.6) scale(1.030,1)" font-size="23.5" fill="#000" text-anchor="middle" stroke="#000" stroke-width="0.35">1800</text>
<text transform="translate(1552.6,1144.0) scale(1.030,1)" font-size="23.5" fill="#000" text-anchor="middle" stroke="#000" stroke-width="0.35">Raman shift [cm<tspan font-size="14.5" dy="-12.2" dx="1">-1</tspan><tspan dy="12.2" dx="0.5">]</tspan></text>
<polyline fill="none" stroke="#0a00f6" stroke-width="3.9" stroke-linejoin="round" stroke-linecap="round" points="1389.9,852.5 1390.4,853.4 1390.9,849.4 1391.5,846.0 1392.0,852.1 1392.5,854.7 1393.0,853.5 1393.5,854.6 1394.1,854.9 1394.6,851.6 1395.1,852.8 1395.6,851.9 1396.1,856.1 1396.7,853.7 1397.2,854.5 1397.7,850.3 1398.2,851.8 1398.7,852.8 1399.3,853.0 1399.8,851.8 1400.3,853.5 1400.8,854.7 1401.3,854.3 1401.9,852.0 1402.4,851.6 1402.9,855.7 1403.4,856.4 1403.9,851.2 1404.5,851.4 1405.0,849.5 1405.5,849.6 1406.0,851.5 1406.5,850.9 1407.0,850.5 1407.6,852.7 1408.1,854.6 1408.6,848.8 1409.1,849.4 1409.6,851.7 1410.2,849.2 1410.7,849.7 1411.2,847.7 1411.7,846.4 1412.2,845.3 1412.8,848.1 1413.3,846.7 1413.8,851.0 1414.3,852.0 1414.8,852.3 1415.4,849.2 1415.9,847.8 1416.4,849.3 1416.9,848.4 1417.4,847.0 1418.0,848.7 1418.5,851.1 1419.0,849.8 1419.5,848.4 1420.0,846.5 1420.6,846.2 1421.1,848.1 1421.6,846.3 1422.1,848.3 1422.6,846.9 1423.2,846.9 1423.7,844.1 1424.2,850.1 1424.7,851.0 1425.2,848.9 1425.8,845.0 1426.3,849.7 1426.8,849.9 1427.3,847.2 1427.8,844.3 1428.4,849.8 1428.9,847.7 1429.4,845.8 1429.9,846.8 1430.4,849.5 1431.0,847.2 1431.5,850.2 1432.0,853.0 1432.5,852.1 1433.0,849.6 1433.6,851.1 1434.1,852.4 1434.6,855.2 1435.1,855.3 1435.6,848.8 1436.2,852.3 1436.7,852.5 1437.2,852.2 1437.7,849.7 1438.2,855.7 1438.7,852.6 1439.3,851.1 1439.8,853.9 1440.3,852.5 1440.8,849.7 1441.3,854.5 1441.9,854.7 1442.4,851.1 1442.9,855.0 1443.4,851.9 1443.9,854.0 1444.5,854.7 1445.0,851.5 1445.5,847.9 1446.0,849.6 1446.5,850.9 1447.1,852.1 1447.6,852.0 1448.1,853.3 1448.6,853.0 1449.1,852.3 1449.7,850.8 1450.2,853.4 1450.7,849.7 1451.2,847.0 1451.7,849.3 1452.3,848.2 1452.8,850.8 1453.3,854.7 1453.8,852.7 1454.3,852.8 1454.9,853.5 1455.4,853.5 1455.9,850.3 1456.4,850.8 1456.9,849.3 1457.5,849.2 1458.0,852.8 1458.5,846.2 1459.0,848.8 1459.5,847.0 1460.1,849.0 1460.6,847.6 1461.1,849.4 1461.6,851.4 1462.1,851.8 1462.7,850.3 1463.2,847.4 1463.7,846.0 1464.2,845.4 1464.7,848.0 1465.3,845.1 1465.8,848.0 1466.3,848.1 1466.8,847.4 1467.3,846.2 1467.9,848.0 1468.4,849.2 1468.9,846.6 1469.4,844.0 1469.9,846.4 1470.5,846.8 1471.0,843.2 1471.5,847.2 1472.0,846.3 1472.5,842.9 1473.0,845.3 1473.6,844.0 1474.1,844.7 1474.6,841.1 1475.1,842.7 1475.6,837.5 1476.2,839.5 1476.7,837.7 1477.2,837.7 1477.7,836.6 1478.2,835.1 1478.8,829.0 1479.3,826.9 1479.8,827.1 1480.3,825.1 1480.8,816.9 1481.4,811.6 1481.9,813.1 1482.4,807.4 1482.9,807.2 1483.4,810.9 1484.0,812.8 1484.5,817.6 1485.0,819.2 1485.5,827.1 1486.0,829.9 1486.6,831.0 1487.1,833.3 1487.6,838.5 1488.1,835.7 1488.6,838.5 1489.2,837.4 1489.7,841.1 1490.2,838.1 1490.7,841.0 1491.2,840.3 1491.8,840.8 1492.3,842.4 1492.8,843.5 1493.3,844.4 1493.8,845.0 1494.4,843.0 1494.9,843.0 1495.4,848.7 1495.9,844.8 1496.4,845.3 1497.0,846.0 1497.5,845.0 1498.0,851.5 1498.5,846.7 1499.0,849.6 1499.6,845.6 1500.1,852.0 1500.6,848.4 1501.1,850.3 1501.6,846.1 1502.2,846.1 1502.7,846.3 1503.2,845.3 1503.7,847.3 1504.2,849.2 1504.7,849.7 1505.3,852.0 1505.8,848.7 1506.3,851.0 1506.8,844.4 1507.3,846.2 1507.9,847.3 1508.4,842.7 1508.9,848.4 1509.4,849.7 1509.9,848.4 1510.5,849.1 1511.0,845.8 1511.5,848.2 1512.0,844.6 1512.5,847.9 1513.1,840.7 1513.6,837.4 1514.1,838.2 1514.6,842.5 1515.1,834.5 1515.7,835.0 1516.2,843.7 1516.7,847.9 1517.2,846.3 1517.7,844.9 1518.3,845.1 1518.8,846.6 1519.3,847.1 1519.8,846.0 1520.3,848.9 1520.9,847.6 1521.4,843.7 1521.9,846.6 1522.4,851.0 1522.9,849.0 1523.5,847.3 1524.0,845.9 1524.5,845.5 1525.0,844.8 1525.5,848.8 1526.1,847.6 1526.6,845.8 1527.1,844.6 1527.6,849.2 1528.1,849.1 1528.7,845.4 1529.2,843.2 1529.7,842.8 1530.2,841.9 1530.7,841.8 1531.3,841.1 1531.8,842.8 1532.3,842.4 1532.8,844.0 1533.3,840.8 1533.9,841.5 1534.4,841.3 1534.9,844.9 1535.4,841.7 1535.9,845.8 1536.4,842.7 1537.0,846.1 1537.5,841.7 1538.0,845.4 1538.5,845.3 1539.0,841.7 1539.6,841.4 1540.1,841.8 1540.6,841.6 1541.1,839.7 1541.6,837.4 1542.2,840.5 1542.7,837.4 1543.2,840.0 1543.7,841.4 1544.2,838.4 1544.8,840.7 1545.3,841.1 1545.8,837.9 1546.3,839.1 1546.8,838.1 1547.4,838.2 1547.9,837.5 1548.4,836.5 1548.9,839.3 1549.4,837.8 1550.0,835.3 1550.5,836.7 1551.0,831.3 1551.5,831.6 1552.0,832.1 1552.6,829.8 1553.1,830.5 1553.6,832.8 1554.1,834.3 1554.6,834.0 1555.2,831.6 1555.7,827.5 1556.2,834.0 1556.7,828.2 1557.2,832.8 1557.8,831.8 1558.3,830.3 1558.8,826.0 1559.3,823.1 1559.8,820.2 1560.4,816.8 1560.9,814.3 1561.4,811.5 1561.9,803.3 1562.4,796.4 1563.0,788.1 1563.5,780.6 1564.0,776.2 1564.5,771.1 1565.0,769.1 1565.6,767.8 1566.1,776.4 1566.6,783.4 1567.1,792.1 1567.6,800.9 1568.2,803.7 1568.7,807.3 1569.2,816.9 1569.7,818.9 1570.2,825.4 1570.7,826.2 1571.3,832.5 1571.8,830.9 1572.3,833.6 1572.8,834.0 1573.3,840.8 1573.9,836.5 1574.4,840.5 1574.9,836.7 1575.4,838.6 1575.9,836.4 1576.5,838.8 1577.0,844.5 1577.5,845.1 1578.0,840.2 1578.5,840.5 1579.1,838.1 1579.6,842.9 1580.1,841.7 1580.6,841.9 1581.1,841.7 1581.7,844.0 1582.2,845.5 1582.7,845.2 1583.2,840.9 1583.7,847.3 1584.3,846.6 1584.8,845.3 1585.3,847.8 1585.8,843.9 1586.3,843.6 1586.9,847.3 1587.4,847.8 1587.9,846.2 1588.4,847.9 1588.9,845.6 1589.5,846.0 1590.0,849.4 1590.5,847.7 1591.0,849.2 1591.5,847.0 1592.1,847.5 1592.6,845.3 1593.1,843.7 1593.6,849.8 1594.1,848.6 1594.7,847.4 1595.2,848.2 1595.7,850.2 1596.2,852.8 1596.7,851.8 1597.3,850.7 1597.8,849.1 1598.3,851.7 1598.8,850.2 1599.3,850.5 1599.9,847.9 1600.4,851.1 1600.9,847.0 1601.4,854.5 1601.9,850.9 1602.4,850.4 1603.0,850.9 1603.5,849.6 1604.0,851.5 1604.5,853.8 1605.0,855.9 1605.6,854.7 1606.1,852.8 1606.6,848.4 1607.1,850.7 1607.6,848.0 1608.2,849.7 1608.7,850.9 1609.2,855.1 1609.7,855.3 1610.2,850.8 1610.8,852.3 1611.3,851.5 1611.8,852.8 1612.3,851.4 1612.8,850.7 1613.4,851.7 1613.9,853.0 1614.4,850.8 1614.9,848.7 1615.4,846.1 1616.0,847.4 1616.5,850.7 1617.0,848.8 1617.5,848.1 1618.0,849.4 1618.6,849.8 1619.1,848.7 1619.6,848.0 1620.1,846.4 1620.6,847.1 1621.2,843.9 1621.7,846.7 1622.2,844.1 1622.7,851.0 1623.2,848.0 1623.8,845.8 1624.3,851.6 1624.8,845.3 1625.3,848.9 1625.8,846.1 1626.4,845.6 1626.9,851.9 1627.4,845.4 1627.9,849.4 1628.4,850.1 1629.0,840.7 1629.5,842.3 1630.0,841.1 1630.5,847.1 1631.0,846.8 1631.6,843.8 1632.1,848.0 1632.6,845.9 1633.1,841.4 1633.6,843.0 1634.1,839.0 1634.7,845.3 1635.2,842.3 1635.7,840.5 1636.2,838.5 1636.7,840.4 1637.3,838.0 1637.8,835.5 1638.3,832.3 1638.8,831.9 1639.3,822.5 1639.9,820.7 1640.4,816.0 1640.9,815.5 1641.4,815.6 1641.9,814.3 1642.5,810.6 1643.0,814.7 1643.5,820.4 1644.0,824.7 1644.5,822.8 1645.1,827.2 1645.6,828.1 1646.1,830.4 1646.6,829.1 1647.1,825.6 1647.7,827.6 1648.2,821.4 1648.7,821.4 1649.2,821.8 1649.7,824.4 1650.3,825.3 1650.8,825.7 1651.3,836.2 1651.8,836.4 1652.3,840.8 1652.9,836.3 1653.4,840.6 1653.9,848.7 1654.4,849.8 1654.9,847.0 1655.5,848.1 1656.0,848.5 1656.5,849.2 1657.0,846.5 1657.5,847.5 1658.1,850.0 1658.6,852.0 1659.1,848.2 1659.6,851.9 1660.1,850.0 1660.7,849.9 1661.2,847.6 1661.7,851.8 1662.2,849.8 1662.7,852.2 1663.3,853.3 1663.8,851.0 1664.3,848.9 1664.8,850.4 1665.3,849.3 1665.9,849.1 1666.4,853.9 1666.9,848.9 1667.4,852.9 1667.9,850.8 1668.4,846.8 1669.0,846.5 1669.5,848.7 1670.0,851.5 1670.5,851.8 1671.0,852.4 1671.6,846.1 1672.1,846.3 1672.6,848.9 1673.1,849.7 1673.6,852.1 1674.2,849.8 1674.7,848.6 1675.2,852.7 1675.7,849.9 1676.2,846.5 1676.8,844.8 1677.3,849.3 1677.8,851.6 1678.3,846.4 1678.8,846.7 1679.4,846.5 1679.9,848.5 1680.4,850.7 1680.9,852.5 1681.4,849.2 1682.0,845.2 1682.5,843.4 1683.0,846.4 1683.5,849.6 1684.0,847.8 1684.6,852.6 1685.1,850.1 1685.6,848.3 1686.1,847.4 1686.6,852.5 1687.2,855.1 1687.7,849.2 1688.2,850.3 1688.7,847.3 1689.2,846.6 1689.8,846.9 1690.3,852.8 1690.8,848.3 1691.3,848.2 1691.8,848.1 1692.4,851.7 1692.9,848.2 1693.4,851.2 1693.9,850.5 1694.4,846.9 1695.0,851.6 1695.5,847.3 1696.0,853.2 1696.5,852.8 1697.0,853.6 1697.6,850.6 1698.1,851.6 1698.6,854.2 1699.1,854.1 1699.6,848.8 1700.1,855.2 1700.7,848.1 1701.2,850.2 1701.7,850.7 1702.2,849.6 1702.7,849.0 1703.3,851.0 1703.8,849.7 1704.3,852.4 1704.8,853.2 1705.3,853.0 1705.9,851.4 1706.4,854.7 1706.9,855.0 1707.4,852.9 1707.9,857.0 1708.5,853.3 1709.0,853.0 1709.5,853.3 1710.0,851.0 1710.5,851.8 1711.1,850.5 1711.6,850.8 1712.1,855.7 1712.6,856.0 1713.1,851.7 1713.7,853.9 1714.2,851.3 1714.7,848.3"/>
<polyline fill="none" stroke="#0a00f6" stroke-width="3.9" stroke-linejoin="round" stroke-linecap="round" points="1389.9,905.3 1390.4,907.0 1390.9,904.2 1391.5,904.1 1392.0,902.0 1392.5,905.7 1393.0,906.4 1393.5,905.2 1394.1,900.8 1394.6,903.9 1395.1,906.6 1395.6,904.0 1396.1,905.6 1396.7,903.2 1397.2,906.0 1397.7,905.5 1398.2,902.7 1398.7,902.4 1399.3,899.8 1399.8,901.3 1400.3,905.1 1400.8,900.6 1401.3,901.9 1401.9,903.4 1402.4,903.6 1402.9,904.3 1403.4,899.3 1403.9,903.8 1404.5,904.9 1405.0,902.7 1405.5,904.8 1406.0,904.0 1406.5,904.8 1407.0,900.7 1407.6,899.3 1408.1,900.1 1408.6,902.8 1409.1,901.8 1409.6,902.8 1410.2,899.2 1410.7,897.6 1411.2,902.4 1411.7,903.7 1412.2,897.9 1412.8,897.9 1413.3,898.9 1413.8,901.0 1414.3,900.5 1414.8,901.9 1415.4,903.0 1415.9,901.5 1416.4,895.7 1416.9,902.2 1417.4,899.0 1418.0,897.5 1418.5,901.6 1419.0,903.3 1419.5,899.9 1420.0,903.5 1420.6,899.0 1421.1,901.7 1421.6,898.4 1422.1,901.9 1422.6,900.5 1423.2,902.2 1423.7,901.4 1424.2,901.2 1424.7,902.2 1425.2,898.4 1425.8,900.0 1426.3,902.0 1426.8,899.2 1427.3,902.4 1427.8,904.4 1428.4,902.6 1428.9,901.7 1429.4,897.7 1429.9,903.2 1430.4,904.7 1431.0,901.6 1431.5,897.6 1432.0,896.4 1432.5,899.0 1433.0,902.4 1433.6,903.7 1434.1,903.1 1434.6,899.7 1435.1,899.4 1435.6,900.1 1436.2,900.9 1436.7,898.8 1437.2,903.8 1437.7,896.9 1438.2,898.7 1438.7,902.9 1439.3,904.0 1439.8,902.0 1440.3,902.4 1440.8,903.9 1441.3,903.7 1441.9,900.2 1442.4,902.7 1442.9,903.7 1443.4,897.2 1443.9,900.6 1444.5,903.1 1445.0,901.4 1445.5,901.2 1446.0,900.9 1446.5,903.2 1447.1,899.3 1447.6,901.2 1448.1,905.7 1448.6,903.4 1449.1,902.2 1449.7,901.2 1450.2,899.5 1450.7,899.9 1451.2,902.1 1451.7,902.8 1452.3,899.4 1452.8,903.1 1453.3,902.7 1453.8,905.3 1454.3,901.2 1454.9,901.9 1455.4,903.5 1455.9,897.5 1456.4,898.3 1456.9,902.7 1457.5,897.3 1458.0,904.0 1458.5,905.8 1459.0,900.9 1459.5,896.8 1460.1,896.6 1460.6,896.3 1461.1,896.1 1461.6,902.9 1462.1,901.4 1462.7,903.3 1463.2,899.8 1463.7,900.6 1464.2,894.8 1464.7,896.3 1465.3,898.9 1465.8,898.8 1466.3,900.3 1466.8,898.1 1467.3,899.8 1467.9,897.9 1468.4,896.3 1468.9,895.5 1469.4,897.5 1469.9,898.1 1470.5,900.2 1471.0,896.6 1471.5,899.9 1472.0,895.0 1472.5,895.0 1473.0,894.1 1473.6,889.5 1474.1,894.7 1474.6,894.2 1475.1,890.9 1475.6,892.6 1476.2,889.8 1476.7,892.0 1477.2,893.7 1477.7,887.1 1478.2,885.2 1478.8,884.5 1479.3,878.3 1479.8,876.9 1480.3,875.0 1480.8,871.5 1481.4,864.1 1481.9,860.2 1482.4,854.4 1482.9,852.6 1483.4,859.4 1484.0,863.4 1484.5,872.4 1485.0,878.1 1485.5,882.1 1486.0,886.3 1486.6,883.5 1487.1,885.3 1487.6,890.2 1488.1,894.7 1488.6,893.0 1489.2,896.7 1489.7,896.4 1490.2,897.2 1490.7,895.5 1491.2,896.5 1491.8,895.0 1492.3,897.8 1492.8,893.5 1493.3,898.4 1493.8,901.0 1494.4,899.0 1494.9,900.2 1495.4,898.6 1495.9,899.8 1496.4,900.3 1497.0,897.4 1497.5,897.7 1498.0,897.7 1498.5,901.0 1499.0,899.6 1499.6,900.2 1500.1,900.3 1500.6,901.4 1501.1,896.3 1501.6,899.8 1502.2,900.3 1502.7,902.8 1503.2,904.6 1503.7,900.9 1504.2,902.5 1504.7,901.4 1505.3,904.7 1505.8,903.5 1506.3,903.4 1506.8,900.5 1507.3,900.6 1507.9,895.3 1508.4,902.1 1508.9,900.1 1509.4,899.9 1509.9,899.2 1510.5,898.0 1511.0,896.7 1511.5,897.9 1512.0,895.6 1512.5,893.7 1513.1,892.3 1513.6,889.0 1514.1,889.2 1514.6,892.0 1515.1,895.2 1515.7,896.0 1516.2,897.0 1516.7,891.8 1517.2,897.2 1517.7,899.8 1518.3,898.5 1518.8,902.5 1519.3,902.8 1519.8,898.9 1520.3,903.1 1520.9,901.4 1521.4,901.3 1521.9,900.5 1522.4,898.5 1522.9,900.5 1523.5,896.4 1524.0,904.3 1524.5,898.4 1525.0,902.3 1525.5,903.9 1526.1,903.4 1526.6,898.6 1527.1,900.4 1527.6,901.2 1528.1,903.3 1528.7,904.6 1529.2,904.6 1529.7,902.4 1530.2,901.6 1530.7,899.1 1531.3,902.6 1531.8,898.1 1532.3,902.6 1532.8,903.7 1533.3,899.8 1533.9,900.6 1534.4,899.5 1534.9,898.7 1535.4,898.9 1535.9,901.4 1536.4,898.4 1537.0,900.8 1537.5,900.6 1538.0,900.7 1538.5,902.4 1539.0,903.6 1539.6,896.4 1540.1,900.6 1540.6,900.2 1541.1,898.3 1541.6,900.0 1542.2,899.2 1542.7,901.2 1543.2,895.5 1543.7,901.4 1544.2,898.6 1544.8,898.6 1545.3,893.8 1545.8,899.5 1546.3,898.2 1546.8,899.8 1547.4,896.2 1547.9,897.4 1548.4,898.1 1548.9,896.6 1549.4,898.5 1550.0,897.7 1550.5,894.4 1551.0,899.1 1551.5,893.8 1552.0,896.8 1552.6,891.3 1553.1,893.8 1553.6,895.1 1554.1,890.7 1554.6,892.2 1555.2,892.5 1555.7,889.4 1556.2,893.1 1556.7,890.4 1557.2,891.9 1557.8,886.0 1558.3,890.5 1558.8,886.6 1559.3,886.7 1559.8,887.4 1560.4,879.1 1560.9,877.4 1561.4,876.4 1561.9,870.1 1562.4,868.7 1563.0,861.9 1563.5,860.4 1564.0,852.7 1564.5,852.7 1565.0,853.8 1565.6,852.4 1566.1,855.8 1566.6,860.7 1567.1,865.8 1567.6,870.2 1568.2,870.6 1568.7,878.3 1569.2,879.6 1569.7,884.3 1570.2,880.9 1570.7,883.8 1571.3,886.4 1571.8,889.0 1572.3,889.3 1572.8,889.3 1573.3,894.1 1573.9,896.5 1574.4,889.5 1574.9,891.8 1575.4,891.3 1575.9,895.6 1576.5,893.5 1577.0,895.0 1577.5,894.0 1578.0,901.3 1578.5,893.3 1579.1,896.9 1579.6,898.8 1580.1,898.0 1580.6,899.2 1581.1,900.5 1581.7,899.6 1582.2,902.5 1582.7,898.3 1583.2,899.8 1583.7,899.1 1584.3,895.9 1584.8,900.7 1585.3,905.9 1585.8,898.8 1586.3,899.2 1586.9,903.2 1587.4,904.0 1587.9,905.8 1588.4,900.1 1588.9,904.6 1589.5,904.5 1590.0,902.7 1590.5,899.5 1591.0,898.4 1591.5,899.1 1592.1,901.4 1592.6,894.8 1593.1,900.9 1593.6,904.2 1594.1,904.5 1594.7,898.6 1595.2,899.2 1595.7,900.9 1596.2,906.2 1596.7,900.7 1597.3,902.7 1597.8,904.6 1598.3,899.8 1598.8,904.9 1599.3,904.6 1599.9,905.1 1600.4,900.8 1600.9,905.2 1601.4,903.0 1601.9,906.3 1602.4,905.7 1603.0,903.4 1603.5,900.9 1604.0,902.6 1604.5,901.2 1605.0,901.5 1605.6,897.9 1606.1,901.0 1606.6,907.3 1607.1,903.0 1607.6,898.7 1608.2,902.8 1608.7,904.3 1609.2,902.2 1609.7,901.7 1610.2,903.7 1610.8,900.6 1611.3,899.2 1611.8,901.5 1612.3,899.9 1612.8,898.2 1613.4,903.2 1613.9,903.7 1614.4,901.9 1614.9,900.9 1615.4,901.9 1616.0,902.6 1616.5,903.6 1617.0,900.2 1617.5,902.3 1618.0,899.8 1618.6,899.5 1619.1,899.7 1619.6,897.3 1620.1,894.1 1620.6,899.5 1621.2,895.9 1621.7,896.7 1622.2,897.4 1622.7,895.4 1623.2,893.1 1623.8,896.3 1624.3,896.7 1624.8,894.4 1625.3,895.7 1625.8,893.7 1626.4,895.6 1626.9,888.7 1627.4,887.9 1627.9,890.6 1628.4,886.8 1629.0,886.8 1629.5,892.6 1630.0,888.3 1630.5,894.1 1631.0,892.2 1631.6,889.5 1632.1,889.3 1632.6,891.7 1633.1,893.1 1633.6,888.9 1634.1,888.0 1634.7,893.9 1635.2,893.0 1635.7,893.8 1636.2,892.4 1636.7,890.5 1637.3,886.1 1637.8,889.0 1638.3,892.0 1638.8,888.7 1639.3,886.1 1639.9,888.9 1640.4,882.4 1640.9,882.5 1641.4,882.8 1641.9,875.3 1642.5,870.8 1643.0,867.3 1643.5,870.7 1644.0,871.0 1644.5,865.1 1645.1,863.6 1645.6,863.8 1646.1,867.1 1646.6,867.3 1647.1,869.2 1647.7,872.5 1648.2,876.2 1648.7,878.8 1649.2,879.5 1649.7,880.0 1650.3,883.9 1650.8,886.8 1651.3,884.0 1651.8,888.5 1652.3,885.2 1652.9,892.2 1653.4,891.9 1653.9,891.1 1654.4,895.3 1654.9,896.7 1655.5,894.2 1656.0,897.4 1656.5,898.9 1657.0,893.7 1657.5,894.6 1658.1,895.8 1658.6,896.3 1659.1,896.7 1659.6,897.2 1660.1,898.5 1660.7,902.4 1661.2,901.2 1661.7,893.9 1662.2,894.8 1662.7,903.9 1663.3,900.7 1663.8,899.5 1664.3,894.5 1664.8,901.1 1665.3,899.1 1665.9,900.0 1666.4,901.7 1666.9,900.8 1667.4,899.2 1667.9,899.7 1668.4,898.3 1669.0,898.9 1669.5,899.5 1670.0,901.4 1670.5,901.5 1671.0,899.3 1671.6,901.4 1672.1,899.8 1672.6,899.9 1673.1,899.5 1673.6,905.8 1674.2,902.1 1674.7,899.2 1675.2,903.8 1675.7,901.3 1676.2,902.3 1676.8,902.7 1677.3,900.0 1677.8,907.3 1678.3,903.1 1678.8,898.9 1679.4,901.4 1679.9,898.9 1680.4,901.0 1680.9,899.7 1681.4,903.0 1682.0,899.7 1682.5,901.3 1683.0,900.4 1683.5,900.9 1684.0,902.2 1684.6,903.1 1685.1,902.0 1685.6,906.0 1686.1,903.2 1686.6,902.0 1687.2,903.3 1687.7,903.7 1688.2,901.5 1688.7,904.6 1689.2,901.8 1689.8,902.7 1690.3,902.9 1690.8,901.3 1691.3,904.5 1691.8,904.2 1692.4,903.6 1692.9,902.7 1693.4,899.4 1693.9,898.8 1694.4,903.5 1695.0,902.7 1695.5,903.3 1696.0,906.7 1696.5,909.3 1697.0,902.3 1697.6,900.4 1698.1,900.8 1698.6,901.5 1699.1,906.1 1699.6,905.2 1700.1,901.7 1700.7,903.3 1701.2,906.4 1701.7,904.0 1702.2,906.3 1702.7,901.5 1703.3,903.6 1703.8,905.2 1704.3,905.6 1704.8,903.0 1705.3,904.2 1705.9,903.8 1706.4,904.3 1706.9,901.7 1707.4,903.3 1707.9,902.3 1708.5,901.3 1709.0,902.0 1709.5,900.1 1710.0,898.7 1710.5,903.5 1711.1,901.2 1711.6,905.1 1712.1,904.2 1712.6,899.1 1713.1,901.9 1713.7,903.4 1714.2,904.9 1714.7,902.8"/>
<polyline fill="none" stroke="#0a00f6" stroke-width="3.9" stroke-linejoin="round" stroke-linecap="round" points="1389.9,956.1 1390.4,954.4 1390.9,957.3 1391.5,956.8 1392.0,962.1 1392.5,961.5 1393.0,961.6 1393.5,960.3 1394.1,960.5 1394.6,957.8 1395.1,959.3 1395.6,958.1 1396.1,958.7 1396.7,960.9 1397.2,957.9 1397.7,957.8 1398.2,955.2 1398.7,958.2 1399.3,956.6 1399.8,957.9 1400.3,957.3 1400.8,955.4 1401.3,957.9 1401.9,955.2 1402.4,958.7 1402.9,955.9 1403.4,956.5 1403.9,961.6 1404.5,956.3 1405.0,958.5 1405.5,960.0 1406.0,958.0 1406.5,957.6 1407.0,958.0 1407.6,951.0 1408.1,957.6 1408.6,956.5 1409.1,954.8 1409.6,956.7 1410.2,957.4 1410.7,959.9 1411.2,957.9 1411.7,956.5 1412.2,954.2 1412.8,953.5 1413.3,954.8 1413.8,957.8 1414.3,958.8 1414.8,953.8 1415.4,957.4 1415.9,958.8 1416.4,953.7 1416.9,952.5 1417.4,953.7 1418.0,956.8 1418.5,954.3 1419.0,952.9 1419.5,955.5 1420.0,958.9 1420.6,957.6 1421.1,952.5 1421.6,956.6 1422.1,955.8 1422.6,956.8 1423.2,956.4 1423.7,960.5 1424.2,952.7 1424.7,957.7 1425.2,961.0 1425.8,955.2 1426.3,957.9 1426.8,957.3 1427.3,953.7 1427.8,957.6 1428.4,955.4 1428.9,952.5 1429.4,951.1 1429.9,958.1 1430.4,955.1 1431.0,957.1 1431.5,951.2 1432.0,949.9 1432.5,953.9 1433.0,949.2 1433.6,952.7 1434.1,952.9 1434.6,952.5 1435.1,955.2 1435.6,955.2 1436.2,954.3 1436.7,957.2 1437.2,954.6 1437.7,953.7 1438.2,952.3 1438.7,953.9 1439.3,954.5 1439.8,957.0 1440.3,953.1 1440.8,955.0 1441.3,957.9 1441.9,950.5 1442.4,957.7 1442.9,956.4 1443.4,952.1 1443.9,947.3 1444.5,953.8 1445.0,954.4 1445.5,951.8 1446.0,953.0 1446.5,951.6 1447.1,953.3 1447.6,954.9 1448.1,954.1 1448.6,956.3 1449.1,952.7 1449.7,956.3 1450.2,956.5 1450.7,956.3 1451.2,954.4 1451.7,950.3 1452.3,958.8 1452.8,952.4 1453.3,952.8 1453.8,953.5 1454.3,953.5 1454.9,957.0 1455.4,957.8 1455.9,959.4 1456.4,959.1 1456.9,957.7 1457.5,958.3 1458.0,957.5 1458.5,956.7 1459.0,958.8 1459.5,958.1 1460.1,953.0 1460.6,956.3 1461.1,955.8 1461.6,959.3 1462.1,957.8 1462.7,955.0 1463.2,956.5 1463.7,954.1 1464.2,960.7 1464.7,952.6 1465.3,956.3 1465.8,952.2 1466.3,959.2 1466.8,954.9 1467.3,954.6 1467.9,959.7 1468.4,956.9 1468.9,956.3 1469.4,954.5 1469.9,956.8 1470.5,954.0 1471.0,956.8 1471.5,953.3 1472.0,952.3 1472.5,950.5 1473.0,948.9 1473.6,947.0 1474.1,950.1 1474.6,949.8 1475.1,943.3 1475.6,947.9 1476.2,952.7 1476.7,948.7 1477.2,947.0 1477.7,948.3 1478.2,948.8 1478.8,943.1 1479.3,947.9 1479.8,943.0 1480.3,943.2 1480.8,943.0 1481.4,938.2 1481.9,935.3 1482.4,930.4 1482.9,929.4 1483.4,934.8 1484.0,936.5 1484.5,936.3 1485.0,943.4 1485.5,945.2 1486.0,949.0 1486.6,948.8 1487.1,948.8 1487.6,953.2 1488.1,952.4 1488.6,952.5 1489.2,954.2 1489.7,956.3 1490.2,952.1 1490.7,957.8 1491.2,957.2 1491.8,958.0 1492.3,952.5 1492.8,954.4 1493.3,952.0 1493.8,952.3 1494.4,955.7 1494.9,955.0 1495.4,959.4 1495.9,953.1 1496.4,955.1 1497.0,955.6 1497.5,956.6 1498.0,953.8 1498.5,954.7 1499.0,954.4 1499.6,956.2 1500.1,958.9 1500.6,959.2 1501.1,954.9 1501.6,956.0 1502.2,955.7 1502.7,953.2 1503.2,955.6 1503.7,952.5 1504.2,952.0 1504.7,955.7 1505.3,957.4 1505.8,954.5 1506.3,953.4 1506.8,958.3 1507.3,955.6 1507.9,956.6 1508.4,957.6 1508.9,956.4 1509.4,956.9 1509.9,955.5 1510.5,956.1 1511.0,955.4 1511.5,957.7 1512.0,956.5 1512.5,956.8 1513.1,956.1 1513.6,956.6 1514.1,958.4 1514.6,957.0 1515.1,960.1 1515.7,960.4 1516.2,953.8 1516.7,955.4 1517.2,953.3 1517.7,950.4 1518.3,953.3 1518.8,957.1 1519.3,957.6 1519.8,953.6 1520.3,955.4 1520.9,952.7 1521.4,957.9 1521.9,950.7 1522.4,954.7 1522.9,958.1 1523.5,956.1 1524.0,955.3 1524.5,958.5 1525.0,956.4 1525.5,954.6 1526.1,956.7 1526.6,950.8 1527.1,956.8 1527.6,954.2 1528.1,955.5 1528.7,954.0 1529.2,951.4 1529.7,958.2 1530.2,953.7 1530.7,955.1 1531.3,956.0 1531.8,953.4 1532.3,955.3 1532.8,953.6 1533.3,955.1 1533.9,951.2 1534.4,954.5 1534.9,953.2 1535.4,953.6 1535.9,956.2 1536.4,953.8 1537.0,952.2 1537.5,952.7 1538.0,957.1 1538.5,955.7 1539.0,952.6 1539.6,956.5 1540.1,950.6 1540.6,948.9 1541.1,954.0 1541.6,952.2 1542.2,954.3 1542.7,952.3 1543.2,951.7 1543.7,956.6 1544.2,952.4 1544.8,950.4 1545.3,955.6 1545.8,956.2 1546.3,954.0 1546.8,955.2 1547.4,954.2 1547.9,950.4 1548.4,953.8 1548.9,953.6 1549.4,955.5 1550.0,954.2 1550.5,950.7 1551.0,949.8 1551.5,952.1 1552.0,951.7 1552.6,950.4 1553.1,948.9 1553.6,952.8 1554.1,956.2 1554.6,949.7 1555.2,952.7 1555.7,949.8 1556.2,947.3 1556.7,946.7 1557.2,944.1 1557.8,942.7 1558.3,942.0 1558.8,946.0 1559.3,939.5 1559.8,933.3 1560.4,932.8 1560.9,931.1 1561.4,925.0 1561.9,923.7 1562.4,914.9 1563.0,910.7 1563.5,905.3 1564.0,902.5 1564.5,896.6 1565.0,889.6 1565.6,890.4 1566.1,902.3 1566.6,905.7 1567.1,910.6 1567.6,923.2 1568.2,924.2 1568.7,932.5 1569.2,932.1 1569.7,931.3 1570.2,937.5 1570.7,940.7 1571.3,943.3 1571.8,942.3 1572.3,942.7 1572.8,942.5 1573.3,945.7 1573.9,949.5 1574.4,945.9 1574.9,947.5 1575.4,947.7 1575.9,947.1 1576.5,946.0 1577.0,951.7 1577.5,948.1 1578.0,951.9 1578.5,950.1 1579.1,952.4 1579.6,950.2 1580.1,948.9 1580.6,948.9 1581.1,951.5 1581.7,955.8 1582.2,953.0 1582.7,953.5 1583.2,951.9 1583.7,950.7 1584.3,953.8 1584.8,956.2 1585.3,957.1 1585.8,950.7 1586.3,955.0 1586.9,956.4 1587.4,957.6 1587.9,955.2 1588.4,953.0 1588.9,952.4 1589.5,960.2 1590.0,957.8 1590.5,956.3 1591.0,957.1 1591.5,952.1 1592.1,956.2 1592.6,956.5 1593.1,953.9 1593.6,954.6 1594.1,952.6 1594.7,948.7 1595.2,953.9 1595.7,957.1 1596.2,955.0 1596.7,957.2 1597.3,951.2 1597.8,953.6 1598.3,955.8 1598.8,952.8 1599.3,956.2 1599.9,958.3 1600.4,955.0 1600.9,956.9 1601.4,953.2 1601.9,956.4 1602.4,960.6 1603.0,955.5 1603.5,953.9 1604.0,956.0 1604.5,954.6 1605.0,955.7 1605.6,956.2 1606.1,957.2 1606.6,954.9 1607.1,955.4 1607.6,957.8 1608.2,956.3 1608.7,953.7 1609.2,956.2 1609.7,956.7 1610.2,956.4 1610.8,958.4 1611.3,955.9 1611.8,958.6 1612.3,959.2 1612.8,956.6 1613.4,953.2 1613.9,953.4 1614.4,953.3 1614.9,956.7 1615.4,957.7 1616.0,957.5 1616.5,951.9 1617.0,956.3 1617.5,956.4 1618.0,955.6 1618.6,955.3 1619.1,952.1 1619.6,954.7 1620.1,955.7 1620.6,951.6 1621.2,951.4 1621.7,956.4 1622.2,955.1 1622.7,955.3 1623.2,954.7 1623.8,949.1 1624.3,956.8 1624.8,958.4 1625.3,957.4 1625.8,953.6 1626.4,953.7 1626.9,954.6 1627.4,952.5 1627.9,953.2 1628.4,953.9 1629.0,954.8 1629.5,952.5 1630.0,951.4 1630.5,954.0 1631.0,953.9 1631.6,954.6 1632.1,953.6 1632.6,953.1 1633.1,954.6 1633.6,947.8 1634.1,944.7 1634.7,948.9 1635.2,952.7 1635.7,945.9 1636.2,948.2 1636.7,950.0 1637.3,950.1 1637.8,946.2 1638.3,947.8 1638.8,942.9 1639.3,941.9 1639.9,940.4 1640.4,941.4 1640.9,939.6 1641.4,940.2 1641.9,936.0 1642.5,933.8 1643.0,930.2 1643.5,936.5 1644.0,933.2 1644.5,933.4 1645.1,932.1 1645.6,935.4 1646.1,932.2 1646.6,933.4 1647.1,934.5 1647.7,941.1 1648.2,946.0 1648.7,944.7 1649.2,945.7 1649.7,946.7 1650.3,949.7 1650.8,949.0 1651.3,951.4 1651.8,953.0 1652.3,949.7 1652.9,950.1 1653.4,951.0 1653.9,950.9 1654.4,949.0 1654.9,954.2 1655.5,954.1 1656.0,954.4 1656.5,951.9 1657.0,950.6 1657.5,951.4 1658.1,952.6 1658.6,959.5 1659.1,953.6 1659.6,953.9 1660.1,956.7 1660.7,954.7 1661.2,955.0 1661.7,959.1 1662.2,953.6 1662.7,953.3 1663.3,955.4 1663.8,955.5 1664.3,954.1 1664.8,953.3 1665.3,956.2 1665.9,957.6 1666.4,955.3 1666.9,956.9 1667.4,953.5 1667.9,954.3 1668.4,950.2 1669.0,954.6 1669.5,954.3 1670.0,954.9 1670.5,957.6 1671.0,954.0 1671.6,954.6 1672.1,956.1 1672.6,954.9 1673.1,952.8 1673.6,954.5 1674.2,952.8 1674.7,956.2 1675.2,956.4 1675.7,954.4 1676.2,952.8 1676.8,953.5 1677.3,952.7 1677.8,953.7 1678.3,954.5 1678.8,955.7 1679.4,956.1 1679.9,954.9 1680.4,951.3 1680.9,952.7 1681.4,956.1 1682.0,956.6 1682.5,955.6 1683.0,954.0 1683.5,961.9 1684.0,957.9 1684.6,956.8 1685.1,955.9 1685.6,958.0 1686.1,956.0 1686.6,959.7 1687.2,958.7 1687.7,955.3 1688.2,954.2 1688.7,961.0 1689.2,959.0 1689.8,955.6 1690.3,954.4 1690.8,957.3 1691.3,955.7 1691.8,957.9 1692.4,960.8 1692.9,956.1 1693.4,954.8 1693.9,953.8 1694.4,957.0 1695.0,956.2 1695.5,958.3 1696.0,958.1 1696.5,956.0 1697.0,956.3 1697.6,955.0 1698.1,954.5 1698.6,959.9 1699.1,954.7 1699.6,955.0 1700.1,955.4 1700.7,955.9 1701.2,953.1 1701.7,956.6 1702.2,954.6 1702.7,955.2 1703.3,954.3 1703.8,955.4 1704.3,953.8 1704.8,958.3 1705.3,959.6 1705.9,955.3 1706.4,955.3 1706.9,956.6 1707.4,957.3 1707.9,957.7 1708.5,955.3 1709.0,957.2 1709.5,956.6 1710.0,959.4 1710.5,957.6 1711.1,952.7 1711.6,957.1 1712.1,955.7 1712.6,954.4 1713.1,955.0 1713.7,955.0 1714.2,957.7 1714.7,953.1"/>
<polyline fill="none" stroke="#0a00f6" stroke-width="3.9" stroke-linejoin="round" stroke-linecap="round" points="1389.9,1011.3 1390.4,1010.6 1390.9,1007.2 1391.5,1009.7 1392.0,1007.5 1392.5,1007.9 1393.0,1007.0 1393.5,1007.6 1394.1,1012.0 1394.6,1007.8 1395.1,1008.9 1395.6,1008.5 1396.1,1007.4 1396.7,1010.8 1397.2,1007.3 1397.7,1007.9 1398.2,1006.9 1398.7,1004.1 1399.3,1006.4 1399.8,1006.7 1400.3,1008.1 1400.8,1005.0 1401.3,1007.8 1401.9,1006.5 1402.4,1007.6 1402.9,1004.8 1403.4,1006.6 1403.9,1006.3 1404.5,1007.6 1405.0,1001.6 1405.5,1006.6 1406.0,1004.3 1406.5,1002.3 1407.0,1001.1 1407.6,1000.4 1408.1,1003.0 1408.6,1003.8 1409.1,1005.4 1409.6,1004.9 1410.2,1000.4 1410.7,1001.7 1411.2,1002.9 1411.7,1002.2 1412.2,999.0 1412.8,1000.1 1413.3,999.6 1413.8,1004.9 1414.3,1001.1 1414.8,1002.5 1415.4,1003.3 1415.9,1004.7 1416.4,1007.0 1416.9,1007.0 1417.4,1004.6 1418.0,1002.6 1418.5,1007.2 1419.0,1004.0 1419.5,1004.0 1420.0,1004.8 1420.6,1003.3 1421.1,1005.1 1421.6,1002.3 1422.1,1007.5 1422.6,1005.9 1423.2,1004.7 1423.7,1008.6 1424.2,1006.9 1424.7,1007.2 1425.2,1009.5 1425.8,1009.4 1426.3,1009.1 1426.8,1007.5 1427.3,1009.9 1427.8,1009.9 1428.4,1006.0 1428.9,1007.8 1429.4,1009.3 1429.9,1009.1 1430.4,1006.4 1431.0,1007.7 1431.5,1006.3 1432.0,1009.0 1432.5,1006.6 1433.0,1004.3 1433.6,1008.1 1434.1,1010.7 1434.6,1009.1 1435.1,1013.8 1435.6,1010.5 1436.2,1006.3 1436.7,1005.7 1437.2,1011.0 1437.7,1008.7 1438.2,1008.8 1438.7,1007.0 1439.3,1008.7 1439.8,1007.9 1440.3,1009.3 1440.8,1009.4 1441.3,1013.1 1441.9,1010.7 1442.4,1007.1 1442.9,1007.3 1443.4,1010.4 1443.9,1011.4 1444.5,1009.5 1445.0,1008.0 1445.5,1009.9 1446.0,1011.2 1446.5,1008.9 1447.1,1009.3 1447.6,1008.7 1448.1,1009.7 1448.6,1007.3 1449.1,1010.1 1449.7,1013.3 1450.2,1009.7 1450.7,1006.6 1451.2,1012.5 1451.7,1011.9 1452.3,1008.3 1452.8,1005.9 1453.3,1006.8 1453.8,1008.9 1454.3,1007.5 1454.9,1007.4 1455.4,1008.2 1455.9,1005.9 1456.4,1008.2 1456.9,1005.2 1457.5,1013.3 1458.0,1007.5 1458.5,1007.7 1459.0,1007.6 1459.5,1008.4 1460.1,1005.9 1460.6,1003.2 1461.1,1004.9 1461.6,1004.9 1462.1,1004.8 1462.7,1006.3 1463.2,1012.3 1463.7,1009.6 1464.2,1005.6 1464.7,1002.5 1465.3,1007.5 1465.8,1006.1 1466.3,1004.6 1466.8,1005.3 1467.3,1006.5 1467.9,1006.4 1468.4,1009.4 1468.9,1006.7 1469.4,1005.2 1469.9,1006.4 1470.5,1002.8 1471.0,1003.0 1471.5,1004.8 1472.0,1004.3 1472.5,1002.4 1473.0,1003.3 1473.6,1003.3 1474.1,1003.2 1474.6,1003.7 1475.1,1002.0 1475.6,1002.7 1476.2,1001.8 1476.7,1001.9 1477.2,998.4 1477.7,998.1 1478.2,992.0 1478.8,996.3 1479.3,993.9 1479.8,993.1 1480.3,988.2 1480.8,987.4 1481.4,984.5 1481.9,983.9 1482.4,989.0 1482.9,991.2 1483.4,990.7 1484.0,991.0 1484.5,992.9 1485.0,994.9 1485.5,1000.3 1486.0,1002.9 1486.6,999.6 1487.1,1004.8 1487.6,1003.0 1488.1,1001.5 1488.6,1003.9 1489.2,1005.6 1489.7,1004.3 1490.2,1005.6 1490.7,1006.3 1491.2,1008.6 1491.8,1009.2 1492.3,1006.1 1492.8,1005.8 1493.3,1008.5 1493.8,1010.3 1494.4,1011.0 1494.9,1006.7 1495.4,1009.1 1495.9,1003.1 1496.4,1008.5 1497.0,1007.8 1497.5,1011.4 1498.0,1007.7 1498.5,1007.5 1499.0,1007.3 1499.6,1004.1 1500.1,1006.4 1500.6,1007.1 1501.1,1010.6 1501.6,1009.2 1502.2,1009.7 1502.7,1008.9 1503.2,1008.4 1503.7,1009.1 1504.2,1008.0 1504.7,1006.7 1505.3,1003.6 1505.8,1007.1 1506.3,1008.9 1506.8,1008.7 1507.3,1008.8 1507.9,1006.5 1508.4,1008.2 1508.9,1009.7 1509.4,1006.3 1509.9,1006.9 1510.5,1010.3 1511.0,1009.1 1511.5,1010.3 1512.0,1008.1 1512.5,1007.4 1513.1,1006.7 1513.6,1010.3 1514.1,1012.6 1514.6,1004.9 1515.1,1009.6 1515.7,1009.5 1516.2,1012.0 1516.7,1008.0 1517.2,1006.9 1517.7,1003.9 1518.3,1010.1 1518.8,1008.0 1519.3,1008.5 1519.8,1007.0 1520.3,1004.9 1520.9,1004.6 1521.4,1007.5 1521.9,1007.6 1522.4,1008.6 1522.9,1010.7 1523.5,1005.2 1524.0,1002.7 1524.5,1003.7 1525.0,1006.0 1525.5,1008.5 1526.1,1007.5 1526.6,1000.7 1527.1,1006.3 1527.6,1006.4 1528.1,1004.9 1528.7,1004.3 1529.2,1002.2 1529.7,1006.3 1530.2,1007.0 1530.7,1007.6 1531.3,1004.2 1531.8,1003.0 1532.3,1003.0 1532.8,1005.8 1533.3,1004.1 1533.9,1007.0 1534.4,1007.5 1534.9,1004.5 1535.4,1005.0 1535.9,1002.9 1536.4,1008.0 1537.0,1004.4 1537.5,1006.5 1538.0,1007.8 1538.5,1007.3 1539.0,1006.5 1539.6,1006.1 1540.1,1006.0 1540.6,1011.0 1541.1,1006.6 1541.6,1007.2 1542.2,1005.5 1542.7,1000.7 1543.2,1005.1 1543.7,1003.7 1544.2,999.7 1544.8,1001.9 1545.3,1001.1 1545.8,1001.3 1546.3,1002.3 1546.8,997.2 1547.4,990.6 1547.9,989.7 1548.4,991.4 1548.9,990.0 1549.4,992.7 1550.0,997.2 1550.5,990.0 1551.0,993.8 1551.5,1003.4 1552.0,1002.0 1552.6,1003.6 1553.1,999.7 1553.6,1005.2 1554.1,1001.0 1554.6,1002.5 1555.2,1000.8 1555.7,1004.9 1556.2,1004.2 1556.7,1000.0 1557.2,998.7 1557.8,1001.2 1558.3,999.4 1558.8,996.2 1559.3,998.1 1559.8,997.7 1560.4,995.3 1560.9,993.3 1561.4,986.6 1561.9,988.5 1562.4,981.6 1563.0,979.3 1563.5,974.2 1564.0,977.2 1564.5,973.1 1565.0,974.9 1565.6,976.1 1566.1,977.1 1566.6,982.4 1567.1,980.6 1567.6,982.4 1568.2,991.6 1568.7,990.6 1569.2,995.6 1569.7,993.9 1570.2,998.2 1570.7,994.0 1571.3,997.0 1571.8,997.7 1572.3,1003.2 1572.8,1003.0 1573.3,1009.0 1573.9,1003.4 1574.4,997.8 1574.9,1006.7 1575.4,1004.4 1575.9,1005.9 1576.5,1007.1 1577.0,1006.3 1577.5,1006.0 1578.0,1008.2 1578.5,1007.6 1579.1,1010.3 1579.6,1008.7 1580.1,1006.2 1580.6,1008.2 1581.1,1008.1 1581.7,1010.9 1582.2,1009.2 1582.7,1010.8 1583.2,1005.6 1583.7,1004.6 1584.3,1004.1 1584.8,1007.8 1585.3,1007.0 1585.8,1007.4 1586.3,1006.2 1586.9,1006.5 1587.4,1005.5 1587.9,1009.4 1588.4,1010.8 1588.9,1011.7 1589.5,1010.3 1590.0,1007.6 1590.5,1007.2 1591.0,1008.6 1591.5,1004.7 1592.1,1005.4 1592.6,1006.9 1593.1,1003.8 1593.6,1008.7 1594.1,1006.5 1594.7,1007.3 1595.2,1006.2 1595.7,1008.0 1596.2,1013.6 1596.7,1004.2 1597.3,1008.9 1597.8,1006.8 1598.3,1005.2 1598.8,1004.9 1599.3,1008.0 1599.9,1005.0 1600.4,1005.6 1600.9,1006.2 1601.4,1003.9 1601.9,1002.9 1602.4,1004.7 1603.0,1006.9 1603.5,1005.2 1604.0,1009.3 1604.5,1003.2 1605.0,1003.4 1605.6,1006.6 1606.1,1008.4 1606.6,1004.5 1607.1,1007.6 1607.6,1008.9 1608.2,1006.5 1608.7,1004.3 1609.2,1003.0 1609.7,1002.4 1610.2,1005.5 1610.8,1003.7 1611.3,1000.8 1611.8,995.5 1612.3,1002.4 1612.8,1007.5 1613.4,1005.6 1613.9,1006.1 1614.4,1008.5 1614.9,1007.0 1615.4,1008.2 1616.0,1007.5 1616.5,1008.2 1617.0,1005.7 1617.5,1006.5 1618.0,1004.1 1618.6,1007.5 1619.1,1002.8 1619.6,1003.9 1620.1,1008.0 1620.6,1007.2 1621.2,1008.6 1621.7,1005.0 1622.2,1009.2 1622.7,1005.0 1623.2,1007.4 1623.8,1007.7 1624.3,1004.8 1624.8,1003.8 1625.3,1007.9 1625.8,1006.9 1626.4,1011.2 1626.9,1010.0 1627.4,1011.9 1627.9,1007.1 1628.4,1008.3 1629.0,1006.8 1629.5,1004.7 1630.0,1004.7 1630.5,1006.7 1631.0,1009.7 1631.6,1007.2 1632.1,1004.9 1632.6,1007.7 1633.1,1009.5 1633.6,1006.4 1634.1,1003.0 1634.7,1006.5 1635.2,1005.0 1635.7,1003.4 1636.2,1002.1 1636.7,1005.2 1637.3,1006.3 1637.8,1000.1 1638.3,999.3 1638.8,1004.5 1639.3,996.5 1639.9,998.7 1640.4,996.6 1640.9,992.5 1641.4,989.9 1641.9,984.7 1642.5,988.6 1643.0,992.6 1643.5,997.9 1644.0,997.7 1644.5,997.7 1645.1,997.6 1645.6,1000.4 1646.1,999.8 1646.6,1001.8 1647.1,1000.8 1647.7,999.2 1648.2,998.5 1648.7,998.7 1649.2,997.5 1649.7,997.4 1650.3,995.7 1650.8,997.0 1651.3,999.4 1651.8,1002.3 1652.3,1003.9 1652.9,1007.7 1653.4,1008.0 1653.9,1007.6 1654.4,1004.7 1654.9,1010.5 1655.5,1008.9 1656.0,1008.6 1656.5,1008.1 1657.0,1010.2 1657.5,1007.3 1658.1,1009.7 1658.6,1009.9 1659.1,1003.7 1659.6,1007.7 1660.1,1009.0 1660.7,1011.0 1661.2,1006.3 1661.7,1008.5 1662.2,1009.2 1662.7,1006.2 1663.3,1011.1 1663.8,1005.7 1664.3,1005.6 1664.8,1005.5 1665.3,1008.9 1665.9,1006.1 1666.4,1008.4 1666.9,1008.5 1667.4,1010.0 1667.9,1008.7 1668.4,1006.5 1669.0,1008.5 1669.5,1005.5 1670.0,1003.2 1670.5,1003.3 1671.0,1005.9 1671.6,1006.1 1672.1,1004.1 1672.6,1010.5 1673.1,1009.2 1673.6,1004.1 1674.2,1006.7 1674.7,1009.3 1675.2,1009.7 1675.7,1010.1 1676.2,1006.8 1676.8,1012.5 1677.3,1009.3 1677.8,1006.5 1678.3,1005.5 1678.8,1006.2 1679.4,1008.2 1679.9,1003.9 1680.4,1012.6 1680.9,1007.2 1681.4,1004.5 1682.0,1009.2 1682.5,1008.0 1683.0,1008.0 1683.5,1008.9 1684.0,1008.9 1684.6,1010.5 1685.1,1011.5 1685.6,1013.9 1686.1,1005.3 1686.6,1004.9 1687.2,1008.2 1687.7,1011.7 1688.2,1011.1 1688.7,1010.7 1689.2,1009.3 1689.8,1008.4 1690.3,1002.9 1690.8,1007.4 1691.3,1009.1 1691.8,1007.7 1692.4,1010.6 1692.9,1009.8 1693.4,1005.4 1693.9,1008.2 1694.4,1009.2 1695.0,1008.7 1695.5,1005.5 1696.0,1008.2 1696.5,1008.2 1697.0,1007.2 1697.6,1005.3 1698.1,1008.2 1698.6,1011.2 1699.1,1008.2 1699.6,1009.6 1700.1,1007.9 1700.7,1009.0 1701.2,1008.2 1701.7,1008.7 1702.2,1008.1 1702.7,1007.7 1703.3,1009.9 1703.8,1012.8 1704.3,1009.9 1704.8,1011.4 1705.3,1013.3 1705.9,1009.2 1706.4,1005.9 1706.9,1009.9 1707.4,1008.0 1707.9,1009.1 1708.5,1007.9 1709.0,1005.5 1709.5,1006.6 1710.0,1006.7 1710.5,1011.5 1711.1,1010.2 1711.6,1008.8 1712.1,1009.5 1712.6,1006.6 1713.1,1010.2 1713.7,1002.3 1714.2,1003.6 1714.7,1004.1"/>
<polyline fill="none" stroke="#0a00f6" stroke-width="3.9" stroke-linejoin="round" stroke-linecap="round" points="1389.9,1063.8 1390.4,1067.7 1390.9,1060.4 1391.5,1069.3 1392.0,1066.7 1392.5,1061.7 1393.0,1064.4 1393.5,1063.7 1394.1,1063.7 1394.6,1065.7 1395.1,1060.8 1395.6,1064.6 1396.1,1064.8 1396.7,1066.4 1397.2,1062.9 1397.7,1064.8 1398.2,1064.5 1398.7,1067.3 1399.3,1069.1 1399.8,1065.7 1400.3,1063.3 1400.8,1066.2 1401.3,1065.5 1401.9,1065.7 1402.4,1063.9 1402.9,1066.4 1403.4,1064.6 1403.9,1064.6 1404.5,1062.6 1405.0,1065.3 1405.5,1062.3 1406.0,1065.0 1406.5,1064.7 1407.0,1066.5 1407.6,1066.2 1408.1,1064.3 1408.6,1065.3 1409.1,1065.2 1409.6,1066.8 1410.2,1061.5 1410.7,1066.9 1411.2,1061.9 1411.7,1060.3 1412.2,1064.3 1412.8,1063.5 1413.3,1062.1 1413.8,1068.0 1414.3,1067.3 1414.8,1064.5 1415.4,1062.1 1415.9,1067.6 1416.4,1064.3 1416.9,1066.1 1417.4,1070.2 1418.0,1065.5 1418.5,1066.3 1419.0,1066.4 1419.5,1067.9 1420.0,1061.5 1420.6,1066.9 1421.1,1063.0 1421.6,1070.4 1422.1,1064.6 1422.6,1067.1 1423.2,1068.6 1423.7,1063.4 1424.2,1064.4 1424.7,1064.7 1425.2,1066.9 1425.8,1066.0 1426.3,1067.7 1426.8,1065.7 1427.3,1067.3 1427.8,1063.3 1428.4,1066.6 1428.9,1066.4 1429.4,1067.8 1429.9,1064.8 1430.4,1068.0 1431.0,1059.7 1431.5,1067.6 1432.0,1065.3 1432.5,1068.8 1433.0,1065.4 1433.6,1064.1 1434.1,1067.9 1434.6,1065.1 1435.1,1064.8 1435.6,1068.5 1436.2,1065.7 1436.7,1066.5 1437.2,1062.4 1437.7,1068.2 1438.2,1065.8 1438.7,1065.1 1439.3,1068.5 1439.8,1064.5 1440.3,1059.0 1440.8,1064.4 1441.3,1064.8 1441.9,1065.1 1442.4,1063.1 1442.9,1066.5 1443.4,1067.2 1443.9,1062.7 1444.5,1067.2 1445.0,1065.4 1445.5,1064.1 1446.0,1062.9 1446.5,1067.7 1447.1,1066.8 1447.6,1063.3 1448.1,1065.2 1448.6,1069.3 1449.1,1072.9 1449.7,1068.4 1450.2,1070.2 1450.7,1068.6 1451.2,1067.8 1451.7,1064.5 1452.3,1064.0 1452.8,1067.5 1453.3,1064.0 1453.8,1065.6 1454.3,1065.6 1454.9,1064.5 1455.4,1067.8 1455.9,1066.2 1456.4,1060.8 1456.9,1064.2 1457.5,1067.7 1458.0,1064.6 1458.5,1065.7 1459.0,1067.8 1459.5,1065.1 1460.1,1066.9 1460.6,1067.9 1461.1,1066.2 1461.6,1066.6 1462.1,1063.0 1462.7,1064.6 1463.2,1066.8 1463.7,1065.9 1464.2,1065.2 1464.7,1064.0 1465.3,1064.5 1465.8,1064.9 1466.3,1063.8 1466.8,1062.7 1467.3,1065.0 1467.9,1065.3 1468.4,1062.3 1468.9,1065.0 1469.4,1064.4 1469.9,1065.4 1470.5,1060.9 1471.0,1059.6 1471.5,1058.8 1472.0,1060.0 1472.5,1055.6 1473.0,1055.0 1473.6,1060.1 1474.1,1058.6 1474.6,1054.5 1475.1,1056.2 1475.6,1059.2 1476.2,1062.2 1476.7,1062.3 1477.2,1061.6 1477.7,1059.4 1478.2,1059.7 1478.8,1058.9 1479.3,1062.3 1479.8,1053.2 1480.3,1055.0 1480.8,1049.7 1481.4,1049.7 1481.9,1045.4 1482.4,1048.1 1482.9,1046.4 1483.4,1047.0 1484.0,1046.5 1484.5,1057.0 1485.0,1057.8 1485.5,1056.9 1486.0,1058.3 1486.6,1058.5 1487.1,1062.6 1487.6,1061.4 1488.1,1058.6 1488.6,1062.3 1489.2,1062.8 1489.7,1063.0 1490.2,1064.6 1490.7,1065.2 1491.2,1062.5 1491.8,1065.5 1492.3,1067.0 1492.8,1064.5 1493.3,1064.8 1493.8,1062.2 1494.4,1065.4 1494.9,1061.9 1495.4,1063.8 1495.9,1060.5 1496.4,1063.8 1497.0,1066.6 1497.5,1064.8 1498.0,1065.2 1498.5,1064.4 1499.0,1065.5 1499.6,1065.8 1500.1,1066.9 1500.6,1069.2 1501.1,1061.3 1501.6,1064.0 1502.2,1066.4 1502.7,1070.1 1503.2,1062.5 1503.7,1063.6 1504.2,1061.5 1504.7,1063.2 1505.3,1062.2 1505.8,1062.1 1506.3,1062.4 1506.8,1062.4 1507.3,1065.7 1507.9,1064.4 1508.4,1063.4 1508.9,1062.4 1509.4,1060.0 1509.9,1061.9 1510.5,1067.7 1511.0,1061.1 1511.5,1061.7 1512.0,1062.8 1512.5,1060.6 1513.1,1063.9 1513.6,1068.5 1514.1,1063.0 1514.6,1062.1 1515.1,1065.1 1515.7,1064.3 1516.2,1061.6 1516.7,1069.8 1517.2,1063.3 1517.7,1063.6 1518.3,1064.8 1518.8,1062.9 1519.3,1062.6 1519.8,1064.6 1520.3,1064.1 1520.9,1065.5 1521.4,1063.4 1521.9,1057.0 1522.4,1065.9 1522.9,1063.9 1523.5,1059.9 1524.0,1067.4 1524.5,1068.4 1525.0,1065.5 1525.5,1062.4 1526.1,1062.1 1526.6,1061.5 1527.1,1067.8 1527.6,1066.5 1528.1,1061.9 1528.7,1064.2 1529.2,1067.4 1529.7,1063.0 1530.2,1063.6 1530.7,1063.1 1531.3,1067.7 1531.8,1066.6 1532.3,1066.5 1532.8,1063.5 1533.3,1066.3 1533.9,1064.9 1534.4,1065.5 1534.9,1066.5 1535.4,1064.9 1535.9,1062.0 1536.4,1060.9 1537.0,1062.4 1537.5,1062.8 1538.0,1062.1 1538.5,1066.5 1539.0,1062.3 1539.6,1057.9 1540.1,1064.5 1540.6,1061.8 1541.1,1061.7 1541.6,1062.8 1542.2,1063.1 1542.7,1064.6 1543.2,1060.6 1543.7,1064.9 1544.2,1058.2 1544.8,1066.7 1545.3,1061.9 1545.8,1065.0 1546.3,1065.0 1546.8,1061.2 1547.4,1061.3 1547.9,1057.7 1548.4,1059.9 1548.9,1057.0 1549.4,1062.3 1550.0,1063.1 1550.5,1062.6 1551.0,1060.5 1551.5,1061.1 1552.0,1060.8 1552.6,1054.3 1553.1,1058.2 1553.6,1058.0 1554.1,1060.6 1554.6,1054.5 1555.2,1054.4 1555.7,1048.2 1556.2,1051.4 1556.7,1052.5 1557.2,1049.9 1557.8,1045.6 1558.3,1041.5 1558.8,1039.2 1559.3,1038.2 1559.8,1033.5 1560.4,1028.6 1560.9,1019.7 1561.4,1011.0 1561.9,1005.6 1562.4,1004.6 1563.0,1007.0 1563.5,1014.3 1564.0,1024.5 1564.5,1026.3 1565.0,1032.2 1565.6,1038.3 1566.1,1044.2 1566.6,1043.8 1567.1,1047.7 1567.6,1050.2 1568.2,1051.0 1568.7,1054.2 1569.2,1054.9 1569.7,1055.6 1570.2,1057.0 1570.7,1059.9 1571.3,1060.4 1571.8,1057.6 1572.3,1057.9 1572.8,1057.5 1573.3,1054.0 1573.9,1061.7 1574.4,1060.7 1574.9,1056.9 1575.4,1060.0 1575.9,1061.5 1576.5,1057.5 1577.0,1061.5 1577.5,1063.4 1578.0,1064.3 1578.5,1059.8 1579.1,1060.0 1579.6,1061.6 1580.1,1063.2 1580.6,1062.4 1581.1,1061.7 1581.7,1061.8 1582.2,1065.0 1582.7,1060.2 1583.2,1062.0 1583.7,1068.6 1584.3,1063.3 1584.8,1060.2 1585.3,1063.5 1585.8,1063.9 1586.3,1067.1 1586.9,1063.4 1587.4,1061.5 1587.9,1060.0 1588.4,1065.7 1588.9,1062.0 1589.5,1062.6 1590.0,1060.4 1590.5,1060.7 1591.0,1064.6 1591.5,1063.7 1592.1,1061.5 1592.6,1062.7 1593.1,1061.6 1593.6,1061.6 1594.1,1066.9 1594.7,1064.8 1595.2,1064.2 1595.7,1063.6 1596.2,1060.7 1596.7,1064.3 1597.3,1066.9 1597.8,1066.5 1598.3,1060.0 1598.8,1067.7 1599.3,1065.1 1599.9,1066.0 1600.4,1068.2 1600.9,1064.3 1601.4,1060.5 1601.9,1065.4 1602.4,1062.3 1603.0,1064.6 1603.5,1062.2 1604.0,1064.7 1604.5,1064.4 1605.0,1062.4 1605.6,1067.3 1606.1,1063.0 1606.6,1064.6 1607.1,1063.3 1607.6,1064.1 1608.2,1063.5 1608.7,1062.8 1609.2,1064.2 1609.7,1063.2 1610.2,1062.8 1610.8,1067.9 1611.3,1068.5 1611.8,1066.1 1612.3,1059.9 1612.8,1064.7 1613.4,1062.7 1613.9,1063.7 1614.4,1062.4 1614.9,1058.9 1615.4,1062.6 1616.0,1060.8 1616.5,1064.1 1617.0,1066.5 1617.5,1061.3 1618.0,1065.3 1618.6,1065.0 1619.1,1066.2 1619.6,1067.1 1620.1,1061.9 1620.6,1063.1 1621.2,1059.6 1621.7,1061.5 1622.2,1059.8 1622.7,1064.1 1623.2,1060.9 1623.8,1059.5 1624.3,1058.6 1624.8,1064.9 1625.3,1059.8 1625.8,1057.5 1626.4,1059.7 1626.9,1060.2 1627.4,1061.7 1627.9,1060.3 1628.4,1058.5 1629.0,1061.8 1629.5,1059.6 1630.0,1054.8 1630.5,1058.9 1631.0,1058.7 1631.6,1055.8 1632.1,1059.9 1632.6,1058.2 1633.1,1057.1 1633.6,1060.1 1634.1,1054.6 1634.7,1052.8 1635.2,1050.3 1635.7,1048.1 1636.2,1049.5 1636.7,1051.0 1637.3,1050.2 1637.8,1042.5 1638.3,1042.3 1638.8,1041.1 1639.3,1038.7 1639.9,1033.6 1640.4,1035.8 1640.9,1035.4 1641.4,1038.3 1641.9,1033.4 1642.5,1040.3 1643.0,1038.2 1643.5,1041.1 1644.0,1044.1 1644.5,1044.7 1645.1,1045.5 1645.6,1043.9 1646.1,1044.1 1646.6,1044.5 1647.1,1043.7 1647.7,1039.0 1648.2,1038.5 1648.7,1041.2 1649.2,1045.2 1649.7,1042.7 1650.3,1042.9 1650.8,1048.3 1651.3,1045.9 1651.8,1046.3 1652.3,1052.1 1652.9,1056.0 1653.4,1054.6 1653.9,1059.4 1654.4,1056.7 1654.9,1057.9 1655.5,1058.2 1656.0,1059.2 1656.5,1059.2 1657.0,1062.5 1657.5,1058.7 1658.1,1060.9 1658.6,1060.3 1659.1,1061.8 1659.6,1057.8 1660.1,1061.1 1660.7,1061.9 1661.2,1059.6 1661.7,1059.4 1662.2,1062.2 1662.7,1060.9 1663.3,1058.8 1663.8,1057.1 1664.3,1063.6 1664.8,1062.3 1665.3,1064.5 1665.9,1062.4 1666.4,1064.7 1666.9,1064.5 1667.4,1064.4 1667.9,1067.3 1668.4,1064.8 1669.0,1066.2 1669.5,1062.9 1670.0,1058.8 1670.5,1059.8 1671.0,1063.8 1671.6,1063.9 1672.1,1059.7 1672.6,1062.2 1673.1,1065.2 1673.6,1062.8 1674.2,1061.4 1674.7,1064.6 1675.2,1069.0 1675.7,1064.4 1676.2,1062.8 1676.8,1065.9 1677.3,1062.8 1677.8,1062.3 1678.3,1060.6 1678.8,1062.7 1679.4,1063.6 1679.9,1064.5 1680.4,1065.7 1680.9,1064.5 1681.4,1066.6 1682.0,1062.8 1682.5,1066.3 1683.0,1066.1 1683.5,1065.3 1684.0,1066.9 1684.6,1061.8 1685.1,1062.4 1685.6,1066.3 1686.1,1070.7 1686.6,1067.8 1687.2,1062.9 1687.7,1063.2 1688.2,1065.2 1688.7,1065.0 1689.2,1057.7 1689.8,1068.8 1690.3,1063.5 1690.8,1070.3 1691.3,1062.9 1691.8,1068.0 1692.4,1061.8 1692.9,1065.4 1693.4,1062.7 1693.9,1062.9 1694.4,1061.3 1695.0,1061.3 1695.5,1063.0 1696.0,1068.9 1696.5,1066.0 1697.0,1062.8 1697.6,1066.5 1698.1,1064.9 1698.6,1063.5 1699.1,1065.5 1699.6,1066.5 1700.1,1068.1 1700.7,1069.4 1701.2,1065.5 1701.7,1063.0 1702.2,1067.5 1702.7,1067.6 1703.3,1063.8 1703.8,1063.5 1704.3,1070.1 1704.8,1068.1 1705.3,1066.3 1705.9,1063.9 1706.4,1064.3 1706.9,1067.2 1707.4,1062.5 1707.9,1064.9 1708.5,1068.3 1709.0,1067.8 1709.5,1069.0 1710.0,1065.0 1710.5,1068.0 1711.1,1068.2 1711.6,1064.6 1712.1,1065.6 1712.6,1068.7 1713.1,1066.9 1713.7,1064.3 1714.2,1066.3 1714.7,1066.9"/>
<line x1="1483.0" y1="803.0" x2="1483.0" y2="1075.2" stroke="#000" stroke-width="2.3" stroke-dasharray="5 5.3"/>
<line x1="1564.1" y1="766.0" x2="1564.1" y2="1075.2" stroke="#000" stroke-width="2.3" stroke-dasharray="5 5.3"/>
<line x1="1644.7" y1="803.0" x2="1644.7" y2="1075.2" stroke="#000" stroke-width="2.3" stroke-dasharray="5 5.3"/>
<text transform="translate(1343.5,909.2) rotate(-90) scale(1.030,1)" font-size="23.5" fill="#000" text-anchor="middle" stroke="#000" stroke-width="0.35">Intensity</text>
<polygon points="1466.1,767.5 1473.3,772.0 1473.3,781.0 1466.1,785.5 1458.9,781.0 1458.9,772.0" fill="none" stroke="#1a1a1a" stroke-width="1.3"/>
<line x1="1466.7" y1="770.4" x2="1470.7" y2="772.9" stroke="#334" stroke-width="1.0"/>
<line x1="1470.7" y1="780.1" x2="1466.7" y2="782.6" stroke="#334" stroke-width="1.0"/>
<line x1="1460.9" y1="779.0" x2="1460.9" y2="774.0" stroke="#334" stroke-width="1.0"/>
<text transform="translate(1494.4,779.1) rotate(-90) scale(1.030,1)" font-size="17.3" fill="#000" text-anchor="middle" stroke="#000" stroke-width="0.25">1083</text>
<text transform="translate(1557.1,768.7) rotate(-90) scale(1.030,1)" font-size="17.3" fill="#000" text-anchor="middle" stroke="#000" stroke-width="0.25">1339</text>
<text transform="translate(1582.8,766.9) rotate(-90) scale(1.030,1)" font-size="16.6" fill="#000" text-anchor="middle" stroke="#000" stroke-width="0.25">NO<tspan font-size="10.5">2</tspan></text>
<text transform="translate(1650.4,779.1) rotate(-90) scale(1.030,1)" font-size="17.3" fill="#000" text-anchor="middle" stroke="#000" stroke-width="0.25">1576</text>
<polygon points="1660.1,767.5 1667.3,772.0 1667.3,781.0 1660.1,785.5 1652.9,781.0 1652.9,772.0" fill="none" stroke="#1a1a1a" stroke-width="1.3"/>
<line x1="1660.7" y1="770.4" x2="1664.7" y2="772.9" stroke="#334" stroke-width="1.0"/>
<line x1="1664.7" y1="780.1" x2="1660.7" y2="782.6" stroke="#334" stroke-width="1.0"/>
<line x1="1654.9" y1="779.0" x2="1654.9" y2="774.0" stroke="#334" stroke-width="1.0"/>
</svg>
</body></html>
